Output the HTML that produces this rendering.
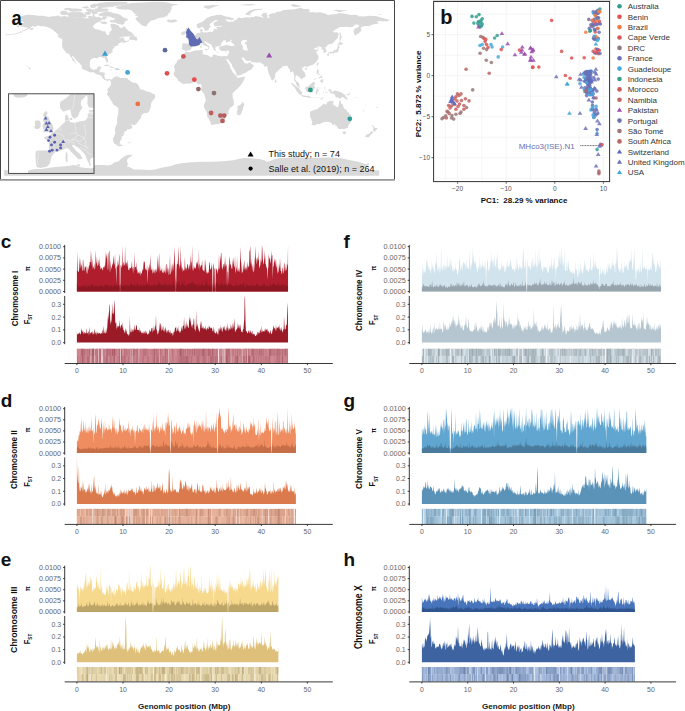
<!DOCTYPE html><html><head><meta charset="utf-8"><style>html,body{margin:0;padding:0;background:#fff;width:685px;height:711px;overflow:hidden}svg{display:block;font-family:"Liberation Sans",sans-serif}</style></head><body>
<svg width="685" height="711" viewBox="0 0 685 711">
<rect width="685" height="711" fill="#fff"/>
<clipPath id="mapclip"><rect x="1" y="1" width="393" height="178.5"/></clipPath>
<g clip-path="url(#mapclip)">
<path d="M16.4 20.4L18.1 19.8L20.2 19.4L21.2 19.9L23.1 19.5L21.0 18.9L19.1 17.9L18.0 17.6L20.2 17.0L21.8 16.2L22.9 15.5L25.9 15.0L28.2 14.5L30.6 14.9L32.9 14.9L35.0 15.3L37.9 15.7L40.5 15.8L42.6 15.8L44.7 16.3L46.8 16.4L48.8 17.0L50.9 16.5L52.5 16.3L54.1 16.2L56.7 15.9L58.2 15.3L59.8 16.4L61.9 16.5L64.0 16.1L66.6 16.5L69.2 16.9L71.8 17.1L73.9 17.6L77.0 17.9L79.1 17.3L81.1 17.0L83.2 17.9L85.8 18.2L89.0 18.2L91.0 17.8L92.1 16.9L93.1 13.9L94.7 14.5L94.2 16.4L95.7 16.4L97.3 17.4L98.9 16.6L100.1 17.6L102.0 18.2L103.0 16.2L105.6 16.3L106.9 17.1L106.2 18.5L104.6 19.7L102.0 19.5L100.4 21.6L97.8 22.2L95.2 23.7L93.7 25.2L92.8 26.8L93.4 27.6L95.2 29.2L97.3 29.4L99.9 30.1L102.5 31.2L105.8 31.4L105.9 33.6L106.7 34.4L107.7 35.2L109.0 35.0L109.5 34.1L109.3 32.3L110.8 31.0L111.7 29.9L111.8 28.6L110.8 27.3L110.8 25.8L110.3 24.2L112.4 23.7L115.0 24.0L117.1 25.0L118.7 25.2L119.2 26.8L119.7 27.5L121.3 28.1L122.8 27.5L124.2 26.0L124.9 26.8L126.0 28.4L127.2 29.6L128.0 30.4L129.1 31.3L131.2 32.0L132.2 32.9L133.6 34.5L132.2 35.1L130.1 36.4L126.0 36.5L122.3 36.7L120.7 37.4L119.2 38.8L117.6 39.9L118.7 39.3L120.7 38.2L122.8 37.6L124.4 37.7L124.6 38.4L123.6 38.9L124.1 39.8L124.9 40.7L127.0 41.1L128.6 40.0L129.1 40.9L128.0 41.6L125.4 42.3L123.1 43.4L122.6 42.4L124.4 41.6L122.0 42.1L120.7 42.5L119.2 43.2L118.5 43.4L117.9 44.3L118.7 45.3L117.6 45.6L116.1 45.9L114.5 46.5L114.5 47.5L113.6 48.3L112.9 48.8L112.5 49.8L112.1 50.2L112.8 51.5L112.9 52.1L111.9 52.6L110.5 53.4L109.3 54.1L107.7 55.1L106.9 56.3L106.8 57.5L107.6 59.1L108.2 60.9L107.8 62.5L107.1 62.6L106.5 61.7L105.4 60.1L105.3 58.8L104.4 57.6L103.0 57.9L101.5 57.1L99.9 57.0L98.3 57.3L98.4 58.6L97.3 58.5L95.7 58.0L93.9 57.9L92.6 58.4L91.0 59.3L90.2 60.7L90.1 62.2L89.8 63.8L89.7 65.4L90.2 66.9L91.0 68.5L92.1 69.3L93.1 69.8L94.7 69.5L96.3 69.4L97.1 68.5L97.4 67.1L98.3 66.6L100.8 66.4L101.2 67.4L100.4 69.0L99.7 70.0L99.6 71.8L100.4 72.3L102.0 72.2L104.1 72.6L104.9 73.2L104.6 74.7L104.4 76.8L104.6 77.5L105.6 78.9L106.7 79.6L108.2 79.1L109.8 79.0L110.9 79.7L110.4 81.3L109.9 80.4L108.8 79.5L108.3 81.0L107.7 81.2L106.7 80.5L105.2 80.3L104.4 79.8L103.0 78.6L102.2 78.2L102.3 77.2L100.9 75.8L100.3 75.3L98.9 74.8L96.4 74.3L94.7 73.0L93.1 71.9L91.0 72.4L89.0 71.8L86.9 70.9L85.3 70.1L83.8 69.7L82.4 68.7L81.6 67.5L81.9 66.4L81.4 65.3L80.2 64.0L79.1 62.8L77.6 61.4L76.5 59.9L75.4 59.1L74.6 58.1L73.6 56.5L72.0 55.7L72.2 57.0L73.2 58.6L74.1 59.6L74.7 61.2L76.1 63.3L77.1 64.8L76.7 64.2L75.4 63.3L74.8 62.2L73.6 61.0L72.5 60.4L71.9 59.6L72.6 58.9L71.2 57.5L70.4 56.5L69.6 54.9L69.2 54.0L68.1 53.4L65.9 52.9L65.7 51.8L64.6 50.7L64.0 49.7L63.4 49.2L62.6 47.6L62.0 46.7L62.3 45.0L61.9 43.5L62.4 40.9L62.2 39.3L61.7 38.4L63.4 38.5L62.9 37.2L61.3 36.7L59.3 35.9L58.2 34.6L56.7 33.6L55.6 32.0L54.1 31.0L52.5 29.4L50.4 28.2L48.8 27.8L47.3 27.1L45.2 26.6L43.1 26.3L41.0 26.2L38.9 25.4L37.4 25.7L35.8 26.5L33.5 27.1L33.7 25.8L32.7 26.1L31.1 27.0L30.1 28.2L28.5 29.0L26.4 30.1L24.4 30.9L22.3 31.5L20.2 32.0L21.8 31.3L23.3 30.6L25.9 29.2L27.5 28.2L28.0 27.6L26.4 27.5L24.4 27.6L22.8 26.5L21.2 26.4L19.7 25.8L19.5 24.9L18.6 24.4L19.7 23.4L20.2 22.9L23.8 22.6L24.0 21.9L22.3 21.6L20.2 21.6L18.1 21.5ZM115.5 7.0L118.7 6.0L122.8 4.9L127.0 3.7L132.2 3.1L137.4 2.8L143.7 2.5L149.9 2.0L157.2 1.7L163.5 2.0L168.7 2.8L170.8 3.6L174.9 3.9L178.6 3.9L176.0 4.9L173.4 5.4L171.8 6.5L171.3 8.0L172.3 8.8L170.2 9.6L171.8 10.6L169.7 11.2L170.8 12.2L168.2 13.3L168.7 14.5L166.6 15.3L168.2 15.9L165.5 16.6L162.9 17.4L160.3 17.8L157.7 18.2L155.7 19.5L153.6 20.1L151.5 20.5L149.9 21.5L149.2 22.6L147.8 23.7L147.0 25.2L145.9 26.5L144.2 26.1L142.6 25.4L141.1 24.7L140.0 23.7L139.0 22.6L137.8 21.9L136.9 20.5L135.9 19.5L135.5 18.5L136.4 17.6L138.5 17.1L138.2 16.4L135.9 15.9L134.8 15.1L137.4 14.6L134.3 13.8L133.8 12.7L132.7 11.7L131.2 10.3L128.6 9.6L125.4 9.4L121.8 9.6L119.7 9.2L117.1 8.4L115.5 7.5ZM110.9 79.7L112.4 79.0L112.9 77.9L114.0 77.3L115.5 76.8L116.6 76.0L117.3 76.3L117.5 77.3L118.7 76.7L120.2 77.9L122.8 77.8L124.4 78.2L126.5 77.8L127.5 78.5L128.6 79.9L130.1 80.5L131.2 81.7L133.2 82.7L135.3 82.8L136.9 83.6L137.9 84.4L138.5 85.7L139.5 87.0L139.5 88.3L140.0 88.8L141.1 89.8L142.6 89.5L145.2 90.7L147.8 91.7L150.4 91.9L152.5 93.7L154.6 94.2L155.3 96.6L154.9 98.2L153.0 100.3L151.5 102.3L151.0 104.4L150.8 107.0L150.1 109.1L149.1 111.2L147.8 112.7L145.2 113.1L143.1 113.8L141.1 115.9L141.0 118.0L139.7 119.5L138.5 121.1L136.9 123.2L135.9 124.2L134.4 125.2L132.7 125.1L130.7 124.3L131.7 125.8L132.5 126.7L131.6 128.6L129.6 129.2L127.0 129.4L126.7 131.0L124.4 131.5L123.9 132.6L125.1 133.1L123.9 133.6L123.3 135.7L121.3 136.7L121.8 138.8L120.2 140.9L119.7 142.5L120.3 143.3L118.7 143.7L117.1 144.9L115.0 144.0L113.8 143.0L112.9 139.9L112.9 137.8L114.0 137.3L114.5 135.2L115.5 132.6L114.8 130.5L115.0 127.9L116.1 125.8L117.1 123.2L117.1 120.1L117.3 116.9L118.1 114.8L118.3 111.7L118.3 108.1L117.1 107.0L115.5 105.9L112.9 103.9L111.9 101.8L110.3 99.2L108.8 96.6L107.2 95.1L106.9 93.5L107.9 92.3L108.2 91.4L107.2 89.8L108.2 88.3L109.3 87.2L109.8 86.2L110.8 85.2L111.1 83.1L110.8 81.5L110.4 81.3ZM185.5 51.5L189.5 52.2L191.6 51.5L194.7 50.5L199.4 50.2L202.0 49.9L203.1 50.4L202.5 51.3L203.1 52.1L202.1 53.1L203.3 54.2L204.6 54.6L207.4 55.1L209.8 56.5L211.4 57.2L212.4 56.5L212.5 55.2L214.0 54.5L216.1 54.9L217.7 55.7L219.7 56.1L221.8 56.6L223.9 56.0L225.3 56.2L227.2 56.2L228.0 58.1L227.3 59.8L226.0 59.1L225.5 57.6L225.7 59.1L227.0 61.0L228.6 63.8L230.0 65.9L230.5 68.5L231.7 70.0L232.8 72.6L234.3 73.7L235.9 75.5L236.7 76.0L236.4 76.8L238.0 78.0L240.1 77.5L242.7 77.0L245.0 76.4L244.7 78.0L244.2 79.4L243.2 81.5L241.6 84.1L239.5 86.7L236.9 89.3L234.8 90.9L233.3 92.4L232.4 94.0L232.6 96.1L232.8 98.2L233.6 99.7L233.8 101.8L233.9 104.4L232.8 106.0L230.7 107.3L228.6 110.2L228.4 112.2L228.6 113.8L226.0 115.4L225.8 116.9L225.3 118.8L223.9 120.1L222.9 121.4L220.8 123.2L218.7 124.0L217.1 124.3L215.0 124.2L212.4 125.1L210.9 124.5L210.7 123.2L210.1 121.6L208.8 118.6L207.4 116.9L206.7 112.8L206.5 111.7L205.1 109.6L203.9 107.0L203.9 105.0L204.6 102.9L205.9 100.8L205.4 98.2L204.4 95.1L204.1 94.0L203.1 92.4L201.5 90.9L201.0 89.3L201.5 87.8L201.8 85.7L200.8 84.1L198.9 84.2L197.9 84.3L196.8 83.1L196.3 82.2L194.2 82.2L192.6 82.7L190.6 83.6L189.0 83.8L187.4 83.4L185.9 83.6L183.8 84.2L182.2 83.6L180.1 82.0L178.6 81.0L177.8 79.9L177.5 78.9L176.3 77.7L175.4 76.8L174.2 75.8L174.1 74.7L173.4 73.5L174.4 72.1L174.7 70.0L174.6 68.5L173.9 66.9L174.4 65.4L175.1 64.0L176.5 62.8L177.0 61.2L178.1 59.8L180.1 59.1L181.4 58.1L181.5 56.5L182.7 54.4L184.5 53.4ZM185.8 51.3L185.0 50.5L183.8 50.0L182.3 50.2L182.4 48.7L181.7 48.4L182.3 46.6L182.4 45.0L181.9 44.0L183.3 43.3L185.9 43.5L188.5 43.6L190.0 43.6L190.3 42.4L190.3 40.9L189.3 39.7L186.9 38.9L186.7 38.3L188.5 38.0L190.0 38.1L190.1 37.0L191.8 37.2L193.2 36.5L194.2 35.6L195.6 35.0L196.3 34.1L196.8 33.3L198.9 32.9L200.5 32.7L200.7 31.5L200.0 29.9L200.6 29.3L202.5 28.8L202.3 29.9L202.9 30.4L202.0 31.5L203.1 32.5L205.1 32.2L206.7 32.6L208.8 32.0L210.9 31.7L211.9 32.1L213.5 31.0L213.7 29.9L214.0 28.9L215.0 28.7L216.1 29.4L216.9 29.1L216.9 28.1L216.1 27.6L216.1 27.0L218.2 26.7L220.8 26.8L222.3 26.3L221.3 25.8L219.2 25.9L215.6 26.3L214.0 25.6L213.9 24.2L213.5 23.2L215.0 22.1L217.1 21.2L218.2 20.8L216.8 20.2L215.0 20.2L214.0 20.8L213.5 21.6L211.9 22.6L210.4 23.4L209.6 24.7L209.5 25.8L211.2 26.3L210.9 27.0L209.1 27.8L208.8 29.1L208.3 30.2L206.7 30.4L205.1 31.1L204.6 29.9L203.9 28.7L203.3 27.4L202.5 26.8L201.5 27.3L199.9 28.3L198.4 28.3L197.4 27.5L196.8 26.3L196.8 25.2L196.8 24.2L198.4 23.5L200.5 22.6L202.0 22.1L203.6 21.1L204.6 20.0L206.2 18.5L207.8 17.4L209.3 16.9L211.4 16.0L214.0 15.7L216.1 15.1L218.5 14.7L220.8 14.8L222.9 15.5L223.9 16.1L226.0 16.5L229.1 16.9L232.2 17.9L234.3 18.7L233.3 19.8L231.2 20.0L227.9 19.5L226.0 19.2L225.5 19.8L227.5 21.6L229.6 22.1L230.7 21.6L232.8 21.6L233.8 21.4L234.8 20.0L237.4 19.5L237.4 17.9L239.5 17.6L241.6 18.3L244.7 17.6L247.3 17.2L249.4 17.5L252.0 17.1L254.1 16.9L255.2 16.1L258.3 16.6L260.9 17.1L263.0 17.7L263.5 16.9L261.4 15.9L261.4 14.8L263.5 12.9L265.1 12.7L267.1 13.3L266.6 14.8L267.5 15.3L267.1 16.9L268.7 18.2L269.8 17.4L269.0 16.4L268.2 15.3L269.2 14.8L270.3 13.8L272.4 13.3L275.5 13.3L275.5 12.2L278.1 11.7L281.7 11.2L282.3 10.3L285.4 10.0L288.5 9.6L292.7 9.6L295.8 9.1L297.9 8.4L300.5 7.8L302.1 8.3L303.6 9.1L307.3 8.9L309.9 9.8L309.3 11.7L308.3 12.0L309.9 12.3L312.5 12.1L315.6 12.6L320.3 12.2L323.4 13.3L325.5 13.5L326.5 14.6L328.6 15.0L330.7 14.4L333.3 14.2L336.4 14.3L337.5 13.3L341.1 13.2L343.7 13.5L347.9 14.3L350.5 14.9L354.2 14.8L357.3 15.0L358.8 16.4L361.4 16.2L364.6 16.4L367.2 15.9L369.3 15.8L371.9 16.1L375.0 16.1L377.6 16.6L379.7 17.0L382.3 17.9L385.4 18.7L387.5 19.2L389.9 20.0L388.5 20.8L386.5 21.6L384.9 21.2L382.8 21.6L381.2 20.8L379.7 21.1L378.1 21.6L376.6 21.4L377.6 22.6L378.4 23.9L376.0 23.7L372.9 24.4L370.8 25.2L369.1 26.3L365.1 26.0L362.5 26.5L361.4 27.3L360.4 28.4L361.4 28.9L361.4 30.2L360.4 31.7L358.3 33.6L356.8 34.6L354.9 35.7L354.2 34.1L353.6 31.5L353.9 29.4L355.2 28.6L357.3 27.8L359.4 26.3L358.3 24.7L355.2 24.5L352.6 26.8L350.0 27.3L346.9 26.7L343.7 26.9L340.6 27.0L338.5 27.8L336.4 28.9L334.9 29.9L332.8 31.5L334.4 32.5L337.0 32.3L338.8 33.4L338.5 34.6L338.0 36.7L337.8 38.3L335.9 39.8L334.4 41.4L332.3 43.5L330.2 44.3L328.1 44.4L326.7 46.1L326.5 47.1L324.5 47.6L325.5 48.7L326.4 50.2L326.4 51.8L325.5 52.3L323.4 53.0L323.2 51.8L323.7 50.4L323.1 49.5L321.9 49.4L321.5 48.7L322.1 47.6L321.1 47.2L319.2 46.6L318.2 46.1L317.7 46.8L319.0 48.2L317.9 48.4L316.8 47.1L315.6 48.0L314.6 48.0L314.2 48.7L315.1 49.7L316.1 50.0L317.5 49.4L319.2 49.9L317.7 50.8L316.6 51.6L315.9 52.3L317.0 53.2L317.6 54.9L318.6 56.0L318.2 56.7L318.7 57.5L318.2 59.1L317.2 60.4L316.3 61.7L315.6 62.8L314.0 64.1L312.5 65.0L310.6 65.6L309.3 65.9L307.8 66.4L306.7 67.6L306.0 66.4L304.7 66.3L303.6 66.9L302.8 67.4L301.8 69.0L302.6 70.0L303.6 71.6L305.0 73.0L305.5 75.3L305.4 76.8L304.1 77.5L302.6 78.2L301.0 79.8L300.8 78.6L300.5 77.9L298.9 77.3L298.4 76.1L296.8 75.6L295.8 74.8L295.8 76.3L295.3 77.9L295.0 79.2L296.1 80.3L296.3 81.5L297.4 81.7L298.4 82.5L299.3 84.1L299.4 86.2L300.3 87.3L299.4 87.4L298.4 86.7L297.2 85.9L296.3 84.6L296.1 83.1L295.5 82.0L294.2 80.5L294.0 78.9L294.3 77.3L294.2 75.8L293.7 73.7L293.2 71.6L292.2 71.4L291.1 72.3L289.9 72.1L290.1 70.6L289.5 69.0L288.5 68.0L287.8 67.2L287.5 65.9L286.9 65.4L285.9 65.9L284.3 66.1L282.3 66.4L282.0 67.4L280.2 68.7L279.1 69.8L277.4 71.5L276.0 72.6L275.2 74.4L275.3 76.3L274.8 78.1L273.9 79.2L272.9 79.9L272.4 80.4L271.3 79.4L270.8 77.9L270.3 76.5L269.5 75.3L268.7 73.2L268.1 71.6L267.5 69.0L267.5 66.9L267.1 65.7L265.1 67.1L263.5 65.4L264.5 65.0L263.0 64.3L261.9 63.8L260.9 62.4L258.8 62.5L255.7 62.6L253.6 62.2L251.3 61.9L250.8 60.6L250.0 60.7L248.4 61.1L246.8 60.7L245.3 59.7L244.2 58.4L243.2 57.5L242.1 57.5L241.6 58.1L242.1 59.1L243.2 60.7L243.9 61.5L244.2 62.8L245.1 63.5L245.4 62.1L245.7 63.8L246.3 63.6L247.9 63.6L249.4 62.2L250.3 61.5L250.4 62.9L251.2 63.9L252.6 64.2L253.9 65.4L253.5 66.5L252.6 67.4L251.8 69.0L250.5 70.0L249.1 70.6L247.3 71.5L246.0 72.5L244.2 73.2L242.3 74.2L240.6 74.9L238.5 75.5L236.9 75.6L236.2 73.7L236.1 72.4L235.2 71.1L234.1 69.0L232.8 67.4L232.2 65.9L231.7 64.3L230.7 63.0L229.6 61.7L228.6 60.1L227.9 59.1L228.0 58.1L227.2 56.2L228.1 54.6L228.6 53.4L229.1 51.8L228.9 50.6L227.5 50.5L225.5 51.2L223.4 51.0L220.8 50.7L220.0 49.7L219.2 48.7L219.2 47.6L218.9 46.9L220.3 46.6L221.8 45.9L220.8 45.6L218.7 46.3L217.7 46.2L216.3 46.8L215.4 46.6L215.6 47.8L215.0 48.9L216.1 49.2L215.7 49.9L215.0 50.9L214.2 50.5L213.6 49.2L213.2 48.2L212.3 47.1L211.8 46.1L211.9 45.0L210.9 44.5L209.3 43.8L208.1 43.0L206.2 41.9L205.8 41.4L204.4 41.5L204.4 42.3L205.7 43.4L206.7 44.7L208.3 45.6L209.8 46.4L210.9 47.0L210.7 47.3L209.3 46.6L208.8 47.6L209.4 48.3L208.9 49.2L208.0 49.2L208.4 48.2L207.9 47.1L207.0 46.5L206.2 46.3L204.6 45.6L203.1 44.5L202.5 43.5L201.0 42.6L199.4 43.2L197.9 43.9L196.3 43.5L194.9 43.8L194.8 45.0L193.7 45.8L192.3 46.4L191.6 47.6L191.3 48.7L190.8 49.6L189.5 50.6L186.9 50.6ZM4.0 170.1L14.5 170.4L24.9 170.6L27.0 169.6L35.3 168.5L40.5 167.5L45.7 166.9L50.9 166.4L56.1 166.2L61.3 165.9L66.6 165.9L71.8 166.4L77.0 166.4L82.2 166.7L87.4 165.7L92.6 165.4L97.8 164.9L103.0 165.1L108.2 165.4L112.4 164.3L113.4 162.8L118.7 161.2L120.7 159.1L122.8 157.6L124.9 156.0L127.0 155.0L132.2 154.8L131.7 156.0L129.1 157.6L127.0 159.7L127.0 161.7L128.0 163.8L127.0 166.4L129.1 166.9L134.3 169.6L139.5 169.6L149.9 170.1L155.1 169.6L160.3 168.0L165.5 166.9L170.8 165.9L176.0 164.3L181.2 163.3L186.4 162.8L191.6 162.3L202.0 161.7L212.4 161.7L222.9 161.2L228.1 160.7L233.3 160.2L238.5 159.1L243.7 158.1L248.9 158.1L254.1 158.6L259.3 159.1L264.5 160.2L266.6 161.7L269.8 161.2L275.0 159.1L280.2 158.1L285.4 158.1L290.6 157.6L295.8 157.1L301.0 157.6L306.2 157.6L311.4 158.1L316.6 158.1L321.9 157.6L327.1 157.6L332.3 157.6L337.5 158.1L342.7 158.6L347.9 159.7L353.1 160.7L358.3 161.7L361.4 162.8L365.6 164.3L368.7 163.3L369.8 164.3L366.7 165.9L363.5 168.0L363.5 170.1L368.7 170.3L379.2 170.6L379.2 175.8L4.0 175.8ZM103.1 66.0L105.1 64.9L107.2 64.6L108.8 65.3L110.8 66.2L112.7 66.9L114.3 67.6L112.9 68.1L110.8 68.1L110.8 67.2L109.3 66.3L106.7 65.9L105.1 65.9L103.6 66.1ZM114.0 69.6L115.7 68.1L117.6 68.1L119.2 68.7L120.4 69.4L119.2 69.7L117.1 70.4L116.1 69.8L114.2 69.8ZM110.0 69.6L112.2 70.0L111.6 70.4L110.1 69.9ZM121.6 69.5L123.2 69.6L123.2 70.0L121.6 70.0ZM110.1 62.5L110.7 63.2L110.5 63.8L109.9 63.3ZM110.5 60.8L111.4 61.1L110.9 61.5L110.3 61.2ZM120.1 143.6L118.7 144.2L116.6 145.1L117.6 145.9L120.2 146.3L122.3 146.1L123.7 145.8L121.3 145.1ZM127.7 142.4L130.1 142.4L131.5 142.6L130.4 143.3L128.6 143.2ZM243.0 101.3L243.9 103.9L244.2 105.0L243.5 106.5L242.7 109.6L241.6 112.2L240.8 114.6L239.0 115.4L237.4 114.8L236.7 111.7L237.8 109.6L237.4 107.0L238.0 105.7L240.1 105.0L241.1 103.9L242.1 102.9ZM185.7 36.6L188.0 36.4L190.6 36.0L193.1 35.4L193.4 33.9L191.9 33.2L191.4 32.3L190.0 31.3L189.5 30.6L188.5 30.4L189.0 29.9L189.7 28.8L188.0 28.7L187.4 27.7L186.4 27.7L185.8 28.9L185.3 29.9L185.9 31.0L186.6 31.7L188.2 31.6L188.1 32.3L188.5 33.2L186.9 33.2L187.2 33.8L186.6 34.6L186.1 34.9L187.2 35.2L188.5 35.1L187.2 35.4ZM185.3 34.4L185.1 33.3L185.3 32.5L185.9 32.0L185.0 31.3L184.0 31.2L182.7 31.7L182.6 32.3L181.2 32.3L181.3 33.1L182.0 34.0L180.9 34.7L181.7 35.1L183.3 34.8L185.0 34.4ZM168.7 22.2L166.6 21.3L168.7 20.9L166.3 20.4L168.2 19.6L170.8 19.9L172.8 19.8L174.9 19.5L176.5 20.0L177.4 21.0L176.1 21.8L173.9 22.3L171.8 22.7L169.7 22.3ZM203.1 7.0L205.7 5.6L209.3 5.4L212.4 4.9L215.6 5.2L219.7 5.3L216.6 6.2L213.5 7.0L211.4 8.0L208.8 9.0L206.7 8.4L204.6 7.5ZM245.3 14.3L246.8 12.7L248.9 11.2L251.0 10.1L254.1 9.3L257.8 9.0L263.0 8.6L260.9 9.8L255.2 10.6L251.5 12.2L251.0 13.3L249.4 14.8L252.0 15.2L250.0 15.2L246.8 14.9ZM290.6 4.9L292.7 4.2L295.8 4.4L300.5 5.9L300.8 6.7L296.8 6.7L294.8 7.0L292.7 6.5ZM239.5 4.9L243.7 4.5L252.0 3.9L256.2 4.7L248.9 5.4L241.6 5.3ZM333.3 10.6L336.4 9.5L338.5 10.0L343.7 10.2L347.9 10.6L344.8 10.9L339.6 11.9L336.4 11.2ZM377.6 14.8L379.2 14.3L381.8 14.5L380.2 14.9ZM339.6 40.9L341.1 40.3L340.6 37.7L342.2 37.7L341.1 35.7L340.6 33.1L340.1 32.2L339.4 33.1L339.8 35.1L339.6 37.7L339.5 39.3ZM337.5 45.6L338.7 45.2L339.3 44.4L340.9 45.0L343.2 43.8L342.9 43.0L341.6 42.7L339.6 41.4L339.0 42.4L338.8 43.8L338.0 44.0L337.3 44.5ZM339.0 45.7L339.6 47.6L338.5 49.0L338.5 50.8L338.3 51.6L337.5 52.3L336.2 52.6L334.4 52.7L333.3 53.9L332.3 52.7L330.2 53.1L328.1 53.4L328.1 52.6L329.7 51.9L331.7 51.7L333.3 51.3L334.4 50.2L335.9 49.7L337.3 48.7L337.5 47.1L337.8 45.9ZM327.1 53.9L328.1 53.5L329.1 54.4L328.6 56.0L327.6 56.5L327.3 54.9ZM329.7 54.4L330.7 53.2L331.7 53.2L332.0 53.6L330.7 54.1L330.2 54.7ZM316.7 64.8L317.5 65.9L318.2 64.8L318.7 62.8L317.7 62.6L316.8 63.8ZM304.9 68.8L305.7 67.9L306.7 67.9L307.3 68.5L306.2 69.7L305.2 69.5ZM274.9 82.0L275.0 80.5L275.0 78.9L276.0 79.9L276.8 81.5L276.0 82.5L275.3 82.7ZM204.5 49.1L205.7 49.0L207.9 48.9L207.3 50.2L206.5 50.5L204.6 49.6ZM200.1 46.2L201.2 45.9L201.7 46.9L201.5 48.0L200.6 48.3L200.4 47.3ZM200.6 44.4L201.4 44.0L201.5 45.1L201.2 45.7L200.7 45.2ZM216.1 52.0L217.1 51.8L219.0 52.1L218.2 52.4L216.6 52.3ZM225.3 52.3L226.5 51.9L227.7 51.6L227.0 52.3L226.0 52.7ZM316.6 72.1L317.2 69.5L318.2 69.5L319.0 71.1L318.7 72.1L318.3 73.7L319.2 74.0L320.8 75.3L320.3 75.6L318.7 74.7L317.7 74.4L317.2 73.7L316.6 73.2ZM318.7 81.5L320.3 80.7L320.8 79.9L322.4 78.9L323.4 80.5L323.1 82.0L322.4 82.8L321.1 82.3L319.8 81.0ZM318.7 76.5L319.8 77.3L320.8 78.1L322.4 77.3L321.9 75.8L320.8 76.0L319.8 78.4L319.2 78.9ZM313.7 79.9L316.1 77.5L316.4 78.1L314.3 80.2ZM305.2 87.2L305.8 86.7L307.3 87.0L307.8 86.1L309.3 85.5L310.4 84.1L312.0 83.3L313.3 81.6L314.2 82.5L315.6 83.6L315.1 84.1L314.2 84.6L314.5 86.7L315.6 87.8L314.6 88.3L314.0 89.3L313.1 90.4L313.0 92.1L312.0 92.8L310.9 92.4L309.3 92.1L307.8 91.9L306.4 91.8L306.2 90.4L305.2 88.8L305.2 87.8ZM290.9 83.0L293.2 83.4L294.2 84.6L295.8 86.2L297.4 87.0L298.9 88.3L299.8 89.8L300.5 90.9L302.1 91.9L302.1 93.5L301.8 94.8L300.5 94.9L298.9 93.8L297.4 91.9L296.3 90.4L295.3 88.8L294.4 87.0L293.2 86.2L292.2 84.8L290.8 83.6ZM301.2 95.9L302.1 94.9L304.1 95.4L306.2 96.0L307.8 95.7L309.3 96.0L310.9 96.9L310.8 97.9L308.3 97.4L306.2 97.2L304.1 96.9L302.6 96.5L301.5 96.0ZM310.9 97.2L312.2 97.6L311.6 98.0ZM312.5 97.6L315.6 97.4L315.6 98.0L312.5 98.1ZM316.4 97.7L319.8 97.4L319.8 98.0L316.6 98.0ZM320.8 98.5L322.4 97.7L324.2 97.6L322.9 98.4L321.3 99.4L320.3 99.5ZM316.1 94.5L317.2 94.6L317.1 92.4L317.7 91.6L318.7 91.9L319.8 93.2L319.0 94.4L320.0 94.3L319.6 93.5L318.7 92.4L318.2 90.9L319.8 89.8L318.7 89.6L317.7 90.2L317.2 88.3L318.2 88.3L320.8 88.3L322.1 87.2L321.3 87.8L318.7 87.8L317.2 87.5L316.4 88.8L316.1 90.4L315.6 92.4ZM324.5 87.2L325.5 86.7L325.0 88.3L325.7 89.3L324.7 89.5ZM322.9 92.1L324.1 92.0L324.1 92.8L323.0 92.7ZM325.0 91.8L327.9 91.9L327.6 92.6L325.2 92.4ZM328.1 89.8L329.7 89.2L331.2 89.7L332.3 92.2L334.4 90.4L336.4 90.9L338.5 91.5L340.6 92.2L342.2 92.9L343.5 94.0L345.3 95.1L345.6 96.6L346.9 97.7L348.4 99.7L347.4 99.6L345.8 99.2L344.3 98.0L342.2 96.7L341.1 98.2L340.1 98.5L338.5 98.3L337.5 97.3L335.9 97.4L335.4 96.6L334.9 94.5L332.3 93.4L330.7 93.0L329.7 91.9L329.1 91.7L330.2 91.2L329.1 90.7L328.1 90.4ZM346.3 94.5L347.9 94.0L349.5 93.2L350.4 93.5L348.9 95.3L346.9 95.3ZM348.7 91.5L350.5 92.6L351.0 93.6L350.0 92.6ZM353.6 95.3L354.2 95.7L353.9 96.1ZM355.2 97.1L357.3 97.3L356.2 97.8ZM357.8 98.5L359.2 98.7L358.3 99.1ZM309.9 111.7L310.5 111.5L313.2 110.3L315.6 109.6L317.7 109.1L318.9 107.6L320.3 106.7L321.9 105.5L323.4 103.4L325.0 104.4L326.5 104.3L327.1 102.3L328.1 101.5L329.7 101.3L330.2 100.8L332.8 101.3L334.0 101.5L333.3 102.9L332.8 104.2L334.4 105.3L336.6 107.0L338.0 107.0L339.0 104.4L339.1 101.8L340.1 99.9L340.9 101.8L341.1 103.4L343.0 104.4L343.2 106.0L344.0 108.4L346.5 109.8L347.4 112.0L348.7 112.6L349.2 113.8L351.2 115.4L351.7 118.6L351.0 121.1L350.5 122.7L349.3 124.0L348.1 126.1L347.9 127.9L345.8 128.2L343.7 129.5L342.2 128.6L340.6 129.2L338.5 128.8L337.3 127.7L337.0 126.1L335.5 125.9L335.9 125.0L335.4 124.4L335.0 125.4L334.1 125.5L334.9 124.2L335.2 123.2L333.3 125.1L332.5 125.0L331.4 123.0L329.1 122.1L327.1 121.7L325.0 122.1L322.9 122.5L320.8 123.2L320.3 124.2L317.7 124.1L315.6 124.7L314.3 125.4L312.5 125.1L311.4 124.5L312.2 123.5L312.2 121.6L311.4 120.1L311.0 118.5L309.9 116.4L310.2 114.8L309.9 113.3ZM342.3 131.2L344.3 131.6L346.1 131.4L346.0 133.1L345.1 133.9L343.7 134.2L342.9 132.9ZM371.6 124.7L373.2 125.6L374.5 127.4L375.0 128.0L377.6 128.1L377.0 129.5L376.0 129.8L375.0 131.8L373.9 132.0L373.5 130.8L372.7 129.6L373.5 128.4L373.2 127.1L371.9 125.6ZM371.6 131.0L373.2 132.0L372.7 133.1L371.7 134.1L370.1 135.2L369.6 136.5L368.2 137.4L367.0 137.3L365.1 136.7L365.4 135.7L367.0 134.6L369.3 133.6L370.3 132.4L370.9 131.4ZM362.5 109.8L365.6 111.9L365.4 112.2L362.3 110.3ZM376.3 107.0L377.7 106.8L377.6 107.8L376.5 107.7ZM365.1 104.4L365.8 104.7L365.6 105.5ZM220.8 45.6L221.3 43.5L222.3 41.9L223.4 40.6L224.9 40.3L226.5 40.9L225.5 41.6L226.5 42.4L228.1 42.1L229.6 41.6L231.2 39.8L232.6 39.6L231.2 40.9L230.7 41.9L231.7 42.6L233.3 43.6L234.8 45.5L233.3 46.1L231.2 46.1L229.1 45.5L227.0 45.0L224.9 45.2L222.9 45.9L221.8 45.9ZM241.1 41.4L242.7 40.3L244.7 39.8L246.8 40.1L247.0 41.6L245.1 42.3L244.7 43.5L246.3 44.5L246.8 45.6L246.8 47.1L247.3 48.2L247.9 49.7L247.3 50.4L245.3 50.5L243.7 49.8L242.7 49.2L242.7 47.6L243.2 46.8L242.1 45.3L241.1 44.0L241.1 42.4Z" fill="#d9d9d9" fill-rule="evenodd"/>
<path d="M107.7 12.0L111.4 12.9L114.0 13.8L117.1 14.3L119.7 15.3L121.3 16.4L121.8 17.2L124.4 18.2L126.5 19.2L127.5 19.6L126.0 20.5L124.4 21.1L123.9 22.1L124.1 22.9L123.3 23.7L122.3 24.2L120.2 23.6L118.1 23.4L116.6 22.6L114.0 21.7L111.9 21.9L110.3 21.6L110.8 20.7L114.5 20.5L115.0 19.5L116.1 18.5L114.5 17.6L111.9 17.1L110.3 16.1L108.2 15.9L106.2 15.9L104.1 15.5L100.9 15.7L98.9 14.8L99.9 14.1L102.5 13.3L104.1 12.5L106.7 12.0ZM67.6 14.3L69.2 13.0L72.8 12.5L75.9 12.9L80.1 12.2L82.2 13.3L85.3 15.0L86.4 16.3L83.8 17.1L80.6 16.9L77.5 17.1L73.9 17.3L70.2 16.7L68.6 16.0L69.2 15.2ZM61.3 13.9L64.5 14.6L66.6 14.2L67.1 12.9L66.8 11.7L65.0 11.2L61.9 11.4L60.5 12.5ZM69.7 10.1L72.8 9.1L77.0 9.0L81.7 9.7L80.6 10.6L77.0 10.9L73.9 11.2L69.7 10.6ZM64.5 9.1L68.6 8.3L71.2 8.7L68.6 9.6ZM85.3 12.9L88.4 11.9L90.5 12.2L90.0 13.8L88.4 14.5L85.8 13.8ZM92.1 11.7L96.8 11.7L97.3 12.9L94.2 13.8L92.1 12.9ZM86.4 10.1L89.5 9.1L91.0 9.8L94.2 10.1L92.6 11.1L89.0 10.9ZM95.2 9.1L98.9 9.0L104.1 9.1L108.2 9.4L106.7 10.6L103.0 11.1L99.4 11.2L96.3 11.0L95.2 10.1ZM97.8 8.6L100.9 8.0L103.0 7.1L108.2 6.8L112.4 6.5L114.5 5.5L117.6 5.2L121.3 4.6L124.9 3.8L127.0 3.1L126.0 2.6L120.7 2.2L115.5 2.3L108.2 2.5L103.0 3.0L97.8 3.9L95.2 4.9L98.9 5.6L99.9 6.5L97.8 7.2L98.3 8.0ZM91.6 7.5L94.7 7.2L96.3 6.0L96.8 5.0L94.7 4.1L92.1 4.7L90.5 5.8L91.0 6.9ZM82.7 7.5L86.4 6.7L88.4 7.2L86.4 7.9ZM101.5 22.1L104.6 22.1L106.7 22.8L105.1 23.7L102.5 23.2L100.9 22.6ZM89.0 16.4L91.0 16.4L91.6 17.4L89.5 17.7L88.4 17.1ZM129.7 39.2L133.2 39.2L136.4 40.1L136.8 39.3L135.9 38.8L136.4 37.4L133.8 36.9L133.2 35.1L133.8 35.0L132.2 35.7L130.6 37.2L129.8 38.3ZM57.9 35.9L61.3 36.4L63.1 38.4L61.7 38.2L59.3 36.9ZM30.4 29.5L32.9 29.0L32.7 28.3L31.1 28.5ZM12.6 22.3L15.8 22.8L15.0 23.2L12.9 22.8ZM17.8 25.8L19.1 26.1L18.6 26.5L17.3 26.2Z" fill="#d9d9d9" stroke="#d9d9d9" stroke-width="1.1" stroke-linejoin="round"/>
<circle cx="29.6" cy="68.4" r="0.90" fill="#d9d9d9"/>
<circle cx="28.6" cy="67.1" r="0.50" fill="#d9d9d9"/>
<circle cx="27.1" cy="66.5" r="0.45" fill="#d9d9d9"/>
<circle cx="25.4" cy="65.8" r="0.40" fill="#d9d9d9"/>
<ellipse cx="6.1" cy="34.8" rx="1" ry="0.5" fill="#d9d9d9"/>
<ellipse cx="8.2" cy="34.8" rx="1" ry="0.5" fill="#d9d9d9"/>
<ellipse cx="10.3" cy="34.5" rx="1" ry="0.5" fill="#d9d9d9"/>
<ellipse cx="12.4" cy="34.3" rx="1" ry="0.5" fill="#d9d9d9"/>
<ellipse cx="14.5" cy="33.9" rx="1" ry="0.5" fill="#d9d9d9"/>
<ellipse cx="16.5" cy="33.4" rx="1" ry="0.5" fill="#d9d9d9"/>
<ellipse cx="18.1" cy="32.9" rx="1" ry="0.5" fill="#d9d9d9"/>
<ellipse cx="19.7" cy="32.4" rx="1" ry="0.5" fill="#d9d9d9"/>
<ellipse cx="20.7" cy="32.0" rx="1" ry="0.5" fill="#d9d9d9"/>
</g>
<path d="M0.5 179.8V0.5H394.5V179.8" fill="none" stroke="#444" stroke-width="1"/>
<path d="M0 179.8H395" fill="none" stroke="#999" stroke-width="1.8"/>
<path d="M188.4 27.6L190.8 31.1L193.7 34.0L194.9 36.4L196.6 39.3L198.1 39.3L199.5 36.9L202.4 42.5L200.1 43.4L199.5 45.1L195.4 46.3L190.8 46.6L189.0 44.5L188.7 40.4L188.1 38.1L186.1 37.5L186.4 34.6L185.8 32.3L187.0 29.9Z" fill="#5f6bb5"/>
<path d="M105.0 50.6L108.0 55.7L102.0 55.7Z" fill="#3d9bd3"/>
<circle cx="127.6" cy="72.4" r="2.4" fill="#3fa6dc"/>
<circle cx="165.0" cy="50.2" r="2.4" fill="#5f6a9e"/>
<circle cx="183.4" cy="56.4" r="2.4" fill="#cc5454"/>
<circle cx="167.0" cy="73.3" r="2.4" fill="#de5050"/>
<circle cx="194.3" cy="79.6" r="2.4" fill="#e84b4b"/>
<circle cx="198.4" cy="89.1" r="2.4" fill="#8f6b6b"/>
<circle cx="214.0" cy="93.1" r="2.4" fill="#8c7474"/>
<circle cx="137.8" cy="103.9" r="2.4" fill="#ee7042"/>
<path d="M269.2 52.4L272.2 57.5L266.2 57.5Z" fill="#9a4cad"/>
<circle cx="310.4" cy="89.9" r="2.4" fill="#2e9a8a"/>
<circle cx="349.8" cy="118.8" r="2.4" fill="#2aa198"/>
<circle cx="211.1" cy="113.0" r="2.4" fill="#c25f5f"/>
<circle cx="220.4" cy="115.6" r="2.4" fill="#b85d5d"/>
<circle cx="224.2" cy="115.6" r="2.4" fill="#b85d5d"/>
<circle cx="222.5" cy="120.9" r="2.4" fill="#b85d5d"/>
<text transform="translate(11.6 25.2) scale(0.9 1.02)" font-family="Liberation Sans, sans-serif" font-weight="bold" font-size="20.5px" fill="#111">a</text>
<rect x="8.6" y="93.8" width="85.4" height="79.6" fill="#fff"/>
<clipPath id="insclip"><rect x="8.6" y="93.8" width="85.4" height="79.6"/></clipPath>
<g clip-path="url(#insclip)">
<path d="M13.5 93.0L28.0 93.0L27.0 96.0L23.0 97.5L17.0 97.8L14.0 96.5ZM35.0 121.0L37.5 120.3L40.0 121.0L40.8 123.5L40.5 127.0L38.5 129.0L35.5 129.0L34.3 127.5L35.0 125.0ZM43.5 113.5L45.5 111.3L47.2 111.5L47.5 113.5L46.5 116.0L48.5 117.0L49.5 120.0L51.5 123.0L53.0 126.0L53.5 128.5L53.0 131.4L49.0 132.0L45.5 132.3L42.5 132.3L44.0 130.5L43.0 128.5L42.5 125.0L44.0 123.0L43.0 120.0L44.2 117.0L43.0 115.5ZM71.4 93.0L66.7 97.7L60.3 101.8L60.0 105.0L60.3 108.2L63.2 111.7L66.0 110.8L68.4 110.0L70.2 109.4L71.0 113.0L71.9 116.4L74.3 118.7L77.8 116.4L79.5 112.3L82.4 107.6L80.7 104.7L81.3 100.6L84.2 97.7L86.2 95.5L87.2 95.3L87.7 98.8L87.3 103.0L88.3 106.0L88.9 107.6L92.0 107.8L95.0 108.2L95.0 93.0ZM69.5 118.3L72.0 117.8L72.6 119.8L70.0 120.5ZM88.8 110.3L92.0 109.8L95.0 110.0L95.0 112.5L89.0 112.5ZM43.8 137.7L45.5 136.5L48.4 136.0L50.5 134.5L52.5 133.0L54.3 131.4L56.5 129.8L58.9 127.5L60.8 125.7L62.8 124.0L64.9 122.2L65.0 118.0L65.5 115.0L67.0 114.6L68.0 116.0L68.8 119.5L70.0 122.0L72.0 122.6L74.3 122.8L77.0 122.2L79.5 121.6L82.5 121.0L85.4 120.4L87.7 117.5L87.7 113.5L89.0 113.3L92.0 113.2L95.0 113.2L95.0 157.2L92.5 157.5L90.5 159.0L90.0 162.0L91.2 165.4L89.5 165.5L88.9 163.0L87.7 161.3L86.5 158.4L85.4 154.9L82.4 151.4L78.4 147.8L74.3 145.2L72.5 144.9L71.9 145.5L74.3 148.4L77.2 151.9L80.1 154.3L82.4 158.4L80.7 159.5L79.5 158.5L79.0 160.0L78.4 162.4L77.8 162.6L78.9 160.1L77.2 157.8L74.3 154.9L71.4 151.9L69.0 149.0L66.7 148.1L63.4 149.5L59.6 150.9L57.5 151.5L55.2 152.2L54.0 153.5L52.5 155.0L51.4 157.2L50.5 160.0L50.2 162.9L48.5 165.0L47.0 166.7L44.0 167.3L40.7 168.0L38.0 167.5L36.5 166.5L36.0 164.0L35.7 160.0L35.5 155.0L35.9 151.0L38.0 150.5L42.0 150.4L45.0 150.4L48.9 150.3L48.9 145.0L48.9 140.8L46.0 139.5ZM65.8 152.5L67.0 152.3L67.6 155.0L67.5 158.0L67.6 161.9L66.0 161.8L65.5 158.0L65.8 155.0ZM76.6 164.4L80.1 164.2L79.8 166.5L77.0 166.0ZM28.0 175.0L28.0 170.5L32.0 169.5L35.6 168.9L40.7 168.9L45.0 168.4L50.0 167.7L55.0 167.1L62.0 166.4L68.0 165.9L72.5 165.3L74.5 165.1L76.6 165.7L78.4 166.7L82.0 167.5L86.0 168.0L90.0 168.2L95.0 168.0L95.0 175.0Z" fill="#d9d9d9"/>
<path d="M54.5 131.4L58.0 133.5L62.0 134.5L64.0 137.0L63.5 140.0L62.5 142.0M62.5 142.0L64.5 143.5L65.0 146.0L66.3 148.5M48.9 150.8L52.0 151.5L55.2 152.0M38.0 150.5L38.5 155.0L37.5 160.0L38.0 165.0M74.5 122.5L75.5 127.0L76.0 133.5M70.5 134.0L73.0 133.0L76.0 133.5L78.0 135.0L75.0 138.0L72.0 139.5M63.5 140.5L67.0 140.0L70.0 140.5L72.0 139.5L74.0 140.0L77.0 140.0M67.0 142.5L71.0 142.0L74.0 142.5L74.3 145.0M84.0 124.0L85.0 130.0L86.0 135.0L84.0 138.0M78.0 135.0L81.0 136.0L84.0 138.0M77.0 140.0L78.0 142.0L81.0 141.0L84.0 138.0M84.0 138.0L86.0 142.0L85.0 146.0L88.0 149.0M78.0 143.0L82.0 145.0L86.0 147.0L89.0 147.0M80.0 147.0L84.0 150.0L86.0 150.0L88.0 153.0L92.0 155.0M55.5 129.5L58.5 129.5M60.5 124.5L60.0 128.0L61.0 131.0M65.5 120.5L68.5 120.5M75.0 93.5L74.0 100.0L73.5 106.0L71.5 110.0M83.0 94.0L84.0 96.0M88.5 114.0L94.0 115.0M87.5 117.0L94.0 118.0M90.0 108.0L90.5 112.0L94.0 112.0" stroke="#fff" stroke-width="0.45" stroke-opacity="0.85" fill="none"/>
</g>
<rect x="8.6" y="93.8" width="85.4" height="79.6" fill="none" stroke="#3a3a3a" stroke-width="0.9"/>
<path d="M45.6 116.2L47.5 119.5L43.7 119.5Z" fill="#5763b0"/>
<path d="M46.4 121.2L48.3 124.5L44.5 124.5Z" fill="#5763b0"/>
<path d="M49.1 120.9L51.0 124.2L47.2 124.2Z" fill="#5763b0"/>
<path d="M47.8 124.7L49.7 128.0L45.9 128.0Z" fill="#5763b0"/>
<path d="M46.4 127.6L48.3 130.9L44.5 130.9Z" fill="#5763b0"/>
<path d="M51.0 128.9L52.9 132.2L49.1 132.2Z" fill="#5763b0"/>
<path d="M63.2 139.6L65.1 142.9L61.3 142.9Z" fill="#5763b0"/>
<circle cx="54.6" cy="135.2" r="1.45" fill="#5763b0"/>
<circle cx="50.0" cy="137.2" r="1.45" fill="#5763b0"/>
<circle cx="48.5" cy="140.6" r="1.45" fill="#5763b0"/>
<circle cx="54.6" cy="142.2" r="1.45" fill="#5763b0"/>
<circle cx="51.5" cy="144.9" r="1.45" fill="#5763b0"/>
<circle cx="60.6" cy="144.9" r="1.45" fill="#5763b0"/>
<circle cx="60.6" cy="147.9" r="1.45" fill="#5763b0"/>
<circle cx="57.0" cy="150.1" r="1.45" fill="#5763b0"/>
<circle cx="52.2" cy="150.3" r="1.45" fill="#5763b0"/>
<circle cx="49.6" cy="151.2" r="1.45" fill="#5763b0"/>
<path d="M250.6 151.4L253.6 156.5L247.6 156.5Z" fill="#000"/>
<circle cx="250.6" cy="168.6" r="2.1" fill="#000"/>
<text x="268.6" y="157.3" font-family="Liberation Sans, sans-serif" font-size="9px" fill="#111">This study; n = 74</text>
<text x="268.6" y="171.8" font-family="Liberation Sans, sans-serif" font-size="9px" fill="#111">Salle et al. (2019); n = 264</text>
<path d="M445.4 1.5V181.6M457.6 1.5V181.6M481.9 1.5V181.6M506.2 1.5V181.6M530.5 1.5V181.6M554.8 1.5V181.6M579.1 1.5V181.6M603.4 1.5V181.6M433.6 178.2H609.6M433.6 157.7H609.6M433.6 137.2H609.6M433.6 116.7H609.6M433.6 96.2H609.6M433.6 75.7H609.6M433.6 55.2H609.6M433.6 34.7H609.6M433.6 14.2H609.6" stroke="#efefef" stroke-width="0.6" fill="none"/>
<circle cx="472.0" cy="16.4" r="1.8" fill="#2e9e8e" fill-opacity="0.85"/><circle cx="476.3" cy="16.8" r="1.8" fill="#35a08f" fill-opacity="0.85"/><circle cx="479.0" cy="14.6" r="1.8" fill="#2e9e8e" fill-opacity="0.85"/><circle cx="482.2" cy="18.7" r="1.8" fill="#35a08f" fill-opacity="0.85"/><circle cx="473.9" cy="23.1" r="1.8" fill="#35a08f" fill-opacity="0.85"/><circle cx="477.8" cy="23.4" r="1.8" fill="#35a08f" fill-opacity="0.85"/><circle cx="480.7" cy="22.6" r="1.8" fill="#2e9e8e" fill-opacity="0.85"/><circle cx="482.2" cy="24.1" r="1.8" fill="#35a08f" fill-opacity="0.85"/><circle cx="480.0" cy="27.0" r="1.8" fill="#35a08f" fill-opacity="0.85"/><circle cx="479.0" cy="25.5" r="1.8" fill="#35a08f" fill-opacity="0.85"/><circle cx="481.0" cy="20.5" r="1.8" fill="#35a08f" fill-opacity="0.85"/><circle cx="478.5" cy="21.5" r="1.8" fill="#2e9e8e" fill-opacity="0.85"/><circle cx="481.5" cy="26.0" r="1.8" fill="#2e9e8e" fill-opacity="0.85"/><path d="M478.5 24.7l2.4 3.8h-4.8z" fill="#9b4caf" fill-opacity="0.85"/><circle cx="494.6" cy="38.0" r="1.8" fill="#35a08f" fill-opacity="0.85"/><circle cx="497.2" cy="35.5" r="1.8" fill="#35a08f" fill-opacity="0.85"/><path d="M501.9 31.3l2.4 3.8h-4.8z" fill="#9b4caf" fill-opacity="0.85"/><path d="M507.7 41.5l2.4 3.8h-4.8z" fill="#9b4caf" fill-opacity="0.85"/><circle cx="480.7" cy="36.5" r="1.8" fill="#9e7777" fill-opacity="0.85"/><circle cx="482.9" cy="37.2" r="1.8" fill="#8e7a7a" fill-opacity="0.85"/><circle cx="485.8" cy="39.4" r="1.8" fill="#e05252" fill-opacity="0.85"/><circle cx="485.1" cy="41.6" r="1.8" fill="#cf5a5a" fill-opacity="0.85"/><circle cx="488.0" cy="47.4" r="1.8" fill="#e05252" fill-opacity="0.85"/><circle cx="480.0" cy="45.5" r="1.8" fill="#45a9df" fill-opacity="0.85"/><circle cx="482.2" cy="44.5" r="1.8" fill="#45a9df" fill-opacity="0.85"/><circle cx="491.0" cy="44.5" r="1.8" fill="#45a9df" fill-opacity="0.85"/><circle cx="492.1" cy="47.0" r="1.8" fill="#45a9df" fill-opacity="0.85"/><circle cx="502.6" cy="47.0" r="1.8" fill="#45a9df" fill-opacity="0.85"/><circle cx="498.2" cy="56.9" r="1.8" fill="#45a9df" fill-opacity="0.85"/><circle cx="483.6" cy="48.2" r="1.8" fill="#9e7777" fill-opacity="0.85"/><circle cx="486.6" cy="49.6" r="1.8" fill="#9e7777" fill-opacity="0.85"/><circle cx="480.1" cy="53.3" r="1.8" fill="#9e7777" fill-opacity="0.85"/><circle cx="486.3" cy="60.3" r="1.8" fill="#9e7777" fill-opacity="0.85"/><circle cx="491.4" cy="62.5" r="1.8" fill="#9e7777" fill-opacity="0.85"/><circle cx="466.1" cy="69.3" r="1.8" fill="#bb6565" fill-opacity="0.85"/><circle cx="489.2" cy="73.3" r="1.8" fill="#bb6565" fill-opacity="0.85"/><circle cx="472.7" cy="89.9" r="1.8" fill="#9e7777" fill-opacity="0.85"/><circle cx="501.2" cy="49.6" r="1.8" fill="#e05252" fill-opacity="0.85"/><circle cx="519.4" cy="50.1" r="1.8" fill="#e05252" fill-opacity="0.85"/><circle cx="532.7" cy="67.4" r="1.8" fill="#e05252" fill-opacity="0.85"/><circle cx="532.8" cy="67.1" r="1.8" fill="#e05252" fill-opacity="0.85"/><circle cx="538.8" cy="67.1" r="1.8" fill="#e05252" fill-opacity="0.85"/><circle cx="551.6" cy="20.4" r="1.8" fill="#e05252" fill-opacity="0.85"/><circle cx="561.6" cy="51.4" r="1.8" fill="#d65858" fill-opacity="0.85"/><circle cx="571.7" cy="58.0" r="1.8" fill="#e05252" fill-opacity="0.85"/><circle cx="584.2" cy="57.7" r="1.8" fill="#e05252" fill-opacity="0.85"/><circle cx="565.4" cy="75.5" r="1.8" fill="#e05252" fill-opacity="0.85"/><circle cx="570.1" cy="78.3" r="1.8" fill="#e05252" fill-opacity="0.85"/><circle cx="484.0" cy="38.5" r="1.8" fill="#e05252" fill-opacity="0.85"/><circle cx="486.5" cy="44.5" r="1.8" fill="#d65858" fill-opacity="0.85"/><path d="M515.0 52.4l2.4 3.8h-4.8z" fill="#9b4caf" fill-opacity="0.85"/><path d="M522.3 44.7l2.4 3.8h-4.8z" fill="#9b4caf" fill-opacity="0.85"/><path d="M521.3 50.0l2.4 3.8h-4.8z" fill="#9b4caf" fill-opacity="0.85"/><path d="M524.5 52.0l2.4 3.8h-4.8z" fill="#9b4caf" fill-opacity="0.85"/><path d="M530.4 45.9l2.4 3.8h-4.8z" fill="#9b4caf" fill-opacity="0.85"/><path d="M531.8 49.5l2.4 3.8h-4.8z" fill="#9b4caf" fill-opacity="0.85"/><path d="M530.4 57.6l2.4 3.8h-4.8z" fill="#9b4caf" fill-opacity="0.85"/><path d="M533.4 57.9l2.4 3.8h-4.8z" fill="#9b4caf" fill-opacity="0.85"/><path d="M522.0 47.7l2.4 3.8h-4.8z" fill="#9b4caf" fill-opacity="0.85"/><path d="M524.7 51.4l2.4 3.8h-4.8z" fill="#9b4caf" fill-opacity="0.85"/><path d="M530.7 45.4l2.4 3.8h-4.8z" fill="#9b4caf" fill-opacity="0.85"/><path d="M532.8 48.1l2.4 3.8h-4.8z" fill="#9b4caf" fill-opacity="0.85"/><path d="M530.7 57.9l2.4 3.8h-4.8z" fill="#9b4caf" fill-opacity="0.85"/><path d="M533.0 47.2l2.4 3.8h-4.8z" fill="#9b4caf" fill-opacity="0.85"/><path d="M531.0 54.7l2.4 3.8h-4.8z" fill="#9b4caf" fill-opacity="0.85"/><circle cx="457.4" cy="93.9" r="1.8" fill="#bb6565" fill-opacity="0.85"/><circle cx="461.0" cy="93.9" r="1.8" fill="#c46464" fill-opacity="0.85"/><circle cx="459.0" cy="95.5" r="1.8" fill="#bb6565" fill-opacity="0.85"/><circle cx="455.9" cy="96.8" r="1.8" fill="#cf5a5a" fill-opacity="0.85"/><circle cx="465.4" cy="98.7" r="1.8" fill="#bb6565" fill-opacity="0.85"/><circle cx="469.0" cy="100.9" r="1.8" fill="#bb6565" fill-opacity="0.85"/><circle cx="448.6" cy="105.5" r="1.8" fill="#cf5a5a" fill-opacity="0.85"/><circle cx="451.5" cy="106.0" r="1.8" fill="#bb6565" fill-opacity="0.85"/><circle cx="454.5" cy="104.5" r="1.8" fill="#c46464" fill-opacity="0.85"/><circle cx="459.5" cy="104.1" r="1.8" fill="#cf5a5a" fill-opacity="0.85"/><circle cx="463.9" cy="105.5" r="1.8" fill="#bb6565" fill-opacity="0.85"/><circle cx="463.9" cy="109.2" r="1.8" fill="#cf5a5a" fill-opacity="0.85"/><circle cx="455.9" cy="109.2" r="1.8" fill="#cf5a5a" fill-opacity="0.85"/><circle cx="447.1" cy="111.4" r="1.8" fill="#bb6565" fill-opacity="0.85"/><circle cx="449.3" cy="113.6" r="1.8" fill="#bb6565" fill-opacity="0.85"/><circle cx="446.4" cy="118.0" r="1.8" fill="#c46464" fill-opacity="0.85"/><circle cx="452.0" cy="102.0" r="1.8" fill="#bb6565" fill-opacity="0.85"/><circle cx="457.0" cy="101.0" r="1.8" fill="#cf5a5a" fill-opacity="0.85"/><circle cx="450.0" cy="108.0" r="1.8" fill="#c46464" fill-opacity="0.85"/><circle cx="458.0" cy="106.5" r="1.8" fill="#c46464" fill-opacity="0.85"/><circle cx="461.5" cy="100.5" r="1.8" fill="#bb6565" fill-opacity="0.85"/><circle cx="455.0" cy="99.0" r="1.8" fill="#c46464" fill-opacity="0.85"/><circle cx="442.0" cy="118.7" r="1.8" fill="#9e7777" fill-opacity="0.85"/><circle cx="443.5" cy="117.5" r="1.8" fill="#9e7777" fill-opacity="0.85"/><circle cx="451.5" cy="118.0" r="1.8" fill="#9e7777" fill-opacity="0.85"/><circle cx="453.7" cy="119.1" r="1.8" fill="#9e7777" fill-opacity="0.85"/><circle cx="455.9" cy="114.3" r="1.8" fill="#9e7777" fill-opacity="0.85"/><circle cx="461.0" cy="112.1" r="1.8" fill="#9e7777" fill-opacity="0.85"/><circle cx="445.7" cy="115.8" r="1.8" fill="#9e7777" fill-opacity="0.85"/><circle cx="448.0" cy="112.0" r="1.8" fill="#9e7777" fill-opacity="0.85"/><circle cx="452.0" cy="115.5" r="1.8" fill="#9e7777" fill-opacity="0.85"/><circle cx="460.0" cy="113.5" r="1.8" fill="#9e7777" fill-opacity="0.85"/><circle cx="466.5" cy="107.5" r="1.8" fill="#9e7777" fill-opacity="0.85"/><path d="M452.2 94.5l2.4 3.8h-4.8z" fill="#5b68c2" fill-opacity="0.85"/><path d="M451.5 97.4l2.4 3.8h-4.8z" fill="#5b68c2" fill-opacity="0.85"/><path d="M453.0 99.6l2.4 3.8h-4.8z" fill="#5b68c2" fill-opacity="0.85"/><path d="M450.5 99.2l2.4 3.8h-4.8z" fill="#5b68c2" fill-opacity="0.85"/><path d="M454.4 101.1l2.4 3.8h-4.8z" fill="#5b68c2" fill-opacity="0.85"/><path d="M452.0 96.2l2.4 3.8h-4.8z" fill="#5b68c2" fill-opacity="0.85"/><circle cx="592.2" cy="26.8" r="1.8" fill="#6c74ad" fill-opacity="0.85"/><circle cx="594.6" cy="13.1" r="1.8" fill="#d65858" fill-opacity="0.85"/><circle cx="593.2" cy="11.9" r="1.8" fill="#6670bb" fill-opacity="0.85"/><circle cx="597.9" cy="28.6" r="1.8" fill="#6670bb" fill-opacity="0.85"/><circle cx="594.3" cy="19.4" r="1.8" fill="#6670bb" fill-opacity="0.85"/><circle cx="593.0" cy="20.8" r="1.8" fill="#d65858" fill-opacity="0.85"/><circle cx="596.6" cy="17.3" r="1.8" fill="#e05252" fill-opacity="0.85"/><circle cx="591.6" cy="25.8" r="1.8" fill="#f07a40" fill-opacity="0.85"/><circle cx="595.2" cy="39.4" r="1.8" fill="#6670bb" fill-opacity="0.85"/><circle cx="593.4" cy="25.4" r="1.8" fill="#6c74ad" fill-opacity="0.85"/><circle cx="595.6" cy="24.7" r="1.8" fill="#6670bb" fill-opacity="0.85"/><circle cx="594.0" cy="38.9" r="1.8" fill="#6670bb" fill-opacity="0.85"/><circle cx="595.8" cy="36.3" r="1.8" fill="#f07a40" fill-opacity="0.85"/><circle cx="592.1" cy="20.2" r="1.8" fill="#f07a40" fill-opacity="0.85"/><circle cx="592.7" cy="23.7" r="1.8" fill="#6670bb" fill-opacity="0.85"/><circle cx="593.6" cy="38.3" r="1.8" fill="#6670bb" fill-opacity="0.85"/><circle cx="595.2" cy="31.9" r="1.8" fill="#e05252" fill-opacity="0.85"/><circle cx="594.6" cy="29.4" r="1.8" fill="#6670bb" fill-opacity="0.85"/><circle cx="594.9" cy="30.1" r="1.8" fill="#6670bb" fill-opacity="0.85"/><circle cx="598.0" cy="38.2" r="1.8" fill="#f07a40" fill-opacity="0.85"/><circle cx="596.1" cy="11.8" r="1.8" fill="#e05252" fill-opacity="0.85"/><circle cx="596.6" cy="13.9" r="1.8" fill="#d65858" fill-opacity="0.85"/><circle cx="590.9" cy="24.9" r="1.8" fill="#6c74ad" fill-opacity="0.85"/><circle cx="599.0" cy="23.5" r="1.8" fill="#d65858" fill-opacity="0.85"/><circle cx="595.3" cy="22.9" r="1.8" fill="#d65858" fill-opacity="0.85"/><circle cx="596.9" cy="18.4" r="1.8" fill="#45a9df" fill-opacity="0.85"/><circle cx="599.4" cy="21.4" r="1.8" fill="#d65858" fill-opacity="0.85"/><circle cx="595.2" cy="14.5" r="1.8" fill="#6c74ad" fill-opacity="0.85"/><circle cx="597.7" cy="10.4" r="1.8" fill="#6c74ad" fill-opacity="0.85"/><circle cx="598.6" cy="17.9" r="1.8" fill="#6670bb" fill-opacity="0.85"/><circle cx="597.5" cy="28.3" r="1.8" fill="#f07a40" fill-opacity="0.85"/><circle cx="598.0" cy="38.6" r="1.8" fill="#d65858" fill-opacity="0.85"/><circle cx="599.1" cy="32.2" r="1.8" fill="#6670bb" fill-opacity="0.85"/><circle cx="594.3" cy="37.0" r="1.8" fill="#d65858" fill-opacity="0.85"/><circle cx="593.5" cy="13.1" r="1.8" fill="#45a9df" fill-opacity="0.85"/><circle cx="597.1" cy="11.9" r="1.8" fill="#6670bb" fill-opacity="0.85"/><circle cx="598.3" cy="13.3" r="1.8" fill="#6670bb" fill-opacity="0.85"/><circle cx="595.2" cy="13.1" r="1.8" fill="#6c74ad" fill-opacity="0.85"/><circle cx="589.3" cy="28.4" r="1.8" fill="#6670bb" fill-opacity="0.85"/><circle cx="594.1" cy="36.2" r="1.8" fill="#45a9df" fill-opacity="0.85"/><circle cx="596.7" cy="20.4" r="1.8" fill="#f07a40" fill-opacity="0.85"/><circle cx="597.1" cy="24.2" r="1.8" fill="#6670bb" fill-opacity="0.85"/><circle cx="600.3" cy="24.0" r="1.8" fill="#6670bb" fill-opacity="0.85"/><circle cx="588.8" cy="19.4" r="1.8" fill="#6c74ad" fill-opacity="0.85"/><circle cx="597.4" cy="17.9" r="1.8" fill="#6c74ad" fill-opacity="0.85"/><circle cx="599.9" cy="9.1" r="1.8" fill="#2e9e8e" fill-opacity="0.85"/><circle cx="598.6" cy="11.4" r="1.8" fill="#f07a40" fill-opacity="0.85"/><circle cx="600.0" cy="11.8" r="1.8" fill="#f07a40" fill-opacity="0.85"/><circle cx="595.2" cy="15.4" r="1.8" fill="#f07a40" fill-opacity="0.85"/><circle cx="585.8" cy="32.2" r="1.8" fill="#f07a40" fill-opacity="0.85"/><circle cx="589.8" cy="31.2" r="1.8" fill="#35a08f" fill-opacity="0.85"/><circle cx="590.5" cy="30.5" r="1.8" fill="#2e9e8e" fill-opacity="0.85"/><circle cx="597.5" cy="40.5" r="1.8" fill="#45a9df" fill-opacity="0.85"/><circle cx="598.0" cy="39.0" r="1.8" fill="#45a9df" fill-opacity="0.85"/><path d="M595.9 41.7l2.4 3.8h-4.8z" fill="#3ea6dc" fill-opacity="0.85"/><circle cx="595.9" cy="49.0" r="1.8" fill="#d65858" fill-opacity="0.85"/><circle cx="594.6" cy="52.7" r="1.8" fill="#d65858" fill-opacity="0.85"/><circle cx="597.9" cy="49.7" r="1.8" fill="#d65858" fill-opacity="0.85"/><circle cx="597.4" cy="49.5" r="1.8" fill="#6670bb" fill-opacity="0.85"/><circle cx="599.2" cy="50.2" r="1.8" fill="#e05252" fill-opacity="0.85"/><circle cx="596.0" cy="53.3" r="1.8" fill="#6670bb" fill-opacity="0.85"/><circle cx="596.9" cy="52.1" r="1.8" fill="#e05252" fill-opacity="0.85"/><circle cx="598.4" cy="53.6" r="1.8" fill="#e05252" fill-opacity="0.85"/><circle cx="593.2" cy="51.2" r="1.8" fill="#d65858" fill-opacity="0.85"/><circle cx="599.9" cy="53.4" r="1.8" fill="#6c74ad" fill-opacity="0.85"/><circle cx="593.2" cy="58.0" r="1.8" fill="#f07a40" fill-opacity="0.85"/><circle cx="589.8" cy="85.5" r="1.8" fill="#6670bb" fill-opacity="0.85"/><circle cx="596.8" cy="91.1" r="1.8" fill="#6670bb" fill-opacity="0.85"/><circle cx="584.3" cy="73.1" r="1.8" fill="#6c74ad" fill-opacity="0.85"/><path d="M589.3 87.6l2.4 3.8h-4.8z" fill="#5b68c2" fill-opacity="0.85"/><circle cx="592.3" cy="90.1" r="1.8" fill="#6670bb" fill-opacity="0.85"/><circle cx="587.3" cy="92.4" r="1.8" fill="#45a9df" fill-opacity="0.85"/><circle cx="586.7" cy="95.6" r="1.8" fill="#6670bb" fill-opacity="0.85"/><circle cx="587.1" cy="90.9" r="1.8" fill="#45a9df" fill-opacity="0.85"/><circle cx="587.0" cy="79.4" r="1.8" fill="#6670bb" fill-opacity="0.85"/><circle cx="591.0" cy="94.8" r="1.8" fill="#6c74ad" fill-opacity="0.85"/><path d="M590.8 91.8l2.4 3.8h-4.8z" fill="#5b68c2" fill-opacity="0.85"/><path d="M580.6 72.0l2.4 3.8h-4.8z" fill="#6e72b8" fill-opacity="0.85"/><circle cx="589.2" cy="71.3" r="1.8" fill="#45a9df" fill-opacity="0.85"/><path d="M580.7 77.8l2.4 3.8h-4.8z" fill="#5b68c2" fill-opacity="0.85"/><circle cx="586.8" cy="89.4" r="1.8" fill="#6670bb" fill-opacity="0.85"/><circle cx="587.4" cy="83.3" r="1.8" fill="#6670bb" fill-opacity="0.85"/><circle cx="590.3" cy="88.5" r="1.8" fill="#6670bb" fill-opacity="0.85"/><path d="M588.9 97.6l2.4 3.8h-4.8z" fill="#6e72b8" fill-opacity="0.85"/><path d="M589.1 88.0l2.4 3.8h-4.8z" fill="#6e72b8" fill-opacity="0.85"/><circle cx="590.2" cy="89.3" r="1.8" fill="#45a9df" fill-opacity="0.85"/><circle cx="591.1" cy="71.1" r="1.8" fill="#45a9df" fill-opacity="0.85"/><circle cx="590.8" cy="73.5" r="1.8" fill="#6670bb" fill-opacity="0.85"/><path d="M591.5 79.6l2.4 3.8h-4.8z" fill="#6e72b8" fill-opacity="0.85"/><circle cx="589.1" cy="72.2" r="1.8" fill="#6670bb" fill-opacity="0.85"/><path d="M581.5 84.9l2.4 3.8h-4.8z" fill="#6e72b8" fill-opacity="0.85"/><circle cx="594.7" cy="72.3" r="1.8" fill="#6670bb" fill-opacity="0.85"/><path d="M589.2 79.3l2.4 3.8h-4.8z" fill="#6e72b8" fill-opacity="0.85"/><path d="M587.4 85.7l2.4 3.8h-4.8z" fill="#6e72b8" fill-opacity="0.85"/><circle cx="596.2" cy="109.6" r="1.8" fill="#6670bb" fill-opacity="0.85"/><circle cx="595.9" cy="115.0" r="1.8" fill="#6c74ad" fill-opacity="0.85"/><circle cx="591.3" cy="80.3" r="1.8" fill="#6670bb" fill-opacity="0.85"/><circle cx="592.4" cy="102.0" r="1.8" fill="#6670bb" fill-opacity="0.85"/><circle cx="591.7" cy="94.3" r="1.8" fill="#45a9df" fill-opacity="0.85"/><circle cx="586.4" cy="73.9" r="1.8" fill="#6c74ad" fill-opacity="0.85"/><circle cx="589.8" cy="91.0" r="1.8" fill="#6c74ad" fill-opacity="0.85"/><circle cx="589.4" cy="94.6" r="1.8" fill="#45a9df" fill-opacity="0.85"/><circle cx="586.0" cy="81.8" r="1.8" fill="#6670bb" fill-opacity="0.85"/><circle cx="587.1" cy="78.7" r="1.8" fill="#6670bb" fill-opacity="0.85"/><circle cx="589.1" cy="80.2" r="1.8" fill="#6670bb" fill-opacity="0.85"/><circle cx="585.3" cy="91.2" r="1.8" fill="#6670bb" fill-opacity="0.85"/><circle cx="594.3" cy="112.1" r="1.8" fill="#6670bb" fill-opacity="0.85"/><circle cx="587.0" cy="74.8" r="1.8" fill="#45a9df" fill-opacity="0.85"/><path d="M594.9 77.6l2.4 3.8h-4.8z" fill="#6e72b8" fill-opacity="0.85"/><path d="M593.5 94.9l2.4 3.8h-4.8z" fill="#6e72b8" fill-opacity="0.85"/><circle cx="593.8" cy="77.9" r="1.8" fill="#6670bb" fill-opacity="0.85"/><circle cx="586.7" cy="72.5" r="1.8" fill="#6670bb" fill-opacity="0.85"/><circle cx="584.9" cy="87.8" r="1.8" fill="#6670bb" fill-opacity="0.85"/><circle cx="588.4" cy="73.6" r="1.8" fill="#6670bb" fill-opacity="0.85"/><circle cx="590.5" cy="82.6" r="1.8" fill="#6670bb" fill-opacity="0.85"/><circle cx="592.8" cy="90.7" r="1.8" fill="#6670bb" fill-opacity="0.85"/><circle cx="589.3" cy="74.8" r="1.8" fill="#6670bb" fill-opacity="0.85"/><path d="M585.9 78.1l2.4 3.8h-4.8z" fill="#6e72b8" fill-opacity="0.85"/><circle cx="587.6" cy="78.3" r="1.8" fill="#6670bb" fill-opacity="0.85"/><circle cx="591.6" cy="91.0" r="1.8" fill="#6670bb" fill-opacity="0.85"/><circle cx="588.4" cy="76.2" r="1.8" fill="#6c74ad" fill-opacity="0.85"/><path d="M589.4 79.1l2.4 3.8h-4.8z" fill="#5b68c2" fill-opacity="0.85"/><circle cx="593.9" cy="117.2" r="1.8" fill="#6670bb" fill-opacity="0.85"/><circle cx="593.8" cy="117.5" r="1.8" fill="#45a9df" fill-opacity="0.85"/><circle cx="593.1" cy="93.9" r="1.8" fill="#6670bb" fill-opacity="0.85"/><circle cx="597.7" cy="113.4" r="1.8" fill="#6670bb" fill-opacity="0.85"/><path d="M588.4 69.9l2.4 3.8h-4.8z" fill="#6e72b8" fill-opacity="0.85"/><circle cx="594.3" cy="114.4" r="1.8" fill="#6670bb" fill-opacity="0.85"/><circle cx="587.9" cy="91.3" r="1.8" fill="#6670bb" fill-opacity="0.85"/><path d="M585.6 88.9l2.4 3.8h-4.8z" fill="#6e72b8" fill-opacity="0.85"/><circle cx="588.8" cy="71.7" r="1.8" fill="#6670bb" fill-opacity="0.85"/><circle cx="589.2" cy="72.8" r="1.8" fill="#6670bb" fill-opacity="0.85"/><path d="M590.6 72.9l2.4 3.8h-4.8z" fill="#6e72b8" fill-opacity="0.85"/><path d="M590.1 90.2l2.4 3.8h-4.8z" fill="#6e72b8" fill-opacity="0.85"/><circle cx="586.4" cy="71.5" r="1.8" fill="#6670bb" fill-opacity="0.85"/><circle cx="594.9" cy="88.9" r="1.8" fill="#6670bb" fill-opacity="0.85"/><path d="M596.6 107.7l2.4 3.8h-4.8z" fill="#6e72b8" fill-opacity="0.85"/><circle cx="583.7" cy="74.1" r="1.8" fill="#45a9df" fill-opacity="0.85"/><path d="M596.2 71.7l2.4 3.8h-4.8z" fill="#5b68c2" fill-opacity="0.85"/><circle cx="593.0" cy="115.0" r="1.8" fill="#45a9df" fill-opacity="0.85"/><circle cx="584.3" cy="90.1" r="1.8" fill="#45a9df" fill-opacity="0.85"/><path d="M590.9 86.1l2.4 3.8h-4.8z" fill="#6e72b8" fill-opacity="0.85"/><circle cx="590.9" cy="109.9" r="1.8" fill="#45a9df" fill-opacity="0.85"/><circle cx="588.8" cy="84.4" r="1.8" fill="#6670bb" fill-opacity="0.85"/><circle cx="588.5" cy="80.5" r="1.8" fill="#6670bb" fill-opacity="0.85"/><circle cx="584.6" cy="81.3" r="1.8" fill="#6670bb" fill-opacity="0.85"/><path d="M584.6 70.2l2.4 3.8h-4.8z" fill="#6e72b8" fill-opacity="0.85"/><circle cx="586.4" cy="92.6" r="1.8" fill="#6c74ad" fill-opacity="0.85"/><circle cx="587.1" cy="72.6" r="1.8" fill="#6670bb" fill-opacity="0.85"/><circle cx="588.1" cy="84.6" r="1.8" fill="#6c74ad" fill-opacity="0.85"/><circle cx="585.7" cy="79.0" r="1.8" fill="#6c74ad" fill-opacity="0.85"/><circle cx="593.7" cy="98.0" r="1.8" fill="#6670bb" fill-opacity="0.85"/><circle cx="589.3" cy="74.1" r="1.8" fill="#6670bb" fill-opacity="0.85"/><circle cx="593.1" cy="109.4" r="1.8" fill="#6c74ad" fill-opacity="0.85"/><path d="M586.8 74.3l2.4 3.8h-4.8z" fill="#6e72b8" fill-opacity="0.85"/><circle cx="588.7" cy="85.9" r="1.8" fill="#6670bb" fill-opacity="0.85"/><circle cx="591.6" cy="80.8" r="1.8" fill="#6670bb" fill-opacity="0.85"/><circle cx="592.5" cy="105.4" r="1.8" fill="#6c74ad" fill-opacity="0.85"/><path d="M589.3 78.3l2.4 3.8h-4.8z" fill="#5b68c2" fill-opacity="0.85"/><circle cx="598.2" cy="79.1" r="1.8" fill="#6670bb" fill-opacity="0.85"/><circle cx="587.7" cy="72.9" r="1.8" fill="#45a9df" fill-opacity="0.85"/><path d="M589.6 85.9l2.4 3.8h-4.8z" fill="#6e72b8" fill-opacity="0.85"/><circle cx="587.5" cy="73.4" r="1.8" fill="#6670bb" fill-opacity="0.85"/><circle cx="591.0" cy="71.5" r="1.8" fill="#6670bb" fill-opacity="0.85"/><circle cx="592.4" cy="109.1" r="1.8" fill="#6c74ad" fill-opacity="0.85"/><path d="M589.9 75.3l2.4 3.8h-4.8z" fill="#5b68c2" fill-opacity="0.85"/><circle cx="590.3" cy="77.8" r="1.8" fill="#6670bb" fill-opacity="0.85"/><circle cx="592.7" cy="93.4" r="1.8" fill="#45a9df" fill-opacity="0.85"/><circle cx="585.7" cy="78.8" r="1.8" fill="#6c74ad" fill-opacity="0.85"/><circle cx="588.9" cy="90.4" r="1.8" fill="#45a9df" fill-opacity="0.85"/><circle cx="587.1" cy="72.0" r="1.8" fill="#6670bb" fill-opacity="0.85"/><circle cx="585.6" cy="74.1" r="1.8" fill="#6670bb" fill-opacity="0.85"/><circle cx="584.1" cy="77.6" r="1.8" fill="#45a9df" fill-opacity="0.85"/><path d="M594.4 85.8l2.4 3.8h-4.8z" fill="#6e72b8" fill-opacity="0.85"/><path d="M586.2 87.1l2.4 3.8h-4.8z" fill="#6e72b8" fill-opacity="0.85"/><circle cx="587.8" cy="86.4" r="1.8" fill="#6c74ad" fill-opacity="0.85"/><circle cx="580.0" cy="83.7" r="1.8" fill="#45a9df" fill-opacity="0.85"/><circle cx="586.5" cy="82.5" r="1.8" fill="#45a9df" fill-opacity="0.85"/><circle cx="590.7" cy="89.6" r="1.8" fill="#45a9df" fill-opacity="0.85"/><circle cx="592.5" cy="107.6" r="1.8" fill="#45a9df" fill-opacity="0.85"/><circle cx="596.1" cy="106.4" r="1.8" fill="#45a9df" fill-opacity="0.85"/><circle cx="586.0" cy="90.8" r="1.8" fill="#bb6565" fill-opacity="0.85"/><circle cx="596.1" cy="98.0" r="1.8" fill="#bb6565" fill-opacity="0.85"/><path d="M567.0 81.6l2.4 3.8h-4.8z" fill="#3ea6dc" fill-opacity="0.85"/><path d="M556.3 74.5l2.4 3.8h-4.8z" fill="#6e72b8" fill-opacity="0.85"/><path d="M595.9 66.9l2.4 3.8h-4.8z" fill="#6e72b8" fill-opacity="0.85"/><path d="M579.1 76.9l2.4 3.8h-4.8z" fill="#6e72b8" fill-opacity="0.85"/><path d="M567.4 81.7l2.4 3.8h-4.8z" fill="#3ea6dc" fill-opacity="0.85"/><path d="M569.5 111.0l2.4 3.8h-4.8z" fill="#3ea6dc" fill-opacity="0.85"/><path d="M580.0 111.0l2.4 3.8h-4.8z" fill="#6e72b8" fill-opacity="0.85"/><path d="M597.5 118.6l2.4 3.8h-4.8z" fill="#6e72b8" fill-opacity="0.85"/><path d="M599.4 121.5l2.4 3.8h-4.8z" fill="#6e72b8" fill-opacity="0.85"/><path d="M585.6 126.1l2.4 3.8h-4.8z" fill="#6e72b8" fill-opacity="0.85"/><circle cx="597.1" cy="129.5" r="1.8" fill="#6670bb" fill-opacity="0.85"/><path d="M597.1 130.5l2.4 3.8h-4.8z" fill="#3ea6dc" fill-opacity="0.85"/><path d="M596.8 132.2l2.4 3.8h-4.8z" fill="#6e72b8" fill-opacity="0.85"/><path d="M601.1 143.0l2.4 3.8h-4.8z" fill="#6e72b8" fill-opacity="0.85"/><path d="M600.2 141.9l2.4 3.8h-4.8z" fill="#5b68c2" fill-opacity="0.85"/><path d="M599.5 144.0l2.4 3.8h-4.8z" fill="#6e72b8" fill-opacity="0.85"/><circle cx="602.0" cy="144.5" r="1.8" fill="#e05252" fill-opacity="0.85"/><circle cx="597.1" cy="149.6" r="1.8" fill="#35a08f" fill-opacity="0.85"/><path d="M598.2 152.1l2.4 3.8h-4.8z" fill="#6e72b8" fill-opacity="0.85"/><path d="M596.1 163.8l2.4 3.8h-4.8z" fill="#6e72b8" fill-opacity="0.85"/><circle cx="598.9" cy="171.1" r="1.8" fill="#bb6565" fill-opacity="0.85"/><circle cx="598.9" cy="172.6" r="1.8" fill="#9e7777" fill-opacity="0.85"/><circle cx="598.9" cy="173.8" r="1.8" fill="#bb6565" fill-opacity="0.85"/>
<text x="518.7" y="149.4" font-family="Liberation Sans, sans-serif" font-size="8.0px" fill="#6a72b2">MHco3(ISE).N1</text>
<path d="M580.3 145.6H598.2" stroke="#222" stroke-width="0.7" stroke-dasharray="1 0.6" fill="none"/>
<rect x="433.6" y="1.5" width="176.0" height="180.1" fill="none" stroke="#333" stroke-width="1"/>
<text x="457.6" y="190.6" text-anchor="middle" font-family="Liberation Sans, sans-serif" font-size="6.6px" fill="#555">−20</text>
<text x="506.2" y="190.6" text-anchor="middle" font-family="Liberation Sans, sans-serif" font-size="6.6px" fill="#555">−10</text>
<text x="554.8" y="190.6" text-anchor="middle" font-family="Liberation Sans, sans-serif" font-size="6.6px" fill="#555">0</text>
<text x="603.4" y="190.6" text-anchor="middle" font-family="Liberation Sans, sans-serif" font-size="6.6px" fill="#555">10</text>
<text x="430.2" y="37.0" text-anchor="end" font-family="Liberation Sans, sans-serif" font-size="6.6px" fill="#555">5</text>
<text x="430.2" y="78.0" text-anchor="end" font-family="Liberation Sans, sans-serif" font-size="6.6px" fill="#555">0</text>
<text x="430.2" y="119.0" text-anchor="end" font-family="Liberation Sans, sans-serif" font-size="6.6px" fill="#555">−5</text>
<text x="430.2" y="160.0" text-anchor="end" font-family="Liberation Sans, sans-serif" font-size="6.6px" fill="#555">−10</text>
<path d="M457.6 182.1v1.6M506.2 182.1v1.6M554.8 182.1v1.6M603.4 182.1v1.6M433.1 34.7h-1.6M433.1 75.7h-1.6M433.1 116.7h-1.6M433.1 157.7h-1.6" stroke="#333" stroke-width="0.8" fill="none"/>
<text x="524" y="203" text-anchor="middle" font-family="Liberation Sans, sans-serif" font-weight="bold" font-size="8px" fill="#111" xml:space="preserve">PC1:  28.29 % variance</text>
<text transform="translate(421.2 94) rotate(-90)" text-anchor="middle" font-family="Liberation Sans, sans-serif" font-weight="bold" font-size="8px" fill="#111" xml:space="preserve">PC2:  5.872 % variance</text>
<text x="440.2" y="24.2" font-family="Liberation Sans, sans-serif" font-weight="bold" font-size="20px" fill="#111">b</text>
<path d="M433 0.5H611" stroke="#d9d9d9" stroke-width="1" fill="none"/>
<circle cx="619.5" cy="6.3" r="2.3" fill="#2e9e8e"/>
<text x="627.7" y="9.2" font-family="Liberation Sans, sans-serif" font-size="8px" fill="#333">Australia</text>
<circle cx="619.5" cy="16.7" r="2.3" fill="#e05252"/>
<text x="627.7" y="19.6" font-family="Liberation Sans, sans-serif" font-size="8px" fill="#333">Benin</text>
<circle cx="619.5" cy="27.1" r="2.3" fill="#f07a40"/>
<text x="627.7" y="30.0" font-family="Liberation Sans, sans-serif" font-size="8px" fill="#333">Brazil</text>
<circle cx="619.5" cy="37.5" r="2.3" fill="#d65858"/>
<text x="627.7" y="40.4" font-family="Liberation Sans, sans-serif" font-size="8px" fill="#333">Cape Verde</text>
<circle cx="619.5" cy="47.9" r="2.3" fill="#8e7a7a"/>
<text x="627.7" y="50.8" font-family="Liberation Sans, sans-serif" font-size="8px" fill="#333">DRC</text>
<circle cx="619.5" cy="58.2" r="2.3" fill="#6670bb"/>
<text x="627.7" y="61.1" font-family="Liberation Sans, sans-serif" font-size="8px" fill="#333">France</text>
<circle cx="619.5" cy="68.6" r="2.3" fill="#45a9df"/>
<text x="627.7" y="71.5" font-family="Liberation Sans, sans-serif" font-size="8px" fill="#333">Guadeloupe</text>
<circle cx="619.5" cy="79.0" r="2.3" fill="#35a08f"/>
<text x="627.7" y="81.9" font-family="Liberation Sans, sans-serif" font-size="8px" fill="#333">Indonesia</text>
<circle cx="619.5" cy="89.4" r="2.3" fill="#cf5a5a"/>
<text x="627.7" y="92.3" font-family="Liberation Sans, sans-serif" font-size="8px" fill="#333">Morocco</text>
<circle cx="619.5" cy="99.8" r="2.3" fill="#c46464"/>
<text x="627.7" y="102.7" font-family="Liberation Sans, sans-serif" font-size="8px" fill="#333">Namibia</text>
<path d="M619.5 107.6l2.6 4.2h-5.2z" fill="#9b4caf"/>
<text x="627.7" y="113.1" font-family="Liberation Sans, sans-serif" font-size="8px" fill="#333">Pakistan</text>
<circle cx="619.5" cy="120.6" r="2.3" fill="#6c74ad"/>
<text x="627.7" y="123.5" font-family="Liberation Sans, sans-serif" font-size="8px" fill="#333">Portugal</text>
<circle cx="619.5" cy="131.0" r="2.3" fill="#9e7777"/>
<text x="627.7" y="133.9" font-family="Liberation Sans, sans-serif" font-size="8px" fill="#333">São Tomé</text>
<circle cx="619.5" cy="141.4" r="2.3" fill="#bb6565"/>
<text x="627.7" y="144.3" font-family="Liberation Sans, sans-serif" font-size="8px" fill="#333">South Africa</text>
<path d="M619.5 149.2l2.6 4.2h-5.2z" fill="#5b68c2"/>
<text x="627.7" y="154.7" font-family="Liberation Sans, sans-serif" font-size="8px" fill="#333">Switzerland</text>
<path d="M619.5 159.6l2.6 4.2h-5.2z" fill="#6e72b8"/>
<text x="627.7" y="165.1" font-family="Liberation Sans, sans-serif" font-size="8px" fill="#333">United Kingdom</text>
<path d="M619.5 169.9l2.6 4.2h-5.2z" fill="#3ea6dc"/>
<text x="627.7" y="175.4" font-family="Liberation Sans, sans-serif" font-size="8px" fill="#333">USA</text>
<path d="M76.90 291.50L76.90 272.96L77.30 251.46L77.70 270.80L78.10 270.88L78.51 271.91L78.91 271.84L79.31 266.74L79.71 256.57L80.11 267.65L80.51 257.91L80.91 268.76L81.32 263.37L81.72 265.85L82.12 270.37L82.52 271.14L82.92 260.37L83.32 259.96L83.72 269.93L84.13 271.17L84.53 268.40L84.93 266.04L85.33 266.73L85.73 267.63L86.13 265.28L86.53 271.24L86.94 273.72L87.34 273.35L87.74 267.12L88.14 267.60L88.54 270.51L88.94 265.14L89.34 266.19L89.74 261.94L90.15 261.88L90.55 262.03L90.95 249.90L91.35 256.67L91.75 265.85L92.15 257.88L92.55 264.78L92.96 269.51L93.36 266.77L93.76 267.16L94.16 262.90L94.56 268.77L94.96 269.76L95.36 264.60L95.77 249.76L96.17 262.58L96.57 263.80L96.97 256.32L97.37 264.98L97.77 266.22L98.17 264.46L98.58 259.25L98.98 265.63L99.38 256.83L99.78 265.91L100.18 265.73L100.58 269.55L100.98 268.50L101.39 268.38L101.79 267.30L102.19 268.24L102.59 270.15L102.99 270.23L103.39 266.58L103.79 266.92L104.20 267.89L104.60 265.99L105.00 264.92L105.40 250.59L105.80 267.66L106.20 253.39L106.60 258.51L107.01 253.04L107.41 260.36L107.81 270.18L108.21 268.87L108.61 253.74L109.01 252.36L109.41 249.67L109.82 271.38L110.22 271.47L110.62 258.66L111.02 266.93L111.42 269.34L111.82 266.57L112.22 265.18L112.62 262.84L113.03 265.01L113.43 255.29L113.83 259.26L114.23 265.65L114.63 262.68L115.03 253.42L115.43 268.19L115.84 268.59L116.24 284.55L116.64 267.11L117.04 266.68L117.44 265.97L117.84 260.32L118.24 265.18L118.65 264.45L119.05 257.11L119.45 253.69L119.85 291.50L120.25 291.50L120.65 265.49L121.05 264.64L121.46 267.70L121.86 267.36L122.26 245.36L122.66 266.31L123.06 263.53L123.46 261.37L123.86 266.34L124.27 264.06L124.67 266.13L125.07 245.36L125.47 265.80L125.87 261.55L126.27 262.88L126.67 263.36L127.08 267.28L127.48 263.53L127.88 259.35L128.28 270.18L128.68 269.51L129.08 270.62L129.48 268.23L129.89 267.56L130.29 268.67L130.69 267.85L131.09 267.82L131.49 266.28L131.89 260.42L132.29 267.63L132.70 268.37L133.10 273.63L133.50 267.78L133.90 266.37L134.30 271.14L134.70 252.21L135.10 267.39L135.50 266.87L135.91 267.07L136.31 270.48L136.71 261.52L137.11 269.01L137.51 271.22L137.91 274.10L138.31 271.47L138.72 273.85L139.12 270.81L139.52 273.59L139.92 273.20L140.32 276.13L140.72 270.61L141.12 273.33L141.53 273.48L141.93 273.40L142.33 268.21L142.73 270.75L143.13 269.96L143.53 263.79L143.93 260.90L144.34 262.16L144.74 261.13L145.14 267.96L145.54 268.96L145.94 269.70L146.34 270.65L146.74 268.77L147.15 264.95L147.55 283.52L147.95 273.71L148.35 266.77L148.75 270.34L149.15 262.99L149.55 266.02L149.96 271.12L150.36 266.32L150.76 253.84L151.16 269.71L151.56 270.55L151.96 267.36L152.36 270.55L152.77 273.69L153.17 272.79L153.57 271.23L153.97 267.70L154.37 273.97L154.77 270.64L155.17 268.68L155.57 270.37L155.98 273.67L156.38 267.85L156.78 272.24L157.18 269.70L157.58 254.61L157.98 264.23L158.38 270.21L158.79 260.22L159.19 252.70L159.59 273.81L159.99 264.13L160.39 271.12L160.79 270.71L161.19 269.08L161.60 271.79L162.00 266.74L162.40 273.18L162.80 272.06L163.20 272.94L163.60 272.56L164.00 267.40L164.41 272.30L164.81 270.50L165.21 274.25L165.61 270.64L166.01 263.87L166.41 263.96L166.81 272.84L167.22 264.53L167.62 272.93L168.02 267.54L168.42 269.94L168.82 275.36L169.22 274.53L169.62 267.26L170.03 253.67L170.43 274.48L170.83 273.65L171.23 271.55L171.63 268.12L172.03 263.81L172.43 271.96L172.84 263.10L173.24 265.24L173.64 271.43L174.04 257.56L174.44 246.25L174.84 261.96L175.24 266.70L175.65 291.50L176.05 291.50L176.45 270.62L176.85 264.22L177.25 264.16L177.65 263.75L178.05 258.08L178.45 245.64L178.86 264.01L179.26 269.79L179.66 263.80L180.06 266.25L180.46 245.36L180.86 264.85L181.26 269.97L181.67 259.30L182.07 268.91L182.47 266.94L182.87 272.22L183.27 269.16L183.67 270.61L184.07 270.81L184.48 268.65L184.88 256.67L185.28 266.98L185.68 268.10L186.08 270.91L186.48 267.55L186.88 268.51L187.29 264.73L187.69 263.51L188.09 265.17L188.49 269.66L188.89 268.28L189.29 263.57L189.69 266.14L190.10 270.12L190.50 254.09L190.90 262.85L191.30 261.08L191.70 266.77L192.10 245.36L192.50 267.48L192.91 270.97L193.31 264.29L193.71 270.89L194.11 268.61L194.51 266.61L194.91 268.31L195.31 267.24L195.72 269.17L196.12 266.00L196.52 261.89L196.92 263.39L197.32 260.68L197.72 264.10L198.12 265.07L198.53 269.26L198.93 249.06L199.33 270.98L199.73 263.03L200.13 265.69L200.53 267.89L200.93 265.32L201.33 265.49L201.74 264.87L202.14 259.85L202.54 268.93L202.94 270.07L203.34 270.20L203.74 270.67L204.14 271.90L204.55 269.83L204.95 259.17L205.35 269.90L205.75 258.28L206.15 269.51L206.55 272.74L206.95 273.20L207.36 271.54L207.76 274.17L208.16 271.90L208.56 273.28L208.96 268.63L209.36 261.99L209.76 262.47L210.17 269.12L210.57 269.28L210.97 269.68L211.37 262.16L211.77 268.71L212.17 266.31L212.57 291.50L212.98 291.50L213.38 262.81L213.78 265.12L214.18 268.72L214.58 268.64L214.98 291.50L215.38 291.50L215.79 268.26L216.19 267.92L216.59 270.61L216.99 268.91L217.39 271.28L217.79 274.21L218.19 269.87L218.60 267.73L219.00 253.50L219.40 269.70L219.80 268.07L220.20 255.60L220.60 262.05L221.00 252.34L221.41 253.83L221.81 266.45L222.21 268.62L222.61 270.21L223.01 263.67L223.41 264.26L223.81 267.64L224.21 261.74L224.62 269.22L225.02 255.60L225.42 263.53L225.82 266.96L226.22 263.82L226.62 266.19L227.02 287.65L227.43 271.66L227.83 271.77L228.23 263.82L228.63 283.34L229.03 267.28L229.43 259.72L229.83 256.04L230.24 264.27L230.64 264.35L231.04 265.80L231.44 268.03L231.84 268.84L232.24 268.65L232.64 258.78L233.05 265.80L233.45 256.47L233.85 263.80L234.25 267.28L234.65 266.96L235.05 254.81L235.45 273.46L235.86 271.04L236.26 266.32L236.66 270.98L237.06 255.50L237.46 272.05L237.86 269.86L238.26 271.97L238.67 267.43L239.07 272.60L239.47 270.42L239.87 267.14L240.27 246.54L240.67 258.01L241.07 263.36L241.48 274.28L241.88 260.54L242.28 273.32L242.68 272.09L243.08 270.98L243.48 266.93L243.88 263.83L244.29 260.00L244.69 270.32L245.09 267.25L245.49 270.08L245.89 266.95L246.29 267.14L246.69 270.93L247.09 260.72L247.50 270.24L247.90 263.08L248.30 266.15L248.70 267.54L249.10 266.02L249.50 250.90L249.90 250.87L250.31 245.36L250.71 262.12L251.11 265.03L251.51 258.70L251.91 267.80L252.31 264.33L252.71 269.82L253.12 271.77L253.52 272.50L253.92 262.67L254.32 271.50L254.72 259.11L255.12 257.23L255.52 245.80L255.93 261.28L256.33 257.69L256.73 264.41L257.13 261.94L257.53 256.64L257.93 259.31L258.33 260.60L258.74 250.90L259.14 266.94L259.54 268.60L259.94 265.06L260.34 265.40L260.74 257.96L261.14 263.12L261.55 259.96L261.95 245.36L262.35 248.30L262.75 258.27L263.15 262.23L263.55 264.71L263.95 262.19L264.36 249.57L264.76 261.02L265.16 254.46L265.56 264.18L265.96 264.01L266.36 268.24L266.76 266.33L267.17 270.70L267.57 279.71L267.97 269.31L268.37 266.47L268.77 253.30L269.17 258.66L269.57 257.68L269.97 259.60L270.38 263.72L270.78 261.38L271.18 249.94L271.58 260.00L271.98 254.70L272.38 255.67L272.78 278.93L273.19 265.79L273.59 266.71L273.99 260.88L274.39 262.83L274.79 258.59L275.19 259.66L275.59 266.41L276.00 258.57L276.40 266.66L276.80 266.69L277.20 271.96L277.60 274.12L278.00 262.54L278.40 271.28L278.81 272.72L279.21 263.75L279.61 269.03L280.01 256.94L280.41 267.29L280.81 271.03L281.21 270.90L281.62 273.40L282.02 274.21L282.42 268.56L282.82 267.25L283.22 273.43L283.62 272.43L284.02 263.84L284.43 262.93L284.83 270.73L285.23 271.35L285.63 268.02L286.03 263.35L286.43 269.31L286.83 270.45L287.24 263.53L287.64 265.72L288.04 245.36L288.04 291.50Z" fill="#b01e2e"/>
<path d="M76.90 291.50L76.90 282.83L77.30 285.32L77.70 286.01L78.10 286.25L78.51 286.79L78.91 287.36L79.31 286.69L79.71 285.18L80.11 284.45L80.51 287.29L80.91 287.09L81.32 286.18L81.72 285.55L82.12 287.00L82.52 286.22L82.92 286.40L83.32 287.02L83.72 284.77L84.13 285.02L84.53 284.44L84.93 286.58L85.33 286.92L85.73 287.50L86.13 282.85L86.53 285.39L86.94 287.75L87.34 285.90L87.74 286.51L88.14 285.93L88.54 284.46L88.94 286.44L89.34 286.75L89.74 286.76L90.15 284.88L90.55 284.64L90.95 286.59L91.35 283.55L91.75 285.33L92.15 284.21L92.55 285.24L92.96 283.73L93.36 286.28L93.76 286.49L94.16 285.96L94.56 286.25L94.96 286.83L95.36 286.83L95.77 284.11L96.17 285.66L96.57 286.66L96.97 285.61L97.37 286.87L97.77 284.52L98.17 285.44L98.58 286.88L98.98 286.22L99.38 286.15L99.78 285.97L100.18 285.90L100.58 282.86L100.98 285.63L101.39 284.96L101.79 285.98L102.19 285.44L102.59 286.45L102.99 286.70L103.39 286.31L103.79 286.67L104.20 283.87L104.60 286.36L105.00 284.30L105.40 285.64L105.80 284.82L106.20 284.26L106.60 285.55L107.01 285.14L107.41 283.79L107.81 285.65L108.21 285.05L108.61 286.61L109.01 286.39L109.41 286.03L109.82 286.63L110.22 285.32L110.62 285.95L111.02 286.00L111.42 284.88L111.82 285.81L112.22 286.78L112.62 287.06L113.03 284.61L113.43 286.74L113.83 286.72L114.23 282.79L114.63 285.00L115.03 285.81L115.43 285.67L115.84 286.29L116.24 286.02L116.64 284.89L117.04 284.67L117.44 285.35L117.84 285.81L118.24 285.85L118.65 285.91L119.05 285.58L119.45 284.66L119.85 291.50L120.25 291.50L120.65 284.24L121.05 284.42L121.46 285.13L121.86 286.29L122.26 286.34L122.66 282.63L123.06 285.81L123.46 286.04L123.86 285.39L124.27 286.60L124.67 284.81L125.07 285.95L125.47 284.54L125.87 284.31L126.27 285.63L126.67 284.63L127.08 285.61L127.48 286.58L127.88 284.51L128.28 285.92L128.68 284.96L129.08 284.93L129.48 286.58L129.89 285.01L130.29 281.82L130.69 285.69L131.09 284.64L131.49 282.02L131.89 285.81L132.29 284.16L132.70 285.50L133.10 284.92L133.50 284.85L133.90 286.41L134.30 285.66L134.70 281.75L135.10 285.74L135.50 285.33L135.91 286.88L136.31 286.30L136.71 283.80L137.11 282.35L137.51 284.03L137.91 286.32L138.31 284.53L138.72 286.47L139.12 284.83L139.52 285.71L139.92 286.03L140.32 285.64L140.72 282.55L141.12 285.98L141.53 285.18L141.93 285.31L142.33 286.61L142.73 286.66L143.13 285.35L143.53 283.01L143.93 286.47L144.34 283.74L144.74 285.93L145.14 285.41L145.54 285.83L145.94 284.04L146.34 282.88L146.74 285.73L147.15 284.88L147.55 284.55L147.95 283.36L148.35 285.27L148.75 285.45L149.15 285.48L149.55 283.89L149.96 285.44L150.36 285.79L150.76 286.14L151.16 285.75L151.56 285.05L151.96 285.13L152.36 285.52L152.77 285.05L153.17 286.63L153.57 284.25L153.97 284.38L154.37 285.38L154.77 283.26L155.17 285.31L155.57 285.63L155.98 285.46L156.38 285.48L156.78 285.50L157.18 283.58L157.58 285.29L157.98 284.74L158.38 279.27L158.79 285.68L159.19 284.58L159.59 281.59L159.99 285.21L160.39 282.78L160.79 284.71L161.19 285.40L161.60 285.84L162.00 284.49L162.40 284.59L162.80 284.47L163.20 285.74L163.60 285.50L164.00 284.49L164.41 285.28L164.81 282.44L165.21 284.98L165.61 284.03L166.01 284.98L166.41 281.55L166.81 285.38L167.22 286.70L167.62 285.27L168.02 284.89L168.42 284.15L168.82 285.64L169.22 284.58L169.62 284.09L170.03 284.72L170.43 286.11L170.83 284.11L171.23 284.96L171.63 284.64L172.03 286.45L172.43 286.02L172.84 281.14L173.24 286.01L173.64 279.18L174.04 284.69L174.44 285.85L174.84 285.05L175.24 275.81L175.65 291.50L176.05 291.50L176.45 284.62L176.85 281.62L177.25 281.59L177.65 285.46L178.05 284.65L178.45 283.67L178.86 280.63L179.26 280.82L179.66 285.08L180.06 285.47L180.46 286.75L180.86 285.98L181.26 284.53L181.67 283.63L182.07 279.40L182.47 284.85L182.87 283.02L183.27 285.68L183.67 284.65L184.07 277.65L184.48 285.57L184.88 284.96L185.28 284.97L185.68 285.91L186.08 285.48L186.48 286.08L186.88 285.20L187.29 285.24L187.69 283.09L188.09 283.69L188.49 284.34L188.89 284.00L189.29 285.04L189.69 283.35L190.10 284.59L190.50 283.19L190.90 281.01L191.30 283.45L191.70 283.81L192.10 282.69L192.50 279.43L192.91 285.02L193.31 281.23L193.71 284.88L194.11 283.92L194.51 283.91L194.91 283.29L195.31 283.80L195.72 284.79L196.12 285.04L196.52 284.42L196.92 286.28L197.32 283.25L197.72 286.19L198.12 282.19L198.53 285.08L198.93 286.65L199.33 286.08L199.73 283.55L200.13 285.89L200.53 284.58L200.93 285.47L201.33 283.33L201.74 285.20L202.14 280.08L202.54 284.79L202.94 286.02L203.34 285.97L203.74 284.10L204.14 284.89L204.55 285.40L204.95 285.83L205.35 285.81L205.75 280.35L206.15 281.97L206.55 283.44L206.95 277.49L207.36 285.87L207.76 284.75L208.16 284.91L208.56 285.88L208.96 286.35L209.36 284.25L209.76 283.50L210.17 285.47L210.57 286.31L210.97 286.73L211.37 286.41L211.77 284.90L212.17 283.86L212.57 291.50L212.98 291.50L213.38 285.58L213.78 285.00L214.18 285.72L214.58 286.04L214.98 291.50L215.38 291.50L215.79 283.61L216.19 284.93L216.59 282.58L216.99 283.70L217.39 282.77L217.79 281.68L218.19 284.69L218.60 286.20L219.00 285.74L219.40 284.38L219.80 283.91L220.20 284.94L220.60 284.00L221.00 285.06L221.41 284.10L221.81 281.85L222.21 286.03L222.61 282.79L223.01 284.42L223.41 286.15L223.81 284.98L224.21 285.62L224.62 283.85L225.02 282.82L225.42 285.09L225.82 285.50L226.22 284.32L226.62 283.00L227.02 287.65L227.43 284.58L227.83 286.09L228.23 284.68L228.63 284.06L229.03 283.92L229.43 283.66L229.83 284.35L230.24 285.05L230.64 285.18L231.04 285.12L231.44 283.78L231.84 285.09L232.24 286.09L232.64 285.61L233.05 286.90L233.45 286.91L233.85 285.06L234.25 286.22L234.65 285.26L235.05 285.21L235.45 285.54L235.86 286.27L236.26 286.86L236.66 280.75L237.06 285.97L237.46 285.16L237.86 285.69L238.26 286.06L238.67 285.52L239.07 284.30L239.47 285.68L239.87 284.55L240.27 283.88L240.67 284.77L241.07 285.95L241.48 284.60L241.88 284.23L242.28 283.54L242.68 286.17L243.08 285.61L243.48 281.36L243.88 283.75L244.29 284.86L244.69 285.38L245.09 286.40L245.49 286.75L245.89 286.89L246.29 285.81L246.69 283.03L247.09 284.76L247.50 286.54L247.90 284.03L248.30 286.37L248.70 285.41L249.10 285.73L249.50 286.54L249.90 285.18L250.31 285.75L250.71 285.34L251.11 285.45L251.51 285.83L251.91 282.83L252.31 287.11L252.71 285.63L253.12 286.33L253.52 286.12L253.92 285.14L254.32 285.85L254.72 284.19L255.12 286.21L255.52 286.12L255.93 285.45L256.33 282.46L256.73 285.21L257.13 282.84L257.53 284.51L257.93 285.37L258.33 286.08L258.74 285.08L259.14 285.44L259.54 286.15L259.94 286.41L260.34 286.24L260.74 285.49L261.14 285.24L261.55 285.94L261.95 285.88L262.35 285.92L262.75 286.29L263.15 283.76L263.55 285.02L263.95 283.28L264.36 283.57L264.76 283.20L265.16 286.84L265.56 286.44L265.96 285.22L266.36 286.22L266.76 286.45L267.17 286.00L267.57 283.41L267.97 285.98L268.37 286.91L268.77 286.53L269.17 286.31L269.57 285.96L269.97 282.78L270.38 283.31L270.78 284.96L271.18 286.00L271.58 285.79L271.98 285.55L272.38 284.80L272.78 284.57L273.19 283.72L273.59 284.17L273.99 282.11L274.39 285.09L274.79 284.88L275.19 285.06L275.59 285.21L276.00 285.63L276.40 286.22L276.80 284.84L277.20 284.84L277.60 283.36L278.00 285.53L278.40 285.04L278.81 281.61L279.21 285.69L279.61 285.40L280.01 285.91L280.41 286.16L280.81 284.54L281.21 282.63L281.62 285.43L282.02 284.98L282.42 284.28L282.82 285.60L283.22 285.26L283.62 285.31L284.02 282.88L284.43 285.06L284.83 286.70L285.23 285.35L285.63 282.72L286.03 284.97L286.43 286.15L286.83 285.79L287.24 285.20L287.64 286.21L288.04 285.93L288.04 291.50Z" fill="#8c1722"/>
<path d="M76.90 342.60L76.90 331.90L77.30 334.46L77.70 334.56L78.10 333.73L78.51 334.01L78.91 332.98L79.31 332.14L79.71 333.36L80.11 334.54L80.51 334.10L80.91 333.57L81.32 328.03L81.72 330.28L82.12 332.43L82.52 331.72L82.92 330.12L83.32 331.93L83.72 334.01L84.13 334.08L84.53 331.73L84.93 332.58L85.33 333.87L85.73 332.37L86.13 333.83L86.53 327.43L86.94 333.27L87.34 333.56L87.74 332.64L88.14 332.09L88.54 331.09L88.94 335.41L89.34 333.18L89.74 326.51L90.15 333.78L90.55 332.97L90.95 333.26L91.35 332.21L91.75 332.15L92.15 331.50L92.55 335.10L92.96 330.82L93.36 334.45L93.76 333.47L94.16 333.82L94.56 328.49L94.96 330.79L95.36 334.40L95.77 332.17L96.17 331.61L96.57 335.46L96.97 332.39L97.37 334.09L97.77 331.44L98.17 334.12L98.58 333.24L98.98 332.41L99.38 333.07L99.78 333.12L100.18 333.95L100.58 333.52L100.98 333.63L101.39 333.54L101.79 332.30L102.19 333.99L102.59 329.36L102.99 331.39L103.39 325.34L103.79 333.45L104.20 333.05L104.60 332.86L105.00 328.95L105.40 333.38L105.80 333.93L106.20 327.53L106.60 333.57L107.01 330.87L107.41 324.54L107.81 318.38L108.21 311.19L108.61 320.38L109.01 315.07L109.41 305.37L109.82 304.30L110.22 321.03L110.62 324.98L111.02 319.41L111.42 323.01L111.82 313.84L112.22 303.02L112.62 314.12L113.03 313.09L113.43 314.69L113.83 310.52L114.23 299.19L114.63 304.95L115.03 314.08L115.43 323.98L115.84 322.61L116.24 322.54L116.64 329.85L117.04 326.43L117.44 325.18L117.84 328.28L118.24 326.50L118.65 325.86L119.05 327.12L119.45 319.53L119.85 326.11L120.25 325.85L120.65 328.95L121.05 326.00L121.46 324.40L121.86 325.14L122.26 322.36L122.66 328.79L123.06 326.11L123.46 330.77L123.86 329.66L124.27 331.56L124.67 333.86L125.07 330.17L125.47 327.81L125.87 333.27L126.27 329.15L126.67 331.86L127.08 333.90L127.48 333.96L127.88 334.62L128.28 336.30L128.68 333.94L129.08 334.69L129.48 334.43L129.89 316.61L130.29 332.16L130.69 332.16L131.09 327.92L131.49 331.22L131.89 332.74L132.29 331.14L132.70 329.71L133.10 328.77L133.50 331.98L133.90 329.51L134.30 324.11L134.70 329.79L135.10 329.86L135.50 329.92L135.91 327.18L136.31 324.89L136.71 325.31L137.11 329.37L137.51 330.03L137.91 329.92L138.31 330.23L138.72 329.50L139.12 331.67L139.52 326.94L139.92 332.39L140.32 330.19L140.72 330.46L141.12 333.25L141.53 333.03L141.93 331.40L142.33 334.04L142.73 331.86L143.13 333.65L143.53 332.90L143.93 331.04L144.34 334.16L144.74 330.32L145.14 334.59L145.54 329.82L145.94 332.96L146.34 333.19L146.74 330.81L147.15 334.44L147.55 333.98L147.95 335.19L148.35 332.46L148.75 333.98L149.15 333.70L149.55 328.78L149.96 330.77L150.36 331.08L150.76 332.37L151.16 330.11L151.56 327.99L151.96 327.86L152.36 327.76L152.77 332.66L153.17 331.07L153.57 329.97L153.97 325.15L154.37 331.07L154.77 329.55L155.17 324.72L155.57 328.19L155.98 314.52L156.38 329.09L156.78 330.34L157.18 330.89L157.58 334.38L157.98 334.12L158.38 332.87L158.79 330.44L159.19 330.81L159.59 321.79L159.99 329.53L160.39 324.42L160.79 322.97L161.19 325.54L161.60 331.04L162.00 329.90L162.40 329.82L162.80 327.32L163.20 325.48L163.60 331.21L164.00 331.07L164.41 328.26L164.81 332.52L165.21 328.63L165.61 326.15L166.01 331.96L166.41 329.45L166.81 333.13L167.22 332.51L167.62 330.47L168.02 330.30L168.42 329.33L168.82 332.35L169.22 332.47L169.62 332.85L170.03 329.60L170.43 331.94L170.83 334.41L171.23 333.17L171.63 332.50L172.03 333.41L172.43 332.95L172.84 336.20L173.24 334.77L173.64 331.89L174.04 331.53L174.44 332.22L174.84 328.65L175.24 328.12L175.65 327.67L176.05 325.89L176.45 331.45L176.85 331.33L177.25 327.19L177.65 331.15L178.05 325.17L178.45 330.83L178.86 331.23L179.26 330.59L179.66 332.84L180.06 332.82L180.46 331.48L180.86 331.18L181.26 328.82L181.67 326.05L182.07 331.36L182.47 328.92L182.87 325.42L183.27 325.71L183.67 325.91L184.07 316.87L184.48 327.62L184.88 329.00L185.28 328.71L185.68 323.58L186.08 327.59L186.48 319.55L186.88 328.30L187.29 323.61L187.69 326.62L188.09 327.78L188.49 328.17L188.89 325.34L189.29 315.13L189.69 320.90L190.10 317.45L190.50 320.47L190.90 322.61L191.30 325.07L191.70 325.88L192.10 328.46L192.50 324.75L192.91 324.62L193.31 324.64L193.71 318.34L194.11 319.24L194.51 329.05L194.91 329.21L195.31 331.61L195.72 328.41L196.12 309.65L196.52 326.71L196.92 325.87L197.32 322.98L197.72 326.70L198.12 327.35L198.53 329.48L198.93 330.05L199.33 331.41L199.73 332.19L200.13 327.86L200.53 320.98L200.93 325.61L201.33 320.24L201.74 328.08L202.14 328.58L202.54 327.82L202.94 325.66L203.34 326.98L203.74 329.60L204.14 327.65L204.55 328.18L204.95 329.17L205.35 329.42L205.75 325.34L206.15 328.98L206.55 330.85L206.95 328.47L207.36 328.76L207.76 327.08L208.16 329.18L208.56 329.23L208.96 324.86L209.36 326.67L209.76 326.92L210.17 328.80L210.57 327.73L210.97 327.46L211.37 327.50L211.77 328.38L212.17 328.38L212.57 331.08L212.98 331.47L213.38 331.14L213.78 326.56L214.18 329.15L214.58 332.77L214.98 332.39L215.38 333.66L215.79 333.09L216.19 333.33L216.59 330.68L216.99 332.32L217.39 335.10L217.79 332.23L218.19 335.22L218.60 329.76L219.00 327.50L219.40 328.96L219.80 331.57L220.20 324.84L220.60 330.19L221.00 328.60L221.41 326.88L221.81 330.67L222.21 332.37L222.61 330.27L223.01 326.80L223.41 326.99L223.81 329.26L224.21 325.12L224.62 329.08L225.02 330.12L225.42 329.06L225.82 331.16L226.22 330.41L226.62 325.56L227.02 331.01L227.43 322.50L227.83 328.55L228.23 327.31L228.63 331.18L229.03 329.62L229.43 327.89L229.83 330.05L230.24 323.62L230.64 329.91L231.04 328.57L231.44 328.45L231.84 325.11L232.24 330.05L232.64 325.14L233.05 321.78L233.45 328.44L233.85 326.23L234.25 317.82L234.65 325.88L235.05 332.27L235.45 331.40L235.86 330.21L236.26 328.65L236.66 330.37L237.06 328.51L237.46 327.90L237.86 323.09L238.26 325.20L238.67 327.18L239.07 328.33L239.47 323.97L239.87 329.27L240.27 323.65L240.67 328.27L241.07 330.70L241.48 332.37L241.88 331.60L242.28 332.85L242.68 331.06L243.08 329.16L243.48 329.12L243.88 323.34L244.29 319.25L244.69 295.36L245.09 299.49L245.49 321.22L245.89 331.02L246.29 331.41L246.69 330.64L247.09 333.14L247.50 333.24L247.90 332.76L248.30 331.47L248.70 330.65L249.10 329.75L249.50 333.40L249.90 332.46L250.31 332.27L250.71 329.76L251.11 332.23L251.51 333.99L251.91 331.38L252.31 330.68L252.71 334.74L253.12 333.86L253.52 334.51L253.92 333.29L254.32 334.17L254.72 334.69L255.12 336.09L255.52 335.90L255.93 336.23L256.33 333.62L256.73 335.50L257.13 335.32L257.53 331.70L257.93 332.51L258.33 331.97L258.74 333.93L259.14 332.60L259.54 333.82L259.94 330.30L260.34 329.58L260.74 332.44L261.14 325.32L261.55 333.07L261.95 331.44L262.35 332.05L262.75 329.32L263.15 331.50L263.55 331.19L263.95 331.33L264.36 331.65L264.76 329.70L265.16 327.68L265.56 331.60L265.96 329.55L266.36 329.58L266.76 329.92L267.17 328.56L267.57 330.59L267.97 332.33L268.37 330.52L268.77 331.85L269.17 333.38L269.57 333.50L269.97 331.33L270.38 330.08L270.78 332.43L271.18 333.01L271.58 334.29L271.98 333.43L272.38 331.02L272.78 329.60L273.19 328.60L273.59 325.22L273.99 326.82L274.39 328.64L274.79 328.00L275.19 329.11L275.59 331.25L276.00 323.97L276.40 331.16L276.80 327.16L277.20 327.53L277.60 328.43L278.00 327.10L278.40 326.20L278.81 327.84L279.21 329.49L279.61 324.13L280.01 330.49L280.41 330.82L280.81 327.60L281.21 330.41L281.62 326.54L282.02 331.10L282.42 332.75L282.82 331.09L283.22 328.13L283.62 330.89L284.02 316.21L284.43 324.02L284.83 329.78L285.23 328.55L285.63 329.70L286.03 324.68L286.43 325.62L286.83 324.01L287.24 308.97L287.64 302.47L288.04 324.50L288.04 342.60Z" fill="#9b1a28"/>
<rect x="76.90" y="348.80" width="211.14" height="7.10" fill="#c67f89"/>
<rect x="76.90" y="355.90" width="211.14" height="7.10" fill="#cb848e"/>
<rect x="76.90" y="348.80" width="1.00" height="7.10" fill="#d08d96"/><rect x="78.83" y="348.80" width="1.94" height="7.10" fill="#d08d96"/><rect x="80.76" y="348.80" width="1.22" height="7.10" fill="#b86f7a"/><rect x="81.99" y="348.80" width="1.42" height="7.10" fill="#bf7680"/><rect x="84.25" y="348.80" width="0.51" height="7.10" fill="#b86f7a"/><rect x="89.38" y="348.80" width="0.75" height="7.10" fill="#bf7680"/><rect x="90.13" y="348.80" width="2.04" height="7.10" fill="#bf7680"/><rect x="92.17" y="348.80" width="2.19" height="7.10" fill="#b86f7a"/><rect x="96.07" y="348.80" width="0.84" height="7.10" fill="#bf7680"/><rect x="96.91" y="348.80" width="0.83" height="7.10" fill="#bf7680"/><rect x="97.74" y="348.80" width="0.79" height="7.10" fill="#b86f7a"/><rect x="98.53" y="348.80" width="1.53" height="7.10" fill="#b86f7a"/><rect x="100.06" y="348.80" width="2.24" height="7.10" fill="#b86f7a"/><rect x="102.30" y="348.80" width="0.81" height="7.10" fill="#c27a84"/><rect x="103.57" y="348.80" width="0.48" height="7.10" fill="#bf7680"/><rect x="105.30" y="348.80" width="1.27" height="7.10" fill="#d08d96"/><rect x="106.56" y="348.80" width="2.38" height="7.10" fill="#bf7680"/><rect x="108.94" y="348.80" width="1.89" height="7.10" fill="#b86f7a"/><rect x="110.83" y="348.80" width="1.11" height="7.10" fill="#c27a84"/><rect x="114.53" y="348.80" width="1.12" height="7.10" fill="#bf7680"/><rect x="117.35" y="348.80" width="1.33" height="7.10" fill="#d08d96"/><rect x="118.68" y="348.80" width="0.41" height="7.10" fill="#bf7680"/><rect x="121.83" y="348.80" width="2.54" height="7.10" fill="#d08d96"/><rect x="124.37" y="348.80" width="1.51" height="7.10" fill="#c27a84"/><rect x="125.89" y="348.80" width="1.28" height="7.10" fill="#bf7680"/><rect x="129.55" y="348.80" width="0.92" height="7.10" fill="#bf7680"/><rect x="130.46" y="348.80" width="0.83" height="7.10" fill="#c27a84"/><rect x="131.30" y="348.80" width="1.81" height="7.10" fill="#bf7680"/><rect x="133.10" y="348.80" width="1.31" height="7.10" fill="#b86f7a"/><rect x="136.43" y="348.80" width="2.07" height="7.10" fill="#b86f7a"/><rect x="138.50" y="348.80" width="1.07" height="7.10" fill="#d08d96"/><rect x="140.50" y="348.80" width="1.11" height="7.10" fill="#c27a84"/><rect x="141.61" y="348.80" width="1.76" height="7.10" fill="#d08d96"/><rect x="143.36" y="348.80" width="1.54" height="7.10" fill="#b86f7a"/><rect x="144.90" y="348.80" width="1.86" height="7.10" fill="#bf7680"/><rect x="146.77" y="348.80" width="0.50" height="7.10" fill="#bf7680"/><rect x="148.94" y="348.80" width="0.84" height="7.10" fill="#d08d96"/><rect x="153.78" y="348.80" width="1.75" height="7.10" fill="#c27a84"/><rect x="156.41" y="348.80" width="1.88" height="7.10" fill="#c27a84"/><rect x="159.23" y="348.80" width="1.08" height="7.10" fill="#bf7680"/><rect x="162.90" y="348.80" width="2.56" height="7.10" fill="#d08d96"/><rect x="165.46" y="348.80" width="1.06" height="7.10" fill="#bf7680"/><rect x="167.86" y="348.80" width="1.74" height="7.10" fill="#d08d96"/><rect x="169.59" y="348.80" width="2.36" height="7.10" fill="#d08d96"/><rect x="171.95" y="348.80" width="0.86" height="7.10" fill="#bf7680"/><rect x="174.57" y="348.80" width="2.35" height="7.10" fill="#d08d96"/><rect x="176.92" y="348.80" width="0.90" height="7.10" fill="#c27a84"/><rect x="179.44" y="348.80" width="1.62" height="7.10" fill="#bf7680"/><rect x="181.06" y="348.80" width="0.45" height="7.10" fill="#c27a84"/><rect x="181.50" y="348.80" width="1.70" height="7.10" fill="#c27a84"/><rect x="186.45" y="348.80" width="1.20" height="7.10" fill="#d08d96"/><rect x="187.65" y="348.80" width="0.49" height="7.10" fill="#b86f7a"/><rect x="193.88" y="348.80" width="1.45" height="7.10" fill="#d08d96"/><rect x="195.33" y="348.80" width="1.21" height="7.10" fill="#bf7680"/><rect x="196.54" y="348.80" width="2.36" height="7.10" fill="#bf7680"/><rect x="198.90" y="348.80" width="0.87" height="7.10" fill="#b86f7a"/><rect x="199.76" y="348.80" width="2.24" height="7.10" fill="#c27a84"/><rect x="202.81" y="348.80" width="2.56" height="7.10" fill="#b86f7a"/><rect x="205.36" y="348.80" width="1.72" height="7.10" fill="#c27a84"/><rect x="207.09" y="348.80" width="0.44" height="7.10" fill="#b86f7a"/><rect x="207.53" y="348.80" width="1.70" height="7.10" fill="#d08d96"/><rect x="211.69" y="348.80" width="1.07" height="7.10" fill="#c27a84"/><rect x="212.76" y="348.80" width="1.21" height="7.10" fill="#bf7680"/><rect x="216.42" y="348.80" width="1.01" height="7.10" fill="#b86f7a"/><rect x="217.43" y="348.80" width="1.77" height="7.10" fill="#d08d96"/><rect x="220.49" y="348.80" width="1.43" height="7.10" fill="#d08d96"/><rect x="224.49" y="348.80" width="0.56" height="7.10" fill="#d08d96"/><rect x="225.05" y="348.80" width="1.63" height="7.10" fill="#d08d96"/><rect x="226.68" y="348.80" width="1.14" height="7.10" fill="#bf7680"/><rect x="227.82" y="348.80" width="2.41" height="7.10" fill="#bf7680"/><rect x="230.23" y="348.80" width="0.54" height="7.10" fill="#d08d96"/><rect x="230.77" y="348.80" width="2.07" height="7.10" fill="#c27a84"/><rect x="232.85" y="348.80" width="1.88" height="7.10" fill="#d08d96"/><rect x="236.16" y="348.80" width="2.54" height="7.10" fill="#d08d96"/><rect x="238.70" y="348.80" width="1.18" height="7.10" fill="#c27a84"/><rect x="239.89" y="348.80" width="0.54" height="7.10" fill="#bf7680"/><rect x="242.31" y="348.80" width="0.76" height="7.10" fill="#bf7680"/><rect x="243.59" y="348.80" width="1.75" height="7.10" fill="#d08d96"/><rect x="245.34" y="348.80" width="2.02" height="7.10" fill="#c27a84"/><rect x="247.36" y="348.80" width="2.52" height="7.10" fill="#d08d96"/><rect x="249.88" y="348.80" width="1.39" height="7.10" fill="#d08d96"/><rect x="251.28" y="348.80" width="2.58" height="7.10" fill="#b86f7a"/><rect x="254.81" y="348.80" width="0.57" height="7.10" fill="#c27a84"/><rect x="255.38" y="348.80" width="2.40" height="7.10" fill="#c27a84"/><rect x="259.76" y="348.80" width="1.18" height="7.10" fill="#c27a84"/><rect x="261.81" y="348.80" width="2.46" height="7.10" fill="#bf7680"/><rect x="264.27" y="348.80" width="0.55" height="7.10" fill="#d08d96"/><rect x="267.30" y="348.80" width="1.25" height="7.10" fill="#d08d96"/><rect x="271.06" y="348.80" width="0.57" height="7.10" fill="#bf7680"/><rect x="271.62" y="348.80" width="1.36" height="7.10" fill="#c27a84"/><rect x="272.98" y="348.80" width="0.81" height="7.10" fill="#c27a84"/><rect x="273.79" y="348.80" width="1.38" height="7.10" fill="#bf7680"/><rect x="276.60" y="348.80" width="0.70" height="7.10" fill="#d08d96"/><rect x="277.30" y="348.80" width="1.03" height="7.10" fill="#b86f7a"/><rect x="278.33" y="348.80" width="1.23" height="7.10" fill="#b86f7a"/><rect x="284.19" y="348.80" width="1.03" height="7.10" fill="#bf7680"/><rect x="285.22" y="348.80" width="1.24" height="7.10" fill="#b86f7a"/><rect x="286.45" y="348.80" width="1.59" height="7.10" fill="#c27a84"/><rect x="80.21" y="355.90" width="0.45" height="7.10" fill="#b86f7a"/><rect x="81.88" y="355.90" width="1.81" height="7.10" fill="#c27a84"/><rect x="83.69" y="355.90" width="0.80" height="7.10" fill="#bf7680"/><rect x="85.24" y="355.90" width="1.35" height="7.10" fill="#d08d96"/><rect x="86.59" y="355.90" width="2.42" height="7.10" fill="#bf7680"/><rect x="91.38" y="355.90" width="2.19" height="7.10" fill="#bf7680"/><rect x="93.56" y="355.90" width="0.74" height="7.10" fill="#bf7680"/><rect x="94.30" y="355.90" width="1.64" height="7.10" fill="#d08d96"/><rect x="95.94" y="355.90" width="1.01" height="7.10" fill="#c27a84"/><rect x="96.95" y="355.90" width="2.50" height="7.10" fill="#bf7680"/><rect x="99.45" y="355.90" width="1.40" height="7.10" fill="#b86f7a"/><rect x="101.36" y="355.90" width="1.58" height="7.10" fill="#d08d96"/><rect x="103.52" y="355.90" width="1.79" height="7.10" fill="#c27a84"/><rect x="105.32" y="355.90" width="1.28" height="7.10" fill="#c27a84"/><rect x="106.59" y="355.90" width="1.11" height="7.10" fill="#bf7680"/><rect x="107.70" y="355.90" width="2.22" height="7.10" fill="#d08d96"/><rect x="109.93" y="355.90" width="1.99" height="7.10" fill="#c27a84"/><rect x="114.29" y="355.90" width="2.05" height="7.10" fill="#d08d96"/><rect x="117.55" y="355.90" width="2.06" height="7.10" fill="#c27a84"/><rect x="119.61" y="355.90" width="2.04" height="7.10" fill="#c27a84"/><rect x="121.66" y="355.90" width="1.90" height="7.10" fill="#bf7680"/><rect x="123.56" y="355.90" width="2.35" height="7.10" fill="#bf7680"/><rect x="125.90" y="355.90" width="0.56" height="7.10" fill="#bf7680"/><rect x="126.47" y="355.90" width="0.76" height="7.10" fill="#d08d96"/><rect x="127.23" y="355.90" width="1.58" height="7.10" fill="#d08d96"/><rect x="128.80" y="355.90" width="1.93" height="7.10" fill="#bf7680"/><rect x="132.44" y="355.90" width="0.44" height="7.10" fill="#b86f7a"/><rect x="132.88" y="355.90" width="1.28" height="7.10" fill="#bf7680"/><rect x="135.82" y="355.90" width="2.07" height="7.10" fill="#bf7680"/><rect x="137.89" y="355.90" width="2.18" height="7.10" fill="#c27a84"/><rect x="147.14" y="355.90" width="1.84" height="7.10" fill="#bf7680"/><rect x="152.43" y="355.90" width="2.20" height="7.10" fill="#bf7680"/><rect x="162.03" y="355.90" width="2.37" height="7.10" fill="#bf7680"/><rect x="164.40" y="355.90" width="1.61" height="7.10" fill="#c27a84"/><rect x="166.01" y="355.90" width="1.65" height="7.10" fill="#bf7680"/><rect x="167.66" y="355.90" width="0.51" height="7.10" fill="#c27a84"/><rect x="168.16" y="355.90" width="0.43" height="7.10" fill="#b86f7a"/><rect x="168.59" y="355.90" width="1.34" height="7.10" fill="#d08d96"/><rect x="172.78" y="355.90" width="0.73" height="7.10" fill="#b86f7a"/><rect x="174.06" y="355.90" width="0.89" height="7.10" fill="#d08d96"/><rect x="177.58" y="355.90" width="1.74" height="7.10" fill="#bf7680"/><rect x="179.33" y="355.90" width="2.49" height="7.10" fill="#bf7680"/><rect x="182.43" y="355.90" width="2.31" height="7.10" fill="#b86f7a"/><rect x="185.49" y="355.90" width="0.68" height="7.10" fill="#bf7680"/><rect x="186.17" y="355.90" width="1.43" height="7.10" fill="#b86f7a"/><rect x="187.61" y="355.90" width="1.55" height="7.10" fill="#bf7680"/><rect x="189.16" y="355.90" width="1.06" height="7.10" fill="#c27a84"/><rect x="191.09" y="355.90" width="1.07" height="7.10" fill="#b86f7a"/><rect x="196.15" y="355.90" width="1.55" height="7.10" fill="#c27a84"/><rect x="197.70" y="355.90" width="0.51" height="7.10" fill="#b86f7a"/><rect x="198.21" y="355.90" width="0.96" height="7.10" fill="#b86f7a"/><rect x="199.17" y="355.90" width="0.91" height="7.10" fill="#c27a84"/><rect x="204.39" y="355.90" width="2.09" height="7.10" fill="#c27a84"/><rect x="207.42" y="355.90" width="2.02" height="7.10" fill="#d08d96"/><rect x="209.44" y="355.90" width="0.49" height="7.10" fill="#d08d96"/><rect x="209.93" y="355.90" width="2.36" height="7.10" fill="#b86f7a"/><rect x="212.29" y="355.90" width="0.97" height="7.10" fill="#b86f7a"/><rect x="214.67" y="355.90" width="2.04" height="7.10" fill="#b86f7a"/><rect x="216.71" y="355.90" width="1.68" height="7.10" fill="#bf7680"/><rect x="220.82" y="355.90" width="2.52" height="7.10" fill="#b86f7a"/><rect x="223.34" y="355.90" width="1.55" height="7.10" fill="#bf7680"/><rect x="224.89" y="355.90" width="1.51" height="7.10" fill="#d08d96"/><rect x="229.27" y="355.90" width="1.74" height="7.10" fill="#b86f7a"/><rect x="231.00" y="355.90" width="1.76" height="7.10" fill="#d08d96"/><rect x="232.76" y="355.90" width="1.86" height="7.10" fill="#d08d96"/><rect x="234.63" y="355.90" width="1.93" height="7.10" fill="#bf7680"/><rect x="236.56" y="355.90" width="2.21" height="7.10" fill="#c27a84"/><rect x="238.77" y="355.90" width="2.02" height="7.10" fill="#d08d96"/><rect x="240.79" y="355.90" width="2.43" height="7.10" fill="#bf7680"/><rect x="243.22" y="355.90" width="2.56" height="7.10" fill="#b86f7a"/><rect x="245.78" y="355.90" width="1.40" height="7.10" fill="#b86f7a"/><rect x="247.19" y="355.90" width="1.59" height="7.10" fill="#c27a84"/><rect x="248.77" y="355.90" width="2.50" height="7.10" fill="#bf7680"/><rect x="251.28" y="355.90" width="1.31" height="7.10" fill="#d08d96"/><rect x="252.59" y="355.90" width="2.06" height="7.10" fill="#b86f7a"/><rect x="257.96" y="355.90" width="1.36" height="7.10" fill="#bf7680"/><rect x="259.32" y="355.90" width="0.51" height="7.10" fill="#d08d96"/><rect x="259.84" y="355.90" width="1.62" height="7.10" fill="#c27a84"/><rect x="261.46" y="355.90" width="0.65" height="7.10" fill="#bf7680"/><rect x="263.11" y="355.90" width="1.17" height="7.10" fill="#c27a84"/><rect x="265.37" y="355.90" width="0.66" height="7.10" fill="#b86f7a"/><rect x="266.03" y="355.90" width="0.45" height="7.10" fill="#b86f7a"/><rect x="266.48" y="355.90" width="2.36" height="7.10" fill="#c27a84"/><rect x="271.26" y="355.90" width="2.08" height="7.10" fill="#d08d96"/><rect x="276.62" y="355.90" width="1.28" height="7.10" fill="#b86f7a"/><rect x="277.90" y="355.90" width="1.66" height="7.10" fill="#c27a84"/><rect x="281.87" y="355.90" width="0.76" height="7.10" fill="#b86f7a"/><rect x="287.15" y="355.90" width="0.89" height="7.10" fill="#d08d96"/><rect x="77.01" y="355.90" width="0.44" height="7.10" fill="#8e3a48" fill-opacity="0.49"/><rect x="81.98" y="348.80" width="0.75" height="14.20" fill="#8e3a48" fill-opacity="0.52"/><rect x="83.46" y="348.80" width="0.38" height="14.20" fill="#8e3a48" fill-opacity="0.32"/><rect x="84.84" y="348.80" width="0.30" height="14.20" fill="#8e3a48" fill-opacity="0.28"/><rect x="87.20" y="348.80" width="0.38" height="14.20" fill="#8e3a48" fill-opacity="0.29"/><rect x="88.68" y="355.90" width="0.61" height="7.10" fill="#8e3a48" fill-opacity="0.37"/><rect x="89.05" y="348.80" width="0.66" height="7.10" fill="#8e3a48" fill-opacity="0.50"/><rect x="92.58" y="348.80" width="0.61" height="7.10" fill="#8e3a48" fill-opacity="0.31"/><rect x="92.59" y="348.80" width="0.77" height="14.20" fill="#8e3a48" fill-opacity="0.39"/><rect x="93.20" y="348.80" width="0.43" height="14.20" fill="#8e3a48" fill-opacity="0.39"/><rect x="95.08" y="348.80" width="0.34" height="7.10" fill="#8e3a48" fill-opacity="0.28"/><rect x="97.72" y="355.90" width="0.69" height="7.10" fill="#8e3a48" fill-opacity="0.25"/><rect x="98.17" y="355.90" width="0.49" height="7.10" fill="#8e3a48" fill-opacity="0.46"/><rect x="100.82" y="355.90" width="0.68" height="7.10" fill="#8e3a48" fill-opacity="0.35"/><rect x="102.52" y="348.80" width="0.39" height="7.10" fill="#8e3a48" fill-opacity="0.41"/><rect x="106.58" y="348.80" width="0.79" height="14.20" fill="#8e3a48" fill-opacity="0.50"/><rect x="109.59" y="355.90" width="0.46" height="7.10" fill="#8e3a48" fill-opacity="0.43"/><rect x="112.26" y="348.80" width="0.80" height="7.10" fill="#8e3a48" fill-opacity="0.54"/><rect x="112.45" y="348.80" width="0.41" height="7.10" fill="#8e3a48" fill-opacity="0.31"/><rect x="113.71" y="348.80" width="0.80" height="14.20" fill="#8e3a48" fill-opacity="0.44"/><rect x="113.84" y="348.80" width="0.78" height="14.20" fill="#8e3a48" fill-opacity="0.51"/><rect x="119.09" y="348.80" width="0.71" height="14.20" fill="#8e3a48" fill-opacity="0.34"/><rect x="120.94" y="348.80" width="0.75" height="14.20" fill="#8e3a48" fill-opacity="0.53"/><rect x="124.29" y="355.90" width="0.42" height="7.10" fill="#8e3a48" fill-opacity="0.27"/><rect x="124.57" y="348.80" width="0.32" height="7.10" fill="#8e3a48" fill-opacity="0.46"/><rect x="127.86" y="355.90" width="0.55" height="7.10" fill="#8e3a48" fill-opacity="0.52"/><rect x="129.13" y="348.80" width="0.46" height="7.10" fill="#8e3a48" fill-opacity="0.33"/><rect x="133.64" y="348.80" width="0.76" height="7.10" fill="#8e3a48" fill-opacity="0.30"/><rect x="142.70" y="355.90" width="0.67" height="7.10" fill="#8e3a48" fill-opacity="0.45"/><rect x="142.72" y="348.80" width="0.52" height="7.10" fill="#8e3a48" fill-opacity="0.35"/><rect x="152.82" y="348.80" width="0.43" height="7.10" fill="#8e3a48" fill-opacity="0.34"/><rect x="154.08" y="348.80" width="0.68" height="14.20" fill="#8e3a48" fill-opacity="0.46"/><rect x="156.26" y="348.80" width="0.62" height="14.20" fill="#8e3a48" fill-opacity="0.26"/><rect x="156.98" y="355.90" width="0.62" height="7.10" fill="#8e3a48" fill-opacity="0.50"/><rect x="158.07" y="355.90" width="0.65" height="7.10" fill="#8e3a48" fill-opacity="0.29"/><rect x="160.64" y="348.80" width="0.40" height="14.20" fill="#8e3a48" fill-opacity="0.45"/><rect x="164.80" y="348.80" width="0.59" height="7.10" fill="#8e3a48" fill-opacity="0.39"/><rect x="165.32" y="348.80" width="0.40" height="14.20" fill="#8e3a48" fill-opacity="0.46"/><rect x="167.30" y="348.80" width="0.65" height="7.10" fill="#8e3a48" fill-opacity="0.33"/><rect x="168.56" y="348.80" width="0.37" height="14.20" fill="#8e3a48" fill-opacity="0.40"/><rect x="171.90" y="348.80" width="0.33" height="7.10" fill="#8e3a48" fill-opacity="0.40"/><rect x="179.62" y="348.80" width="0.77" height="7.10" fill="#8e3a48" fill-opacity="0.28"/><rect x="179.79" y="348.80" width="0.36" height="7.10" fill="#8e3a48" fill-opacity="0.31"/><rect x="180.29" y="355.90" width="0.43" height="7.10" fill="#8e3a48" fill-opacity="0.28"/><rect x="180.41" y="348.80" width="0.70" height="7.10" fill="#8e3a48" fill-opacity="0.48"/><rect x="181.46" y="348.80" width="0.62" height="14.20" fill="#8e3a48" fill-opacity="0.42"/><rect x="183.54" y="348.80" width="0.41" height="7.10" fill="#8e3a48" fill-opacity="0.43"/><rect x="184.98" y="348.80" width="0.38" height="14.20" fill="#8e3a48" fill-opacity="0.34"/><rect x="185.86" y="355.90" width="0.63" height="7.10" fill="#8e3a48" fill-opacity="0.46"/><rect x="187.46" y="348.80" width="0.54" height="14.20" fill="#8e3a48" fill-opacity="0.28"/><rect x="189.63" y="348.80" width="0.79" height="7.10" fill="#8e3a48" fill-opacity="0.30"/><rect x="192.33" y="348.80" width="0.59" height="7.10" fill="#8e3a48" fill-opacity="0.44"/><rect x="194.07" y="348.80" width="0.80" height="7.10" fill="#8e3a48" fill-opacity="0.55"/><rect x="197.69" y="355.90" width="0.60" height="7.10" fill="#8e3a48" fill-opacity="0.39"/><rect x="201.91" y="355.90" width="0.57" height="7.10" fill="#8e3a48" fill-opacity="0.25"/><rect x="202.09" y="348.80" width="0.59" height="7.10" fill="#8e3a48" fill-opacity="0.53"/><rect x="203.60" y="348.80" width="0.40" height="14.20" fill="#8e3a48" fill-opacity="0.51"/><rect x="204.24" y="355.90" width="0.79" height="7.10" fill="#8e3a48" fill-opacity="0.29"/><rect x="207.92" y="348.80" width="0.38" height="7.10" fill="#8e3a48" fill-opacity="0.47"/><rect x="208.08" y="348.80" width="0.56" height="14.20" fill="#8e3a48" fill-opacity="0.40"/><rect x="208.75" y="348.80" width="0.73" height="7.10" fill="#8e3a48" fill-opacity="0.50"/><rect x="209.85" y="348.80" width="0.51" height="7.10" fill="#8e3a48" fill-opacity="0.52"/><rect x="210.74" y="355.90" width="0.57" height="7.10" fill="#8e3a48" fill-opacity="0.34"/><rect x="211.98" y="348.80" width="0.78" height="7.10" fill="#8e3a48" fill-opacity="0.43"/><rect x="213.21" y="355.90" width="0.40" height="7.10" fill="#8e3a48" fill-opacity="0.43"/><rect x="221.91" y="348.80" width="0.68" height="7.10" fill="#8e3a48" fill-opacity="0.38"/><rect x="223.70" y="348.80" width="0.38" height="7.10" fill="#8e3a48" fill-opacity="0.30"/><rect x="226.14" y="348.80" width="0.71" height="14.20" fill="#8e3a48" fill-opacity="0.42"/><rect x="226.34" y="355.90" width="0.52" height="7.10" fill="#8e3a48" fill-opacity="0.53"/><rect x="226.95" y="355.90" width="0.73" height="7.10" fill="#8e3a48" fill-opacity="0.32"/><rect x="226.98" y="348.80" width="0.43" height="14.20" fill="#8e3a48" fill-opacity="0.47"/><rect x="228.34" y="348.80" width="0.44" height="14.20" fill="#8e3a48" fill-opacity="0.41"/><rect x="229.44" y="348.80" width="0.80" height="7.10" fill="#8e3a48" fill-opacity="0.33"/><rect x="231.94" y="355.90" width="0.41" height="7.10" fill="#8e3a48" fill-opacity="0.26"/><rect x="233.32" y="348.80" width="0.46" height="7.10" fill="#8e3a48" fill-opacity="0.55"/><rect x="235.04" y="348.80" width="0.40" height="14.20" fill="#8e3a48" fill-opacity="0.32"/><rect x="236.70" y="355.90" width="0.48" height="7.10" fill="#8e3a48" fill-opacity="0.45"/><rect x="237.03" y="348.80" width="0.78" height="14.20" fill="#8e3a48" fill-opacity="0.41"/><rect x="244.19" y="348.80" width="0.73" height="7.10" fill="#8e3a48" fill-opacity="0.25"/><rect x="245.86" y="348.80" width="0.34" height="14.20" fill="#8e3a48" fill-opacity="0.53"/><rect x="247.56" y="348.80" width="0.75" height="14.20" fill="#8e3a48" fill-opacity="0.32"/><rect x="247.89" y="348.80" width="0.38" height="14.20" fill="#8e3a48" fill-opacity="0.37"/><rect x="248.74" y="348.80" width="0.49" height="14.20" fill="#8e3a48" fill-opacity="0.33"/><rect x="248.95" y="355.90" width="0.64" height="7.10" fill="#8e3a48" fill-opacity="0.50"/><rect x="252.87" y="348.80" width="0.38" height="14.20" fill="#8e3a48" fill-opacity="0.32"/><rect x="255.99" y="355.90" width="0.57" height="7.10" fill="#8e3a48" fill-opacity="0.25"/><rect x="259.40" y="348.80" width="0.56" height="7.10" fill="#8e3a48" fill-opacity="0.47"/><rect x="260.92" y="348.80" width="0.55" height="7.10" fill="#8e3a48" fill-opacity="0.43"/><rect x="269.30" y="348.80" width="0.67" height="14.20" fill="#8e3a48" fill-opacity="0.45"/><rect x="269.86" y="348.80" width="0.58" height="7.10" fill="#8e3a48" fill-opacity="0.49"/><rect x="270.56" y="348.80" width="0.56" height="7.10" fill="#8e3a48" fill-opacity="0.34"/><rect x="276.41" y="348.80" width="0.32" height="7.10" fill="#8e3a48" fill-opacity="0.52"/><rect x="277.26" y="348.80" width="0.44" height="7.10" fill="#8e3a48" fill-opacity="0.37"/><rect x="279.38" y="355.90" width="0.64" height="7.10" fill="#8e3a48" fill-opacity="0.27"/><rect x="279.76" y="348.80" width="0.45" height="7.10" fill="#8e3a48" fill-opacity="0.38"/><rect x="282.08" y="348.80" width="0.71" height="14.20" fill="#8e3a48" fill-opacity="0.37"/><rect x="285.32" y="348.80" width="0.56" height="7.10" fill="#8e3a48" fill-opacity="0.33"/><rect x="287.10" y="355.90" width="0.43" height="7.10" fill="#8e3a48" fill-opacity="0.48"/><rect x="90.67" y="348.80" width="0.58" height="14.20" fill="#fff" fill-opacity="0.77"/><rect x="94.38" y="348.80" width="0.49" height="14.20" fill="#fff" fill-opacity="0.74"/><rect x="98.21" y="348.80" width="0.71" height="14.20" fill="#fff" fill-opacity="0.73"/><rect x="101.18" y="348.80" width="0.71" height="14.20" fill="#fff" fill-opacity="0.76"/><rect x="102.14" y="348.80" width="0.64" height="14.20" fill="#fff" fill-opacity="0.87"/><rect x="120.21" y="348.80" width="0.59" height="14.20" fill="#fff" fill-opacity="0.85"/><rect x="129.84" y="348.80" width="0.50" height="14.20" fill="#fff" fill-opacity="0.62"/><rect x="131.92" y="348.80" width="0.46" height="14.20" fill="#fff" fill-opacity="0.88"/><rect x="138.59" y="348.80" width="0.61" height="14.20" fill="#fff" fill-opacity="0.58"/><rect x="159.40" y="348.80" width="0.43" height="14.20" fill="#fff" fill-opacity="0.62"/><rect x="168.14" y="348.80" width="0.52" height="14.20" fill="#fff" fill-opacity="0.77"/><rect x="218.30" y="348.80" width="0.77" height="14.20" fill="#fff" fill-opacity="0.82"/><rect x="218.39" y="348.80" width="0.62" height="14.20" fill="#fff" fill-opacity="0.60"/><rect x="222.56" y="348.80" width="0.77" height="14.20" fill="#fff" fill-opacity="0.83"/><rect x="224.35" y="348.80" width="0.71" height="14.20" fill="#fff" fill-opacity="0.62"/><rect x="230.62" y="348.80" width="0.66" height="14.20" fill="#fff" fill-opacity="0.56"/><rect x="241.83" y="348.80" width="0.59" height="14.20" fill="#fff" fill-opacity="0.79"/><rect x="244.92" y="348.80" width="0.43" height="14.20" fill="#fff" fill-opacity="0.52"/><rect x="247.30" y="348.80" width="0.50" height="14.20" fill="#fff" fill-opacity="0.86"/>
<text transform="translate(61.1 293.9) scale(1.05 1)" text-anchor="end" font-family="Liberation Sans, sans-serif" font-size="6.9px" fill="#666">0.0000</text>
<text transform="translate(61.1 282.7) scale(1.05 1)" text-anchor="end" font-family="Liberation Sans, sans-serif" font-size="6.9px" fill="#666">0.0025</text>
<text transform="translate(61.1 271.5) scale(1.05 1)" text-anchor="end" font-family="Liberation Sans, sans-serif" font-size="6.9px" fill="#666">0.0050</text>
<text transform="translate(61.1 260.3) scale(1.05 1)" text-anchor="end" font-family="Liberation Sans, sans-serif" font-size="6.9px" fill="#666">0.0075</text>
<text transform="translate(61.1 249.1) scale(1.05 1)" text-anchor="end" font-family="Liberation Sans, sans-serif" font-size="6.9px" fill="#666">0.0100</text>
<text x="61.1" y="345.0" text-anchor="end" font-family="Liberation Sans, sans-serif" font-size="6.9px" fill="#666">0.0</text>
<text x="61.1" y="332.2" text-anchor="end" font-family="Liberation Sans, sans-serif" font-size="6.9px" fill="#666">0.1</text>
<text x="61.1" y="319.5" text-anchor="end" font-family="Liberation Sans, sans-serif" font-size="6.9px" fill="#666">0.2</text>
<text x="61.1" y="306.7" text-anchor="end" font-family="Liberation Sans, sans-serif" font-size="6.9px" fill="#666">0.3</text>
<text x="76.9" y="372.8" text-anchor="middle" font-family="Liberation Sans, sans-serif" font-size="6.9px" fill="#666">0</text>
<text x="123.0" y="372.8" text-anchor="middle" font-family="Liberation Sans, sans-serif" font-size="6.9px" fill="#666">10</text>
<text x="169.1" y="372.8" text-anchor="middle" font-family="Liberation Sans, sans-serif" font-size="6.9px" fill="#666">20</text>
<text x="215.2" y="372.8" text-anchor="middle" font-family="Liberation Sans, sans-serif" font-size="6.9px" fill="#666">30</text>
<text x="261.3" y="372.8" text-anchor="middle" font-family="Liberation Sans, sans-serif" font-size="6.9px" fill="#666">40</text>
<text x="307.4" y="372.8" text-anchor="middle" font-family="Liberation Sans, sans-serif" font-size="6.9px" fill="#666">50</text>
<path d="M64.7 244.9V293.1M64.7 295.9V344.2M64.7 291.5h-1.6M64.7 280.3h-1.6M64.7 269.1h-1.6M64.7 257.9h-1.6M64.7 246.7h-1.6M64.7 342.6h-1.6M64.7 329.8h-1.6M64.7 317.1h-1.6M64.7 304.3h-1.6M64.7 363.5H332.8M76.9 363.5v1.6M123.0 363.5v1.6M169.1 363.5v1.6M215.2 363.5v1.6M261.3 363.5v1.6M307.4 363.5v1.6" stroke="#222" stroke-width="0.9" fill="none"/>
<text transform="translate(29.8 268.8) scale(1.12 1) rotate(-90)" text-anchor="middle" font-family="Liberation Sans, sans-serif" font-weight="bold" font-size="6.6px" fill="#111">π</text>
<text transform="translate(29.8 319.1) scale(1.12 1) rotate(-90)" text-anchor="middle" font-family="Liberation Sans, sans-serif" font-weight="bold" font-size="7.4px" fill="#111">F<tspan font-size="4.6px" dy="2.2">ST</tspan></text>
<text transform="translate(17.5 298.5) scale(1.12 1) rotate(-90)" text-anchor="middle" font-family="Liberation Sans, sans-serif" font-weight="bold" font-size="7.96px" fill="#111">Chromosome I</text>
<text x="0.8" y="247.7" font-family="Liberation Sans, sans-serif" font-weight="bold" font-size="19px" fill="#111">c</text>
<path d="M76.90 453.10L76.90 441.58L77.30 441.30L77.70 440.09L78.10 441.46L78.50 437.90L78.91 434.54L79.31 436.02L79.71 431.16L80.11 431.25L80.51 432.78L80.91 424.08L81.31 417.39L81.71 428.55L82.11 432.46L82.51 429.12L82.92 432.52L83.32 426.67L83.72 419.84L84.12 427.21L84.52 431.69L84.92 428.15L85.32 432.90L85.72 421.65L86.12 431.91L86.53 433.14L86.93 427.15L87.33 429.24L87.73 432.46L88.13 431.99L88.53 425.65L88.93 434.02L89.33 424.75L89.73 430.84L90.13 431.67L90.54 429.07L90.94 427.82L91.34 416.23L91.74 431.06L92.14 429.54L92.54 431.38L92.94 430.99L93.34 426.68L93.74 443.47L94.15 432.29L94.55 434.18L94.95 431.18L95.35 413.58L95.75 419.00L96.15 433.02L96.55 432.43L96.95 425.61L97.35 424.57L97.75 425.96L98.16 423.30L98.56 418.83L98.96 420.72L99.36 423.87L99.76 427.16L100.16 428.56L100.56 429.23L100.96 426.86L101.36 417.48L101.77 423.59L102.17 425.15L102.57 440.64L102.97 431.02L103.37 421.11L103.77 433.79L104.17 426.88L104.57 434.03L104.97 419.33L105.37 430.21L105.78 429.19L106.18 427.24L106.58 427.50L106.98 429.02L107.38 429.51L107.78 430.91L108.18 428.98L108.58 430.39L108.98 422.30L109.39 427.78L109.79 429.98L110.19 428.80L110.59 429.55L110.99 428.71L111.39 432.88L111.79 429.76L112.19 426.39L112.59 414.76L112.99 427.74L113.40 428.33L113.80 418.61L114.20 421.27L114.60 430.00L115.00 427.49L115.40 429.67L115.80 433.76L116.20 427.45L116.60 434.73L117.01 427.08L117.41 432.94L117.81 434.89L118.21 431.30L118.61 432.08L119.01 426.11L119.41 416.38L119.81 425.39L120.21 425.78L120.61 424.22L121.02 427.83L121.42 431.80L121.82 429.08L122.22 433.16L122.62 431.26L123.02 425.27L123.42 425.02L123.82 431.21L124.22 430.03L124.63 430.19L125.03 427.42L125.43 428.88L125.83 431.75L126.23 430.86L126.63 429.99L127.03 428.26L127.43 428.48L127.83 428.40L128.23 433.14L128.64 419.94L129.04 426.25L129.44 433.37L129.84 427.60L130.24 430.26L130.64 436.93L131.04 429.92L131.44 428.36L131.84 430.83L132.25 429.74L132.65 424.84L133.05 432.72L133.45 430.31L133.85 430.57L134.25 430.08L134.65 433.28L135.05 444.57L135.45 432.21L135.85 431.35L136.26 431.28L136.66 430.64L137.06 426.04L137.46 424.53L137.86 430.50L138.26 433.32L138.66 432.17L139.06 430.32L139.46 427.66L139.87 428.91L140.27 431.24L140.67 428.78L141.07 432.47L141.47 431.76L141.87 430.47L142.27 428.61L142.67 429.89L143.07 433.82L143.47 424.80L143.88 429.56L144.28 430.19L144.68 423.95L145.08 425.57L145.48 430.82L145.88 427.80L146.28 428.44L146.68 429.88L147.08 429.69L147.49 430.93L147.89 428.49L148.29 429.37L148.69 430.97L149.09 423.53L149.49 430.48L149.89 433.80L150.29 453.10L150.69 453.10L151.09 430.03L151.50 429.75L151.90 429.48L152.30 420.77L152.70 432.60L153.10 430.11L153.50 413.45L153.90 427.53L154.30 432.48L154.70 428.36L155.11 428.01L155.51 426.74L155.91 430.72L156.31 411.69L156.71 424.80L157.11 429.74L157.51 429.61L157.91 425.17L158.31 430.36L158.71 425.92L159.12 430.44L159.52 432.36L159.92 432.70L160.32 428.16L160.72 425.97L161.12 431.04L161.52 426.54L161.92 430.38L162.32 428.38L162.73 422.53L163.13 427.20L163.53 431.40L163.93 430.48L164.33 430.66L164.73 429.80L165.13 436.79L165.53 424.88L165.93 422.27L166.33 421.89L166.74 428.79L167.14 422.89L167.54 423.80L167.94 414.03L168.34 427.72L168.74 410.95L169.14 425.20L169.54 426.03L169.94 420.71L170.35 453.10L170.75 453.10L171.15 419.72L171.55 421.28L171.95 429.38L172.35 427.75L172.75 433.18L173.15 433.94L173.55 430.86L173.95 432.24L174.36 424.74L174.76 426.80L175.16 426.87L175.56 433.29L175.96 434.45L176.36 421.47L176.76 424.73L177.16 432.35L177.56 430.76L177.97 427.25L178.37 431.98L178.77 428.21L179.17 427.45L179.57 428.25L179.97 424.10L180.37 430.95L180.77 429.93L181.17 433.01L181.57 434.39L181.98 432.42L182.38 430.29L182.78 429.94L183.18 433.87L183.58 424.16L183.98 434.06L184.38 433.69L184.78 432.57L185.18 433.11L185.59 435.37L185.99 428.44L186.39 429.44L186.79 428.37L187.19 428.28L187.59 422.23L187.99 428.59L188.39 427.42L188.79 421.73L189.19 426.11L189.60 428.65L190.00 422.57L190.40 433.48L190.80 432.68L191.20 432.90L191.60 435.56L192.00 434.00L192.40 433.86L192.80 429.44L193.21 444.84L193.61 424.10L194.01 426.77L194.41 422.52L194.81 419.48L195.21 427.96L195.61 424.50L196.01 432.81L196.41 431.93L196.81 420.32L197.22 428.02L197.62 429.90L198.02 421.14L198.42 427.76L198.82 426.18L199.22 425.42L199.62 423.32L200.02 427.60L200.42 424.78L200.83 427.63L201.23 421.53L201.63 429.97L202.03 429.86L202.43 425.05L202.83 419.33L203.23 432.46L203.63 420.69L204.03 430.85L204.43 431.97L204.84 425.34L205.24 429.79L205.64 428.16L206.04 409.88L206.44 430.44L206.84 427.17L207.24 426.53L207.64 428.53L208.04 432.58L208.45 425.87L208.85 429.18L209.25 428.60L209.65 427.35L210.05 427.52L210.45 431.96L210.85 430.96L211.25 424.36L211.65 425.77L212.05 430.55L212.46 427.18L212.86 429.89L213.26 422.17L213.66 425.54L214.06 431.97L214.46 431.44L214.86 428.54L215.26 421.21L215.66 428.36L216.07 427.53L216.47 411.53L216.87 427.27L217.27 453.10L217.67 453.10L218.07 418.11L218.47 412.51L218.87 419.95L219.27 407.37L219.67 411.85L220.08 414.26L220.48 415.66L220.88 417.62L221.28 428.82L221.68 428.90L222.08 427.02L222.48 428.99L222.88 429.57L223.28 430.74L223.69 432.02L224.09 430.82L224.49 433.37L224.89 433.35L225.29 430.96L225.69 428.68L226.09 432.16L226.49 431.90L226.89 427.79L227.29 429.29L227.70 429.54L228.10 429.76L228.50 407.37L228.90 414.03L229.30 427.35L229.70 425.29L230.10 428.55L230.50 423.62L230.90 433.17L231.31 430.59L231.71 429.05L232.11 430.85L232.51 425.24L232.91 420.71L233.31 412.75L233.71 428.74L234.11 424.38L234.51 425.84L234.91 424.43L235.32 431.43L235.72 422.96L236.12 429.78L236.52 423.30L236.92 429.65L237.32 432.79L237.72 429.58L238.12 430.39L238.52 431.98L238.93 426.71L239.33 426.54L239.73 432.70L240.13 419.56L240.53 430.30L240.93 428.42L241.33 431.86L241.73 435.02L242.13 433.83L242.53 430.09L242.94 433.68L243.34 425.55L243.74 422.53L244.14 426.88L244.54 432.26L244.94 427.48L245.34 433.17L245.74 433.01L246.14 426.16L246.55 428.65L246.95 430.98L247.35 432.52L247.75 431.48L248.15 428.09L248.55 434.06L248.95 430.92L249.35 429.12L249.75 430.58L250.15 420.87L250.56 428.50L250.96 420.97L251.36 424.42L251.76 423.74L252.16 425.61L252.56 426.13L252.96 430.54L253.36 416.95L253.76 427.24L254.17 423.39L254.57 427.64L254.97 422.47L255.37 434.06L255.77 434.69L256.17 434.66L256.57 434.90L256.97 435.01L257.37 429.32L257.77 433.48L258.18 418.34L258.58 431.94L258.98 440.72L259.38 428.18L259.78 433.88L260.18 436.49L260.58 422.40L260.98 432.85L261.38 434.05L261.79 432.10L262.19 431.28L262.59 432.97L262.99 432.74L263.39 433.58L263.79 432.38L264.19 427.46L264.59 431.96L264.99 430.95L265.39 430.82L265.80 426.54L266.20 416.48L266.60 422.05L267.00 424.06L267.40 421.50L267.80 425.98L268.20 417.76L268.60 425.92L269.00 429.79L269.41 430.75L269.81 432.08L270.21 427.12L270.61 430.51L271.01 430.06L271.41 453.10L271.81 453.10L272.21 432.84L272.61 417.33L273.01 429.55L273.42 427.70L273.82 433.56L274.22 428.15L274.62 431.85L275.02 421.55L275.42 421.29L275.82 435.07L276.22 430.77L276.62 435.50L277.03 421.46L277.43 410.92L277.83 433.99L278.23 435.35L278.63 433.61L279.03 417.42L279.43 434.47L279.83 422.41L280.23 432.74L280.63 431.60L281.04 428.28L281.44 430.68L281.84 430.80L282.24 428.45L282.64 431.65L283.04 421.25L283.44 421.22L283.84 433.72L284.24 426.47L284.65 429.07L285.05 429.58L285.45 432.47L285.85 432.05L286.25 429.26L286.65 433.59L287.05 433.49L287.45 407.37L287.85 428.27L288.25 430.95L288.66 432.90L289.06 433.44L289.46 419.78L289.86 430.21L290.26 435.16L290.66 423.92L291.06 428.17L291.46 430.14L291.86 412.14L292.27 430.63L292.67 421.58L293.07 429.77L293.47 428.23L293.87 429.02L294.27 421.94L294.67 428.72L295.07 426.16L295.47 431.25L295.88 434.70L295.88 453.10Z" fill="#f08d60"/>
<path d="M76.90 453.10L76.90 449.28L77.30 444.98L77.70 448.62L78.10 447.80L78.50 445.10L78.91 448.75L79.31 449.11L79.71 447.75L80.11 448.81L80.51 449.52L80.91 449.59L81.31 448.03L81.71 449.73L82.11 449.84L82.51 448.39L82.92 449.31L83.32 448.42L83.72 448.64L84.12 448.48L84.52 447.94L84.92 449.08L85.32 448.44L85.72 449.17L86.12 446.74L86.53 448.80L86.93 449.35L87.33 448.09L87.73 449.25L88.13 448.53L88.53 446.49L88.93 448.03L89.33 448.89L89.73 447.95L90.13 448.44L90.54 448.35L90.94 446.45L91.34 448.51L91.74 449.45L92.14 448.17L92.54 447.72L92.94 448.53L93.34 448.87L93.74 448.00L94.15 448.61L94.55 448.99L94.95 449.37L95.35 449.60L95.75 447.74L96.15 448.93L96.55 446.46L96.95 447.52L97.35 447.72L97.75 448.21L98.16 449.03L98.56 449.25L98.96 449.33L99.36 449.33L99.76 446.79L100.16 448.85L100.56 447.64L100.96 448.44L101.36 448.01L101.77 449.26L102.17 448.01L102.57 448.66L102.97 448.15L103.37 447.97L103.77 448.59L104.17 447.92L104.57 447.84L104.97 448.05L105.37 448.32L105.78 448.00L106.18 447.47L106.58 447.49L106.98 447.57L107.38 448.64L107.78 447.86L108.18 448.24L108.58 448.25L108.98 447.45L109.39 447.78L109.79 446.80L110.19 448.10L110.59 443.36L110.99 447.71L111.39 447.51L111.79 447.65L112.19 446.31L112.59 447.83L112.99 448.89L113.40 447.58L113.80 448.04L114.20 448.15L114.60 448.18L115.00 445.02L115.40 447.00L115.80 447.81L116.20 447.21L116.60 447.27L117.01 448.13L117.41 448.18L117.81 446.15L118.21 445.35L118.61 448.34L119.01 447.89L119.41 446.49L119.81 448.69L120.21 448.89L120.61 448.53L121.02 448.56L121.42 448.56L121.82 447.87L122.22 447.06L122.62 447.11L123.02 448.37L123.42 447.97L123.82 447.50L124.22 447.59L124.63 443.66L125.03 448.46L125.43 445.74L125.83 447.96L126.23 446.84L126.63 448.58L127.03 448.63L127.43 448.51L127.83 447.49L128.23 446.22L128.64 448.42L129.04 448.51L129.44 447.86L129.84 448.84L130.24 448.58L130.64 447.92L131.04 447.87L131.44 448.44L131.84 448.33L132.25 448.02L132.65 447.96L133.05 447.64L133.45 445.52L133.85 448.53L134.25 446.30L134.65 447.01L135.05 447.80L135.45 445.32L135.85 447.59L136.26 447.74L136.66 448.08L137.06 448.84L137.46 447.91L137.86 448.18L138.26 447.96L138.66 445.47L139.06 446.31L139.46 447.52L139.87 446.86L140.27 447.19L140.67 445.69L141.07 444.89L141.47 447.98L141.87 447.56L142.27 448.10L142.67 447.08L143.07 447.69L143.47 446.70L143.88 445.33L144.28 446.75L144.68 444.07L145.08 446.81L145.48 446.06L145.88 445.52L146.28 446.04L146.68 446.09L147.08 444.89L147.49 446.06L147.89 446.08L148.29 445.30L148.69 445.48L149.09 447.24L149.49 448.03L149.89 447.65L150.29 453.10L150.69 453.10L151.09 446.87L151.50 447.11L151.90 446.80L152.30 443.28L152.70 446.54L153.10 444.96L153.50 445.81L153.90 444.88L154.30 446.44L154.70 445.51L155.11 446.81L155.51 447.11L155.91 446.89L156.31 446.86L156.71 444.05L157.11 446.65L157.51 446.25L157.91 446.60L158.31 447.08L158.71 447.06L159.12 447.04L159.52 445.62L159.92 447.03L160.32 445.31L160.72 447.27L161.12 443.72L161.52 446.87L161.92 447.28L162.32 446.62L162.73 446.79L163.13 443.77L163.53 440.11L163.93 442.01L164.33 446.56L164.73 446.67L165.13 446.55L165.53 443.69L165.93 443.84L166.33 444.33L166.74 445.73L167.14 445.76L167.54 445.33L167.94 446.40L168.34 444.98L168.74 445.68L169.14 447.51L169.54 446.12L169.94 445.21L170.35 453.10L170.75 453.10L171.15 443.58L171.55 442.42L171.95 441.35L172.35 443.04L172.75 446.06L173.15 445.59L173.55 446.30L173.95 447.71L174.36 446.73L174.76 445.51L175.16 444.74L175.56 441.00L175.96 441.32L176.36 445.50L176.76 445.36L177.16 441.85L177.56 444.39L177.97 446.70L178.37 447.53L178.77 448.51L179.17 448.08L179.57 447.04L179.97 446.35L180.37 446.83L180.77 445.80L181.17 446.61L181.57 446.92L181.98 441.52L182.38 446.49L182.78 443.46L183.18 445.47L183.58 447.49L183.98 447.39L184.38 446.65L184.78 447.79L185.18 447.84L185.59 446.76L185.99 447.54L186.39 444.95L186.79 445.92L187.19 444.86L187.59 447.35L187.99 447.05L188.39 447.02L188.79 448.31L189.19 446.09L189.60 448.06L190.00 448.45L190.40 447.11L190.80 446.89L191.20 447.46L191.60 447.47L192.00 448.18L192.40 447.76L192.80 446.80L193.21 447.78L193.61 444.61L194.01 445.87L194.41 447.03L194.81 444.68L195.21 447.12L195.61 446.73L196.01 446.07L196.41 447.00L196.81 446.62L197.22 444.63L197.62 444.17L198.02 446.76L198.42 444.86L198.82 447.38L199.22 447.54L199.62 447.60L200.02 446.77L200.42 447.04L200.83 445.81L201.23 448.74L201.63 447.49L202.03 448.16L202.43 446.60L202.83 447.06L203.23 447.40L203.63 446.60L204.03 446.60L204.43 447.52L204.84 447.76L205.24 447.14L205.64 447.26L206.04 446.80L206.44 445.95L206.84 445.94L207.24 444.44L207.64 440.12L208.04 445.95L208.45 442.92L208.85 441.55L209.25 447.34L209.65 446.17L210.05 442.52L210.45 445.63L210.85 447.79L211.25 447.31L211.65 446.87L212.05 447.98L212.46 446.71L212.86 448.28L213.26 448.41L213.66 444.97L214.06 446.75L214.46 447.89L214.86 448.07L215.26 448.59L215.66 447.99L216.07 447.70L216.47 446.85L216.87 448.30L217.27 453.10L217.67 453.10L218.07 447.93L218.47 448.20L218.87 442.20L219.27 446.02L219.67 445.15L220.08 447.21L220.48 442.62L220.88 446.22L221.28 448.50L221.68 445.87L222.08 448.67L222.48 444.95L222.88 447.60L223.28 445.79L223.69 448.66L224.09 448.44L224.49 448.76L224.89 447.25L225.29 448.00L225.69 448.67L226.09 443.95L226.49 447.92L226.89 447.81L227.29 444.26L227.70 448.26L228.10 447.99L228.50 444.12L228.90 448.07L229.30 447.74L229.70 445.66L230.10 448.06L230.50 447.28L230.90 448.57L231.31 447.04L231.71 447.83L232.11 447.71L232.51 448.23L232.91 448.57L233.31 448.57L233.71 446.45L234.11 447.97L234.51 444.26L234.91 447.34L235.32 449.03L235.72 448.31L236.12 449.10L236.52 449.45L236.92 448.78L237.32 447.12L237.72 448.97L238.12 445.11L238.52 447.28L238.93 446.78L239.33 447.07L239.73 447.77L240.13 446.92L240.53 447.09L240.93 447.87L241.33 448.05L241.73 446.87L242.13 446.20L242.53 446.39L242.94 445.12L243.34 446.81L243.74 446.97L244.14 446.86L244.54 446.92L244.94 447.28L245.34 446.87L245.74 447.24L246.14 442.43L246.55 447.56L246.95 447.18L247.35 446.96L247.75 445.33L248.15 445.02L248.55 446.56L248.95 446.74L249.35 446.84L249.75 447.14L250.15 446.82L250.56 447.47L250.96 447.74L251.36 446.36L251.76 447.86L252.16 447.44L252.56 446.85L252.96 448.34L253.36 447.65L253.76 447.57L254.17 447.29L254.57 445.95L254.97 446.46L255.37 445.74L255.77 446.70L256.17 446.46L256.57 445.28L256.97 446.03L257.37 447.02L257.77 443.71L258.18 442.68L258.58 448.06L258.98 447.38L259.38 446.34L259.78 445.54L260.18 446.86L260.58 443.77L260.98 445.31L261.38 445.12L261.79 444.08L262.19 443.86L262.59 446.18L262.99 446.86L263.39 446.48L263.79 447.41L264.19 445.23L264.59 438.36L264.99 446.79L265.39 446.00L265.80 445.88L266.20 447.15L266.60 447.42L267.00 447.79L267.40 447.77L267.80 447.68L268.20 447.94L268.60 447.62L269.00 447.28L269.41 447.69L269.81 447.38L270.21 445.71L270.61 446.99L271.01 445.89L271.41 453.10L271.81 453.10L272.21 446.34L272.61 445.10L273.01 443.37L273.42 446.24L273.82 447.29L274.22 447.33L274.62 445.47L275.02 448.02L275.42 447.70L275.82 446.60L276.22 447.10L276.62 445.26L277.03 446.27L277.43 447.12L277.83 444.99L278.23 445.31L278.63 446.19L279.03 446.70L279.43 446.07L279.83 446.70L280.23 446.89L280.63 447.27L281.04 446.47L281.44 445.29L281.84 444.93L282.24 446.32L282.64 443.98L283.04 445.23L283.44 446.58L283.84 444.76L284.24 445.98L284.65 444.58L285.05 446.25L285.45 445.97L285.85 444.43L286.25 446.86L286.65 441.05L287.05 443.96L287.45 446.55L287.85 444.65L288.25 447.09L288.66 444.17L289.06 447.89L289.46 445.14L289.86 447.02L290.26 447.64L290.66 447.27L291.06 444.52L291.46 446.46L291.86 442.42L292.27 443.03L292.67 445.50L293.07 447.77L293.47 446.76L293.87 447.17L294.27 447.53L294.67 447.27L295.07 445.19L295.47 444.87L295.88 444.54L295.88 453.10Z" fill="#c56e48"/>
<path d="M76.90 504.00L76.90 456.89L77.30 471.79L77.70 479.01L78.10 482.42L78.50 483.46L78.91 465.34L79.31 486.62L79.71 490.52L80.11 491.46L80.51 490.35L80.91 485.80L81.31 488.41L81.71 486.44L82.11 491.83L82.51 488.24L82.92 481.03L83.32 484.82L83.72 490.75L84.12 489.43L84.52 488.76L84.92 491.10L85.32 489.55L85.72 493.13L86.12 491.87L86.53 491.88L86.93 491.42L87.33 487.37L87.73 490.55L88.13 488.67L88.53 483.24L88.93 492.45L89.33 489.16L89.73 482.47L90.13 491.82L90.54 491.12L90.94 494.03L91.34 492.85L91.74 483.58L92.14 492.45L92.54 491.29L92.94 491.09L93.34 485.80L93.74 480.29L94.15 474.74L94.55 490.33L94.95 485.21L95.35 492.46L95.75 484.79L96.15 491.30L96.55 493.17L96.95 493.47L97.35 493.19L97.75 494.56L98.16 483.94L98.56 494.41L98.96 494.98L99.36 492.67L99.76 494.26L100.16 494.67L100.56 494.13L100.96 490.03L101.36 492.43L101.77 495.94L102.17 497.38L102.57 496.79L102.97 497.53L103.37 493.98L103.77 495.35L104.17 488.85L104.57 492.49L104.97 493.61L105.37 495.30L105.78 483.10L106.18 493.73L106.58 491.97L106.98 490.36L107.38 493.55L107.78 490.52L108.18 493.58L108.58 489.31L108.98 490.66L109.39 489.84L109.79 491.75L110.19 485.41L110.59 489.94L110.99 487.84L111.39 483.78L111.79 488.00L112.19 486.78L112.59 491.83L112.99 491.82L113.40 493.14L113.80 495.00L114.20 492.55L114.60 493.89L115.00 495.65L115.40 495.39L115.80 496.30L116.20 497.34L116.60 495.10L117.01 496.45L117.41 493.83L117.81 496.29L118.21 496.47L118.61 493.44L119.01 497.12L119.41 494.29L119.81 492.49L120.21 494.81L120.61 488.17L121.02 494.38L121.42 491.36L121.82 491.36L122.22 492.60L122.62 493.98L123.02 492.30L123.42 492.94L123.82 491.50L124.22 489.13L124.63 494.67L125.03 491.14L125.43 494.36L125.83 493.03L126.23 489.36L126.63 493.20L127.03 493.74L127.43 495.48L127.83 490.76L128.23 492.65L128.64 489.10L129.04 490.55L129.44 490.69L129.84 491.22L130.24 490.60L130.64 489.93L131.04 491.76L131.44 487.14L131.84 490.36L132.25 488.13L132.65 490.36L133.05 491.94L133.45 492.99L133.85 490.67L134.25 491.94L134.65 492.01L135.05 493.73L135.45 495.58L135.85 492.67L136.26 485.63L136.66 493.00L137.06 492.21L137.46 492.38L137.86 493.18L138.26 490.56L138.66 489.59L139.06 491.72L139.46 486.42L139.87 485.51L140.27 490.49L140.67 490.76L141.07 487.56L141.47 490.86L141.87 491.98L142.27 491.26L142.67 491.55L143.07 494.69L143.47 493.22L143.88 491.31L144.28 488.07L144.68 488.41L145.08 489.77L145.48 490.61L145.88 487.56L146.28 486.18L146.68 490.38L147.08 488.95L147.49 489.17L147.89 489.53L148.29 486.87L148.69 491.52L149.09 491.60L149.49 492.03L149.89 488.03L150.29 492.60L150.69 491.79L151.09 488.96L151.50 488.60L151.90 479.70L152.30 491.98L152.70 491.80L153.10 492.30L153.50 488.81L153.90 483.83L154.30 486.16L154.70 490.17L155.11 492.24L155.51 486.67L155.91 490.40L156.31 487.59L156.71 488.35L157.11 482.95L157.51 483.46L157.91 489.14L158.31 486.49L158.71 488.80L159.12 486.82L159.52 489.15L159.92 484.16L160.32 486.57L160.72 490.87L161.12 491.22L161.52 489.92L161.92 489.26L162.32 482.06L162.73 486.18L163.13 490.47L163.53 492.55L163.93 494.21L164.33 488.82L164.73 491.99L165.13 492.91L165.53 493.13L165.93 491.57L166.33 491.31L166.74 488.07L167.14 491.44L167.54 492.62L167.94 493.47L168.34 489.23L168.74 473.99L169.14 468.35L169.54 473.10L169.94 486.14L170.35 492.35L170.75 489.05L171.15 491.69L171.55 491.37L171.95 491.86L172.35 475.17L172.75 491.64L173.15 490.48L173.55 488.28L173.95 492.24L174.36 488.70L174.76 490.36L175.16 489.31L175.56 489.52L175.96 490.18L176.36 492.01L176.76 492.74L177.16 490.72L177.56 492.49L177.97 492.24L178.37 492.65L178.77 491.97L179.17 489.44L179.57 488.15L179.97 480.02L180.37 483.07L180.77 479.05L181.17 481.05L181.57 483.42L181.98 489.07L182.38 489.56L182.78 488.00L183.18 486.81L183.58 483.30L183.98 489.73L184.38 485.68L184.78 486.48L185.18 483.40L185.59 480.49L185.99 482.41L186.39 489.92L186.79 484.15L187.19 485.23L187.59 489.86L187.99 490.13L188.39 484.49L188.79 491.53L189.19 489.97L189.60 485.45L190.00 489.45L190.40 487.38L190.80 489.25L191.20 484.18L191.60 488.21L192.00 482.15L192.40 492.88L192.80 489.63L193.21 493.00L193.61 491.25L194.01 492.15L194.41 488.76L194.81 489.23L195.21 488.45L195.61 492.05L196.01 493.95L196.41 492.12L196.81 489.74L197.22 482.95L197.62 483.75L198.02 488.21L198.42 490.87L198.82 490.56L199.22 484.72L199.62 491.49L200.02 490.08L200.42 492.68L200.83 490.90L201.23 491.33L201.63 491.80L202.03 492.55L202.43 484.70L202.83 485.61L203.23 485.37L203.63 489.42L204.03 490.97L204.43 490.80L204.84 492.80L205.24 489.31L205.64 493.90L206.04 493.71L206.44 490.93L206.84 493.24L207.24 489.58L207.64 492.86L208.04 489.29L208.45 493.47L208.85 492.85L209.25 491.72L209.65 491.79L210.05 488.59L210.45 486.41L210.85 489.21L211.25 490.17L211.65 486.90L212.05 491.08L212.46 491.19L212.86 490.14L213.26 488.12L213.66 490.83L214.06 491.16L214.46 493.36L214.86 486.49L215.26 491.61L215.66 493.47L216.07 488.10L216.47 487.77L216.87 479.76L217.27 487.52L217.67 488.76L218.07 491.22L218.47 492.02L218.87 491.59L219.27 488.09L219.67 488.83L220.08 491.22L220.48 490.25L220.88 486.09L221.28 489.15L221.68 490.94L222.08 484.00L222.48 489.85L222.88 492.34L223.28 487.86L223.69 488.96L224.09 489.80L224.49 490.46L224.89 489.47L225.29 490.09L225.69 490.58L226.09 489.60L226.49 488.86L226.89 481.39L227.29 488.84L227.70 487.97L228.10 479.14L228.50 486.68L228.90 487.68L229.30 486.42L229.70 490.87L230.10 489.99L230.50 489.38L230.90 477.12L231.31 488.06L231.71 489.66L232.11 489.29L232.51 491.66L232.91 491.33L233.31 492.94L233.71 491.05L234.11 489.12L234.51 487.31L234.91 491.82L235.32 491.33L235.72 491.96L236.12 493.37L236.52 484.34L236.92 490.90L237.32 491.30L237.72 486.29L238.12 484.18L238.52 487.49L238.93 488.53L239.33 489.82L239.73 490.08L240.13 485.35L240.53 482.57L240.93 490.31L241.33 489.24L241.73 487.97L242.13 490.41L242.53 490.31L242.94 491.49L243.34 492.10L243.74 490.74L244.14 489.01L244.54 487.06L244.94 491.37L245.34 487.38L245.74 490.52L246.14 479.97L246.55 490.26L246.95 492.08L247.35 489.50L247.75 487.17L248.15 487.63L248.55 489.67L248.95 486.03L249.35 487.62L249.75 487.05L250.15 493.90L250.56 494.32L250.96 493.80L251.36 494.12L251.76 494.44L252.16 495.99L252.56 494.17L252.96 494.85L253.36 492.20L253.76 488.37L254.17 494.49L254.57 491.56L254.97 492.88L255.37 491.97L255.77 493.99L256.17 492.12L256.57 486.99L256.97 492.31L257.37 494.08L257.77 491.14L258.18 491.71L258.58 491.65L258.98 490.79L259.38 487.45L259.78 490.96L260.18 490.07L260.58 493.11L260.98 486.60L261.38 491.51L261.79 493.72L262.19 491.84L262.59 489.56L262.99 491.49L263.39 495.26L263.79 492.79L264.19 492.88L264.59 490.96L264.99 482.36L265.39 488.59L265.80 488.19L266.20 491.13L266.60 490.47L267.00 494.97L267.40 493.25L267.80 494.52L268.20 492.67L268.60 491.04L269.00 491.38L269.41 490.92L269.81 491.76L270.21 489.39L270.61 492.96L271.01 494.31L271.41 493.08L271.81 491.05L272.21 492.12L272.61 490.36L273.01 493.18L273.42 493.66L273.82 480.49L274.22 491.99L274.62 489.43L275.02 490.38L275.42 493.06L275.82 491.47L276.22 491.57L276.62 490.69L277.03 492.42L277.43 489.74L277.83 489.33L278.23 487.50L278.63 492.22L279.03 489.55L279.43 487.50L279.83 491.63L280.23 488.82L280.63 487.06L281.04 492.50L281.44 492.21L281.84 489.38L282.24 491.83L282.64 490.83L283.04 485.82L283.44 488.51L283.84 487.97L284.24 484.97L284.65 488.88L285.05 488.16L285.45 489.93L285.85 480.51L286.25 487.27L286.65 479.86L287.05 488.09L287.45 482.98L287.85 489.26L288.25 491.88L288.66 490.40L289.06 490.53L289.46 492.18L289.86 490.23L290.26 484.14L290.66 489.36L291.06 492.73L291.46 484.86L291.86 490.92L292.27 491.13L292.67 491.36L293.07 492.11L293.47 490.48L293.87 492.76L294.27 487.24L294.67 494.16L295.07 494.75L295.47 492.91L295.88 492.40L295.88 504.00Z" fill="#db7a4c"/>
<rect x="76.90" y="508.90" width="218.97" height="7.55" fill="#dea790"/>
<rect x="76.90" y="516.45" width="218.97" height="7.55" fill="#e6b39c"/>
<rect x="76.90" y="508.90" width="0.47" height="7.55" fill="#d39c84"/><rect x="79.91" y="508.90" width="1.15" height="7.55" fill="#eebda6"/><rect x="83.34" y="508.90" width="1.64" height="7.55" fill="#e6b29b"/><rect x="84.97" y="508.90" width="1.16" height="7.55" fill="#eebda6"/><rect x="86.13" y="508.90" width="0.61" height="7.55" fill="#e6b29b"/><rect x="86.74" y="508.90" width="0.67" height="7.55" fill="#d9a48c"/><rect x="88.28" y="508.90" width="0.97" height="7.55" fill="#e6b29b"/><rect x="89.26" y="508.90" width="2.19" height="7.55" fill="#d9a48c"/><rect x="93.06" y="508.90" width="2.25" height="7.55" fill="#d9a48c"/><rect x="95.30" y="508.90" width="1.85" height="7.55" fill="#d9a48c"/><rect x="98.78" y="508.90" width="0.67" height="7.55" fill="#d9a48c"/><rect x="102.35" y="508.90" width="0.83" height="7.55" fill="#d39c84"/><rect x="103.18" y="508.90" width="0.99" height="7.55" fill="#d9a48c"/><rect x="104.17" y="508.90" width="0.89" height="7.55" fill="#d9a48c"/><rect x="105.49" y="508.90" width="1.63" height="7.55" fill="#e6b29b"/><rect x="107.12" y="508.90" width="2.50" height="7.55" fill="#d39c84"/><rect x="110.32" y="508.90" width="0.47" height="7.55" fill="#d9a48c"/><rect x="110.79" y="508.90" width="1.18" height="7.55" fill="#eebda6"/><rect x="114.97" y="508.90" width="2.10" height="7.55" fill="#eebda6"/><rect x="121.38" y="508.90" width="1.49" height="7.55" fill="#e6b29b"/><rect x="124.59" y="508.90" width="0.69" height="7.55" fill="#e6b29b"/><rect x="125.28" y="508.90" width="2.40" height="7.55" fill="#eebda6"/><rect x="129.32" y="508.90" width="2.53" height="7.55" fill="#eebda6"/><rect x="133.50" y="508.90" width="1.94" height="7.55" fill="#d39c84"/><rect x="136.48" y="508.90" width="1.58" height="7.55" fill="#d9a48c"/><rect x="138.06" y="508.90" width="0.57" height="7.55" fill="#d39c84"/><rect x="138.63" y="508.90" width="0.50" height="7.55" fill="#d39c84"/><rect x="139.13" y="508.90" width="2.28" height="7.55" fill="#eebda6"/><rect x="141.41" y="508.90" width="1.09" height="7.55" fill="#d39c84"/><rect x="142.50" y="508.90" width="2.54" height="7.55" fill="#d9a48c"/><rect x="145.04" y="508.90" width="2.49" height="7.55" fill="#d9a48c"/><rect x="147.53" y="508.90" width="1.79" height="7.55" fill="#d9a48c"/><rect x="149.32" y="508.90" width="2.17" height="7.55" fill="#e6b29b"/><rect x="151.49" y="508.90" width="0.85" height="7.55" fill="#eebda6"/><rect x="152.34" y="508.90" width="1.79" height="7.55" fill="#eebda6"/><rect x="155.44" y="508.90" width="0.66" height="7.55" fill="#d9a48c"/><rect x="156.10" y="508.90" width="1.64" height="7.55" fill="#e6b29b"/><rect x="159.09" y="508.90" width="1.88" height="7.55" fill="#e6b29b"/><rect x="166.66" y="508.90" width="2.00" height="7.55" fill="#e6b29b"/><rect x="170.75" y="508.90" width="0.89" height="7.55" fill="#d39c84"/><rect x="175.35" y="508.90" width="0.67" height="7.55" fill="#d39c84"/><rect x="177.52" y="508.90" width="1.39" height="7.55" fill="#eebda6"/><rect x="180.18" y="508.90" width="0.84" height="7.55" fill="#d9a48c"/><rect x="183.91" y="508.90" width="2.43" height="7.55" fill="#d9a48c"/><rect x="186.34" y="508.90" width="1.95" height="7.55" fill="#d39c84"/><rect x="189.32" y="508.90" width="0.84" height="7.55" fill="#d9a48c"/><rect x="190.78" y="508.90" width="0.79" height="7.55" fill="#d9a48c"/><rect x="191.57" y="508.90" width="1.20" height="7.55" fill="#e6b29b"/><rect x="194.44" y="508.90" width="1.14" height="7.55" fill="#eebda6"/><rect x="195.58" y="508.90" width="1.47" height="7.55" fill="#d39c84"/><rect x="197.78" y="508.90" width="1.35" height="7.55" fill="#eebda6"/><rect x="199.13" y="508.90" width="0.92" height="7.55" fill="#eebda6"/><rect x="200.59" y="508.90" width="2.13" height="7.55" fill="#d39c84"/><rect x="204.20" y="508.90" width="2.02" height="7.55" fill="#e6b29b"/><rect x="206.23" y="508.90" width="1.10" height="7.55" fill="#eebda6"/><rect x="210.77" y="508.90" width="1.23" height="7.55" fill="#d9a48c"/><rect x="212.00" y="508.90" width="2.20" height="7.55" fill="#e6b29b"/><rect x="214.20" y="508.90" width="2.35" height="7.55" fill="#e6b29b"/><rect x="217.47" y="508.90" width="0.81" height="7.55" fill="#eebda6"/><rect x="218.28" y="508.90" width="2.29" height="7.55" fill="#d9a48c"/><rect x="220.57" y="508.90" width="0.85" height="7.55" fill="#eebda6"/><rect x="221.42" y="508.90" width="1.96" height="7.55" fill="#eebda6"/><rect x="223.38" y="508.90" width="2.46" height="7.55" fill="#e6b29b"/><rect x="225.84" y="508.90" width="1.82" height="7.55" fill="#d39c84"/><rect x="227.66" y="508.90" width="2.16" height="7.55" fill="#d9a48c"/><rect x="231.10" y="508.90" width="1.82" height="7.55" fill="#eebda6"/><rect x="232.92" y="508.90" width="0.78" height="7.55" fill="#d9a48c"/><rect x="233.70" y="508.90" width="1.93" height="7.55" fill="#e6b29b"/><rect x="235.63" y="508.90" width="1.63" height="7.55" fill="#d9a48c"/><rect x="237.25" y="508.90" width="2.25" height="7.55" fill="#d9a48c"/><rect x="239.51" y="508.90" width="2.00" height="7.55" fill="#d9a48c"/><rect x="241.51" y="508.90" width="1.64" height="7.55" fill="#e6b29b"/><rect x="245.86" y="508.90" width="2.57" height="7.55" fill="#d39c84"/><rect x="248.43" y="508.90" width="2.44" height="7.55" fill="#e6b29b"/><rect x="251.65" y="508.90" width="0.71" height="7.55" fill="#d39c84"/><rect x="256.35" y="508.90" width="2.14" height="7.55" fill="#e6b29b"/><rect x="259.60" y="508.90" width="2.10" height="7.55" fill="#e6b29b"/><rect x="266.24" y="508.90" width="1.61" height="7.55" fill="#d39c84"/><rect x="272.83" y="508.90" width="2.29" height="7.55" fill="#d9a48c"/><rect x="277.45" y="508.90" width="1.04" height="7.55" fill="#d39c84"/><rect x="278.49" y="508.90" width="2.57" height="7.55" fill="#d9a48c"/><rect x="281.06" y="508.90" width="2.38" height="7.55" fill="#d9a48c"/><rect x="285.22" y="508.90" width="1.74" height="7.55" fill="#e6b29b"/><rect x="286.96" y="508.90" width="0.75" height="7.55" fill="#eebda6"/><rect x="287.71" y="508.90" width="0.49" height="7.55" fill="#d9a48c"/><rect x="292.75" y="508.90" width="2.41" height="7.55" fill="#eebda6"/><rect x="295.16" y="508.90" width="0.72" height="7.55" fill="#d39c84"/><rect x="76.90" y="516.45" width="2.08" height="7.55" fill="#e6b29b"/><rect x="78.98" y="516.45" width="1.12" height="7.55" fill="#e6b29b"/><rect x="80.09" y="516.45" width="2.15" height="7.55" fill="#d39c84"/><rect x="82.24" y="516.45" width="0.93" height="7.55" fill="#e6b29b"/><rect x="84.34" y="516.45" width="0.58" height="7.55" fill="#d9a48c"/><rect x="88.35" y="516.45" width="0.82" height="7.55" fill="#e6b29b"/><rect x="91.65" y="516.45" width="1.57" height="7.55" fill="#d9a48c"/><rect x="93.21" y="516.45" width="0.61" height="7.55" fill="#d39c84"/><rect x="96.21" y="516.45" width="2.51" height="7.55" fill="#d9a48c"/><rect x="100.57" y="516.45" width="2.22" height="7.55" fill="#d39c84"/><rect x="105.72" y="516.45" width="2.52" height="7.55" fill="#d9a48c"/><rect x="108.25" y="516.45" width="1.10" height="7.55" fill="#eebda6"/><rect x="111.65" y="516.45" width="2.36" height="7.55" fill="#eebda6"/><rect x="114.01" y="516.45" width="2.55" height="7.55" fill="#d9a48c"/><rect x="116.56" y="516.45" width="0.67" height="7.55" fill="#d39c84"/><rect x="117.23" y="516.45" width="0.96" height="7.55" fill="#eebda6"/><rect x="118.19" y="516.45" width="2.55" height="7.55" fill="#d9a48c"/><rect x="120.74" y="516.45" width="0.49" height="7.55" fill="#eebda6"/><rect x="121.24" y="516.45" width="2.18" height="7.55" fill="#d39c84"/><rect x="123.41" y="516.45" width="1.03" height="7.55" fill="#eebda6"/><rect x="125.51" y="516.45" width="0.44" height="7.55" fill="#d9a48c"/><rect x="125.95" y="516.45" width="0.94" height="7.55" fill="#d39c84"/><rect x="126.90" y="516.45" width="2.13" height="7.55" fill="#d9a48c"/><rect x="129.03" y="516.45" width="1.43" height="7.55" fill="#d39c84"/><rect x="130.46" y="516.45" width="0.73" height="7.55" fill="#e6b29b"/><rect x="132.48" y="516.45" width="2.06" height="7.55" fill="#d9a48c"/><rect x="137.00" y="516.45" width="0.75" height="7.55" fill="#d9a48c"/><rect x="138.20" y="516.45" width="2.08" height="7.55" fill="#d9a48c"/><rect x="142.02" y="516.45" width="0.98" height="7.55" fill="#d39c84"/><rect x="143.00" y="516.45" width="2.27" height="7.55" fill="#d39c84"/><rect x="147.05" y="516.45" width="0.42" height="7.55" fill="#d39c84"/><rect x="147.47" y="516.45" width="1.66" height="7.55" fill="#e6b29b"/><rect x="149.13" y="516.45" width="1.45" height="7.55" fill="#d9a48c"/><rect x="150.58" y="516.45" width="1.22" height="7.55" fill="#eebda6"/><rect x="151.80" y="516.45" width="1.42" height="7.55" fill="#d39c84"/><rect x="153.22" y="516.45" width="2.10" height="7.55" fill="#eebda6"/><rect x="158.27" y="516.45" width="1.57" height="7.55" fill="#e6b29b"/><rect x="159.84" y="516.45" width="2.31" height="7.55" fill="#e6b29b"/><rect x="162.16" y="516.45" width="0.54" height="7.55" fill="#eebda6"/><rect x="162.69" y="516.45" width="1.39" height="7.55" fill="#eebda6"/><rect x="164.08" y="516.45" width="1.52" height="7.55" fill="#d9a48c"/><rect x="165.60" y="516.45" width="1.92" height="7.55" fill="#e6b29b"/><rect x="167.52" y="516.45" width="2.47" height="7.55" fill="#d39c84"/><rect x="172.33" y="516.45" width="1.03" height="7.55" fill="#d9a48c"/><rect x="175.04" y="516.45" width="0.49" height="7.55" fill="#e6b29b"/><rect x="178.49" y="516.45" width="2.42" height="7.55" fill="#d9a48c"/><rect x="183.50" y="516.45" width="1.82" height="7.55" fill="#e6b29b"/><rect x="185.33" y="516.45" width="2.23" height="7.55" fill="#e6b29b"/><rect x="187.56" y="516.45" width="1.20" height="7.55" fill="#d9a48c"/><rect x="191.32" y="516.45" width="0.62" height="7.55" fill="#d9a48c"/><rect x="191.94" y="516.45" width="2.46" height="7.55" fill="#eebda6"/><rect x="195.15" y="516.45" width="2.26" height="7.55" fill="#d9a48c"/><rect x="197.41" y="516.45" width="1.37" height="7.55" fill="#eebda6"/><rect x="205.36" y="516.45" width="0.77" height="7.55" fill="#e6b29b"/><rect x="207.64" y="516.45" width="1.88" height="7.55" fill="#d39c84"/><rect x="211.48" y="516.45" width="1.55" height="7.55" fill="#eebda6"/><rect x="215.23" y="516.45" width="1.30" height="7.55" fill="#d39c84"/><rect x="217.88" y="516.45" width="0.71" height="7.55" fill="#d9a48c"/><rect x="218.59" y="516.45" width="2.24" height="7.55" fill="#eebda6"/><rect x="220.83" y="516.45" width="0.47" height="7.55" fill="#e6b29b"/><rect x="225.87" y="516.45" width="0.61" height="7.55" fill="#e6b29b"/><rect x="226.48" y="516.45" width="2.42" height="7.55" fill="#d9a48c"/><rect x="228.90" y="516.45" width="0.55" height="7.55" fill="#e6b29b"/><rect x="229.46" y="516.45" width="0.94" height="7.55" fill="#eebda6"/><rect x="230.40" y="516.45" width="2.25" height="7.55" fill="#e6b29b"/><rect x="232.65" y="516.45" width="1.97" height="7.55" fill="#d39c84"/><rect x="242.13" y="516.45" width="1.57" height="7.55" fill="#eebda6"/><rect x="245.87" y="516.45" width="0.58" height="7.55" fill="#d39c84"/><rect x="248.50" y="516.45" width="0.44" height="7.55" fill="#d9a48c"/><rect x="249.48" y="516.45" width="0.47" height="7.55" fill="#eebda6"/><rect x="249.95" y="516.45" width="0.87" height="7.55" fill="#d9a48c"/><rect x="251.50" y="516.45" width="0.96" height="7.55" fill="#e6b29b"/><rect x="252.46" y="516.45" width="2.29" height="7.55" fill="#eebda6"/><rect x="254.75" y="516.45" width="1.57" height="7.55" fill="#e6b29b"/><rect x="256.96" y="516.45" width="1.85" height="7.55" fill="#d39c84"/><rect x="263.39" y="516.45" width="1.56" height="7.55" fill="#e6b29b"/><rect x="264.95" y="516.45" width="2.58" height="7.55" fill="#d9a48c"/><rect x="270.08" y="516.45" width="1.68" height="7.55" fill="#d39c84"/><rect x="271.76" y="516.45" width="0.52" height="7.55" fill="#e6b29b"/><rect x="276.69" y="516.45" width="2.19" height="7.55" fill="#d39c84"/><rect x="278.87" y="516.45" width="2.24" height="7.55" fill="#d9a48c"/><rect x="281.11" y="516.45" width="1.29" height="7.55" fill="#d9a48c"/><rect x="282.40" y="516.45" width="2.12" height="7.55" fill="#eebda6"/><rect x="284.53" y="516.45" width="1.41" height="7.55" fill="#e6b29b"/><rect x="285.93" y="516.45" width="1.41" height="7.55" fill="#d9a48c"/><rect x="289.33" y="516.45" width="2.40" height="7.55" fill="#d9a48c"/><rect x="291.73" y="516.45" width="0.70" height="7.55" fill="#d9a48c"/><rect x="292.42" y="516.45" width="0.48" height="7.55" fill="#d39c84"/><rect x="292.91" y="516.45" width="2.47" height="7.55" fill="#e6b29b"/><rect x="295.38" y="516.45" width="0.50" height="7.55" fill="#d9a48c"/><rect x="83.62" y="516.45" width="0.48" height="7.55" fill="#b0735a" fill-opacity="0.36"/><rect x="86.48" y="508.90" width="0.34" height="7.55" fill="#b0735a" fill-opacity="0.36"/><rect x="86.69" y="508.90" width="0.61" height="15.10" fill="#b0735a" fill-opacity="0.30"/><rect x="92.29" y="516.45" width="0.49" height="7.55" fill="#b0735a" fill-opacity="0.37"/><rect x="97.21" y="508.90" width="0.34" height="15.10" fill="#b0735a" fill-opacity="0.39"/><rect x="97.46" y="508.90" width="0.77" height="7.55" fill="#b0735a" fill-opacity="0.49"/><rect x="99.45" y="508.90" width="0.38" height="7.55" fill="#b0735a" fill-opacity="0.42"/><rect x="100.21" y="508.90" width="0.65" height="7.55" fill="#b0735a" fill-opacity="0.39"/><rect x="102.85" y="508.90" width="0.33" height="7.55" fill="#b0735a" fill-opacity="0.46"/><rect x="103.18" y="508.90" width="0.37" height="7.55" fill="#b0735a" fill-opacity="0.33"/><rect x="105.23" y="508.90" width="0.78" height="7.55" fill="#b0735a" fill-opacity="0.36"/><rect x="105.85" y="508.90" width="0.77" height="15.10" fill="#b0735a" fill-opacity="0.46"/><rect x="108.36" y="516.45" width="0.49" height="7.55" fill="#b0735a" fill-opacity="0.37"/><rect x="111.79" y="508.90" width="0.70" height="15.10" fill="#b0735a" fill-opacity="0.32"/><rect x="113.27" y="508.90" width="0.33" height="7.55" fill="#b0735a" fill-opacity="0.43"/><rect x="114.62" y="508.90" width="0.67" height="15.10" fill="#b0735a" fill-opacity="0.38"/><rect x="115.44" y="508.90" width="0.73" height="15.10" fill="#b0735a" fill-opacity="0.48"/><rect x="115.56" y="516.45" width="0.46" height="7.55" fill="#b0735a" fill-opacity="0.54"/><rect x="117.18" y="508.90" width="0.46" height="7.55" fill="#b0735a" fill-opacity="0.55"/><rect x="120.51" y="508.90" width="0.72" height="7.55" fill="#b0735a" fill-opacity="0.34"/><rect x="121.30" y="508.90" width="0.69" height="15.10" fill="#b0735a" fill-opacity="0.37"/><rect x="122.17" y="508.90" width="0.55" height="15.10" fill="#b0735a" fill-opacity="0.35"/><rect x="122.74" y="516.45" width="0.71" height="7.55" fill="#b0735a" fill-opacity="0.50"/><rect x="123.41" y="508.90" width="0.74" height="15.10" fill="#b0735a" fill-opacity="0.36"/><rect x="126.63" y="516.45" width="0.60" height="7.55" fill="#b0735a" fill-opacity="0.43"/><rect x="128.35" y="508.90" width="0.41" height="7.55" fill="#b0735a" fill-opacity="0.26"/><rect x="130.89" y="508.90" width="0.36" height="7.55" fill="#b0735a" fill-opacity="0.51"/><rect x="134.35" y="516.45" width="0.45" height="7.55" fill="#b0735a" fill-opacity="0.31"/><rect x="134.99" y="508.90" width="0.57" height="7.55" fill="#b0735a" fill-opacity="0.35"/><rect x="136.35" y="508.90" width="0.62" height="15.10" fill="#b0735a" fill-opacity="0.42"/><rect x="143.14" y="508.90" width="0.48" height="7.55" fill="#b0735a" fill-opacity="0.43"/><rect x="144.74" y="508.90" width="0.57" height="7.55" fill="#b0735a" fill-opacity="0.52"/><rect x="146.35" y="516.45" width="0.51" height="7.55" fill="#b0735a" fill-opacity="0.54"/><rect x="146.69" y="508.90" width="0.66" height="7.55" fill="#b0735a" fill-opacity="0.43"/><rect x="150.01" y="516.45" width="0.80" height="7.55" fill="#b0735a" fill-opacity="0.52"/><rect x="153.18" y="508.90" width="0.52" height="7.55" fill="#b0735a" fill-opacity="0.48"/><rect x="156.76" y="508.90" width="0.79" height="15.10" fill="#b0735a" fill-opacity="0.30"/><rect x="159.32" y="508.90" width="0.44" height="15.10" fill="#b0735a" fill-opacity="0.28"/><rect x="160.44" y="516.45" width="0.57" height="7.55" fill="#b0735a" fill-opacity="0.37"/><rect x="161.60" y="508.90" width="0.52" height="7.55" fill="#b0735a" fill-opacity="0.27"/><rect x="165.24" y="516.45" width="0.70" height="7.55" fill="#b0735a" fill-opacity="0.42"/><rect x="165.56" y="516.45" width="0.64" height="7.55" fill="#b0735a" fill-opacity="0.46"/><rect x="167.63" y="508.90" width="0.65" height="7.55" fill="#b0735a" fill-opacity="0.33"/><rect x="169.85" y="508.90" width="0.80" height="15.10" fill="#b0735a" fill-opacity="0.31"/><rect x="170.31" y="508.90" width="0.42" height="15.10" fill="#b0735a" fill-opacity="0.44"/><rect x="171.49" y="516.45" width="0.60" height="7.55" fill="#b0735a" fill-opacity="0.28"/><rect x="175.49" y="516.45" width="0.42" height="7.55" fill="#b0735a" fill-opacity="0.52"/><rect x="178.79" y="516.45" width="0.70" height="7.55" fill="#b0735a" fill-opacity="0.30"/><rect x="179.00" y="508.90" width="0.39" height="7.55" fill="#b0735a" fill-opacity="0.52"/><rect x="179.32" y="508.90" width="0.71" height="7.55" fill="#b0735a" fill-opacity="0.29"/><rect x="181.93" y="508.90" width="0.32" height="7.55" fill="#b0735a" fill-opacity="0.40"/><rect x="186.38" y="508.90" width="0.71" height="7.55" fill="#b0735a" fill-opacity="0.54"/><rect x="191.89" y="516.45" width="0.56" height="7.55" fill="#b0735a" fill-opacity="0.29"/><rect x="196.23" y="508.90" width="0.74" height="15.10" fill="#b0735a" fill-opacity="0.34"/><rect x="199.62" y="508.90" width="0.51" height="7.55" fill="#b0735a" fill-opacity="0.34"/><rect x="199.81" y="508.90" width="0.56" height="15.10" fill="#b0735a" fill-opacity="0.39"/><rect x="208.13" y="508.90" width="0.59" height="15.10" fill="#b0735a" fill-opacity="0.48"/><rect x="208.22" y="508.90" width="0.59" height="7.55" fill="#b0735a" fill-opacity="0.40"/><rect x="208.71" y="508.90" width="0.33" height="7.55" fill="#b0735a" fill-opacity="0.32"/><rect x="209.22" y="516.45" width="0.36" height="7.55" fill="#b0735a" fill-opacity="0.45"/><rect x="209.97" y="516.45" width="0.55" height="7.55" fill="#b0735a" fill-opacity="0.27"/><rect x="210.24" y="508.90" width="0.47" height="7.55" fill="#b0735a" fill-opacity="0.40"/><rect x="210.46" y="516.45" width="0.78" height="7.55" fill="#b0735a" fill-opacity="0.33"/><rect x="211.20" y="516.45" width="0.38" height="7.55" fill="#b0735a" fill-opacity="0.39"/><rect x="216.47" y="516.45" width="0.80" height="7.55" fill="#b0735a" fill-opacity="0.34"/><rect x="216.84" y="516.45" width="0.42" height="7.55" fill="#b0735a" fill-opacity="0.52"/><rect x="219.59" y="508.90" width="0.71" height="7.55" fill="#b0735a" fill-opacity="0.46"/><rect x="224.45" y="508.90" width="0.51" height="7.55" fill="#b0735a" fill-opacity="0.39"/><rect x="226.46" y="508.90" width="0.30" height="7.55" fill="#b0735a" fill-opacity="0.27"/><rect x="228.99" y="516.45" width="0.75" height="7.55" fill="#b0735a" fill-opacity="0.54"/><rect x="232.87" y="508.90" width="0.51" height="15.10" fill="#b0735a" fill-opacity="0.35"/><rect x="234.74" y="508.90" width="0.58" height="7.55" fill="#b0735a" fill-opacity="0.44"/><rect x="237.72" y="508.90" width="0.50" height="15.10" fill="#b0735a" fill-opacity="0.55"/><rect x="239.01" y="508.90" width="0.37" height="7.55" fill="#b0735a" fill-opacity="0.54"/><rect x="246.81" y="508.90" width="0.46" height="7.55" fill="#b0735a" fill-opacity="0.34"/><rect x="250.18" y="516.45" width="0.59" height="7.55" fill="#b0735a" fill-opacity="0.31"/><rect x="250.36" y="508.90" width="0.45" height="7.55" fill="#b0735a" fill-opacity="0.52"/><rect x="253.42" y="508.90" width="0.53" height="15.10" fill="#b0735a" fill-opacity="0.54"/><rect x="254.40" y="508.90" width="0.69" height="7.55" fill="#b0735a" fill-opacity="0.53"/><rect x="255.17" y="516.45" width="0.78" height="7.55" fill="#b0735a" fill-opacity="0.42"/><rect x="255.86" y="508.90" width="0.72" height="7.55" fill="#b0735a" fill-opacity="0.48"/><rect x="258.25" y="508.90" width="0.47" height="15.10" fill="#b0735a" fill-opacity="0.31"/><rect x="258.77" y="508.90" width="0.56" height="15.10" fill="#b0735a" fill-opacity="0.45"/><rect x="260.86" y="508.90" width="0.57" height="15.10" fill="#b0735a" fill-opacity="0.31"/><rect x="261.28" y="508.90" width="0.38" height="7.55" fill="#b0735a" fill-opacity="0.37"/><rect x="261.70" y="516.45" width="0.55" height="7.55" fill="#b0735a" fill-opacity="0.37"/><rect x="264.69" y="508.90" width="0.54" height="7.55" fill="#b0735a" fill-opacity="0.51"/><rect x="265.12" y="516.45" width="0.51" height="7.55" fill="#b0735a" fill-opacity="0.28"/><rect x="265.23" y="508.90" width="0.56" height="15.10" fill="#b0735a" fill-opacity="0.39"/><rect x="267.22" y="508.90" width="0.49" height="15.10" fill="#b0735a" fill-opacity="0.28"/><rect x="270.85" y="508.90" width="0.68" height="7.55" fill="#b0735a" fill-opacity="0.43"/><rect x="274.75" y="516.45" width="0.59" height="7.55" fill="#b0735a" fill-opacity="0.36"/><rect x="275.27" y="508.90" width="0.77" height="7.55" fill="#b0735a" fill-opacity="0.42"/><rect x="276.63" y="508.90" width="0.72" height="7.55" fill="#b0735a" fill-opacity="0.41"/><rect x="278.29" y="508.90" width="0.78" height="7.55" fill="#b0735a" fill-opacity="0.54"/><rect x="278.51" y="516.45" width="0.49" height="7.55" fill="#b0735a" fill-opacity="0.39"/><rect x="278.73" y="508.90" width="0.59" height="15.10" fill="#b0735a" fill-opacity="0.52"/><rect x="278.89" y="508.90" width="0.68" height="15.10" fill="#b0735a" fill-opacity="0.30"/><rect x="283.42" y="516.45" width="0.53" height="7.55" fill="#b0735a" fill-opacity="0.44"/><rect x="283.87" y="508.90" width="0.39" height="7.55" fill="#b0735a" fill-opacity="0.31"/><rect x="285.42" y="508.90" width="0.33" height="15.10" fill="#b0735a" fill-opacity="0.33"/><rect x="287.96" y="508.90" width="0.33" height="7.55" fill="#b0735a" fill-opacity="0.45"/><rect x="289.85" y="508.90" width="0.51" height="15.10" fill="#b0735a" fill-opacity="0.29"/><rect x="289.98" y="508.90" width="0.54" height="15.10" fill="#b0735a" fill-opacity="0.34"/><rect x="292.74" y="508.90" width="0.34" height="7.55" fill="#b0735a" fill-opacity="0.54"/><rect x="295.02" y="508.90" width="0.40" height="15.10" fill="#b0735a" fill-opacity="0.39"/><rect x="92.19" y="508.90" width="0.59" height="15.10" fill="#fff" fill-opacity="0.62"/><rect x="92.56" y="508.90" width="0.56" height="15.10" fill="#fff" fill-opacity="0.65"/><rect x="93.72" y="508.90" width="0.50" height="15.10" fill="#fff" fill-opacity="0.55"/><rect x="99.83" y="508.90" width="0.43" height="15.10" fill="#fff" fill-opacity="0.55"/><rect x="105.77" y="508.90" width="0.59" height="15.10" fill="#fff" fill-opacity="0.81"/><rect x="118.77" y="508.90" width="0.54" height="15.10" fill="#fff" fill-opacity="0.51"/><rect x="125.10" y="508.90" width="0.48" height="15.10" fill="#fff" fill-opacity="0.82"/><rect x="127.64" y="508.90" width="0.63" height="15.10" fill="#fff" fill-opacity="0.57"/><rect x="128.45" y="508.90" width="0.55" height="15.10" fill="#fff" fill-opacity="0.73"/><rect x="130.42" y="508.90" width="0.50" height="15.10" fill="#fff" fill-opacity="0.69"/><rect x="131.70" y="508.90" width="0.72" height="15.10" fill="#fff" fill-opacity="0.85"/><rect x="144.96" y="508.90" width="0.68" height="15.10" fill="#fff" fill-opacity="0.60"/><rect x="148.89" y="508.90" width="0.67" height="15.10" fill="#fff" fill-opacity="0.85"/><rect x="150.95" y="508.90" width="0.54" height="15.10" fill="#fff" fill-opacity="0.78"/><rect x="168.39" y="508.90" width="0.52" height="15.10" fill="#fff" fill-opacity="0.68"/><rect x="170.53" y="508.90" width="0.71" height="15.10" fill="#fff" fill-opacity="0.81"/><rect x="211.35" y="508.90" width="0.53" height="15.10" fill="#fff" fill-opacity="0.83"/><rect x="236.34" y="508.90" width="0.67" height="15.10" fill="#fff" fill-opacity="0.64"/><rect x="238.92" y="508.90" width="0.56" height="15.10" fill="#fff" fill-opacity="0.82"/><rect x="261.28" y="508.90" width="0.43" height="15.10" fill="#fff" fill-opacity="0.50"/><rect x="262.39" y="508.90" width="0.41" height="15.10" fill="#fff" fill-opacity="0.75"/><rect x="267.97" y="508.90" width="0.65" height="15.10" fill="#fff" fill-opacity="0.83"/><rect x="285.10" y="508.90" width="0.66" height="15.10" fill="#fff" fill-opacity="0.65"/><rect x="290.15" y="508.90" width="0.46" height="15.10" fill="#fff" fill-opacity="0.60"/><rect x="294.22" y="508.90" width="0.78" height="15.10" fill="#fff" fill-opacity="0.86"/>
<text transform="translate(61.1 455.5) scale(1.05 1)" text-anchor="end" font-family="Liberation Sans, sans-serif" font-size="6.9px" fill="#666">0.0000</text>
<text transform="translate(61.1 444.4) scale(1.05 1)" text-anchor="end" font-family="Liberation Sans, sans-serif" font-size="6.9px" fill="#666">0.0025</text>
<text transform="translate(61.1 433.3) scale(1.05 1)" text-anchor="end" font-family="Liberation Sans, sans-serif" font-size="6.9px" fill="#666">0.0050</text>
<text transform="translate(61.1 422.2) scale(1.05 1)" text-anchor="end" font-family="Liberation Sans, sans-serif" font-size="6.9px" fill="#666">0.0075</text>
<text transform="translate(61.1 411.1) scale(1.05 1)" text-anchor="end" font-family="Liberation Sans, sans-serif" font-size="6.9px" fill="#666">0.0100</text>
<text x="61.1" y="506.4" text-anchor="end" font-family="Liberation Sans, sans-serif" font-size="6.9px" fill="#666">0.0</text>
<text x="61.1" y="493.7" text-anchor="end" font-family="Liberation Sans, sans-serif" font-size="6.9px" fill="#666">0.1</text>
<text x="61.1" y="480.9" text-anchor="end" font-family="Liberation Sans, sans-serif" font-size="6.9px" fill="#666">0.2</text>
<text x="61.1" y="468.2" text-anchor="end" font-family="Liberation Sans, sans-serif" font-size="6.9px" fill="#666">0.3</text>
<text x="76.9" y="534.2" text-anchor="middle" font-family="Liberation Sans, sans-serif" font-size="6.9px" fill="#666">0</text>
<text x="123.0" y="534.2" text-anchor="middle" font-family="Liberation Sans, sans-serif" font-size="6.9px" fill="#666">10</text>
<text x="169.1" y="534.2" text-anchor="middle" font-family="Liberation Sans, sans-serif" font-size="6.9px" fill="#666">20</text>
<text x="215.2" y="534.2" text-anchor="middle" font-family="Liberation Sans, sans-serif" font-size="6.9px" fill="#666">30</text>
<text x="261.3" y="534.2" text-anchor="middle" font-family="Liberation Sans, sans-serif" font-size="6.9px" fill="#666">40</text>
<text x="307.4" y="534.2" text-anchor="middle" font-family="Liberation Sans, sans-serif" font-size="6.9px" fill="#666">50</text>
<path d="M64.7 406.9V454.7M64.7 457.4V505.6M64.7 453.1h-1.6M64.7 442.0h-1.6M64.7 430.9h-1.6M64.7 419.8h-1.6M64.7 408.7h-1.6M64.7 504.0h-1.6M64.7 491.3h-1.6M64.7 478.5h-1.6M64.7 465.8h-1.6M64.7 524.4H332.8M76.9 524.4v1.6M123.0 524.4v1.6M169.1 524.4v1.6M215.2 524.4v1.6M261.3 524.4v1.6M307.4 524.4v1.6" stroke="#222" stroke-width="0.9" fill="none"/>
<text transform="translate(29.8 430.0) scale(1.12 1) rotate(-90)" text-anchor="middle" font-family="Liberation Sans, sans-serif" font-weight="bold" font-size="6.6px" fill="#111">π</text>
<text transform="translate(29.8 481.5) scale(1.12 1) rotate(-90)" text-anchor="middle" font-family="Liberation Sans, sans-serif" font-weight="bold" font-size="7.4px" fill="#111">F<tspan font-size="4.6px" dy="2.2">ST</tspan></text>
<text transform="translate(17.2 459.7) scale(1.12 1) rotate(-90)" text-anchor="middle" font-family="Liberation Sans, sans-serif" font-weight="bold" font-size="8.08px" fill="#111">Chromosome II</text>
<text x="0.8" y="406.7" font-family="Liberation Sans, sans-serif" font-weight="bold" font-size="19px" fill="#111">d</text>
<path d="M76.90 611.90L76.90 586.95L77.30 587.07L77.70 581.81L78.10 590.33L78.51 587.49L78.91 589.15L79.31 592.44L79.71 601.42L80.11 591.18L80.51 586.47L80.91 587.82L81.31 587.19L81.72 589.79L82.12 588.32L82.52 589.72L82.92 592.00L83.32 585.21L83.72 589.54L84.12 589.61L84.52 580.05L84.93 584.45L85.33 573.54L85.73 576.83L86.13 586.02L86.53 589.15L86.93 571.44L87.33 585.04L87.74 587.28L88.14 581.17L88.54 586.19L88.94 581.19L89.34 585.72L89.74 583.68L90.14 575.63L90.54 578.71L90.95 583.47L91.35 578.47L91.75 581.05L92.15 590.09L92.55 592.20L92.95 589.50L93.35 586.59L93.75 590.93L94.16 589.28L94.56 589.17L94.96 588.27L95.36 587.60L95.76 587.90L96.16 575.29L96.56 578.77L96.97 582.71L97.37 581.94L97.77 586.46L98.17 588.17L98.57 581.93L98.97 589.03L99.37 588.21L99.77 589.80L100.18 566.17L100.58 589.69L100.98 590.03L101.38 583.30L101.78 588.52L102.18 591.19L102.58 594.47L102.99 591.84L103.39 594.57L103.79 591.52L104.19 595.47L104.59 594.52L104.99 593.89L105.39 594.88L105.79 593.61L106.20 590.16L106.60 586.91L107.00 585.24L107.40 592.15L107.80 587.06L108.20 593.06L108.60 595.17L109.00 584.81L109.41 585.69L109.81 585.53L110.21 588.43L110.61 585.37L111.01 602.97L111.41 587.05L111.81 592.46L112.22 591.98L112.62 590.44L113.02 594.56L113.42 593.29L113.82 593.30L114.22 585.63L114.62 595.09L115.02 596.56L115.43 593.31L115.83 592.10L116.23 590.24L116.63 589.41L117.03 588.56L117.43 590.14L117.83 593.47L118.23 585.37L118.64 584.15L119.04 587.04L119.44 584.24L119.84 589.65L120.24 592.98L120.64 587.29L121.04 587.29L121.45 598.57L121.85 589.77L122.25 587.25L122.65 593.28L123.05 589.17L123.45 593.46L123.85 589.87L124.25 590.88L124.66 592.26L125.06 589.82L125.46 594.36L125.86 595.17L126.26 590.14L126.66 585.35L127.06 582.53L127.46 583.36L127.87 591.43L128.27 589.29L128.67 589.73L129.07 569.33L129.47 589.66L129.87 590.43L130.27 590.13L130.68 583.44L131.08 586.54L131.48 590.05L131.88 591.15L132.28 591.40L132.68 591.73L133.08 590.79L133.48 592.14L133.89 587.37L134.29 588.50L134.69 585.61L135.09 591.82L135.49 588.88L135.89 588.43L136.29 581.64L136.70 583.54L137.10 577.54L137.50 587.12L137.90 587.30L138.30 585.15L138.70 589.44L139.10 589.21L139.50 591.21L139.91 591.69L140.31 587.23L140.71 587.52L141.11 571.77L141.51 588.56L141.91 578.76L142.31 583.29L142.71 585.96L143.12 586.61L143.52 588.97L143.92 581.63L144.32 588.12L144.72 586.35L145.12 586.07L145.52 585.61L145.93 585.10L146.33 585.76L146.73 573.15L147.13 584.45L147.53 586.64L147.93 586.77L148.33 585.32L148.73 577.91L149.14 579.41L149.54 578.98L149.94 566.17L150.34 566.17L150.74 585.78L151.14 583.69L151.54 587.33L151.94 586.43L152.35 575.74L152.75 611.90L153.15 611.90L153.55 582.69L153.95 585.86L154.35 587.63L154.75 605.28L155.16 591.34L155.56 587.65L155.96 586.54L156.36 588.24L156.76 587.03L157.16 586.45L157.56 585.80L157.96 586.93L158.37 576.25L158.77 588.67L159.17 579.56L159.57 590.72L159.97 583.10L160.37 584.85L160.77 566.17L161.17 580.80L161.58 579.01L161.98 588.16L162.38 588.47L162.78 588.34L163.18 589.86L163.58 586.22L163.98 582.60L164.39 572.83L164.79 591.14L165.19 591.49L165.59 591.68L165.99 593.62L166.39 588.72L166.79 588.10L167.19 592.03L167.60 585.49L168.00 584.85L168.40 583.08L168.80 589.88L169.20 589.91L169.60 588.76L170.00 587.92L170.40 592.35L170.81 590.98L171.21 591.87L171.61 587.46L172.01 587.72L172.41 589.18L172.81 591.62L173.21 580.56L173.62 588.23L174.02 585.68L174.42 583.74L174.82 590.84L175.22 585.35L175.62 582.19L176.02 568.90L176.42 579.04L176.83 588.58L177.23 582.20L177.63 586.86L178.03 582.84L178.43 579.85L178.83 584.51L179.23 581.83L179.64 585.25L180.04 572.61L180.44 574.36L180.84 580.83L181.24 580.33L181.64 588.56L182.04 587.13L182.44 581.28L182.85 584.55L183.25 582.69L183.65 566.17L184.05 583.76L184.45 584.59L184.85 566.17L185.25 584.10L185.65 579.28L186.06 586.08L186.46 580.67L186.86 584.75L187.26 586.92L187.66 577.54L188.06 575.97L188.46 576.00L188.87 566.17L189.27 586.13L189.67 586.13L190.07 567.98L190.47 566.17L190.87 579.53L191.27 588.17L191.67 581.03L192.08 576.36L192.48 585.57L192.88 584.53L193.28 583.54L193.68 590.82L194.08 587.33L194.48 578.09L194.88 576.38L195.29 588.99L195.69 584.30L196.09 588.34L196.49 588.70L196.89 586.00L197.29 581.08L197.69 590.73L198.10 587.81L198.50 593.68L198.90 589.43L199.30 584.81L199.70 593.58L200.10 585.90L200.50 590.72L200.90 590.83L201.31 590.34L201.71 572.46L202.11 592.89L202.51 593.12L202.91 592.76L203.31 590.67L203.71 592.11L204.11 586.07L204.52 590.90L204.92 590.74L205.32 587.96L205.72 587.65L206.12 593.17L206.52 593.19L206.92 591.13L207.33 593.31L207.73 593.54L208.13 591.40L208.53 593.05L208.93 582.64L209.33 575.95L209.73 588.75L210.13 589.88L210.54 583.32L210.94 587.43L211.34 580.34L211.74 590.35L212.14 592.45L212.54 582.69L212.94 590.81L213.34 587.23L213.75 606.22L214.15 592.85L214.55 588.48L214.95 590.69L215.35 592.88L215.75 581.99L216.15 587.40L216.56 587.02L216.96 573.15L217.36 585.18L217.76 583.19L218.16 590.96L218.56 582.80L218.96 574.03L219.36 584.97L219.77 590.26L220.17 580.37L220.57 589.18L220.97 590.44L221.37 588.93L221.77 589.74L222.17 590.25L222.58 591.94L222.98 590.88L223.38 591.68L223.78 588.07L224.18 589.15L224.58 593.14L224.98 591.97L225.38 594.14L225.79 588.37L226.19 593.57L226.59 593.12L226.99 591.01L227.39 590.57L227.79 611.90L228.19 611.90L228.59 586.85L229.00 587.76L229.40 578.58L229.80 591.35L230.20 581.51L230.60 589.39L231.00 583.19L231.40 585.79L231.81 588.55L232.21 587.12L232.61 585.73L233.01 591.21L233.41 587.41L233.81 590.23L234.21 588.71L234.61 591.06L235.02 586.92L235.42 588.75L235.82 593.71L236.22 586.87L236.62 590.32L237.02 589.99L237.42 587.94L237.82 593.76L238.23 581.88L238.63 583.39L239.03 585.10L239.43 584.33L239.83 588.72L240.23 584.50L240.63 583.52L241.04 574.77L241.44 587.37L241.84 582.52L242.24 581.35L242.64 581.87L243.04 587.26L243.44 582.68L243.84 589.53L244.25 582.61L244.65 587.77L245.05 584.83L245.45 586.83L245.85 584.19L246.25 576.23L246.65 586.24L247.05 585.98L247.46 582.32L247.86 580.02L248.26 576.35L248.66 586.54L249.06 574.09L249.46 567.50L249.86 588.31L250.27 588.64L250.67 568.29L251.07 589.72L251.47 585.36L251.87 589.90L252.27 584.32L252.67 587.61L253.07 578.60L253.48 587.20L253.88 584.20L254.28 589.13L254.68 587.28L255.08 586.85L255.48 583.58L255.88 591.94L256.29 592.50L256.69 588.69L257.09 590.51L257.49 582.60L257.89 584.07L258.29 589.04L258.69 585.42L259.09 590.21L259.50 588.43L259.90 583.47L260.30 578.41L260.70 583.93L261.10 588.12L261.50 580.98L261.90 587.89L262.30 578.11L262.71 586.73L263.11 579.27L263.51 568.39L263.91 587.44L264.31 583.57L264.71 579.91L265.11 575.13L265.52 567.47L265.92 578.55L266.32 586.46L266.72 587.47L267.12 589.24L267.52 590.64L267.92 592.09L268.32 590.55L268.73 578.48L269.13 582.98L269.53 566.17L269.93 590.26L270.33 591.64L270.73 580.72L271.13 566.17L271.53 587.51L271.94 590.42L272.34 592.69L272.74 581.90L273.14 591.74L273.54 584.77L273.94 585.99L274.34 569.18L274.75 585.41L275.15 584.88L275.55 583.42L275.95 581.39L276.35 580.98L276.75 588.51L277.15 574.90L277.55 580.86L277.96 578.18L278.36 574.20L278.36 611.90Z" fill="#f7d98e"/>
<path d="M76.90 611.90L76.90 606.90L77.30 607.55L77.70 606.86L78.10 606.60L78.51 605.25L78.91 603.01L79.31 606.58L79.71 607.02L80.11 606.50L80.51 605.82L80.91 606.08L81.31 604.96L81.72 602.56L82.12 606.85L82.52 607.32L82.92 607.03L83.32 606.29L83.72 606.41L84.12 606.41L84.52 605.50L84.93 606.44L85.33 605.91L85.73 605.83L86.13 604.99L86.53 603.96L86.93 601.66L87.33 605.68L87.74 606.07L88.14 604.82L88.54 606.39L88.94 605.84L89.34 603.31L89.74 600.86L90.14 603.24L90.54 604.40L90.95 605.08L91.35 605.36L91.75 605.90L92.15 605.48L92.55 604.18L92.95 604.86L93.35 604.79L93.75 605.13L94.16 600.49L94.56 604.03L94.96 602.46L95.36 605.85L95.76 606.08L96.16 605.93L96.56 604.57L96.97 604.43L97.37 601.28L97.77 606.01L98.17 605.67L98.57 605.47L98.97 604.20L99.37 604.86L99.77 605.90L100.18 605.41L100.58 606.50L100.98 606.48L101.38 605.21L101.78 604.31L102.18 606.88L102.58 602.92L102.99 604.80L103.39 606.25L103.79 605.69L104.19 605.17L104.59 603.85L104.99 606.75L105.39 605.16L105.79 606.51L106.20 605.49L106.60 606.26L107.00 605.38L107.40 600.62L107.80 604.52L108.20 606.40L108.60 605.80L109.00 604.33L109.41 603.87L109.81 604.97L110.21 606.75L110.61 607.03L111.01 605.98L111.41 605.90L111.81 606.49L112.22 604.66L112.62 605.28L113.02 605.54L113.42 606.64L113.82 606.05L114.22 606.21L114.62 605.66L115.02 606.21L115.43 604.03L115.83 606.09L116.23 604.59L116.63 603.58L117.03 604.12L117.43 602.78L117.83 605.67L118.23 605.57L118.64 605.94L119.04 604.83L119.44 605.48L119.84 604.82L120.24 602.04L120.64 605.91L121.04 606.37L121.45 605.50L121.85 604.41L122.25 605.02L122.65 605.72L123.05 605.39L123.45 605.12L123.85 606.33L124.25 602.55L124.66 605.25L125.06 604.96L125.46 601.37L125.86 605.42L126.26 605.36L126.66 603.60L127.06 603.93L127.46 606.18L127.87 604.87L128.27 604.36L128.67 601.54L129.07 605.72L129.47 606.52L129.87 606.85L130.27 605.78L130.68 605.42L131.08 597.68L131.48 605.75L131.88 602.17L132.28 605.78L132.68 605.03L133.08 601.62L133.48 605.59L133.89 605.24L134.29 605.65L134.69 605.59L135.09 604.35L135.49 604.46L135.89 604.61L136.29 602.86L136.70 604.34L137.10 599.49L137.50 605.12L137.90 602.45L138.30 605.42L138.70 605.51L139.10 605.24L139.50 606.05L139.91 603.24L140.31 605.43L140.71 605.16L141.11 604.26L141.51 603.44L141.91 605.13L142.31 605.06L142.71 603.19L143.12 601.46L143.52 605.30L143.92 606.19L144.32 605.57L144.72 603.47L145.12 605.42L145.52 605.43L145.93 605.06L146.33 606.46L146.73 605.17L147.13 602.16L147.53 604.74L147.93 598.31L148.33 603.36L148.73 601.88L149.14 604.18L149.54 604.37L149.94 603.90L150.34 601.59L150.74 602.92L151.14 603.90L151.54 603.67L151.94 602.94L152.35 603.10L152.75 611.90L153.15 611.90L153.55 606.18L153.95 604.45L154.35 605.80L154.75 605.28L155.16 604.04L155.56 606.06L155.96 604.87L156.36 597.31L156.76 601.75L157.16 604.16L157.56 602.04L157.96 605.85L158.37 604.80L158.77 604.53L159.17 605.24L159.57 605.59L159.97 603.14L160.37 602.32L160.77 605.45L161.17 605.23L161.58 596.83L161.98 604.16L162.38 603.40L162.78 601.09L163.18 603.75L163.58 596.72L163.98 603.18L164.39 604.17L164.79 601.64L165.19 604.06L165.59 601.43L165.99 603.99L166.39 602.28L166.79 601.36L167.19 604.01L167.60 604.27L168.00 603.78L168.40 601.68L168.80 604.58L169.20 604.81L169.60 604.78L170.00 602.81L170.40 604.68L170.81 605.68L171.21 601.45L171.61 599.38L172.01 601.29L172.41 604.11L172.81 601.40L173.21 602.75L173.62 601.55L174.02 600.59L174.42 603.43L174.82 605.31L175.22 604.69L175.62 605.42L176.02 604.15L176.42 603.88L176.83 601.87L177.23 602.81L177.63 602.60L178.03 599.00L178.43 603.65L178.83 601.62L179.23 600.93L179.64 603.10L180.04 604.88L180.44 605.16L180.84 603.95L181.24 603.81L181.64 605.48L182.04 604.92L182.44 596.49L182.85 605.26L183.25 601.47L183.65 602.29L184.05 604.19L184.45 604.29L184.85 604.94L185.25 605.04L185.65 604.63L186.06 603.61L186.46 603.03L186.86 601.37L187.26 602.97L187.66 603.99L188.06 603.19L188.46 604.45L188.87 604.51L189.27 603.43L189.67 601.72L190.07 603.53L190.47 605.67L190.87 605.30L191.27 605.97L191.67 604.54L192.08 606.11L192.48 603.29L192.88 598.85L193.28 603.40L193.68 605.38L194.08 604.69L194.48 603.89L194.88 603.38L195.29 603.06L195.69 602.95L196.09 604.92L196.49 604.41L196.89 605.66L197.29 604.69L197.69 602.49L198.10 605.37L198.50 605.53L198.90 599.61L199.30 605.38L199.70 603.91L200.10 604.47L200.50 605.90L200.90 605.65L201.31 605.53L201.71 606.33L202.11 605.11L202.51 603.61L202.91 602.98L203.31 605.21L203.71 604.30L204.11 600.90L204.52 605.93L204.92 604.96L205.32 605.40L205.72 605.61L206.12 604.33L206.52 602.68L206.92 604.10L207.33 604.89L207.73 604.89L208.13 602.97L208.53 605.83L208.93 604.88L209.33 604.84L209.73 606.49L210.13 605.37L210.54 604.14L210.94 603.07L211.34 605.39L211.74 603.01L212.14 604.42L212.54 605.99L212.94 606.74L213.34 605.37L213.75 606.22L214.15 602.30L214.55 604.36L214.95 607.06L215.35 605.98L215.75 603.05L216.15 605.10L216.56 604.42L216.96 603.73L217.36 599.91L217.76 599.54L218.16 602.56L218.56 602.73L218.96 603.80L219.36 604.09L219.77 605.17L220.17 605.61L220.57 604.79L220.97 603.22L221.37 603.87L221.77 604.78L222.17 600.65L222.58 605.18L222.98 605.76L223.38 605.17L223.78 605.48L224.18 606.14L224.58 601.49L224.98 605.44L225.38 604.22L225.79 604.30L226.19 599.89L226.59 603.56L226.99 603.40L227.39 604.26L227.79 611.90L228.19 611.90L228.59 601.84L229.00 603.54L229.40 606.33L229.80 606.72L230.20 604.48L230.60 605.27L231.00 604.05L231.40 605.65L231.81 599.64L232.21 602.98L232.61 604.23L233.01 605.59L233.41 604.90L233.81 603.23L234.21 604.99L234.61 603.96L235.02 602.34L235.42 604.75L235.82 604.81L236.22 604.34L236.62 603.13L237.02 605.62L237.42 605.04L237.82 602.97L238.23 605.49L238.63 605.84L239.03 603.50L239.43 605.06L239.83 600.75L240.23 598.43L240.63 603.75L241.04 604.73L241.44 603.08L241.84 603.56L242.24 605.39L242.64 603.28L243.04 602.31L243.44 605.36L243.84 605.82L244.25 603.25L244.65 602.77L245.05 602.76L245.45 605.08L245.85 602.78L246.25 602.72L246.65 603.44L247.05 604.93L247.46 604.07L247.86 604.25L248.26 604.46L248.66 605.05L249.06 603.73L249.46 603.44L249.86 602.89L250.27 605.31L250.67 603.69L251.07 601.02L251.47 603.56L251.87 606.07L252.27 607.00L252.67 605.33L253.07 604.83L253.48 603.16L253.88 605.28L254.28 601.40L254.68 604.78L255.08 604.10L255.48 605.70L255.88 605.56L256.29 602.91L256.69 603.88L257.09 603.23L257.49 602.45L257.89 604.60L258.29 605.17L258.69 603.56L259.09 605.87L259.50 605.10L259.90 605.62L260.30 605.82L260.70 604.40L261.10 605.12L261.50 602.93L261.90 603.33L262.30 605.25L262.71 605.00L263.11 602.50L263.51 602.65L263.91 605.17L264.31 606.26L264.71 602.61L265.11 605.37L265.52 605.13L265.92 604.16L266.32 603.27L266.72 603.88L267.12 600.63L267.52 602.60L267.92 603.62L268.32 603.15L268.73 599.34L269.13 602.83L269.53 604.79L269.93 605.31L270.33 605.38L270.73 605.71L271.13 603.66L271.53 605.87L271.94 605.15L272.34 603.18L272.74 600.32L273.14 602.81L273.54 605.73L273.94 604.72L274.34 605.42L274.75 605.44L275.15 605.49L275.55 604.26L275.95 605.36L276.35 601.86L276.75 605.28L277.15 605.20L277.55 606.70L277.96 605.71L278.36 604.15L278.36 611.90Z" fill="#bda467"/>
<path d="M76.90 662.30L76.90 654.20L77.30 653.30L77.70 653.76L78.10 653.07L78.51 653.82L78.91 652.32L79.31 652.77L79.71 652.68L80.11 649.18L80.51 652.65L80.91 653.13L81.31 652.93L81.72 653.67L82.12 654.37L82.52 655.13L82.92 652.99L83.32 653.38L83.72 652.46L84.12 652.92L84.52 651.11L84.93 651.59L85.33 649.04L85.73 649.61L86.13 652.70L86.53 649.68L86.93 642.47L87.33 646.31L87.74 647.89L88.14 646.67L88.54 649.72L88.94 644.83L89.34 652.09L89.74 651.38L90.14 651.99L90.54 647.99L90.95 650.06L91.35 649.77L91.75 650.77L92.15 646.78L92.55 652.55L92.95 651.21L93.35 649.75L93.75 649.06L94.16 650.09L94.56 648.10L94.96 648.55L95.36 636.82L95.76 642.08L96.16 648.45L96.56 645.69L96.97 646.87L97.37 647.67L97.77 645.42L98.17 647.61L98.57 649.56L98.97 651.25L99.37 653.29L99.77 637.89L100.18 650.62L100.58 646.23L100.98 647.80L101.38 650.86L101.78 650.89L102.18 646.26L102.58 651.52L102.99 645.66L103.39 650.01L103.79 647.12L104.19 649.02L104.59 649.46L104.99 644.41L105.39 647.73L105.79 647.73L106.20 644.70L106.60 644.97L107.00 648.56L107.40 643.57L107.80 648.10L108.20 650.41L108.60 649.65L109.00 648.16L109.41 648.35L109.81 648.61L110.21 648.68L110.61 649.14L111.01 637.91L111.41 648.00L111.81 649.44L112.22 646.79L112.62 641.64L113.02 642.31L113.42 645.99L113.82 644.81L114.22 647.98L114.62 649.64L115.02 646.19L115.43 647.30L115.83 648.74L116.23 648.60L116.63 648.30L117.03 644.66L117.43 644.38L117.83 644.66L118.23 644.40L118.64 642.54L119.04 641.30L119.44 647.27L119.84 635.02L120.24 643.15L120.64 647.06L121.04 649.32L121.45 644.71L121.85 646.48L122.25 650.22L122.65 645.79L123.05 642.25L123.45 649.63L123.85 648.52L124.25 648.58L124.66 649.81L125.06 643.62L125.46 623.57L125.86 615.43L126.26 629.14L126.66 650.03L127.06 648.32L127.46 651.08L127.87 652.63L128.27 648.05L128.67 649.77L129.07 650.92L129.47 647.17L129.87 647.71L130.27 647.34L130.68 640.26L131.08 649.33L131.48 644.23L131.88 646.19L132.28 647.73L132.68 646.47L133.08 648.14L133.48 648.63L133.89 651.80L134.29 644.14L134.69 648.19L135.09 647.10L135.49 653.72L135.89 651.37L136.29 649.14L136.70 648.41L137.10 645.98L137.50 652.41L137.90 651.99L138.30 653.00L138.70 648.09L139.10 651.92L139.50 653.40L139.91 652.68L140.31 646.41L140.71 650.72L141.11 647.78L141.51 647.60L141.91 646.39L142.31 647.99L142.71 644.99L143.12 646.32L143.52 645.78L143.92 642.60L144.32 648.93L144.72 646.87L145.12 650.30L145.52 650.38L145.93 640.98L146.33 647.17L146.73 643.92L147.13 645.95L147.53 647.60L147.93 647.65L148.33 645.88L148.73 646.20L149.14 647.31L149.54 644.79L149.94 648.50L150.34 646.97L150.74 644.27L151.14 649.29L151.54 648.65L151.94 650.08L152.35 651.32L152.75 652.05L153.15 651.10L153.55 653.10L153.95 650.22L154.35 649.62L154.75 652.68L155.16 651.36L155.56 650.64L155.96 650.69L156.36 649.85L156.76 634.94L157.16 652.25L157.56 651.09L157.96 650.51L158.37 649.93L158.77 650.61L159.17 650.77L159.57 652.50L159.97 654.07L160.37 652.88L160.77 652.92L161.17 651.78L161.58 652.11L161.98 651.21L162.38 650.91L162.78 650.12L163.18 651.05L163.58 651.13L163.98 650.07L164.39 644.14L164.79 647.83L165.19 640.53L165.59 636.31L165.99 651.38L166.39 649.63L166.79 646.56L167.19 648.51L167.60 649.00L168.00 649.41L168.40 650.02L168.80 646.22L169.20 651.21L169.60 652.67L170.00 652.74L170.40 650.94L170.81 650.92L171.21 653.71L171.61 654.95L172.01 655.42L172.41 652.09L172.81 652.62L173.21 654.36L173.62 655.79L174.02 655.94L174.42 650.99L174.82 649.23L175.22 653.29L175.62 651.30L176.02 652.05L176.42 648.50L176.83 647.92L177.23 644.53L177.63 647.81L178.03 649.53L178.43 650.32L178.83 649.35L179.23 650.58L179.64 649.25L180.04 652.04L180.44 652.57L180.84 651.47L181.24 650.52L181.64 643.68L182.04 648.44L182.44 650.22L182.85 651.88L183.25 653.41L183.65 652.27L184.05 648.69L184.45 648.61L184.85 643.30L185.25 639.97L185.65 647.80L186.06 650.28L186.46 646.98L186.86 645.43L187.26 648.21L187.66 642.92L188.06 649.55L188.46 649.93L188.87 649.21L189.27 652.57L189.67 651.65L190.07 651.40L190.47 653.77L190.87 652.02L191.27 651.54L191.67 651.82L192.08 651.47L192.48 651.94L192.88 642.41L193.28 649.61L193.68 646.14L194.08 648.54L194.48 645.90L194.88 643.03L195.29 646.84L195.69 645.95L196.09 649.71L196.49 647.94L196.89 636.16L197.29 648.77L197.69 647.65L198.10 650.76L198.50 652.05L198.90 646.52L199.30 651.77L199.70 650.58L200.10 648.66L200.50 649.07L200.90 649.24L201.31 646.47L201.71 650.16L202.11 651.87L202.51 651.60L202.91 648.83L203.31 647.92L203.71 642.03L204.11 641.93L204.52 647.33L204.92 648.50L205.32 649.35L205.72 652.01L206.12 646.30L206.52 650.53L206.92 643.00L207.33 649.51L207.73 637.36L208.13 650.78L208.53 648.17L208.93 645.61L209.33 647.17L209.73 648.60L210.13 644.58L210.54 644.05L210.94 647.85L211.34 648.10L211.74 647.34L212.14 642.63L212.54 639.67L212.94 648.97L213.34 650.84L213.75 644.62L214.15 645.93L214.55 646.64L214.95 649.94L215.35 647.87L215.75 650.81L216.15 650.72L216.56 638.03L216.96 647.19L217.36 640.78L217.76 647.65L218.16 644.36L218.56 645.28L218.96 644.09L219.36 645.70L219.77 645.26L220.17 645.36L220.57 637.32L220.97 642.31L221.37 639.10L221.77 628.26L222.17 615.43L222.58 631.28L222.98 648.39L223.38 644.60L223.78 643.09L224.18 641.78L224.58 644.41L224.98 633.23L225.38 628.30L225.79 643.31L226.19 640.92L226.59 646.77L226.99 643.90L227.39 644.16L227.79 649.63L228.19 648.16L228.59 648.96L229.00 640.77L229.40 639.20L229.80 649.68L230.20 648.06L230.60 637.59L231.00 650.57L231.40 649.99L231.81 648.21L232.21 644.65L232.61 646.06L233.01 648.98L233.41 638.78L233.81 644.39L234.21 646.73L234.61 645.39L235.02 646.91L235.42 644.26L235.82 638.71L236.22 648.05L236.62 642.26L237.02 646.34L237.42 644.94L237.82 643.10L238.23 641.10L238.63 647.65L239.03 646.84L239.43 649.31L239.83 647.82L240.23 647.33L240.63 647.49L241.04 644.49L241.44 641.91L241.84 645.74L242.24 638.96L242.64 646.38L243.04 646.40L243.44 649.56L243.84 649.41L244.25 643.91L244.65 648.49L245.05 648.02L245.45 649.58L245.85 646.14L246.25 644.34L246.65 646.01L247.05 644.83L247.46 642.18L247.86 645.89L248.26 648.23L248.66 648.92L249.06 648.97L249.46 647.93L249.86 641.94L250.27 646.50L250.67 641.95L251.07 648.87L251.47 646.80L251.87 644.78L252.27 647.45L252.67 647.86L253.07 645.95L253.48 639.03L253.88 635.65L254.28 649.02L254.68 645.42L255.08 649.57L255.48 648.10L255.88 642.21L256.29 643.70L256.69 638.02L257.09 640.74L257.49 643.92L257.89 645.84L258.29 644.33L258.69 642.90L259.09 642.59L259.50 643.46L259.90 641.96L260.30 644.78L260.70 642.81L261.10 642.39L261.50 630.68L261.90 644.56L262.30 644.36L262.71 646.32L263.11 645.67L263.51 644.51L263.91 645.17L264.31 635.57L264.71 644.85L265.11 642.00L265.52 642.21L265.92 646.52L266.32 646.82L266.72 643.34L267.12 647.02L267.52 650.71L267.92 649.12L268.32 646.35L268.73 648.17L269.13 649.30L269.53 646.68L269.93 640.55L270.33 631.00L270.73 643.41L271.13 647.50L271.53 645.58L271.94 647.34L272.34 649.58L272.74 649.44L273.14 649.83L273.54 648.18L273.94 649.56L274.34 648.55L274.75 649.21L275.15 650.72L275.55 650.15L275.95 652.63L276.35 650.59L276.75 651.06L277.15 651.62L277.55 651.39L277.96 651.76L278.36 647.49L278.36 662.30Z" fill="#dec07a"/>
<rect x="76.90" y="667.00" width="201.46" height="7.15" fill="#e0d0a5"/>
<rect x="76.90" y="674.15" width="201.46" height="7.15" fill="#e6d8b0"/>
<rect x="79.37" y="667.00" width="0.96" height="7.15" fill="#eee1bc"/><rect x="80.32" y="667.00" width="2.41" height="7.15" fill="#eee1bc"/><rect x="85.75" y="667.00" width="0.59" height="7.15" fill="#cdb98b"/><rect x="87.07" y="667.00" width="0.52" height="7.15" fill="#eee1bc"/><rect x="87.60" y="667.00" width="2.18" height="7.15" fill="#e9dcb5"/><rect x="89.77" y="667.00" width="0.52" height="7.15" fill="#d6c59a"/><rect x="90.29" y="667.00" width="0.74" height="7.15" fill="#cdb98b"/><rect x="91.03" y="667.00" width="0.44" height="7.15" fill="#eee1bc"/><rect x="91.47" y="667.00" width="1.81" height="7.15" fill="#d6c59a"/><rect x="97.17" y="667.00" width="1.19" height="7.15" fill="#e9dcb5"/><rect x="100.59" y="667.00" width="1.86" height="7.15" fill="#d6c59a"/><rect x="102.45" y="667.00" width="1.28" height="7.15" fill="#e9dcb5"/><rect x="103.73" y="667.00" width="2.28" height="7.15" fill="#d6c59a"/><rect x="108.35" y="667.00" width="0.84" height="7.15" fill="#eee1bc"/><rect x="111.45" y="667.00" width="2.50" height="7.15" fill="#e9dcb5"/><rect x="113.95" y="667.00" width="1.76" height="7.15" fill="#d6c59a"/><rect x="115.72" y="667.00" width="0.41" height="7.15" fill="#d6c59a"/><rect x="117.42" y="667.00" width="1.37" height="7.15" fill="#eee1bc"/><rect x="118.79" y="667.00" width="1.92" height="7.15" fill="#cdb98b"/><rect x="120.71" y="667.00" width="1.11" height="7.15" fill="#cdb98b"/><rect x="124.17" y="667.00" width="1.92" height="7.15" fill="#eee1bc"/><rect x="126.93" y="667.00" width="0.62" height="7.15" fill="#eee1bc"/><rect x="127.55" y="667.00" width="0.60" height="7.15" fill="#eee1bc"/><rect x="128.15" y="667.00" width="1.70" height="7.15" fill="#d6c59a"/><rect x="129.85" y="667.00" width="1.02" height="7.15" fill="#d6c59a"/><rect x="133.05" y="667.00" width="1.07" height="7.15" fill="#eee1bc"/><rect x="134.12" y="667.00" width="1.07" height="7.15" fill="#e9dcb5"/><rect x="135.19" y="667.00" width="0.41" height="7.15" fill="#d6c59a"/><rect x="135.60" y="667.00" width="1.87" height="7.15" fill="#cdb98b"/><rect x="138.23" y="667.00" width="1.78" height="7.15" fill="#cdb98b"/><rect x="140.01" y="667.00" width="0.95" height="7.15" fill="#d6c59a"/><rect x="140.96" y="667.00" width="1.92" height="7.15" fill="#cdb98b"/><rect x="142.89" y="667.00" width="2.04" height="7.15" fill="#eee1bc"/><rect x="144.93" y="667.00" width="2.11" height="7.15" fill="#d6c59a"/><rect x="147.05" y="667.00" width="0.89" height="7.15" fill="#d6c59a"/><rect x="147.93" y="667.00" width="2.37" height="7.15" fill="#e9dcb5"/><rect x="153.07" y="667.00" width="1.21" height="7.15" fill="#eee1bc"/><rect x="154.28" y="667.00" width="0.91" height="7.15" fill="#cdb98b"/><rect x="155.19" y="667.00" width="1.42" height="7.15" fill="#d6c59a"/><rect x="159.18" y="667.00" width="0.87" height="7.15" fill="#cdb98b"/><rect x="163.78" y="667.00" width="2.43" height="7.15" fill="#cdb98b"/><rect x="166.21" y="667.00" width="1.72" height="7.15" fill="#e9dcb5"/><rect x="167.93" y="667.00" width="1.81" height="7.15" fill="#e9dcb5"/><rect x="169.74" y="667.00" width="0.85" height="7.15" fill="#cdb98b"/><rect x="171.29" y="667.00" width="2.28" height="7.15" fill="#d6c59a"/><rect x="173.58" y="667.00" width="2.21" height="7.15" fill="#e9dcb5"/><rect x="175.78" y="667.00" width="1.99" height="7.15" fill="#eee1bc"/><rect x="177.77" y="667.00" width="0.63" height="7.15" fill="#cdb98b"/><rect x="178.41" y="667.00" width="1.04" height="7.15" fill="#d6c59a"/><rect x="181.17" y="667.00" width="2.35" height="7.15" fill="#cdb98b"/><rect x="185.56" y="667.00" width="2.45" height="7.15" fill="#d6c59a"/><rect x="189.99" y="667.00" width="2.58" height="7.15" fill="#d6c59a"/><rect x="192.57" y="667.00" width="1.13" height="7.15" fill="#d6c59a"/><rect x="193.70" y="667.00" width="1.50" height="7.15" fill="#d6c59a"/><rect x="195.20" y="667.00" width="2.42" height="7.15" fill="#cdb98b"/><rect x="197.62" y="667.00" width="2.27" height="7.15" fill="#cdb98b"/><rect x="199.90" y="667.00" width="1.21" height="7.15" fill="#e9dcb5"/><rect x="201.11" y="667.00" width="0.78" height="7.15" fill="#e9dcb5"/><rect x="201.89" y="667.00" width="0.70" height="7.15" fill="#e9dcb5"/><rect x="207.47" y="667.00" width="0.85" height="7.15" fill="#d6c59a"/><rect x="208.32" y="667.00" width="1.37" height="7.15" fill="#e9dcb5"/><rect x="209.68" y="667.00" width="1.94" height="7.15" fill="#cdb98b"/><rect x="214.16" y="667.00" width="2.36" height="7.15" fill="#e9dcb5"/><rect x="216.51" y="667.00" width="1.44" height="7.15" fill="#cdb98b"/><rect x="221.09" y="667.00" width="0.53" height="7.15" fill="#eee1bc"/><rect x="221.63" y="667.00" width="2.13" height="7.15" fill="#cdb98b"/><rect x="227.81" y="667.00" width="0.97" height="7.15" fill="#e9dcb5"/><rect x="228.78" y="667.00" width="1.14" height="7.15" fill="#eee1bc"/><rect x="229.92" y="667.00" width="0.74" height="7.15" fill="#e9dcb5"/><rect x="230.66" y="667.00" width="0.61" height="7.15" fill="#e9dcb5"/><rect x="231.27" y="667.00" width="0.45" height="7.15" fill="#cdb98b"/><rect x="239.88" y="667.00" width="2.14" height="7.15" fill="#e9dcb5"/><rect x="242.02" y="667.00" width="1.93" height="7.15" fill="#cdb98b"/><rect x="245.86" y="667.00" width="0.80" height="7.15" fill="#eee1bc"/><rect x="246.66" y="667.00" width="1.41" height="7.15" fill="#e9dcb5"/><rect x="248.08" y="667.00" width="2.18" height="7.15" fill="#d6c59a"/><rect x="252.59" y="667.00" width="0.78" height="7.15" fill="#eee1bc"/><rect x="259.33" y="667.00" width="1.21" height="7.15" fill="#cdb98b"/><rect x="271.26" y="667.00" width="1.32" height="7.15" fill="#eee1bc"/><rect x="273.78" y="667.00" width="1.18" height="7.15" fill="#eee1bc"/><rect x="274.96" y="667.00" width="1.87" height="7.15" fill="#eee1bc"/><rect x="276.83" y="667.00" width="0.89" height="7.15" fill="#cdb98b"/><rect x="277.72" y="667.00" width="0.64" height="7.15" fill="#d6c59a"/><rect x="82.17" y="674.15" width="1.29" height="7.15" fill="#cdb98b"/><rect x="85.45" y="674.15" width="2.39" height="7.15" fill="#cdb98b"/><rect x="91.42" y="674.15" width="0.69" height="7.15" fill="#cdb98b"/><rect x="92.12" y="674.15" width="1.37" height="7.15" fill="#e9dcb5"/><rect x="93.49" y="674.15" width="0.59" height="7.15" fill="#e9dcb5"/><rect x="94.07" y="674.15" width="1.62" height="7.15" fill="#e9dcb5"/><rect x="95.69" y="674.15" width="0.85" height="7.15" fill="#e9dcb5"/><rect x="96.54" y="674.15" width="2.33" height="7.15" fill="#e9dcb5"/><rect x="104.16" y="674.15" width="1.46" height="7.15" fill="#eee1bc"/><rect x="105.62" y="674.15" width="1.07" height="7.15" fill="#eee1bc"/><rect x="108.04" y="674.15" width="0.50" height="7.15" fill="#eee1bc"/><rect x="108.53" y="674.15" width="0.42" height="7.15" fill="#eee1bc"/><rect x="108.96" y="674.15" width="1.34" height="7.15" fill="#d6c59a"/><rect x="111.61" y="674.15" width="0.56" height="7.15" fill="#cdb98b"/><rect x="115.03" y="674.15" width="1.55" height="7.15" fill="#d6c59a"/><rect x="116.58" y="674.15" width="1.99" height="7.15" fill="#e9dcb5"/><rect x="118.57" y="674.15" width="1.97" height="7.15" fill="#eee1bc"/><rect x="123.00" y="674.15" width="2.45" height="7.15" fill="#cdb98b"/><rect x="125.46" y="674.15" width="0.52" height="7.15" fill="#cdb98b"/><rect x="130.83" y="674.15" width="1.29" height="7.15" fill="#d6c59a"/><rect x="132.12" y="674.15" width="1.85" height="7.15" fill="#eee1bc"/><rect x="136.09" y="674.15" width="1.81" height="7.15" fill="#cdb98b"/><rect x="137.89" y="674.15" width="1.18" height="7.15" fill="#cdb98b"/><rect x="141.50" y="674.15" width="2.28" height="7.15" fill="#d6c59a"/><rect x="143.78" y="674.15" width="2.39" height="7.15" fill="#eee1bc"/><rect x="146.17" y="674.15" width="1.46" height="7.15" fill="#e9dcb5"/><rect x="148.94" y="674.15" width="0.48" height="7.15" fill="#eee1bc"/><rect x="151.50" y="674.15" width="1.45" height="7.15" fill="#d6c59a"/><rect x="152.95" y="674.15" width="0.71" height="7.15" fill="#eee1bc"/><rect x="153.66" y="674.15" width="1.78" height="7.15" fill="#cdb98b"/><rect x="156.51" y="674.15" width="0.48" height="7.15" fill="#eee1bc"/><rect x="156.99" y="674.15" width="1.04" height="7.15" fill="#eee1bc"/><rect x="158.03" y="674.15" width="0.63" height="7.15" fill="#e9dcb5"/><rect x="158.66" y="674.15" width="2.35" height="7.15" fill="#cdb98b"/><rect x="161.01" y="674.15" width="2.41" height="7.15" fill="#e9dcb5"/><rect x="165.02" y="674.15" width="2.47" height="7.15" fill="#eee1bc"/><rect x="167.49" y="674.15" width="2.40" height="7.15" fill="#d6c59a"/><rect x="170.87" y="674.15" width="0.70" height="7.15" fill="#d6c59a"/><rect x="171.57" y="674.15" width="1.81" height="7.15" fill="#d6c59a"/><rect x="173.38" y="674.15" width="1.81" height="7.15" fill="#d6c59a"/><rect x="176.30" y="674.15" width="2.26" height="7.15" fill="#d6c59a"/><rect x="178.56" y="674.15" width="2.56" height="7.15" fill="#d6c59a"/><rect x="183.59" y="674.15" width="1.68" height="7.15" fill="#eee1bc"/><rect x="185.27" y="674.15" width="0.88" height="7.15" fill="#eee1bc"/><rect x="189.11" y="674.15" width="2.28" height="7.15" fill="#d6c59a"/><rect x="191.39" y="674.15" width="0.45" height="7.15" fill="#e9dcb5"/><rect x="191.84" y="674.15" width="2.55" height="7.15" fill="#cdb98b"/><rect x="194.80" y="674.15" width="1.95" height="7.15" fill="#cdb98b"/><rect x="197.85" y="674.15" width="1.56" height="7.15" fill="#e9dcb5"/><rect x="199.40" y="674.15" width="0.90" height="7.15" fill="#cdb98b"/><rect x="200.31" y="674.15" width="1.61" height="7.15" fill="#eee1bc"/><rect x="201.92" y="674.15" width="0.51" height="7.15" fill="#d6c59a"/><rect x="202.42" y="674.15" width="2.39" height="7.15" fill="#d6c59a"/><rect x="204.82" y="674.15" width="2.21" height="7.15" fill="#cdb98b"/><rect x="207.03" y="674.15" width="2.36" height="7.15" fill="#cdb98b"/><rect x="210.63" y="674.15" width="1.59" height="7.15" fill="#cdb98b"/><rect x="212.22" y="674.15" width="2.44" height="7.15" fill="#e9dcb5"/><rect x="214.66" y="674.15" width="1.98" height="7.15" fill="#e9dcb5"/><rect x="216.63" y="674.15" width="0.58" height="7.15" fill="#cdb98b"/><rect x="217.21" y="674.15" width="0.96" height="7.15" fill="#eee1bc"/><rect x="218.17" y="674.15" width="2.03" height="7.15" fill="#e9dcb5"/><rect x="221.81" y="674.15" width="0.48" height="7.15" fill="#d6c59a"/><rect x="222.29" y="674.15" width="1.46" height="7.15" fill="#e9dcb5"/><rect x="227.09" y="674.15" width="2.45" height="7.15" fill="#d6c59a"/><rect x="231.53" y="674.15" width="1.86" height="7.15" fill="#cdb98b"/><rect x="235.69" y="674.15" width="2.27" height="7.15" fill="#cdb98b"/><rect x="237.96" y="674.15" width="1.14" height="7.15" fill="#eee1bc"/><rect x="240.98" y="674.15" width="0.54" height="7.15" fill="#cdb98b"/><rect x="241.52" y="674.15" width="2.36" height="7.15" fill="#e9dcb5"/><rect x="243.88" y="674.15" width="1.23" height="7.15" fill="#d6c59a"/><rect x="245.11" y="674.15" width="0.86" height="7.15" fill="#e9dcb5"/><rect x="250.19" y="674.15" width="2.56" height="7.15" fill="#d6c59a"/><rect x="252.75" y="674.15" width="0.78" height="7.15" fill="#cdb98b"/><rect x="254.21" y="674.15" width="1.17" height="7.15" fill="#eee1bc"/><rect x="258.20" y="674.15" width="1.99" height="7.15" fill="#e9dcb5"/><rect x="260.19" y="674.15" width="0.93" height="7.15" fill="#eee1bc"/><rect x="261.11" y="674.15" width="2.32" height="7.15" fill="#cdb98b"/><rect x="263.43" y="674.15" width="0.87" height="7.15" fill="#d6c59a"/><rect x="264.30" y="674.15" width="1.81" height="7.15" fill="#d6c59a"/><rect x="266.11" y="674.15" width="1.77" height="7.15" fill="#eee1bc"/><rect x="267.88" y="674.15" width="0.54" height="7.15" fill="#e9dcb5"/><rect x="268.42" y="674.15" width="2.36" height="7.15" fill="#cdb98b"/><rect x="270.78" y="674.15" width="0.86" height="7.15" fill="#e9dcb5"/><rect x="275.43" y="674.15" width="1.95" height="7.15" fill="#e9dcb5"/><rect x="277.39" y="674.15" width="0.64" height="7.15" fill="#cdb98b"/><rect x="78.71" y="674.15" width="0.31" height="7.15" fill="#a89464" fill-opacity="0.44"/><rect x="86.99" y="667.00" width="0.68" height="14.30" fill="#a89464" fill-opacity="0.54"/><rect x="87.45" y="667.00" width="0.77" height="7.15" fill="#a89464" fill-opacity="0.28"/><rect x="88.82" y="667.00" width="0.36" height="7.15" fill="#a89464" fill-opacity="0.49"/><rect x="89.13" y="667.00" width="0.76" height="7.15" fill="#a89464" fill-opacity="0.26"/><rect x="95.85" y="674.15" width="0.56" height="7.15" fill="#a89464" fill-opacity="0.43"/><rect x="96.06" y="674.15" width="0.35" height="7.15" fill="#a89464" fill-opacity="0.47"/><rect x="101.27" y="667.00" width="0.51" height="7.15" fill="#a89464" fill-opacity="0.47"/><rect x="103.91" y="674.15" width="0.50" height="7.15" fill="#a89464" fill-opacity="0.43"/><rect x="116.21" y="674.15" width="0.65" height="7.15" fill="#a89464" fill-opacity="0.48"/><rect x="116.49" y="667.00" width="0.79" height="7.15" fill="#a89464" fill-opacity="0.36"/><rect x="119.30" y="667.00" width="0.58" height="7.15" fill="#a89464" fill-opacity="0.35"/><rect x="119.37" y="667.00" width="0.70" height="7.15" fill="#a89464" fill-opacity="0.47"/><rect x="121.71" y="667.00" width="0.31" height="7.15" fill="#a89464" fill-opacity="0.45"/><rect x="125.05" y="674.15" width="0.48" height="7.15" fill="#a89464" fill-opacity="0.32"/><rect x="125.31" y="667.00" width="0.62" height="7.15" fill="#a89464" fill-opacity="0.32"/><rect x="125.86" y="667.00" width="0.54" height="7.15" fill="#a89464" fill-opacity="0.36"/><rect x="127.34" y="667.00" width="0.71" height="14.30" fill="#a89464" fill-opacity="0.44"/><rect x="129.44" y="674.15" width="0.39" height="7.15" fill="#a89464" fill-opacity="0.48"/><rect x="132.51" y="667.00" width="0.39" height="7.15" fill="#a89464" fill-opacity="0.39"/><rect x="136.62" y="667.00" width="0.74" height="14.30" fill="#a89464" fill-opacity="0.27"/><rect x="137.36" y="667.00" width="0.47" height="7.15" fill="#a89464" fill-opacity="0.37"/><rect x="137.83" y="667.00" width="0.46" height="7.15" fill="#a89464" fill-opacity="0.39"/><rect x="140.07" y="667.00" width="0.73" height="7.15" fill="#a89464" fill-opacity="0.49"/><rect x="142.44" y="674.15" width="0.53" height="7.15" fill="#a89464" fill-opacity="0.43"/><rect x="145.56" y="667.00" width="0.52" height="14.30" fill="#a89464" fill-opacity="0.26"/><rect x="147.15" y="667.00" width="0.40" height="14.30" fill="#a89464" fill-opacity="0.29"/><rect x="150.90" y="674.15" width="0.55" height="7.15" fill="#a89464" fill-opacity="0.45"/><rect x="155.52" y="667.00" width="0.54" height="14.30" fill="#a89464" fill-opacity="0.28"/><rect x="155.70" y="667.00" width="0.31" height="7.15" fill="#a89464" fill-opacity="0.53"/><rect x="161.37" y="667.00" width="0.36" height="7.15" fill="#a89464" fill-opacity="0.48"/><rect x="162.52" y="667.00" width="0.75" height="14.30" fill="#a89464" fill-opacity="0.49"/><rect x="162.67" y="667.00" width="0.66" height="7.15" fill="#a89464" fill-opacity="0.54"/><rect x="162.77" y="667.00" width="0.38" height="7.15" fill="#a89464" fill-opacity="0.44"/><rect x="163.48" y="674.15" width="0.35" height="7.15" fill="#a89464" fill-opacity="0.29"/><rect x="163.71" y="667.00" width="0.43" height="7.15" fill="#a89464" fill-opacity="0.46"/><rect x="163.97" y="667.00" width="0.52" height="7.15" fill="#a89464" fill-opacity="0.36"/><rect x="167.58" y="667.00" width="0.75" height="7.15" fill="#a89464" fill-opacity="0.26"/><rect x="168.91" y="667.00" width="0.67" height="7.15" fill="#a89464" fill-opacity="0.46"/><rect x="171.28" y="667.00" width="0.51" height="14.30" fill="#a89464" fill-opacity="0.52"/><rect x="171.73" y="667.00" width="0.60" height="7.15" fill="#a89464" fill-opacity="0.52"/><rect x="171.97" y="667.00" width="0.71" height="7.15" fill="#a89464" fill-opacity="0.35"/><rect x="172.40" y="667.00" width="0.31" height="7.15" fill="#a89464" fill-opacity="0.51"/><rect x="172.78" y="667.00" width="0.30" height="14.30" fill="#a89464" fill-opacity="0.50"/><rect x="174.28" y="667.00" width="0.69" height="14.30" fill="#a89464" fill-opacity="0.31"/><rect x="176.16" y="667.00" width="0.64" height="7.15" fill="#a89464" fill-opacity="0.48"/><rect x="180.60" y="667.00" width="0.64" height="7.15" fill="#a89464" fill-opacity="0.36"/><rect x="189.16" y="674.15" width="0.52" height="7.15" fill="#a89464" fill-opacity="0.39"/><rect x="192.42" y="667.00" width="0.34" height="14.30" fill="#a89464" fill-opacity="0.43"/><rect x="198.20" y="667.00" width="0.34" height="14.30" fill="#a89464" fill-opacity="0.44"/><rect x="201.10" y="667.00" width="0.38" height="7.15" fill="#a89464" fill-opacity="0.43"/><rect x="201.28" y="674.15" width="0.36" height="7.15" fill="#a89464" fill-opacity="0.52"/><rect x="215.03" y="667.00" width="0.70" height="7.15" fill="#a89464" fill-opacity="0.50"/><rect x="215.70" y="667.00" width="0.35" height="14.30" fill="#a89464" fill-opacity="0.50"/><rect x="216.05" y="674.15" width="0.62" height="7.15" fill="#a89464" fill-opacity="0.38"/><rect x="217.70" y="667.00" width="0.78" height="7.15" fill="#a89464" fill-opacity="0.29"/><rect x="221.15" y="667.00" width="0.78" height="14.30" fill="#a89464" fill-opacity="0.31"/><rect x="225.95" y="667.00" width="0.34" height="7.15" fill="#a89464" fill-opacity="0.43"/><rect x="227.69" y="667.00" width="0.61" height="14.30" fill="#a89464" fill-opacity="0.35"/><rect x="229.23" y="674.15" width="0.56" height="7.15" fill="#a89464" fill-opacity="0.54"/><rect x="233.23" y="674.15" width="0.33" height="7.15" fill="#a89464" fill-opacity="0.33"/><rect x="235.10" y="674.15" width="0.72" height="7.15" fill="#a89464" fill-opacity="0.54"/><rect x="235.18" y="667.00" width="0.78" height="14.30" fill="#a89464" fill-opacity="0.26"/><rect x="237.72" y="667.00" width="0.50" height="7.15" fill="#a89464" fill-opacity="0.43"/><rect x="238.11" y="667.00" width="0.47" height="7.15" fill="#a89464" fill-opacity="0.50"/><rect x="239.03" y="667.00" width="0.46" height="7.15" fill="#a89464" fill-opacity="0.30"/><rect x="242.37" y="674.15" width="0.42" height="7.15" fill="#a89464" fill-opacity="0.51"/><rect x="242.41" y="667.00" width="0.53" height="7.15" fill="#a89464" fill-opacity="0.53"/><rect x="242.43" y="674.15" width="0.41" height="7.15" fill="#a89464" fill-opacity="0.51"/><rect x="242.84" y="667.00" width="0.39" height="7.15" fill="#a89464" fill-opacity="0.35"/><rect x="246.10" y="674.15" width="0.32" height="7.15" fill="#a89464" fill-opacity="0.29"/><rect x="250.88" y="667.00" width="0.39" height="7.15" fill="#a89464" fill-opacity="0.27"/><rect x="250.92" y="667.00" width="0.49" height="7.15" fill="#a89464" fill-opacity="0.26"/><rect x="252.66" y="667.00" width="0.67" height="7.15" fill="#a89464" fill-opacity="0.54"/><rect x="256.83" y="674.15" width="0.40" height="7.15" fill="#a89464" fill-opacity="0.41"/><rect x="258.73" y="667.00" width="0.67" height="7.15" fill="#a89464" fill-opacity="0.27"/><rect x="259.37" y="667.00" width="0.47" height="14.30" fill="#a89464" fill-opacity="0.42"/><rect x="260.32" y="667.00" width="0.72" height="7.15" fill="#a89464" fill-opacity="0.36"/><rect x="260.45" y="667.00" width="0.60" height="14.30" fill="#a89464" fill-opacity="0.26"/><rect x="264.67" y="667.00" width="0.51" height="7.15" fill="#a89464" fill-opacity="0.51"/><rect x="272.07" y="674.15" width="0.45" height="7.15" fill="#a89464" fill-opacity="0.41"/><rect x="275.22" y="667.00" width="0.41" height="7.15" fill="#a89464" fill-opacity="0.42"/><rect x="275.82" y="667.00" width="0.72" height="7.15" fill="#a89464" fill-opacity="0.51"/><rect x="277.49" y="667.00" width="0.42" height="14.30" fill="#a89464" fill-opacity="0.47"/><rect x="277.49" y="667.00" width="0.50" height="7.15" fill="#a89464" fill-opacity="0.53"/><rect x="84.75" y="667.00" width="0.51" height="14.30" fill="#fff" fill-opacity="0.62"/><rect x="89.77" y="667.00" width="0.69" height="14.30" fill="#fff" fill-opacity="0.78"/><rect x="106.18" y="667.00" width="0.77" height="14.30" fill="#fff" fill-opacity="0.53"/><rect x="117.59" y="667.00" width="0.49" height="14.30" fill="#fff" fill-opacity="0.56"/><rect x="153.29" y="667.00" width="0.49" height="14.30" fill="#fff" fill-opacity="0.90"/><rect x="164.93" y="667.00" width="0.58" height="14.30" fill="#fff" fill-opacity="0.83"/><rect x="195.07" y="667.00" width="0.78" height="14.30" fill="#fff" fill-opacity="0.65"/><rect x="200.01" y="667.00" width="0.46" height="14.30" fill="#fff" fill-opacity="0.74"/><rect x="201.06" y="667.00" width="0.45" height="14.30" fill="#fff" fill-opacity="0.57"/><rect x="212.55" y="667.00" width="0.78" height="14.30" fill="#fff" fill-opacity="0.65"/><rect x="230.88" y="667.00" width="0.56" height="14.30" fill="#fff" fill-opacity="0.56"/><rect x="244.40" y="667.00" width="0.79" height="14.30" fill="#fff" fill-opacity="0.65"/><rect x="254.48" y="667.00" width="0.79" height="14.30" fill="#fff" fill-opacity="0.78"/>
<text transform="translate(61.1 614.3) scale(1.05 1)" text-anchor="end" font-family="Liberation Sans, sans-serif" font-size="6.9px" fill="#666">0.0000</text>
<text transform="translate(61.1 603.2) scale(1.05 1)" text-anchor="end" font-family="Liberation Sans, sans-serif" font-size="6.9px" fill="#666">0.0025</text>
<text transform="translate(61.1 592.1) scale(1.05 1)" text-anchor="end" font-family="Liberation Sans, sans-serif" font-size="6.9px" fill="#666">0.0050</text>
<text transform="translate(61.1 581.0) scale(1.05 1)" text-anchor="end" font-family="Liberation Sans, sans-serif" font-size="6.9px" fill="#666">0.0075</text>
<text transform="translate(61.1 569.9) scale(1.05 1)" text-anchor="end" font-family="Liberation Sans, sans-serif" font-size="6.9px" fill="#666">0.0100</text>
<text x="61.1" y="664.7" text-anchor="end" font-family="Liberation Sans, sans-serif" font-size="6.9px" fill="#666">0.0</text>
<text x="61.1" y="652.0" text-anchor="end" font-family="Liberation Sans, sans-serif" font-size="6.9px" fill="#666">0.1</text>
<text x="61.1" y="639.4" text-anchor="end" font-family="Liberation Sans, sans-serif" font-size="6.9px" fill="#666">0.2</text>
<text x="61.1" y="626.7" text-anchor="end" font-family="Liberation Sans, sans-serif" font-size="6.9px" fill="#666">0.3</text>
<text x="76.9" y="691.8" text-anchor="middle" font-family="Liberation Sans, sans-serif" font-size="6.9px" fill="#666">0</text>
<text x="123.0" y="691.8" text-anchor="middle" font-family="Liberation Sans, sans-serif" font-size="6.9px" fill="#666">10</text>
<text x="169.1" y="691.8" text-anchor="middle" font-family="Liberation Sans, sans-serif" font-size="6.9px" fill="#666">20</text>
<text x="215.2" y="691.8" text-anchor="middle" font-family="Liberation Sans, sans-serif" font-size="6.9px" fill="#666">30</text>
<text x="261.3" y="691.8" text-anchor="middle" font-family="Liberation Sans, sans-serif" font-size="6.9px" fill="#666">40</text>
<text x="307.4" y="691.8" text-anchor="middle" font-family="Liberation Sans, sans-serif" font-size="6.9px" fill="#666">50</text>
<path d="M64.7 565.7V613.5M64.7 615.9V663.9M64.7 611.9h-1.6M64.7 600.8h-1.6M64.7 589.7h-1.6M64.7 578.6h-1.6M64.7 567.5h-1.6M64.7 662.3h-1.6M64.7 649.6h-1.6M64.7 637.0h-1.6M64.7 624.3h-1.6M64.7 681.9H332.8M76.9 681.9v1.6M123.0 681.9v1.6M169.1 681.9v1.6M215.2 681.9v1.6M261.3 681.9v1.6M307.4 681.9v1.6" stroke="#222" stroke-width="0.9" fill="none"/>
<text transform="translate(29.8 588.7) scale(1.12 1) rotate(-90)" text-anchor="middle" font-family="Liberation Sans, sans-serif" font-weight="bold" font-size="6.6px" fill="#111">π</text>
<text transform="translate(29.8 639.0) scale(1.12 1) rotate(-90)" text-anchor="middle" font-family="Liberation Sans, sans-serif" font-weight="bold" font-size="7.4px" fill="#111">F<tspan font-size="4.6px" dy="2.2">ST</tspan></text>
<text transform="translate(17.2 619.7) scale(1.12 1) rotate(-90)" text-anchor="middle" font-family="Liberation Sans, sans-serif" font-weight="bold" font-size="8.80px" fill="#111">Chromosome III</text>
<text x="0.8" y="566.0" font-family="Liberation Sans, sans-serif" font-weight="bold" font-size="19px" fill="#111">e</text>
<path d="M421.90 291.50L421.90 274.15L422.30 275.23L422.70 263.71L423.10 267.81L423.50 273.49L423.91 270.24L424.31 273.32L424.71 269.14L425.11 274.74L425.51 266.89L425.91 273.26L426.31 261.50L426.71 260.56L427.11 260.14L427.52 269.72L427.92 260.52L428.32 270.87L428.72 264.27L429.12 269.19L429.52 270.05L429.92 268.20L430.32 273.18L430.72 272.77L431.13 261.04L431.53 270.12L431.93 269.43L432.33 267.60L432.73 263.36L433.13 272.20L433.53 264.94L433.93 268.75L434.34 271.05L434.74 274.22L435.14 265.51L435.54 261.55L435.94 265.90L436.34 262.02L436.74 251.78L437.14 263.20L437.54 270.81L437.95 271.04L438.35 268.38L438.75 267.66L439.15 264.40L439.55 270.68L439.95 273.25L440.35 271.23L440.75 266.08L441.15 245.36L441.56 267.92L441.96 269.98L442.36 270.55L442.76 267.58L443.16 264.74L443.56 265.81L443.96 270.52L444.36 261.79L444.76 271.06L445.17 268.07L445.57 264.25L445.97 270.12L446.37 267.57L446.77 265.85L447.17 253.69L447.57 267.48L447.97 266.14L448.37 268.16L448.78 264.96L449.18 266.38L449.58 259.32L449.98 267.56L450.38 256.08L450.78 271.78L451.18 257.99L451.58 266.31L451.99 265.59L452.39 269.23L452.79 271.19L453.19 272.60L453.59 265.28L453.99 271.49L454.39 269.42L454.79 270.85L455.19 262.27L455.60 269.19L456.00 268.45L456.40 270.24L456.80 270.27L457.20 272.89L457.60 275.02L458.00 273.79L458.40 267.42L458.80 274.06L459.21 253.87L459.61 261.05L460.01 259.70L460.41 271.46L460.81 270.14L461.21 267.27L461.61 263.56L462.01 270.14L462.41 270.18L462.82 262.59L463.22 262.23L463.62 261.65L464.02 266.47L464.42 261.18L464.82 265.42L465.22 262.12L465.62 267.61L466.02 269.67L466.43 256.92L466.83 267.80L467.23 269.26L467.63 265.19L468.03 268.77L468.43 266.79L468.83 270.33L469.23 259.58L469.63 248.94L470.04 268.63L470.44 271.04L470.84 264.04L471.24 267.14L471.64 263.92L472.04 261.63L472.44 245.36L472.84 263.88L473.25 258.19L473.65 253.30L474.05 264.70L474.45 261.97L474.85 261.21L475.25 261.35L475.65 263.11L476.05 266.58L476.45 270.11L476.86 264.59L477.26 273.13L477.66 271.86L478.06 267.84L478.46 266.60L478.86 268.92L479.26 255.14L479.66 270.16L480.06 263.29L480.47 270.83L480.87 264.36L481.27 267.66L481.67 268.15L482.07 257.35L482.47 266.08L482.87 266.08L483.27 266.24L483.67 268.40L484.08 260.79L484.48 267.21L484.88 268.88L485.28 259.38L485.68 271.64L486.08 287.42L486.48 269.68L486.88 269.72L487.28 258.71L487.69 260.03L488.09 266.62L488.49 271.81L488.89 270.25L489.29 270.37L489.69 265.16L490.09 269.25L490.49 261.12L490.90 261.63L491.30 260.61L491.70 250.83L492.10 266.50L492.50 257.93L492.90 263.47L493.30 258.56L493.70 266.22L494.10 269.19L494.51 253.86L494.91 260.57L495.31 266.89L495.71 265.72L496.11 269.17L496.51 257.09L496.91 260.25L497.31 249.84L497.71 265.61L498.12 271.68L498.52 268.27L498.92 266.98L499.32 271.93L499.72 267.01L500.12 270.26L500.52 269.67L500.92 268.64L501.32 260.30L501.73 267.56L502.13 264.92L502.53 269.49L502.93 265.62L503.33 264.89L503.73 266.88L504.13 272.55L504.53 271.93L504.93 264.71L505.34 270.58L505.74 272.56L506.14 266.36L506.54 267.15L506.94 260.89L507.34 262.11L507.74 268.18L508.14 266.94L508.54 267.00L508.95 264.79L509.35 263.51L509.75 267.59L510.15 261.25L510.55 259.75L510.95 261.81L511.35 266.55L511.75 265.91L512.16 270.26L512.56 268.54L512.96 269.94L513.36 267.53L513.76 270.00L514.16 268.90L514.56 271.02L514.96 273.17L515.36 269.34L515.77 266.87L516.17 254.63L516.57 267.77L516.97 270.31L517.37 261.77L517.77 265.56L518.17 268.22L518.57 271.71L518.97 267.29L519.38 264.79L519.78 268.34L520.18 267.84L520.58 267.77L520.98 265.30L521.38 269.53L521.78 268.80L522.18 268.39L522.58 261.70L522.99 252.27L523.39 247.96L523.79 258.06L524.19 267.35L524.59 267.14L524.99 268.39L525.39 265.09L525.79 259.50L526.19 267.76L526.60 291.50L527.00 291.50L527.40 259.37L527.80 261.51L528.20 265.90L528.60 266.16L529.00 267.74L529.40 265.46L529.81 268.42L530.21 268.36L530.61 271.12L531.01 266.80L531.41 263.35L531.81 260.87L532.21 268.86L532.61 258.96L533.01 257.48L533.42 265.67L533.82 268.95L534.22 263.58L534.62 266.18L535.02 261.26L535.42 267.52L535.82 247.88L536.22 266.28L536.62 267.64L537.03 264.89L537.43 269.68L537.83 252.67L538.23 264.92L538.63 264.65L539.03 245.36L539.43 262.32L539.83 263.57L540.23 260.52L540.64 257.66L541.04 267.27L541.44 269.34L541.84 264.56L542.24 269.15L542.64 271.78L543.04 271.62L543.44 268.33L543.84 265.40L544.25 269.70L544.65 266.08L545.05 267.60L545.45 267.02L545.85 266.73L546.25 270.41L546.65 268.00L547.05 266.13L547.46 272.15L547.86 272.01L548.26 272.96L548.66 272.46L549.06 270.27L549.46 264.96L549.86 267.79L550.26 268.26L550.66 263.26L551.07 269.80L551.47 255.04L551.87 267.12L552.27 271.24L552.67 266.73L553.07 263.76L553.47 266.51L553.87 257.80L554.27 258.35L554.68 268.88L555.08 268.79L555.48 267.75L555.88 280.32L556.28 268.55L556.68 269.05L557.08 266.27L557.48 265.43L557.88 268.14L558.29 266.44L558.69 255.71L559.09 257.64L559.49 264.01L559.89 249.93L560.29 256.61L560.69 264.04L561.09 263.13L561.49 255.11L561.90 245.36L562.30 266.90L562.70 256.99L563.10 270.02L563.50 260.76L563.90 265.93L564.30 247.75L564.70 265.54L565.10 271.01L565.51 270.79L565.91 271.26L566.31 269.59L566.71 261.02L567.11 262.78L567.51 268.14L567.91 272.78L568.31 259.13L568.72 264.36L569.12 269.29L569.52 270.04L569.92 268.58L570.32 272.72L570.72 271.39L571.12 270.90L571.52 272.38L571.92 272.55L572.33 274.43L572.73 270.89L573.13 270.15L573.53 273.62L573.93 272.15L574.33 275.07L574.73 274.32L575.13 260.90L575.53 268.49L575.94 270.55L576.34 268.47L576.74 270.29L577.14 273.78L577.54 275.88L577.94 277.19L578.34 275.80L578.74 263.49L579.14 269.80L579.55 273.29L579.95 274.22L580.35 268.59L580.75 260.15L581.15 271.40L581.55 268.57L581.95 273.34L582.35 272.11L582.75 275.47L583.16 266.54L583.56 271.50L583.96 267.59L584.36 259.07L584.76 263.87L585.16 271.21L585.56 265.42L585.96 263.38L586.37 271.89L586.77 268.33L587.17 270.94L587.57 268.65L587.97 271.80L588.37 271.16L588.77 272.00L589.17 269.31L589.57 269.08L589.98 266.39L590.38 252.98L590.78 269.31L591.18 270.55L591.58 270.40L591.98 268.74L592.38 270.26L592.78 266.03L593.18 267.61L593.59 251.53L593.99 267.64L594.39 268.03L594.79 262.72L595.19 260.06L595.59 265.63L595.99 264.36L596.39 267.87L596.79 267.71L597.20 268.91L597.60 269.35L598.00 269.26L598.40 268.97L598.80 266.55L599.20 289.71L599.60 274.44L600.00 275.08L600.40 273.10L600.81 265.99L601.21 274.48L601.61 273.96L602.01 269.52L602.41 273.53L602.81 269.05L603.21 269.63L603.61 275.15L604.01 269.70L604.42 277.23L604.82 267.37L605.22 275.11L605.62 274.49L606.02 272.34L606.42 266.03L606.82 270.91L607.22 272.79L607.63 271.30L608.03 261.35L608.43 266.56L608.83 269.06L609.23 266.41L609.63 261.99L610.03 270.51L610.43 268.79L610.83 268.89L611.24 261.64L611.64 270.06L612.04 266.43L612.44 265.12L612.84 258.69L613.24 266.40L613.64 265.66L614.04 263.87L614.44 266.91L614.85 271.90L615.25 272.26L615.65 262.55L616.05 263.22L616.45 245.36L616.85 269.18L617.25 245.36L617.65 260.52L618.05 267.18L618.46 270.52L618.86 266.81L619.26 270.11L619.66 272.06L620.06 273.26L620.46 266.66L620.86 270.16L621.26 273.04L621.66 259.80L622.07 267.22L622.47 270.23L622.87 273.48L623.27 273.11L623.67 271.73L624.07 259.98L624.47 270.08L624.87 264.97L625.28 267.26L625.68 268.04L626.08 264.34L626.48 267.39L626.88 263.20L627.28 268.96L627.68 270.00L628.08 270.22L628.48 269.21L628.89 260.05L629.29 261.21L629.69 264.07L630.09 260.39L630.49 259.54L630.89 259.18L631.29 263.58L631.69 247.34L632.09 270.14L632.50 269.90L632.90 265.96L633.30 254.70L633.70 271.51L634.10 257.90L634.50 246.70L634.90 271.93L635.30 267.95L635.70 279.29L636.11 280.57L636.51 270.75L636.91 266.76L637.31 272.84L637.71 271.13L638.11 266.09L638.51 272.04L638.91 267.67L639.31 272.95L639.72 272.86L640.12 258.69L640.52 273.98L640.92 265.55L641.32 271.12L641.72 272.92L642.12 268.46L642.52 245.36L642.92 269.67L643.33 268.01L643.73 267.74L644.13 268.99L644.53 265.13L644.93 266.86L645.33 269.30L645.73 269.74L646.13 268.36L646.54 270.62L646.94 264.33L647.34 282.66L647.74 268.64L648.14 269.22L648.54 267.69L648.94 271.19L649.34 269.72L649.74 269.73L650.15 270.07L650.55 266.51L650.95 269.19L651.35 270.26L651.75 267.03L652.15 253.64L652.55 253.47L652.95 264.12L653.35 264.55L653.76 254.47L654.16 266.56L654.56 266.25L654.96 262.58L655.36 272.15L655.76 272.16L656.16 270.76L656.56 268.54L656.96 266.33L657.37 259.24L657.77 264.83L658.17 264.01L658.57 266.49L658.97 265.22L659.37 268.65L659.77 268.64L660.17 258.62L660.57 266.45L660.98 269.44L660.98 291.50Z" fill="#d1e3ec"/>
<path d="M421.90 291.50L421.90 287.38L422.30 287.22L422.70 286.50L423.10 282.91L423.50 286.18L423.91 283.33L424.31 286.76L424.71 285.64L425.11 286.81L425.51 286.16L425.91 285.83L426.31 286.44L426.71 286.07L427.11 286.31L427.52 286.95L427.92 285.71L428.32 286.96L428.72 286.55L429.12 286.65L429.52 286.43L429.92 283.98L430.32 285.33L430.72 285.44L431.13 282.32L431.53 286.53L431.93 287.06L432.33 286.54L432.73 280.11L433.13 287.22L433.53 287.18L433.93 287.21L434.34 285.17L434.74 285.86L435.14 287.33L435.54 286.47L435.94 285.23L436.34 286.39L436.74 285.00L437.14 284.02L437.54 287.45L437.95 286.07L438.35 286.93L438.75 286.67L439.15 285.76L439.55 284.25L439.95 286.72L440.35 285.26L440.75 283.39L441.15 285.78L441.56 285.87L441.96 284.71L442.36 286.69L442.76 287.19L443.16 286.50L443.56 285.99L443.96 285.87L444.36 285.30L444.76 284.75L445.17 286.72L445.57 287.49L445.97 287.72L446.37 286.26L446.77 287.35L447.17 288.06L447.57 287.37L447.97 287.41L448.37 286.31L448.78 286.31L449.18 287.11L449.58 287.03L449.98 286.77L450.38 286.18L450.78 283.38L451.18 284.04L451.58 284.63L451.99 287.05L452.39 285.86L452.79 285.78L453.19 286.17L453.59 283.93L453.99 286.85L454.39 286.26L454.79 285.90L455.19 285.15L455.60 284.87L456.00 286.33L456.40 286.61L456.80 281.70L457.20 285.39L457.60 285.28L458.00 281.55L458.40 284.52L458.80 284.85L459.21 283.05L459.61 286.45L460.01 286.55L460.41 283.89L460.81 286.27L461.21 284.30L461.61 285.91L462.01 285.47L462.41 285.66L462.82 282.05L463.22 285.79L463.62 283.84L464.02 280.07L464.42 286.39L464.82 285.81L465.22 286.45L465.62 285.48L466.02 285.50L466.43 284.83L466.83 285.32L467.23 284.43L467.63 285.50L468.03 286.94L468.43 287.61L468.83 286.43L469.23 284.43L469.63 286.71L470.04 286.22L470.44 286.68L470.84 286.37L471.24 284.69L471.64 283.56L472.04 286.92L472.44 287.02L472.84 286.86L473.25 287.44L473.65 287.29L474.05 287.29L474.45 286.37L474.85 286.32L475.25 286.65L475.65 286.74L476.05 286.48L476.45 287.75L476.86 287.50L477.26 286.54L477.66 285.60L478.06 283.77L478.46 286.22L478.86 283.15L479.26 286.10L479.66 283.11L480.06 285.26L480.47 286.15L480.87 285.99L481.27 286.21L481.67 285.72L482.07 284.37L482.47 283.55L482.87 285.50L483.27 284.87L483.67 280.12L484.08 283.63L484.48 286.19L484.88 285.41L485.28 285.96L485.68 285.69L486.08 287.42L486.48 285.71L486.88 286.07L487.28 285.55L487.69 286.55L488.09 286.56L488.49 284.07L488.89 285.38L489.29 285.25L489.69 284.49L490.09 284.50L490.49 285.98L490.90 285.62L491.30 285.49L491.70 284.92L492.10 286.27L492.50 285.34L492.90 285.70L493.30 284.42L493.70 285.43L494.10 284.39L494.51 284.24L494.91 286.74L495.31 285.39L495.71 284.66L496.11 286.64L496.51 286.39L496.91 285.75L497.31 285.46L497.71 286.10L498.12 286.06L498.52 284.51L498.92 284.88L499.32 287.58L499.72 282.28L500.12 286.19L500.52 282.46L500.92 286.23L501.32 286.32L501.73 286.49L502.13 285.36L502.53 287.02L502.93 287.15L503.33 286.87L503.73 287.05L504.13 288.10L504.53 286.17L504.93 287.26L505.34 284.41L505.74 284.82L506.14 283.44L506.54 284.43L506.94 285.57L507.34 286.36L507.74 284.15L508.14 280.09L508.54 282.99L508.95 284.78L509.35 286.86L509.75 285.62L510.15 284.46L510.55 285.77L510.95 285.84L511.35 283.38L511.75 283.42L512.16 285.43L512.56 285.22L512.96 284.96L513.36 281.80L513.76 283.71L514.16 286.40L514.56 287.16L514.96 286.09L515.36 285.04L515.77 282.23L516.17 284.27L516.57 286.17L516.97 285.49L517.37 286.50L517.77 285.55L518.17 286.58L518.57 285.97L518.97 284.28L519.38 286.35L519.78 285.20L520.18 286.04L520.58 284.35L520.98 283.94L521.38 286.50L521.78 286.03L522.18 279.38L522.58 285.83L522.99 286.02L523.39 285.73L523.79 285.70L524.19 284.92L524.59 285.66L524.99 285.25L525.39 280.60L525.79 285.06L526.19 285.87L526.60 291.50L527.00 291.50L527.40 283.59L527.80 284.91L528.20 284.78L528.60 286.10L529.00 284.47L529.40 285.67L529.81 284.79L530.21 285.10L530.61 285.68L531.01 285.64L531.41 285.87L531.81 285.96L532.21 284.74L532.61 283.90L533.01 284.90L533.42 284.14L533.82 284.89L534.22 281.27L534.62 285.33L535.02 283.51L535.42 283.38L535.82 284.80L536.22 281.83L536.62 283.78L537.03 285.04L537.43 285.27L537.83 284.79L538.23 283.94L538.63 286.26L539.03 281.92L539.43 283.56L539.83 281.53L540.23 278.01L540.64 285.05L541.04 283.36L541.44 285.30L541.84 285.22L542.24 284.91L542.64 283.98L543.04 283.59L543.44 284.85L543.84 284.62L544.25 284.34L544.65 280.44L545.05 283.43L545.45 284.50L545.85 284.29L546.25 282.40L546.65 282.70L547.05 285.72L547.46 284.88L547.86 284.37L548.26 285.29L548.66 285.04L549.06 284.66L549.46 285.57L549.86 281.49L550.26 284.22L550.66 285.13L551.07 285.70L551.47 284.47L551.87 279.91L552.27 280.69L552.67 283.99L553.07 284.94L553.47 281.76L553.87 283.28L554.27 281.41L554.68 285.76L555.08 285.58L555.48 284.39L555.88 285.39L556.28 284.99L556.68 281.28L557.08 284.86L557.48 284.54L557.88 284.29L558.29 283.98L558.69 282.84L559.09 285.18L559.49 284.55L559.89 285.66L560.29 282.43L560.69 284.13L561.09 284.49L561.49 281.84L561.90 284.92L562.30 285.93L562.70 284.96L563.10 284.14L563.50 282.81L563.90 284.24L564.30 279.96L564.70 283.93L565.10 284.93L565.51 284.95L565.91 285.96L566.31 285.08L566.71 283.12L567.11 286.04L567.51 285.34L567.91 285.45L568.31 285.07L568.72 285.91L569.12 286.09L569.52 284.81L569.92 282.89L570.32 285.26L570.72 284.89L571.12 284.24L571.52 284.54L571.92 282.39L572.33 283.36L572.73 284.44L573.13 284.04L573.53 276.65L573.93 282.33L574.33 284.19L574.73 284.50L575.13 283.16L575.53 283.61L575.94 283.67L576.34 282.43L576.74 284.67L577.14 284.55L577.54 285.56L577.94 282.26L578.34 282.52L578.74 281.46L579.14 283.91L579.55 283.70L579.95 281.67L580.35 284.91L580.75 282.34L581.15 283.39L581.55 280.61L581.95 285.57L582.35 285.12L582.75 285.21L583.16 285.38L583.56 285.83L583.96 285.42L584.36 285.81L584.76 281.51L585.16 285.00L585.56 284.40L585.96 285.15L586.37 285.61L586.77 285.17L587.17 285.86L587.57 285.23L587.97 285.30L588.37 283.61L588.77 284.65L589.17 284.56L589.57 286.39L589.98 283.63L590.38 284.98L590.78 282.33L591.18 284.12L591.58 283.48L591.98 285.11L592.38 283.84L592.78 283.76L593.18 279.53L593.59 284.62L593.99 282.68L594.39 284.86L594.79 283.72L595.19 282.11L595.59 284.49L595.99 282.20L596.39 284.12L596.79 284.36L597.20 285.43L597.60 284.08L598.00 285.89L598.40 286.52L598.80 286.54L599.20 289.71L599.60 286.91L600.00 285.95L600.40 286.70L600.81 285.78L601.21 285.67L601.61 284.69L602.01 282.98L602.41 284.28L602.81 284.22L603.21 283.81L603.61 285.56L604.01 285.74L604.42 285.64L604.82 286.13L605.22 285.26L605.62 283.66L606.02 284.25L606.42 283.69L606.82 283.57L607.22 286.47L607.63 286.61L608.03 285.55L608.43 286.31L608.83 285.92L609.23 286.68L609.63 286.04L610.03 286.28L610.43 286.01L610.83 285.02L611.24 284.90L611.64 283.81L612.04 284.59L612.44 283.54L612.84 283.49L613.24 279.95L613.64 285.22L614.04 284.59L614.44 286.09L614.85 285.09L615.25 285.27L615.65 284.11L616.05 286.02L616.45 284.25L616.85 285.97L617.25 284.76L617.65 283.91L618.05 284.89L618.46 284.81L618.86 285.83L619.26 284.72L619.66 284.03L620.06 285.19L620.46 284.29L620.86 282.26L621.26 285.75L621.66 285.70L622.07 283.40L622.47 285.97L622.87 285.62L623.27 284.52L623.67 285.30L624.07 286.29L624.47 287.10L624.87 285.91L625.28 285.20L625.68 285.02L626.08 283.99L626.48 284.67L626.88 286.02L627.28 284.03L627.68 284.26L628.08 284.95L628.48 284.20L628.89 284.15L629.29 285.49L629.69 286.30L630.09 284.38L630.49 284.66L630.89 281.54L631.29 285.53L631.69 285.49L632.09 284.24L632.50 283.30L632.90 285.25L633.30 286.28L633.70 285.83L634.10 285.66L634.50 284.01L634.90 286.36L635.30 284.63L635.70 285.30L636.11 284.35L636.51 283.64L636.91 286.20L637.31 286.22L637.71 286.18L638.11 285.49L638.51 286.42L638.91 285.12L639.31 285.82L639.72 287.31L640.12 287.00L640.52 287.30L640.92 284.36L641.32 285.11L641.72 287.36L642.12 286.01L642.52 286.05L642.92 287.25L643.33 286.58L643.73 286.75L644.13 284.39L644.53 283.29L644.93 285.92L645.33 286.99L645.73 286.66L646.13 286.71L646.54 284.85L646.94 285.58L647.34 286.39L647.74 285.59L648.14 285.84L648.54 284.16L648.94 282.83L649.34 285.88L649.74 285.60L650.15 283.26L650.55 286.16L650.95 285.78L651.35 285.36L651.75 285.91L652.15 285.62L652.55 284.09L652.95 286.04L653.35 286.96L653.76 285.82L654.16 285.51L654.56 286.64L654.96 285.43L655.36 285.67L655.76 285.81L656.16 286.08L656.56 287.23L656.96 282.11L657.37 285.69L657.77 286.42L658.17 287.26L658.57 286.81L658.97 285.46L659.37 286.02L659.77 283.50L660.17 284.64L660.57 287.38L660.98 285.53L660.98 291.50Z" fill="#98a5ae"/>
<path d="M421.90 342.60L421.90 329.89L422.30 324.30L422.70 330.98L423.10 331.68L423.50 332.52L423.91 333.34L424.31 331.97L424.71 331.54L425.11 328.88L425.51 329.75L425.91 331.14L426.31 331.08L426.71 333.21L427.11 332.09L427.52 330.88L427.92 333.65L428.32 332.55L428.72 330.87L429.12 328.87L429.52 332.59L429.92 332.77L430.32 331.20L430.72 323.13L431.13 331.81L431.53 333.01L431.93 334.59L432.33 327.76L432.73 333.96L433.13 328.05L433.53 326.79L433.93 333.74L434.34 332.34L434.74 321.67L435.14 330.88L435.54 328.22L435.94 329.15L436.34 327.51L436.74 328.88L437.14 330.62L437.54 328.98L437.95 329.13L438.35 329.87L438.75 326.38L439.15 329.07L439.55 330.13L439.95 320.30L440.35 329.92L440.75 328.80L441.15 329.22L441.56 328.17L441.96 328.74L442.36 332.33L442.76 332.23L443.16 330.64L443.56 321.85L443.96 322.40L444.36 330.01L444.76 324.14L445.17 326.41L445.57 323.18L445.97 329.85L446.37 329.41L446.77 329.88L447.17 325.86L447.57 329.53L447.97 330.39L448.37 328.92L448.78 328.77L449.18 320.43L449.58 327.60L449.98 326.77L450.38 323.19L450.78 326.99L451.18 324.36L451.58 319.96L451.99 325.16L452.39 316.29L452.79 322.75L453.19 314.85L453.59 322.51L453.99 319.37L454.39 321.09L454.79 324.03L455.19 326.84L455.60 320.32L456.00 327.98L456.40 325.78L456.80 325.05L457.20 323.80L457.60 324.98L458.00 324.81L458.40 313.12L458.80 321.83L459.21 325.02L459.61 317.57L460.01 329.01L460.41 326.18L460.81 324.42L461.21 328.52L461.61 327.60L462.01 323.74L462.41 326.93L462.82 329.82L463.22 330.62L463.62 330.29L464.02 329.32L464.42 324.83L464.82 325.43L465.22 325.10L465.62 321.71L466.02 314.51L466.43 323.77L466.83 326.66L467.23 328.03L467.63 327.38L468.03 326.56L468.43 319.82L468.83 319.08L469.23 327.63L469.63 329.58L470.04 331.80L470.44 330.59L470.84 331.43L471.24 330.22L471.64 331.65L472.04 331.49L472.44 332.12L472.84 331.15L473.25 329.42L473.65 330.46L474.05 329.69L474.45 329.43L474.85 323.29L475.25 330.71L475.65 324.59L476.05 321.23L476.45 327.24L476.86 326.48L477.26 330.41L477.66 332.09L478.06 328.82L478.46 330.76L478.86 332.16L479.26 326.44L479.66 330.34L480.06 326.71L480.47 327.38L480.87 330.03L481.27 329.16L481.67 323.35L482.07 331.06L482.47 330.63L482.87 326.76L483.27 327.18L483.67 332.40L484.08 332.59L484.48 329.13L484.88 332.30L485.28 330.90L485.68 332.62L486.08 331.83L486.48 332.73L486.88 331.98L487.28 329.73L487.69 326.72L488.09 327.96L488.49 331.16L488.89 325.57L489.29 327.83L489.69 320.67L490.09 326.50L490.49 323.48L490.90 323.11L491.30 321.64L491.70 326.40L492.10 327.51L492.50 328.63L492.90 326.34L493.30 321.58L493.70 319.16L494.10 323.68L494.51 318.96L494.91 316.40L495.31 321.06L495.71 323.52L496.11 311.51L496.51 300.47L496.91 310.19L497.31 313.08L497.71 326.18L498.12 324.46L498.52 326.42L498.92 325.89L499.32 325.77L499.72 315.12L500.12 327.00L500.52 328.53L500.92 328.75L501.32 314.43L501.73 325.88L502.13 326.50L502.53 329.36L502.93 326.57L503.33 301.60L503.73 316.77L504.13 320.89L504.53 321.36L504.93 317.02L505.34 327.32L505.74 323.10L506.14 321.49L506.54 321.76L506.94 325.01L507.34 325.73L507.74 328.36L508.14 317.91L508.54 325.96L508.95 323.05L509.35 315.03L509.75 325.01L510.15 323.17L510.55 323.83L510.95 324.81L511.35 323.57L511.75 325.08L512.16 324.32L512.56 328.29L512.96 329.08L513.36 323.50L513.76 330.28L514.16 325.95L514.56 328.63L514.96 322.43L515.36 327.40L515.77 325.10L516.17 325.18L516.57 325.28L516.97 325.88L517.37 311.13L517.77 325.96L518.17 321.30L518.57 317.98L518.97 321.68L519.38 320.92L519.78 327.39L520.18 326.21L520.58 324.09L520.98 328.08L521.38 327.87L521.78 330.78L522.18 329.31L522.58 332.22L522.99 329.12L523.39 332.54L523.79 326.97L524.19 326.16L524.59 329.43L524.99 327.50L525.39 329.56L525.79 326.61L526.19 326.55L526.60 330.41L527.00 329.58L527.40 329.95L527.80 325.35L528.20 327.46L528.60 319.96L529.00 323.67L529.40 327.25L529.81 326.14L530.21 323.96L530.61 330.04L531.01 328.01L531.41 328.35L531.81 329.24L532.21 326.35L532.61 327.66L533.01 323.53L533.42 328.47L533.82 308.17L534.22 322.25L534.62 323.53L535.02 326.96L535.42 323.51L535.82 323.96L536.22 321.06L536.62 327.26L537.03 325.37L537.43 327.62L537.83 331.21L538.23 331.11L538.63 328.11L539.03 332.53L539.43 330.98L539.83 331.69L540.23 330.44L540.64 330.53L541.04 331.35L541.44 328.46L541.84 327.06L542.24 330.11L542.64 324.67L543.04 330.44L543.44 328.82L543.84 328.47L544.25 323.24L544.65 326.14L545.05 328.24L545.45 325.14L545.85 326.81L546.25 329.58L546.65 328.80L547.05 328.27L547.46 321.74L547.86 330.64L548.26 330.92L548.66 329.51L549.06 328.74L549.46 329.31L549.86 327.69L550.26 328.47L550.66 331.99L551.07 333.16L551.47 331.20L551.87 333.04L552.27 332.62L552.67 329.25L553.07 328.33L553.47 303.61L553.87 321.89L554.27 326.69L554.68 327.28L555.08 329.81L555.48 325.30L555.88 323.32L556.28 329.91L556.68 326.72L557.08 326.91L557.48 323.77L557.88 324.77L558.29 329.29L558.69 320.20L559.09 326.31L559.49 328.36L559.89 327.61L560.29 316.69L560.69 312.07L561.09 304.31L561.49 311.58L561.90 323.52L562.30 327.32L562.70 332.85L563.10 332.19L563.50 329.54L563.90 331.75L564.30 328.50L564.70 325.26L565.10 328.07L565.51 332.14L565.91 334.13L566.31 334.15L566.71 332.13L567.11 330.62L567.51 330.77L567.91 330.65L568.31 331.35L568.72 331.77L569.12 331.57L569.52 328.34L569.92 326.91L570.32 326.19L570.72 330.91L571.12 324.03L571.52 328.58L571.92 329.67L572.33 326.81L572.73 329.89L573.13 327.32L573.53 325.91L573.93 329.67L574.33 328.02L574.73 332.57L575.13 331.59L575.53 328.66L575.94 329.86L576.34 330.25L576.74 325.08L577.14 326.58L577.54 329.98L577.94 330.67L578.34 321.02L578.74 330.54L579.14 326.11L579.55 326.86L579.95 313.13L580.35 321.94L580.75 330.25L581.15 326.41L581.55 325.04L581.95 325.51L582.35 323.82L582.75 325.99L583.16 328.29L583.56 328.39L583.96 331.77L584.36 319.31L584.76 327.64L585.16 327.27L585.56 326.79L585.96 331.07L586.37 330.15L586.77 328.53L587.17 329.40L587.57 330.80L587.97 326.37L588.37 326.71L588.77 328.25L589.17 324.80L589.57 322.77L589.98 323.55L590.38 327.06L590.78 329.33L591.18 328.37L591.58 329.15L591.98 329.21L592.38 327.48L592.78 328.99L593.18 330.81L593.59 328.45L593.99 330.78L594.39 332.20L594.79 333.02L595.19 332.72L595.59 334.01L595.99 333.86L596.39 333.54L596.79 331.79L597.20 334.63L597.60 332.43L598.00 333.14L598.40 334.10L598.80 334.30L599.20 333.63L599.60 330.84L600.00 334.16L600.40 334.35L600.81 332.54L601.21 329.74L601.61 328.88L602.01 327.18L602.41 326.88L602.81 322.59L603.21 319.62L603.61 324.46L604.01 328.12L604.42 330.93L604.82 332.49L605.22 332.04L605.62 332.19L606.02 331.14L606.42 330.66L606.82 330.66L607.22 326.94L607.63 327.67L608.03 329.28L608.43 330.44L608.83 329.55L609.23 331.38L609.63 330.00L610.03 321.14L610.43 328.03L610.83 327.33L611.24 320.57L611.64 325.00L612.04 321.21L612.44 327.91L612.84 328.46L613.24 322.03L613.64 326.05L614.04 318.00L614.44 325.18L614.85 321.91L615.25 323.51L615.65 325.69L616.05 321.10L616.45 326.90L616.85 325.87L617.25 327.10L617.65 328.24L618.05 329.04L618.46 326.61L618.86 327.89L619.26 324.71L619.66 327.50L620.06 328.05L620.46 324.76L620.86 328.30L621.26 328.31L621.66 330.00L622.07 315.82L622.47 327.54L622.87 323.42L623.27 327.93L623.67 326.60L624.07 324.84L624.47 321.26L624.87 319.82L625.28 324.36L625.68 327.82L626.08 326.22L626.48 319.53L626.88 317.40L627.28 314.81L627.68 323.40L628.08 323.06L628.48 321.43L628.89 314.80L629.29 314.91L629.69 321.68L630.09 326.16L630.49 327.73L630.89 328.65L631.29 328.37L631.69 328.10L632.09 328.29L632.50 313.34L632.90 321.48L633.30 325.76L633.70 324.82L634.10 325.32L634.50 325.60L634.90 321.00L635.30 325.66L635.70 325.47L636.11 328.76L636.51 327.60L636.91 330.53L637.31 330.07L637.71 323.38L638.11 329.54L638.51 324.80L638.91 323.07L639.31 322.91L639.72 329.52L640.12 329.29L640.52 327.83L640.92 326.84L641.32 316.40L641.72 321.66L642.12 319.14L642.52 320.99L642.92 323.06L643.33 311.81L643.73 327.71L644.13 329.08L644.53 328.36L644.93 329.28L645.33 329.25L645.73 329.94L646.13 324.89L646.54 325.32L646.94 315.39L647.34 320.83L647.74 323.90L648.14 322.11L648.54 324.06L648.94 325.28L649.34 323.83L649.74 328.12L650.15 330.07L650.55 326.41L650.95 324.14L651.35 330.30L651.75 329.82L652.15 326.57L652.55 328.46L652.95 328.88L653.35 329.44L653.76 328.53L654.16 321.98L654.56 329.68L654.96 331.10L655.36 330.86L655.76 328.54L656.16 329.45L656.56 328.60L656.96 325.48L657.37 327.92L657.77 330.63L658.17 325.31L658.57 328.61L658.97 323.66L659.37 324.78L659.77 329.24L660.17 328.04L660.57 325.39L660.98 324.19L660.98 342.60Z" fill="#b6c6d0"/>
<rect x="421.90" y="348.80" width="239.08" height="7.10" fill="#b7c2c9"/>
<rect x="421.90" y="355.90" width="239.08" height="7.10" fill="#cad7df"/>
<rect x="421.90" y="348.80" width="1.41" height="7.10" fill="#d5e1e8"/><rect x="424.37" y="348.80" width="2.15" height="7.10" fill="#d5e1e8"/><rect x="426.52" y="348.80" width="0.61" height="7.10" fill="#b2bec6"/><rect x="428.73" y="348.80" width="0.60" height="7.10" fill="#b2bec6"/><rect x="431.60" y="348.80" width="1.33" height="7.10" fill="#c4d0d7"/><rect x="432.92" y="348.80" width="1.75" height="7.10" fill="#c4d0d7"/><rect x="435.52" y="348.80" width="2.34" height="7.10" fill="#d5e1e8"/><rect x="437.86" y="348.80" width="2.32" height="7.10" fill="#a9b4bb"/><rect x="440.18" y="348.80" width="0.56" height="7.10" fill="#d5e1e8"/><rect x="447.11" y="348.80" width="0.43" height="7.10" fill="#b2bec6"/><rect x="447.54" y="348.80" width="1.78" height="7.10" fill="#a9b4bb"/><rect x="449.32" y="348.80" width="0.73" height="7.10" fill="#c4d0d7"/><rect x="450.05" y="348.80" width="1.13" height="7.10" fill="#d5e1e8"/><rect x="451.17" y="348.80" width="1.12" height="7.10" fill="#c4d0d7"/><rect x="453.28" y="348.80" width="1.65" height="7.10" fill="#d5e1e8"/><rect x="457.35" y="348.80" width="1.01" height="7.10" fill="#a9b4bb"/><rect x="460.34" y="348.80" width="1.72" height="7.10" fill="#b2bec6"/><rect x="463.27" y="348.80" width="2.57" height="7.10" fill="#d5e1e8"/><rect x="465.84" y="348.80" width="2.43" height="7.10" fill="#c4d0d7"/><rect x="470.45" y="348.80" width="1.30" height="7.10" fill="#b2bec6"/><rect x="471.75" y="348.80" width="1.13" height="7.10" fill="#a9b4bb"/><rect x="472.88" y="348.80" width="0.67" height="7.10" fill="#a9b4bb"/><rect x="473.55" y="348.80" width="2.08" height="7.10" fill="#b2bec6"/><rect x="475.63" y="348.80" width="1.20" height="7.10" fill="#b2bec6"/><rect x="476.84" y="348.80" width="1.01" height="7.10" fill="#d5e1e8"/><rect x="477.84" y="348.80" width="1.75" height="7.10" fill="#a9b4bb"/><rect x="484.46" y="348.80" width="2.09" height="7.10" fill="#d5e1e8"/><rect x="488.78" y="348.80" width="1.58" height="7.10" fill="#c4d0d7"/><rect x="490.36" y="348.80" width="1.65" height="7.10" fill="#d5e1e8"/><rect x="492.84" y="348.80" width="1.36" height="7.10" fill="#d5e1e8"/><rect x="494.20" y="348.80" width="0.93" height="7.10" fill="#a9b4bb"/><rect x="495.13" y="348.80" width="0.42" height="7.10" fill="#d5e1e8"/><rect x="495.55" y="348.80" width="0.88" height="7.10" fill="#a9b4bb"/><rect x="496.43" y="348.80" width="1.83" height="7.10" fill="#c4d0d7"/><rect x="498.26" y="348.80" width="1.52" height="7.10" fill="#a9b4bb"/><rect x="501.53" y="348.80" width="0.78" height="7.10" fill="#c4d0d7"/><rect x="502.32" y="348.80" width="2.42" height="7.10" fill="#b2bec6"/><rect x="505.87" y="348.80" width="0.94" height="7.10" fill="#b2bec6"/><rect x="506.81" y="348.80" width="1.60" height="7.10" fill="#a9b4bb"/><rect x="508.41" y="348.80" width="1.34" height="7.10" fill="#a9b4bb"/><rect x="509.75" y="348.80" width="0.52" height="7.10" fill="#a9b4bb"/><rect x="510.27" y="348.80" width="1.36" height="7.10" fill="#b2bec6"/><rect x="512.70" y="348.80" width="1.61" height="7.10" fill="#d5e1e8"/><rect x="514.31" y="348.80" width="1.84" height="7.10" fill="#d5e1e8"/><rect x="516.15" y="348.80" width="0.65" height="7.10" fill="#a9b4bb"/><rect x="516.80" y="348.80" width="1.32" height="7.10" fill="#b2bec6"/><rect x="518.12" y="348.80" width="1.61" height="7.10" fill="#c4d0d7"/><rect x="522.84" y="348.80" width="1.75" height="7.10" fill="#c4d0d7"/><rect x="524.59" y="348.80" width="2.51" height="7.10" fill="#a9b4bb"/><rect x="527.93" y="348.80" width="2.26" height="7.10" fill="#b2bec6"/><rect x="530.19" y="348.80" width="0.77" height="7.10" fill="#b2bec6"/><rect x="530.96" y="348.80" width="0.74" height="7.10" fill="#d5e1e8"/><rect x="533.90" y="348.80" width="2.41" height="7.10" fill="#b2bec6"/><rect x="536.32" y="348.80" width="1.82" height="7.10" fill="#d5e1e8"/><rect x="538.14" y="348.80" width="1.40" height="7.10" fill="#d5e1e8"/><rect x="540.13" y="348.80" width="1.66" height="7.10" fill="#c4d0d7"/><rect x="541.79" y="348.80" width="1.88" height="7.10" fill="#a9b4bb"/><rect x="543.68" y="348.80" width="2.37" height="7.10" fill="#d5e1e8"/><rect x="546.05" y="348.80" width="2.49" height="7.10" fill="#d5e1e8"/><rect x="550.90" y="348.80" width="2.46" height="7.10" fill="#b2bec6"/><rect x="553.36" y="348.80" width="2.01" height="7.10" fill="#c4d0d7"/><rect x="555.37" y="348.80" width="2.49" height="7.10" fill="#d5e1e8"/><rect x="557.86" y="348.80" width="1.16" height="7.10" fill="#b2bec6"/><rect x="559.02" y="348.80" width="1.16" height="7.10" fill="#d5e1e8"/><rect x="561.26" y="348.80" width="0.94" height="7.10" fill="#a9b4bb"/><rect x="562.19" y="348.80" width="1.81" height="7.10" fill="#a9b4bb"/><rect x="564.01" y="348.80" width="1.11" height="7.10" fill="#a9b4bb"/><rect x="567.36" y="348.80" width="2.37" height="7.10" fill="#c4d0d7"/><rect x="569.73" y="348.80" width="1.37" height="7.10" fill="#a9b4bb"/><rect x="574.00" y="348.80" width="2.05" height="7.10" fill="#b2bec6"/><rect x="576.05" y="348.80" width="0.95" height="7.10" fill="#a9b4bb"/><rect x="577.00" y="348.80" width="1.62" height="7.10" fill="#c4d0d7"/><rect x="579.56" y="348.80" width="1.94" height="7.10" fill="#a9b4bb"/><rect x="581.50" y="348.80" width="2.52" height="7.10" fill="#c4d0d7"/><rect x="584.02" y="348.80" width="0.67" height="7.10" fill="#c4d0d7"/><rect x="584.70" y="348.80" width="1.95" height="7.10" fill="#a9b4bb"/><rect x="587.46" y="348.80" width="1.86" height="7.10" fill="#d5e1e8"/><rect x="589.32" y="348.80" width="0.51" height="7.10" fill="#a9b4bb"/><rect x="589.83" y="348.80" width="1.98" height="7.10" fill="#c4d0d7"/><rect x="591.81" y="348.80" width="1.09" height="7.10" fill="#a9b4bb"/><rect x="595.30" y="348.80" width="1.51" height="7.10" fill="#c4d0d7"/><rect x="596.81" y="348.80" width="0.83" height="7.10" fill="#d5e1e8"/><rect x="600.88" y="348.80" width="1.50" height="7.10" fill="#a9b4bb"/><rect x="606.89" y="348.80" width="0.42" height="7.10" fill="#a9b4bb"/><rect x="607.31" y="348.80" width="1.65" height="7.10" fill="#a9b4bb"/><rect x="608.96" y="348.80" width="1.88" height="7.10" fill="#a9b4bb"/><rect x="610.84" y="348.80" width="1.01" height="7.10" fill="#c4d0d7"/><rect x="611.85" y="348.80" width="0.55" height="7.10" fill="#c4d0d7"/><rect x="612.40" y="348.80" width="1.98" height="7.10" fill="#d5e1e8"/><rect x="615.71" y="348.80" width="0.69" height="7.10" fill="#c4d0d7"/><rect x="616.41" y="348.80" width="2.35" height="7.10" fill="#b2bec6"/><rect x="618.75" y="348.80" width="1.80" height="7.10" fill="#b2bec6"/><rect x="621.77" y="348.80" width="1.14" height="7.10" fill="#a9b4bb"/><rect x="623.45" y="348.80" width="0.96" height="7.10" fill="#a9b4bb"/><rect x="624.41" y="348.80" width="1.21" height="7.10" fill="#b2bec6"/><rect x="625.62" y="348.80" width="1.98" height="7.10" fill="#d5e1e8"/><rect x="631.98" y="348.80" width="0.58" height="7.10" fill="#a9b4bb"/><rect x="632.55" y="348.80" width="0.57" height="7.10" fill="#b2bec6"/><rect x="633.12" y="348.80" width="1.88" height="7.10" fill="#d5e1e8"/><rect x="641.08" y="348.80" width="0.56" height="7.10" fill="#d5e1e8"/><rect x="642.48" y="348.80" width="0.60" height="7.10" fill="#c4d0d7"/><rect x="648.58" y="348.80" width="2.11" height="7.10" fill="#d5e1e8"/><rect x="654.04" y="348.80" width="0.42" height="7.10" fill="#d5e1e8"/><rect x="654.46" y="348.80" width="1.60" height="7.10" fill="#a9b4bb"/><rect x="656.06" y="348.80" width="1.09" height="7.10" fill="#b2bec6"/><rect x="657.15" y="348.80" width="1.79" height="7.10" fill="#c4d0d7"/><rect x="658.94" y="348.80" width="1.79" height="7.10" fill="#c4d0d7"/><rect x="421.90" y="355.90" width="1.28" height="7.10" fill="#a9b4bb"/><rect x="428.87" y="355.90" width="0.52" height="7.10" fill="#b2bec6"/><rect x="429.39" y="355.90" width="2.26" height="7.10" fill="#d5e1e8"/><rect x="431.65" y="355.90" width="2.40" height="7.10" fill="#b2bec6"/><rect x="434.04" y="355.90" width="1.87" height="7.10" fill="#d5e1e8"/><rect x="435.91" y="355.90" width="0.93" height="7.10" fill="#a9b4bb"/><rect x="436.84" y="355.90" width="0.69" height="7.10" fill="#d5e1e8"/><rect x="445.07" y="355.90" width="0.57" height="7.10" fill="#d5e1e8"/><rect x="445.64" y="355.90" width="2.26" height="7.10" fill="#b2bec6"/><rect x="449.95" y="355.90" width="1.43" height="7.10" fill="#d5e1e8"/><rect x="452.02" y="355.90" width="1.96" height="7.10" fill="#a9b4bb"/><rect x="453.97" y="355.90" width="1.98" height="7.10" fill="#d5e1e8"/><rect x="457.25" y="355.90" width="2.01" height="7.10" fill="#d5e1e8"/><rect x="460.55" y="355.90" width="0.45" height="7.10" fill="#c4d0d7"/><rect x="461.00" y="355.90" width="1.37" height="7.10" fill="#c4d0d7"/><rect x="462.37" y="355.90" width="2.31" height="7.10" fill="#d5e1e8"/><rect x="464.68" y="355.90" width="1.29" height="7.10" fill="#b2bec6"/><rect x="466.99" y="355.90" width="0.62" height="7.10" fill="#c4d0d7"/><rect x="467.62" y="355.90" width="1.07" height="7.10" fill="#c4d0d7"/><rect x="468.69" y="355.90" width="1.04" height="7.10" fill="#b2bec6"/><rect x="469.73" y="355.90" width="2.40" height="7.10" fill="#b2bec6"/><rect x="475.14" y="355.90" width="0.73" height="7.10" fill="#b2bec6"/><rect x="475.88" y="355.90" width="1.48" height="7.10" fill="#a9b4bb"/><rect x="479.38" y="355.90" width="1.64" height="7.10" fill="#d5e1e8"/><rect x="481.02" y="355.90" width="0.53" height="7.10" fill="#d5e1e8"/><rect x="481.56" y="355.90" width="2.28" height="7.10" fill="#b2bec6"/><rect x="484.76" y="355.90" width="1.81" height="7.10" fill="#b2bec6"/><rect x="488.78" y="355.90" width="1.93" height="7.10" fill="#a9b4bb"/><rect x="494.13" y="355.90" width="1.66" height="7.10" fill="#d5e1e8"/><rect x="495.80" y="355.90" width="1.73" height="7.10" fill="#c4d0d7"/><rect x="497.53" y="355.90" width="0.87" height="7.10" fill="#c4d0d7"/><rect x="498.41" y="355.90" width="1.55" height="7.10" fill="#a9b4bb"/><rect x="499.95" y="355.90" width="2.12" height="7.10" fill="#d5e1e8"/><rect x="502.08" y="355.90" width="2.36" height="7.10" fill="#c4d0d7"/><rect x="507.06" y="355.90" width="1.65" height="7.10" fill="#c4d0d7"/><rect x="508.71" y="355.90" width="1.61" height="7.10" fill="#d5e1e8"/><rect x="510.32" y="355.90" width="1.82" height="7.10" fill="#c4d0d7"/><rect x="512.14" y="355.90" width="1.76" height="7.10" fill="#a9b4bb"/><rect x="513.90" y="355.90" width="1.52" height="7.10" fill="#a9b4bb"/><rect x="515.42" y="355.90" width="2.46" height="7.10" fill="#c4d0d7"/><rect x="518.54" y="355.90" width="0.88" height="7.10" fill="#a9b4bb"/><rect x="519.42" y="355.90" width="2.42" height="7.10" fill="#b2bec6"/><rect x="525.21" y="355.90" width="1.30" height="7.10" fill="#c4d0d7"/><rect x="526.51" y="355.90" width="2.49" height="7.10" fill="#a9b4bb"/><rect x="531.08" y="355.90" width="2.07" height="7.10" fill="#a9b4bb"/><rect x="533.15" y="355.90" width="2.09" height="7.10" fill="#a9b4bb"/><rect x="535.24" y="355.90" width="1.11" height="7.10" fill="#b2bec6"/><rect x="536.35" y="355.90" width="2.15" height="7.10" fill="#c4d0d7"/><rect x="538.51" y="355.90" width="1.88" height="7.10" fill="#c4d0d7"/><rect x="540.38" y="355.90" width="2.00" height="7.10" fill="#a9b4bb"/><rect x="542.38" y="355.90" width="2.48" height="7.10" fill="#a9b4bb"/><rect x="544.86" y="355.90" width="1.49" height="7.10" fill="#c4d0d7"/><rect x="548.76" y="355.90" width="1.50" height="7.10" fill="#d5e1e8"/><rect x="550.26" y="355.90" width="2.53" height="7.10" fill="#b2bec6"/><rect x="554.60" y="355.90" width="0.56" height="7.10" fill="#a9b4bb"/><rect x="557.41" y="355.90" width="1.23" height="7.10" fill="#d5e1e8"/><rect x="562.70" y="355.90" width="0.98" height="7.10" fill="#c4d0d7"/><rect x="563.68" y="355.90" width="1.23" height="7.10" fill="#c4d0d7"/><rect x="564.91" y="355.90" width="0.56" height="7.10" fill="#c4d0d7"/><rect x="569.63" y="355.90" width="1.14" height="7.10" fill="#d5e1e8"/><rect x="578.49" y="355.90" width="0.93" height="7.10" fill="#c4d0d7"/><rect x="583.34" y="355.90" width="1.97" height="7.10" fill="#d5e1e8"/><rect x="595.93" y="355.90" width="2.15" height="7.10" fill="#b2bec6"/><rect x="598.08" y="355.90" width="1.86" height="7.10" fill="#a9b4bb"/><rect x="605.57" y="355.90" width="1.93" height="7.10" fill="#b2bec6"/><rect x="607.51" y="355.90" width="1.83" height="7.10" fill="#b2bec6"/><rect x="609.33" y="355.90" width="2.02" height="7.10" fill="#a9b4bb"/><rect x="613.85" y="355.90" width="1.70" height="7.10" fill="#c4d0d7"/><rect x="615.56" y="355.90" width="2.11" height="7.10" fill="#c4d0d7"/><rect x="617.67" y="355.90" width="1.26" height="7.10" fill="#b2bec6"/><rect x="621.01" y="355.90" width="1.56" height="7.10" fill="#d5e1e8"/><rect x="622.57" y="355.90" width="0.91" height="7.10" fill="#c4d0d7"/><rect x="623.48" y="355.90" width="2.01" height="7.10" fill="#c4d0d7"/><rect x="625.48" y="355.90" width="1.47" height="7.10" fill="#b2bec6"/><rect x="626.95" y="355.90" width="2.53" height="7.10" fill="#a9b4bb"/><rect x="629.48" y="355.90" width="0.43" height="7.10" fill="#d5e1e8"/><rect x="629.91" y="355.90" width="0.91" height="7.10" fill="#c4d0d7"/><rect x="630.82" y="355.90" width="0.71" height="7.10" fill="#c4d0d7"/><rect x="631.53" y="355.90" width="1.21" height="7.10" fill="#c4d0d7"/><rect x="632.73" y="355.90" width="2.03" height="7.10" fill="#d5e1e8"/><rect x="634.77" y="355.90" width="1.81" height="7.10" fill="#b2bec6"/><rect x="636.57" y="355.90" width="1.76" height="7.10" fill="#d5e1e8"/><rect x="638.33" y="355.90" width="1.45" height="7.10" fill="#a9b4bb"/><rect x="639.78" y="355.90" width="1.71" height="7.10" fill="#a9b4bb"/><rect x="641.49" y="355.90" width="2.42" height="7.10" fill="#c4d0d7"/><rect x="643.91" y="355.90" width="1.66" height="7.10" fill="#d5e1e8"/><rect x="645.57" y="355.90" width="0.70" height="7.10" fill="#c4d0d7"/><rect x="646.27" y="355.90" width="2.31" height="7.10" fill="#a9b4bb"/><rect x="653.17" y="355.90" width="1.89" height="7.10" fill="#a9b4bb"/><rect x="655.06" y="355.90" width="0.49" height="7.10" fill="#b2bec6"/><rect x="655.55" y="355.90" width="1.46" height="7.10" fill="#d5e1e8"/><rect x="657.01" y="355.90" width="1.30" height="7.10" fill="#c4d0d7"/><rect x="658.31" y="355.90" width="2.24" height="7.10" fill="#a9b4bb"/><rect x="660.55" y="355.90" width="0.42" height="7.10" fill="#b2bec6"/><rect x="423.17" y="348.80" width="0.54" height="7.10" fill="#7d8a94" fill-opacity="0.45"/><rect x="423.31" y="348.80" width="0.51" height="14.20" fill="#7d8a94" fill-opacity="0.40"/><rect x="423.41" y="355.90" width="0.50" height="7.10" fill="#7d8a94" fill-opacity="0.44"/><rect x="428.37" y="348.80" width="0.60" height="14.20" fill="#7d8a94" fill-opacity="0.28"/><rect x="428.55" y="348.80" width="0.56" height="7.10" fill="#7d8a94" fill-opacity="0.33"/><rect x="429.39" y="348.80" width="0.48" height="14.20" fill="#7d8a94" fill-opacity="0.44"/><rect x="430.33" y="355.90" width="0.72" height="7.10" fill="#7d8a94" fill-opacity="0.35"/><rect x="430.61" y="348.80" width="0.70" height="14.20" fill="#7d8a94" fill-opacity="0.48"/><rect x="434.66" y="348.80" width="0.30" height="14.20" fill="#7d8a94" fill-opacity="0.49"/><rect x="438.07" y="348.80" width="0.75" height="14.20" fill="#7d8a94" fill-opacity="0.53"/><rect x="446.10" y="348.80" width="0.60" height="7.10" fill="#7d8a94" fill-opacity="0.41"/><rect x="446.54" y="348.80" width="0.56" height="7.10" fill="#7d8a94" fill-opacity="0.41"/><rect x="452.76" y="355.90" width="0.77" height="7.10" fill="#7d8a94" fill-opacity="0.28"/><rect x="455.09" y="355.90" width="0.67" height="7.10" fill="#7d8a94" fill-opacity="0.39"/><rect x="459.46" y="348.80" width="0.67" height="7.10" fill="#7d8a94" fill-opacity="0.39"/><rect x="461.19" y="348.80" width="0.62" height="7.10" fill="#7d8a94" fill-opacity="0.33"/><rect x="461.46" y="348.80" width="0.40" height="14.20" fill="#7d8a94" fill-opacity="0.47"/><rect x="464.13" y="355.90" width="0.36" height="7.10" fill="#7d8a94" fill-opacity="0.48"/><rect x="469.43" y="348.80" width="0.73" height="14.20" fill="#7d8a94" fill-opacity="0.53"/><rect x="471.94" y="348.80" width="0.69" height="14.20" fill="#7d8a94" fill-opacity="0.42"/><rect x="476.17" y="348.80" width="0.73" height="7.10" fill="#7d8a94" fill-opacity="0.54"/><rect x="477.26" y="355.90" width="0.56" height="7.10" fill="#7d8a94" fill-opacity="0.27"/><rect x="477.40" y="348.80" width="0.73" height="7.10" fill="#7d8a94" fill-opacity="0.38"/><rect x="480.64" y="348.80" width="0.78" height="14.20" fill="#7d8a94" fill-opacity="0.53"/><rect x="482.32" y="355.90" width="0.57" height="7.10" fill="#7d8a94" fill-opacity="0.27"/><rect x="483.19" y="355.90" width="0.52" height="7.10" fill="#7d8a94" fill-opacity="0.49"/><rect x="485.69" y="348.80" width="0.50" height="7.10" fill="#7d8a94" fill-opacity="0.33"/><rect x="489.22" y="348.80" width="0.41" height="14.20" fill="#7d8a94" fill-opacity="0.50"/><rect x="494.06" y="355.90" width="0.45" height="7.10" fill="#7d8a94" fill-opacity="0.39"/><rect x="494.33" y="348.80" width="0.62" height="7.10" fill="#7d8a94" fill-opacity="0.35"/><rect x="496.33" y="355.90" width="0.39" height="7.10" fill="#7d8a94" fill-opacity="0.38"/><rect x="496.41" y="348.80" width="0.53" height="14.20" fill="#7d8a94" fill-opacity="0.43"/><rect x="497.95" y="348.80" width="0.45" height="7.10" fill="#7d8a94" fill-opacity="0.31"/><rect x="498.42" y="348.80" width="0.51" height="7.10" fill="#7d8a94" fill-opacity="0.42"/><rect x="499.90" y="348.80" width="0.33" height="7.10" fill="#7d8a94" fill-opacity="0.38"/><rect x="500.21" y="348.80" width="0.49" height="7.10" fill="#7d8a94" fill-opacity="0.38"/><rect x="505.06" y="348.80" width="0.73" height="7.10" fill="#7d8a94" fill-opacity="0.39"/><rect x="506.45" y="355.90" width="0.66" height="7.10" fill="#7d8a94" fill-opacity="0.27"/><rect x="508.90" y="348.80" width="0.34" height="7.10" fill="#7d8a94" fill-opacity="0.27"/><rect x="509.09" y="348.80" width="0.43" height="14.20" fill="#7d8a94" fill-opacity="0.27"/><rect x="514.10" y="355.90" width="0.70" height="7.10" fill="#7d8a94" fill-opacity="0.44"/><rect x="521.16" y="355.90" width="0.72" height="7.10" fill="#7d8a94" fill-opacity="0.37"/><rect x="522.28" y="348.80" width="0.70" height="14.20" fill="#7d8a94" fill-opacity="0.41"/><rect x="523.39" y="348.80" width="0.45" height="7.10" fill="#7d8a94" fill-opacity="0.54"/><rect x="525.17" y="348.80" width="0.56" height="7.10" fill="#7d8a94" fill-opacity="0.52"/><rect x="528.50" y="348.80" width="0.40" height="14.20" fill="#7d8a94" fill-opacity="0.39"/><rect x="530.99" y="348.80" width="0.61" height="7.10" fill="#7d8a94" fill-opacity="0.50"/><rect x="531.81" y="348.80" width="0.65" height="7.10" fill="#7d8a94" fill-opacity="0.39"/><rect x="533.03" y="348.80" width="0.43" height="7.10" fill="#7d8a94" fill-opacity="0.49"/><rect x="533.05" y="348.80" width="0.56" height="7.10" fill="#7d8a94" fill-opacity="0.28"/><rect x="534.11" y="355.90" width="0.30" height="7.10" fill="#7d8a94" fill-opacity="0.34"/><rect x="535.66" y="348.80" width="0.47" height="7.10" fill="#7d8a94" fill-opacity="0.47"/><rect x="536.19" y="348.80" width="0.37" height="7.10" fill="#7d8a94" fill-opacity="0.38"/><rect x="542.47" y="348.80" width="0.64" height="7.10" fill="#7d8a94" fill-opacity="0.30"/><rect x="545.65" y="348.80" width="0.51" height="7.10" fill="#7d8a94" fill-opacity="0.40"/><rect x="547.80" y="355.90" width="0.57" height="7.10" fill="#7d8a94" fill-opacity="0.48"/><rect x="553.77" y="355.90" width="0.45" height="7.10" fill="#7d8a94" fill-opacity="0.35"/><rect x="557.94" y="348.80" width="0.31" height="7.10" fill="#7d8a94" fill-opacity="0.34"/><rect x="560.08" y="348.80" width="0.60" height="14.20" fill="#7d8a94" fill-opacity="0.46"/><rect x="564.16" y="348.80" width="0.64" height="7.10" fill="#7d8a94" fill-opacity="0.42"/><rect x="564.86" y="348.80" width="0.45" height="14.20" fill="#7d8a94" fill-opacity="0.28"/><rect x="572.43" y="348.80" width="0.55" height="14.20" fill="#7d8a94" fill-opacity="0.29"/><rect x="578.24" y="348.80" width="0.32" height="14.20" fill="#7d8a94" fill-opacity="0.37"/><rect x="579.32" y="355.90" width="0.40" height="7.10" fill="#7d8a94" fill-opacity="0.29"/><rect x="582.67" y="355.90" width="0.66" height="7.10" fill="#7d8a94" fill-opacity="0.44"/><rect x="589.98" y="355.90" width="0.73" height="7.10" fill="#7d8a94" fill-opacity="0.26"/><rect x="590.33" y="348.80" width="0.75" height="14.20" fill="#7d8a94" fill-opacity="0.28"/><rect x="593.49" y="355.90" width="0.50" height="7.10" fill="#7d8a94" fill-opacity="0.26"/><rect x="595.76" y="348.80" width="0.45" height="14.20" fill="#7d8a94" fill-opacity="0.54"/><rect x="598.74" y="348.80" width="0.65" height="7.10" fill="#7d8a94" fill-opacity="0.27"/><rect x="600.58" y="348.80" width="0.56" height="7.10" fill="#7d8a94" fill-opacity="0.27"/><rect x="601.72" y="355.90" width="0.50" height="7.10" fill="#7d8a94" fill-opacity="0.55"/><rect x="606.13" y="355.90" width="0.67" height="7.10" fill="#7d8a94" fill-opacity="0.38"/><rect x="606.60" y="348.80" width="0.69" height="14.20" fill="#7d8a94" fill-opacity="0.48"/><rect x="607.22" y="348.80" width="0.67" height="14.20" fill="#7d8a94" fill-opacity="0.26"/><rect x="607.37" y="355.90" width="0.76" height="7.10" fill="#7d8a94" fill-opacity="0.25"/><rect x="610.24" y="348.80" width="0.49" height="14.20" fill="#7d8a94" fill-opacity="0.37"/><rect x="610.80" y="355.90" width="0.62" height="7.10" fill="#7d8a94" fill-opacity="0.29"/><rect x="615.97" y="355.90" width="0.64" height="7.10" fill="#7d8a94" fill-opacity="0.41"/><rect x="618.38" y="348.80" width="0.59" height="7.10" fill="#7d8a94" fill-opacity="0.30"/><rect x="622.95" y="348.80" width="0.46" height="14.20" fill="#7d8a94" fill-opacity="0.37"/><rect x="623.63" y="348.80" width="0.55" height="14.20" fill="#7d8a94" fill-opacity="0.26"/><rect x="629.83" y="355.90" width="0.60" height="7.10" fill="#7d8a94" fill-opacity="0.52"/><rect x="630.53" y="355.90" width="0.75" height="7.10" fill="#7d8a94" fill-opacity="0.32"/><rect x="647.14" y="348.80" width="0.75" height="7.10" fill="#7d8a94" fill-opacity="0.51"/><rect x="648.76" y="355.90" width="0.41" height="7.10" fill="#7d8a94" fill-opacity="0.42"/><rect x="649.26" y="355.90" width="0.64" height="7.10" fill="#7d8a94" fill-opacity="0.44"/><rect x="649.42" y="355.90" width="0.38" height="7.10" fill="#7d8a94" fill-opacity="0.32"/><rect x="650.99" y="355.90" width="0.74" height="7.10" fill="#7d8a94" fill-opacity="0.42"/><rect x="651.36" y="348.80" width="0.67" height="7.10" fill="#7d8a94" fill-opacity="0.54"/><rect x="657.29" y="355.90" width="0.38" height="7.10" fill="#7d8a94" fill-opacity="0.36"/><rect x="657.94" y="348.80" width="0.77" height="7.10" fill="#7d8a94" fill-opacity="0.42"/><rect x="424.10" y="348.80" width="0.58" height="14.20" fill="#fff" fill-opacity="0.75"/><rect x="427.38" y="348.80" width="0.60" height="14.20" fill="#fff" fill-opacity="0.64"/><rect x="434.83" y="348.80" width="0.50" height="14.20" fill="#fff" fill-opacity="0.71"/><rect x="440.67" y="348.80" width="0.66" height="14.20" fill="#fff" fill-opacity="0.76"/><rect x="450.49" y="348.80" width="0.48" height="14.20" fill="#fff" fill-opacity="0.51"/><rect x="450.55" y="348.80" width="0.50" height="14.20" fill="#fff" fill-opacity="0.74"/><rect x="459.67" y="348.80" width="0.71" height="14.20" fill="#fff" fill-opacity="0.77"/><rect x="468.00" y="348.80" width="0.58" height="14.20" fill="#fff" fill-opacity="0.69"/><rect x="490.85" y="348.80" width="0.57" height="14.20" fill="#fff" fill-opacity="0.77"/><rect x="518.36" y="348.80" width="0.69" height="14.20" fill="#fff" fill-opacity="0.86"/><rect x="522.11" y="348.80" width="0.78" height="14.20" fill="#fff" fill-opacity="0.81"/><rect x="522.51" y="348.80" width="0.77" height="14.20" fill="#fff" fill-opacity="0.63"/><rect x="538.67" y="348.80" width="0.62" height="14.20" fill="#fff" fill-opacity="0.62"/><rect x="546.39" y="348.80" width="0.55" height="14.20" fill="#fff" fill-opacity="0.77"/><rect x="546.40" y="348.80" width="0.56" height="14.20" fill="#fff" fill-opacity="0.85"/><rect x="547.69" y="348.80" width="0.42" height="14.20" fill="#fff" fill-opacity="0.67"/><rect x="558.66" y="348.80" width="0.48" height="14.20" fill="#fff" fill-opacity="0.68"/><rect x="560.86" y="348.80" width="0.52" height="14.20" fill="#fff" fill-opacity="0.58"/><rect x="563.72" y="348.80" width="0.63" height="14.20" fill="#fff" fill-opacity="0.51"/><rect x="570.53" y="348.80" width="0.52" height="14.20" fill="#fff" fill-opacity="0.82"/><rect x="572.46" y="348.80" width="0.44" height="14.20" fill="#fff" fill-opacity="0.77"/><rect x="586.55" y="348.80" width="0.73" height="14.20" fill="#fff" fill-opacity="0.65"/><rect x="601.80" y="348.80" width="0.68" height="14.20" fill="#fff" fill-opacity="0.81"/><rect x="605.01" y="348.80" width="0.59" height="14.20" fill="#fff" fill-opacity="0.79"/><rect x="605.28" y="348.80" width="0.73" height="14.20" fill="#fff" fill-opacity="0.85"/><rect x="605.73" y="348.80" width="0.60" height="14.20" fill="#fff" fill-opacity="0.78"/><rect x="632.12" y="348.80" width="0.70" height="14.20" fill="#fff" fill-opacity="0.84"/><rect x="637.77" y="348.80" width="0.59" height="14.20" fill="#fff" fill-opacity="0.82"/><rect x="647.80" y="348.80" width="0.70" height="14.20" fill="#fff" fill-opacity="0.79"/><rect x="654.44" y="348.80" width="0.68" height="14.20" fill="#fff" fill-opacity="0.82"/>
<text transform="translate(405.7 293.9) scale(1.05 1)" text-anchor="end" font-family="Liberation Sans, sans-serif" font-size="6.9px" fill="#666">0.0000</text>
<text transform="translate(405.7 282.7) scale(1.05 1)" text-anchor="end" font-family="Liberation Sans, sans-serif" font-size="6.9px" fill="#666">0.0025</text>
<text transform="translate(405.7 271.5) scale(1.05 1)" text-anchor="end" font-family="Liberation Sans, sans-serif" font-size="6.9px" fill="#666">0.0050</text>
<text transform="translate(405.7 260.3) scale(1.05 1)" text-anchor="end" font-family="Liberation Sans, sans-serif" font-size="6.9px" fill="#666">0.0075</text>
<text transform="translate(405.7 249.1) scale(1.05 1)" text-anchor="end" font-family="Liberation Sans, sans-serif" font-size="6.9px" fill="#666">0.0100</text>
<text x="405.7" y="345.0" text-anchor="end" font-family="Liberation Sans, sans-serif" font-size="6.9px" fill="#666">0.0</text>
<text x="405.7" y="332.2" text-anchor="end" font-family="Liberation Sans, sans-serif" font-size="6.9px" fill="#666">0.1</text>
<text x="405.7" y="319.5" text-anchor="end" font-family="Liberation Sans, sans-serif" font-size="6.9px" fill="#666">0.2</text>
<text x="405.7" y="306.7" text-anchor="end" font-family="Liberation Sans, sans-serif" font-size="6.9px" fill="#666">0.3</text>
<text x="421.9" y="372.8" text-anchor="middle" font-family="Liberation Sans, sans-serif" font-size="6.9px" fill="#666">0</text>
<text x="467.7" y="372.8" text-anchor="middle" font-family="Liberation Sans, sans-serif" font-size="6.9px" fill="#666">10</text>
<text x="513.5" y="372.8" text-anchor="middle" font-family="Liberation Sans, sans-serif" font-size="6.9px" fill="#666">20</text>
<text x="559.3" y="372.8" text-anchor="middle" font-family="Liberation Sans, sans-serif" font-size="6.9px" fill="#666">30</text>
<text x="605.1" y="372.8" text-anchor="middle" font-family="Liberation Sans, sans-serif" font-size="6.9px" fill="#666">40</text>
<text x="650.9" y="372.8" text-anchor="middle" font-family="Liberation Sans, sans-serif" font-size="6.9px" fill="#666">50</text>
<path d="M409.3 244.9V293.1M409.3 295.9V344.2M409.3 291.5h-1.6M409.3 280.3h-1.6M409.3 269.1h-1.6M409.3 257.9h-1.6M409.3 246.7h-1.6M409.3 342.6h-1.6M409.3 329.8h-1.6M409.3 317.1h-1.6M409.3 304.3h-1.6M409.3 363.5H676.1M421.9 363.5v1.6M467.7 363.5v1.6M513.5 363.5v1.6M559.3 363.5v1.6M605.1 363.5v1.6M650.9 363.5v1.6" stroke="#222" stroke-width="0.9" fill="none"/>
<text transform="translate(376.0 268.3) scale(1.22 1) rotate(-90)" text-anchor="middle" font-family="Liberation Sans, sans-serif" font-weight="bold" font-size="6.6px" fill="#111">π</text>
<text transform="translate(375.4 319.9) scale(1.22 1) rotate(-90)" text-anchor="middle" font-family="Liberation Sans, sans-serif" font-weight="bold" font-size="7.4px" fill="#111">F<tspan font-size="4.6px" dy="2.2">ST</tspan></text>
<text transform="translate(361.5 300.3) scale(1.22 1) rotate(-90)" text-anchor="middle" font-family="Liberation Sans, sans-serif" font-weight="bold" font-size="8.00px" fill="#111">Chromosome IV</text>
<text x="343.6" y="247.7" font-family="Liberation Sans, sans-serif" font-weight="bold" font-size="19px" fill="#111">f</text>
<path d="M421.90 453.10L421.90 429.26L422.30 429.29L422.70 436.20L423.10 431.87L423.50 427.63L423.90 433.16L424.30 434.47L424.71 423.72L425.11 430.63L425.51 429.22L425.91 427.02L426.31 433.75L426.71 434.81L427.11 433.05L427.51 416.88L427.91 409.68L428.31 434.42L428.71 418.64L429.11 433.04L429.51 411.50L429.91 430.09L430.32 434.25L430.72 431.84L431.12 433.47L431.52 431.09L431.92 431.36L432.32 433.76L432.72 435.27L433.12 425.10L433.52 434.64L433.92 434.06L434.32 433.38L434.72 436.28L435.12 432.76L435.53 423.97L435.93 437.00L436.33 436.70L436.73 425.20L437.13 434.26L437.53 436.90L437.93 430.15L438.33 433.65L438.73 436.75L439.13 434.61L439.53 435.66L439.93 429.43L440.33 423.01L440.74 434.59L441.14 420.85L441.54 427.45L441.94 426.34L442.34 428.20L442.74 430.36L443.14 418.95L443.54 421.22L443.94 435.22L444.34 417.68L444.74 431.59L445.14 424.39L445.54 427.99L445.94 408.37L446.35 419.13L446.75 407.81L447.15 425.64L447.55 421.55L447.95 430.91L448.35 429.75L448.75 424.49L449.15 427.32L449.55 424.62L449.95 453.10L450.35 453.10L450.75 444.90L451.15 419.13L451.56 407.81L451.96 434.06L452.36 434.09L452.76 432.13L453.16 427.58L453.56 442.07L453.96 434.14L454.36 430.70L454.76 431.31L455.16 436.51L455.56 413.34L455.96 433.07L456.36 435.37L456.77 431.87L457.17 433.18L457.57 433.92L457.97 429.44L458.37 432.70L458.77 429.59L459.17 434.58L459.57 436.32L459.97 437.08L460.37 436.35L460.77 434.83L461.17 421.56L461.57 431.27L461.97 430.85L462.38 429.78L462.78 435.16L463.18 422.73L463.58 430.53L463.98 420.81L464.38 429.80L464.78 433.13L465.18 431.72L465.58 431.63L465.98 420.65L466.38 418.73L466.78 430.96L467.18 435.35L467.59 433.98L467.99 432.99L468.39 418.74L468.79 431.49L469.19 432.83L469.59 432.06L469.99 425.37L470.39 430.08L470.79 432.13L471.19 420.97L471.59 429.61L471.99 434.26L472.39 430.07L472.80 430.93L473.20 433.31L473.60 428.53L474.00 425.79L474.40 426.07L474.80 424.53L475.20 428.63L475.60 429.74L476.00 410.80L476.40 428.59L476.80 429.28L477.20 422.45L477.60 433.26L478.00 415.62L478.41 424.19L478.81 423.75L479.21 407.37L479.61 428.67L480.01 428.48L480.41 411.18L480.81 427.42L481.21 428.81L481.61 428.58L482.01 422.71L482.41 428.15L482.81 429.44L483.21 422.17L483.62 426.86L484.02 421.09L484.42 427.62L484.82 431.55L485.22 423.98L485.62 433.49L486.02 421.30L486.42 422.09L486.82 426.01L487.22 424.19L487.62 428.94L488.02 419.11L488.42 432.25L488.83 423.14L489.23 431.75L489.63 423.04L490.03 427.85L490.43 431.33L490.83 427.72L491.23 427.09L491.63 425.23L492.03 421.67L492.43 428.47L492.83 428.41L493.23 420.61L493.63 412.78L494.03 439.43L494.44 407.37L494.84 421.11L495.24 426.43L495.64 423.04L496.04 417.77L496.44 425.43L496.84 418.36L497.24 422.43L497.64 420.66L498.04 416.12L498.44 422.25L498.84 428.80L499.24 413.44L499.65 427.43L500.05 407.37L500.45 426.22L500.85 417.61L501.25 423.45L501.65 416.74L502.05 429.46L502.45 430.65L502.85 432.07L503.25 416.67L503.65 408.00L504.05 431.88L504.45 419.64L504.86 425.85L505.26 426.05L505.66 419.66L506.06 424.45L506.46 422.92L506.86 418.64L507.26 417.46L507.66 407.45L508.06 419.25L508.46 413.38L508.86 427.73L509.26 413.20L509.66 425.39L510.06 407.37L510.47 415.63L510.87 409.59L511.27 419.92L511.67 410.07L512.07 407.62L512.47 420.90L512.87 427.96L513.27 409.69L513.67 431.96L514.07 417.98L514.47 409.96L514.87 423.43L515.27 425.86L515.68 428.44L516.08 428.90L516.48 412.84L516.88 428.28L517.28 425.68L517.68 430.07L518.08 413.66L518.48 426.49L518.88 424.75L519.28 407.37L519.68 427.15L520.08 424.51L520.48 428.80L520.89 429.51L521.29 419.95L521.69 431.16L522.09 432.91L522.49 425.43L522.89 415.04L523.29 431.54L523.69 430.72L524.09 424.18L524.49 424.49L524.89 426.82L525.29 412.63L525.69 434.40L526.10 407.37L526.50 425.94L526.90 425.99L527.30 420.22L527.70 422.17L528.10 427.25L528.50 416.92L528.90 426.29L529.30 428.76L529.70 417.33L530.10 420.08L530.50 426.57L530.90 421.70L531.30 422.94L531.71 408.31L532.11 411.29L532.51 415.14L532.91 428.35L533.31 423.13L533.71 427.27L534.11 414.29L534.51 428.28L534.91 426.20L535.31 425.42L535.71 420.51L536.11 431.32L536.51 409.95L536.92 431.02L537.32 430.80L537.72 427.78L538.12 417.04L538.52 430.37L538.92 427.38L539.32 427.50L539.72 432.97L540.12 415.71L540.52 419.96L540.92 408.96L541.32 409.65L541.72 422.44L542.12 428.36L542.53 419.13L542.93 407.81L543.33 426.54L543.73 431.64L544.13 414.96L544.53 429.43L544.93 429.62L545.33 426.08L545.73 421.64L546.13 410.43L546.53 423.72L546.93 426.89L547.33 430.21L547.74 429.51L548.14 430.61L548.54 423.05L548.94 423.81L549.34 420.75L549.74 430.51L550.14 411.23L550.54 428.13L550.94 410.01L551.34 409.82L551.74 422.43L552.14 425.20L552.54 407.37L552.95 421.86L553.35 427.32L553.75 415.21L554.15 424.75L554.55 427.67L554.95 428.92L555.35 407.37L555.75 414.69L556.15 427.66L556.55 430.37L556.95 443.87L557.35 414.03L557.75 423.65L558.15 420.15L558.56 417.84L558.96 415.12L559.36 407.37L559.76 424.07L560.16 420.53L560.56 431.00L560.96 429.47L561.36 430.22L561.76 432.13L562.16 433.66L562.56 431.25L562.96 419.22L563.36 420.84L563.77 415.70L564.17 433.65L564.57 427.12L564.97 428.22L565.37 432.38L565.77 431.96L566.17 431.79L566.57 421.67L566.97 425.17L567.37 418.78L567.77 429.74L568.17 430.57L568.57 428.11L568.98 433.57L569.38 435.91L569.78 432.48L570.18 434.12L570.58 426.24L570.98 409.83L571.38 418.38L571.78 431.26L572.18 432.51L572.58 424.18L572.98 423.74L573.38 427.32L573.78 431.47L574.18 428.98L574.59 423.20L574.99 430.56L575.39 425.46L575.79 421.01L576.19 421.48L576.59 453.10L576.99 453.10L577.39 426.52L577.79 421.81L578.19 421.29L578.59 420.55L578.99 425.15L579.39 422.07L579.80 425.72L580.20 425.78L580.60 412.78L581.00 428.70L581.40 430.68L581.80 423.04L582.20 426.51L582.60 419.85L583.00 419.80L583.40 428.64L583.80 424.83L584.20 417.49L584.60 423.46L585.01 411.24L585.41 423.38L585.81 408.15L586.21 427.81L586.61 427.38L587.01 418.51L587.41 425.01L587.81 407.37L588.21 427.16L588.61 410.84L589.01 428.40L589.41 426.64L589.81 426.65L590.21 425.96L590.62 424.87L591.02 429.65L591.42 422.86L591.82 429.10L592.22 416.65L592.62 420.30L593.02 431.23L593.42 429.65L593.82 425.53L594.22 415.96L594.62 428.09L595.02 422.94L595.42 428.27L595.83 429.15L596.23 426.40L596.63 407.37L597.03 427.53L597.43 407.46L597.83 419.92L598.23 415.09L598.63 423.26L599.03 414.51L599.43 424.57L599.83 420.95L600.23 425.70L600.63 424.78L601.04 425.05L601.44 415.23L601.84 412.25L602.24 421.39L602.64 421.79L603.04 421.95L603.44 427.52L603.84 414.80L604.24 423.33L604.64 407.49L605.04 429.77L605.44 425.18L605.84 430.49L606.25 441.85L606.65 416.01L607.05 427.75L607.45 418.03L607.85 425.25L608.25 427.58L608.65 427.10L609.05 410.19L609.45 425.60L609.85 410.83L610.25 419.18L610.65 418.58L611.05 424.25L611.45 428.67L611.86 424.81L612.26 426.86L612.66 426.44L613.06 428.55L613.46 429.22L613.86 417.30L614.26 407.37L614.66 429.98L615.06 426.74L615.46 425.24L615.86 431.72L616.26 429.68L616.66 428.74L617.07 429.77L617.47 425.63L617.87 431.16L618.27 432.61L618.67 430.38L619.07 424.47L619.47 407.37L619.87 417.42L620.27 419.26L620.67 427.58L621.07 417.96L621.47 426.93L621.87 430.27L622.27 429.24L622.68 431.40L623.08 416.26L623.48 433.61L623.88 418.31L624.28 426.86L624.68 432.64L625.08 423.89L625.48 420.17L625.88 432.61L626.28 421.35L626.68 410.64L627.08 412.38L627.48 430.76L627.89 427.56L628.29 426.99L628.69 431.25L629.09 427.61L629.49 429.25L629.89 429.22L630.29 425.24L630.69 428.22L631.09 432.05L631.49 436.56L631.89 435.66L632.29 416.24L632.69 431.66L633.10 428.84L633.50 436.60L633.90 434.28L634.30 431.37L634.70 430.47L635.10 431.08L635.50 407.37L635.90 417.03L636.30 422.18L636.70 429.14L637.10 425.56L637.50 424.62L637.90 429.99L638.30 431.09L638.71 434.96L639.11 421.84L639.51 434.28L639.91 429.77L640.31 429.83L640.71 434.28L641.11 424.70L641.51 433.94L641.91 422.76L642.31 431.05L642.71 429.18L643.11 431.12L643.51 423.80L643.92 427.04L644.32 419.48L644.72 429.52L645.12 434.00L645.52 425.25L645.92 436.66L646.32 435.76L646.32 453.10Z" fill="#60a6d0"/>
<path d="M421.90 453.10L421.90 448.75L422.30 448.03L422.70 448.80L423.10 448.29L423.50 448.15L423.90 448.27L424.30 446.16L424.71 447.82L425.11 446.77L425.51 447.81L425.91 447.87L426.31 447.56L426.71 446.05L427.11 446.81L427.51 443.81L427.91 445.32L428.31 447.16L428.71 445.77L429.11 446.23L429.51 444.66L429.91 445.34L430.32 448.43L430.72 444.64L431.12 448.52L431.52 447.21L431.92 446.22L432.32 447.60L432.72 446.27L433.12 448.14L433.52 445.21L433.92 448.34L434.32 447.84L434.72 447.88L435.12 447.77L435.53 447.61L435.93 446.77L436.33 442.94L436.73 447.37L437.13 447.99L437.53 447.49L437.93 446.22L438.33 447.74L438.73 447.76L439.13 445.95L439.53 446.67L439.93 445.26L440.33 447.78L440.74 443.93L441.14 443.40L441.54 442.69L441.94 447.36L442.34 447.25L442.74 446.79L443.14 446.82L443.54 448.55L443.94 448.07L444.34 446.19L444.74 445.01L445.14 447.74L445.54 446.44L445.94 441.43L446.35 447.68L446.75 448.41L447.15 447.89L447.55 447.71L447.95 447.88L448.35 444.18L448.75 446.95L449.15 447.83L449.55 448.03L449.95 453.10L450.35 453.10L450.75 448.42L451.15 448.16L451.56 448.64L451.96 448.39L452.36 448.91L452.76 449.19L453.16 448.24L453.56 447.77L453.96 447.59L454.36 448.50L454.76 446.46L455.16 447.41L455.56 445.43L455.96 446.92L456.36 445.36L456.77 445.04L457.17 447.23L457.57 443.93L457.97 447.37L458.37 447.12L458.77 447.19L459.17 447.54L459.57 446.76L459.97 446.44L460.37 442.40L460.77 448.22L461.17 448.28L461.57 448.03L461.97 447.30L462.38 447.29L462.78 447.63L463.18 447.66L463.58 444.90L463.98 445.46L464.38 446.99L464.78 447.40L465.18 445.37L465.58 447.27L465.98 446.31L466.38 447.23L466.78 447.56L467.18 444.83L467.59 445.47L467.99 447.42L468.39 447.58L468.79 447.87L469.19 447.72L469.59 441.58L469.99 447.42L470.39 447.47L470.79 447.42L471.19 446.02L471.59 446.31L471.99 445.94L472.39 446.90L472.80 444.25L473.20 447.10L473.60 445.79L474.00 448.28L474.40 448.38L474.80 446.46L475.20 445.51L475.60 448.21L476.00 447.16L476.40 447.38L476.80 448.11L477.20 447.12L477.60 448.07L478.00 447.09L478.41 447.31L478.81 444.62L479.21 447.71L479.61 447.13L480.01 446.08L480.41 446.84L480.81 447.44L481.21 445.67L481.61 445.40L482.01 444.56L482.41 446.56L482.81 446.68L483.21 447.05L483.62 448.17L484.02 447.93L484.42 447.21L484.82 443.37L485.22 448.00L485.62 447.83L486.02 447.71L486.42 446.60L486.82 448.09L487.22 447.61L487.62 447.15L488.02 447.39L488.42 448.26L488.83 446.65L489.23 447.83L489.63 445.92L490.03 447.60L490.43 446.01L490.83 448.17L491.23 447.18L491.63 446.51L492.03 445.48L492.43 446.72L492.83 445.72L493.23 446.29L493.63 446.15L494.03 447.07L494.44 447.11L494.84 446.97L495.24 446.48L495.64 446.28L496.04 443.01L496.44 447.35L496.84 445.54L497.24 445.29L497.64 445.51L498.04 439.15L498.44 445.76L498.84 445.24L499.24 445.30L499.65 445.64L500.05 445.42L500.45 446.49L500.85 446.32L501.25 446.13L501.65 446.65L502.05 445.79L502.45 444.96L502.85 446.37L503.25 445.47L503.65 446.54L504.05 445.71L504.45 446.00L504.86 445.56L505.26 442.55L505.66 446.27L506.06 443.38L506.46 448.25L506.86 444.67L507.26 447.79L507.66 447.77L508.06 448.39L508.46 446.68L508.86 448.06L509.26 446.81L509.66 447.36L510.06 447.77L510.47 446.89L510.87 446.21L511.27 447.64L511.67 447.25L512.07 445.31L512.47 444.95L512.87 447.14L513.27 446.22L513.67 444.39L514.07 444.75L514.47 445.62L514.87 446.22L515.27 446.82L515.68 444.22L516.08 445.85L516.48 444.07L516.88 445.72L517.28 445.25L517.68 446.18L518.08 444.76L518.48 445.74L518.88 444.47L519.28 444.34L519.68 446.59L520.08 441.17L520.48 443.38L520.89 446.11L521.29 445.12L521.69 445.31L522.09 446.73L522.49 444.25L522.89 447.31L523.29 446.49L523.69 446.20L524.09 445.64L524.49 447.35L524.89 447.54L525.29 441.21L525.69 445.29L526.10 437.47L526.50 443.39L526.90 446.12L527.30 446.45L527.70 442.92L528.10 446.50L528.50 443.72L528.90 446.60L529.30 444.23L529.70 446.05L530.10 446.28L530.50 445.88L530.90 446.18L531.30 446.54L531.71 445.69L532.11 446.67L532.51 447.18L532.91 444.95L533.31 446.39L533.71 446.87L534.11 445.60L534.51 446.06L534.91 445.29L535.31 445.57L535.71 444.89L536.11 445.79L536.51 445.59L536.92 444.74L537.32 445.02L537.72 446.02L538.12 445.01L538.52 445.29L538.92 444.53L539.32 447.95L539.72 444.55L540.12 447.41L540.52 445.24L540.92 446.19L541.32 445.78L541.72 446.41L542.12 445.43L542.53 445.77L542.93 446.27L543.33 445.70L543.73 445.98L544.13 447.21L544.53 447.53L544.93 447.61L545.33 446.93L545.73 446.81L546.13 445.83L546.53 445.91L546.93 445.52L547.33 444.98L547.74 443.49L548.14 444.70L548.54 446.85L548.94 444.47L549.34 448.40L549.74 442.98L550.14 447.59L550.54 447.83L550.94 446.07L551.34 446.77L551.74 445.42L552.14 446.33L552.54 440.86L552.95 446.36L553.35 444.87L553.75 446.30L554.15 446.70L554.55 445.69L554.95 444.58L555.35 446.82L555.75 444.58L556.15 440.11L556.55 447.28L556.95 447.17L557.35 445.49L557.75 444.04L558.15 447.10L558.56 445.85L558.96 446.04L559.36 446.07L559.76 444.70L560.16 446.42L560.56 446.00L560.96 446.42L561.36 446.35L561.76 446.64L562.16 444.04L562.56 445.33L562.96 446.85L563.36 446.22L563.77 447.42L564.17 444.61L564.57 445.79L564.97 441.57L565.37 447.01L565.77 443.83L566.17 445.79L566.57 445.84L566.97 445.88L567.37 445.52L567.77 446.66L568.17 446.66L568.57 446.89L568.98 447.33L569.38 447.34L569.78 446.83L570.18 444.43L570.58 446.54L570.98 446.26L571.38 447.44L571.78 444.28L572.18 445.43L572.58 446.34L572.98 443.74L573.38 445.65L573.78 446.70L574.18 447.62L574.59 447.35L574.99 446.68L575.39 446.36L575.79 447.31L576.19 447.37L576.59 453.10L576.99 453.10L577.39 447.70L577.79 447.93L578.19 445.86L578.59 447.38L578.99 447.74L579.39 446.66L579.80 446.72L580.20 444.41L580.60 444.22L581.00 446.42L581.40 446.23L581.80 445.43L582.20 440.90L582.60 446.65L583.00 447.54L583.40 447.49L583.80 447.08L584.20 447.29L584.60 445.13L585.01 447.59L585.41 447.33L585.81 447.02L586.21 446.00L586.61 446.55L587.01 448.40L587.41 448.18L587.81 448.16L588.21 447.38L588.61 446.98L589.01 447.05L589.41 443.71L589.81 446.30L590.21 445.58L590.62 444.45L591.02 444.05L591.42 448.06L591.82 446.04L592.22 444.11L592.62 444.92L593.02 445.24L593.42 444.65L593.82 445.83L594.22 446.28L594.62 446.54L595.02 445.11L595.42 443.89L595.83 443.21L596.23 446.50L596.63 442.25L597.03 445.83L597.43 445.43L597.83 446.70L598.23 446.64L598.63 447.24L599.03 447.64L599.43 443.99L599.83 447.10L600.23 445.77L600.63 446.08L601.04 447.51L601.44 445.76L601.84 447.30L602.24 446.04L602.64 448.18L603.04 448.87L603.44 444.86L603.84 448.99L604.24 448.53L604.64 447.57L605.04 447.08L605.44 448.07L605.84 447.09L606.25 444.23L606.65 442.29L607.05 447.50L607.45 447.46L607.85 447.66L608.25 446.51L608.65 446.83L609.05 447.03L609.45 443.79L609.85 442.19L610.25 447.50L610.65 446.75L611.05 447.22L611.45 446.18L611.86 448.49L612.26 448.24L612.66 448.57L613.06 447.97L613.46 447.44L613.86 447.35L614.26 446.71L614.66 447.16L615.06 446.04L615.46 446.67L615.86 445.82L616.26 447.21L616.66 446.26L617.07 442.72L617.47 446.36L617.87 447.67L618.27 445.16L618.67 448.14L619.07 448.45L619.47 448.06L619.87 447.52L620.27 446.79L620.67 447.54L621.07 445.96L621.47 447.38L621.87 447.44L622.27 447.58L622.68 447.69L623.08 444.75L623.48 446.45L623.88 445.16L624.28 447.04L624.68 443.96L625.08 443.29L625.48 447.19L625.88 447.02L626.28 447.51L626.68 447.21L627.08 445.18L627.48 446.46L627.89 445.94L628.29 443.90L628.69 447.26L629.09 446.03L629.49 448.02L629.89 446.24L630.29 445.33L630.69 445.23L631.09 441.41L631.49 446.85L631.89 447.59L632.29 444.07L632.69 447.32L633.10 446.87L633.50 445.58L633.90 444.34L634.30 447.02L634.70 446.46L635.10 446.56L635.50 446.34L635.90 444.25L636.30 447.84L636.70 446.62L637.10 448.13L637.50 446.24L637.90 446.55L638.30 447.04L638.71 445.34L639.11 446.64L639.51 444.95L639.91 443.38L640.31 445.35L640.71 445.64L641.11 447.07L641.51 447.62L641.91 447.64L642.31 445.64L642.71 445.63L643.11 446.01L643.51 444.47L643.92 445.55L644.32 446.18L644.72 447.49L645.12 444.14L645.52 447.11L645.92 444.95L646.32 448.22L646.32 453.10Z" fill="#4a7b9c"/>
<path d="M421.90 504.00L421.90 490.62L422.30 488.99L422.70 491.43L423.10 487.81L423.50 485.70L423.90 489.26L424.30 486.52L424.71 488.01L425.11 487.09L425.51 482.83L425.91 481.50L426.31 489.17L426.71 487.86L427.11 488.60L427.51 480.02L427.91 486.83L428.31 485.08L428.71 488.41L429.11 488.80L429.51 489.60L429.91 487.30L430.32 486.19L430.72 487.05L431.12 487.01L431.52 487.92L431.92 487.89L432.32 491.11L432.72 490.90L433.12 489.25L433.52 485.23L433.92 491.30L434.32 491.08L434.72 492.74L435.12 495.29L435.53 493.18L435.93 493.04L436.33 490.97L436.73 491.69L437.13 489.20L437.53 491.20L437.93 491.83L438.33 487.39L438.73 490.15L439.13 488.68L439.53 487.66L439.93 491.91L440.33 493.07L440.74 491.57L441.14 492.54L441.54 489.32L441.94 491.40L442.34 491.45L442.74 491.56L443.14 491.07L443.54 489.40L443.94 488.48L444.34 490.87L444.74 491.87L445.14 493.42L445.54 491.12L445.94 492.97L446.35 492.87L446.75 489.65L447.15 489.26L447.55 487.99L447.95 490.22L448.35 490.15L448.75 487.26L449.15 490.07L449.55 491.57L449.95 488.84L450.35 493.12L450.75 489.25L451.15 490.63L451.56 492.62L451.96 492.04L452.36 493.12L452.76 490.18L453.16 492.96L453.56 491.30L453.96 490.27L454.36 478.33L454.76 488.26L455.16 487.83L455.56 489.42L455.96 489.98L456.36 491.57L456.77 487.95L457.17 489.55L457.57 489.42L457.97 490.67L458.37 492.74L458.77 490.56L459.17 490.28L459.57 488.98L459.97 488.73L460.37 488.27L460.77 489.24L461.17 485.93L461.57 488.90L461.97 485.01L462.38 485.34L462.78 487.57L463.18 486.10L463.58 487.24L463.98 491.30L464.38 490.10L464.78 491.20L465.18 490.92L465.58 489.35L465.98 492.09L466.38 490.12L466.78 491.66L467.18 492.71L467.59 492.72L467.99 492.47L468.39 490.11L468.79 487.54L469.19 486.67L469.59 491.49L469.99 490.86L470.39 491.61L470.79 492.75L471.19 492.02L471.59 491.24L471.99 491.71L472.39 492.59L472.80 493.93L473.20 495.82L473.60 494.75L474.00 495.40L474.40 497.14L474.80 494.91L475.20 494.89L475.60 495.99L476.00 494.91L476.40 495.08L476.80 493.85L477.20 493.76L477.60 494.87L478.00 490.82L478.41 491.72L478.81 489.88L479.21 487.55L479.61 487.30L480.01 487.72L480.41 489.20L480.81 487.18L481.21 491.92L481.61 493.24L482.01 494.28L482.41 493.35L482.81 490.18L483.21 494.46L483.62 494.81L484.02 494.09L484.42 492.71L484.82 492.51L485.22 490.64L485.62 492.42L486.02 490.46L486.42 490.50L486.82 490.84L487.22 490.58L487.62 489.07L488.02 490.69L488.42 490.77L488.83 492.97L489.23 494.59L489.63 492.23L490.03 488.16L490.43 493.35L490.83 494.22L491.23 488.46L491.63 492.16L492.03 492.11L492.43 491.93L492.83 490.30L493.23 492.26L493.63 491.15L494.03 492.10L494.44 492.52L494.84 492.19L495.24 491.08L495.64 490.74L496.04 492.96L496.44 489.35L496.84 495.17L497.24 493.11L497.64 495.38L498.04 492.79L498.44 494.46L498.84 492.22L499.24 491.08L499.65 485.98L500.05 489.75L500.45 490.73L500.85 492.93L501.25 490.59L501.65 490.76L502.05 486.54L502.45 487.56L502.85 489.60L503.25 488.93L503.65 487.31L504.05 489.54L504.45 490.18L504.86 490.94L505.26 488.92L505.66 488.89L506.06 483.40L506.46 482.33L506.86 486.64L507.26 487.52L507.66 483.79L508.06 483.07L508.46 487.73L508.86 490.14L509.26 489.30L509.66 485.29L510.06 487.72L510.47 490.90L510.87 487.97L511.27 486.85L511.67 491.76L512.07 490.56L512.47 490.35L512.87 493.24L513.27 491.49L513.67 493.76L514.07 491.99L514.47 491.89L514.87 493.63L515.27 493.67L515.68 492.50L516.08 494.27L516.48 494.26L516.88 495.02L517.28 489.89L517.68 494.68L518.08 494.07L518.48 493.76L518.88 495.83L519.28 494.13L519.68 493.47L520.08 489.56L520.48 485.06L520.89 494.54L521.29 493.72L521.69 494.31L522.09 494.59L522.49 494.66L522.89 492.83L523.29 494.65L523.69 492.28L524.09 494.78L524.49 496.22L524.89 492.23L525.29 491.10L525.69 493.21L526.10 494.90L526.50 491.60L526.90 494.69L527.30 495.16L527.70 494.79L528.10 493.02L528.50 493.41L528.90 491.69L529.30 488.06L529.70 492.26L530.10 494.10L530.50 495.39L530.90 491.37L531.30 489.42L531.71 494.72L532.11 494.35L532.51 495.32L532.91 493.91L533.31 493.75L533.71 491.60L534.11 494.08L534.51 493.39L534.91 492.78L535.31 493.92L535.71 482.36L536.11 489.89L536.51 492.83L536.92 484.73L537.32 466.66L537.72 473.15L538.12 493.76L538.52 491.89L538.92 493.89L539.32 492.50L539.72 494.29L540.12 489.22L540.52 490.50L540.92 491.95L541.32 492.61L541.72 492.42L542.12 492.20L542.53 493.17L542.93 493.09L543.33 494.41L543.73 493.01L544.13 493.79L544.53 489.30L544.93 494.22L545.33 493.80L545.73 491.77L546.13 492.46L546.53 493.12L546.93 493.13L547.33 488.50L547.74 494.16L548.14 489.11L548.54 491.10L548.94 492.80L549.34 490.07L549.74 490.97L550.14 489.20L550.54 486.12L550.94 488.47L551.34 487.39L551.74 491.17L552.14 493.52L552.54 488.56L552.95 491.36L553.35 488.47L553.75 485.59L554.15 483.43L554.55 489.00L554.95 471.78L555.35 488.84L555.75 493.74L556.15 491.02L556.55 492.68L556.95 492.47L557.35 492.04L557.75 489.76L558.15 485.52L558.56 491.24L558.96 493.49L559.36 493.86L559.76 489.01L560.16 494.89L560.56 492.86L560.96 488.41L561.36 494.21L561.76 494.03L562.16 494.34L562.56 494.45L562.96 493.49L563.36 495.62L563.77 495.38L564.17 494.91L564.57 496.36L564.97 493.07L565.37 496.80L565.77 492.63L566.17 495.00L566.57 490.59L566.97 493.41L567.37 495.22L567.77 488.49L568.17 493.19L568.57 492.06L568.98 490.95L569.38 488.71L569.78 494.67L570.18 495.69L570.58 489.65L570.98 487.25L571.38 491.34L571.78 493.33L572.18 493.22L572.58 482.94L572.98 488.59L573.38 490.42L573.78 490.23L574.18 489.14L574.59 493.27L574.99 492.45L575.39 492.98L575.79 494.81L576.19 493.76L576.59 493.07L576.99 492.69L577.39 495.07L577.79 492.98L578.19 496.32L578.59 488.90L578.99 494.27L579.39 494.15L579.80 495.39L580.20 492.96L580.60 492.07L581.00 490.44L581.40 488.71L581.80 487.19L582.20 486.97L582.60 485.81L583.00 484.28L583.40 485.08L583.80 487.79L584.20 487.89L584.60 483.26L585.01 485.60L585.41 475.61L585.81 476.78L586.21 477.45L586.61 483.98L587.01 484.86L587.41 485.68L587.81 484.84L588.21 486.04L588.61 477.78L589.01 490.39L589.41 479.97L589.81 479.27L590.21 486.90L590.62 478.64L591.02 484.39L591.42 484.87L591.82 484.88L592.22 483.64L592.62 480.92L593.02 486.93L593.42 482.16L593.82 488.36L594.22 489.19L594.62 481.96L595.02 466.88L595.42 479.63L595.83 477.36L596.23 482.94L596.63 483.64L597.03 484.19L597.43 480.81L597.83 481.55L598.23 483.02L598.63 487.98L599.03 485.08L599.43 487.78L599.83 484.33L600.23 488.42L600.63 487.72L601.04 483.14L601.44 482.02L601.84 480.36L602.24 471.58L602.64 474.39L603.04 482.20L603.44 477.04L603.84 479.74L604.24 472.54L604.64 488.04L605.04 484.62L605.44 482.48L605.84 474.32L606.25 481.98L606.65 478.87L607.05 474.11L607.45 479.93L607.85 485.33L608.25 483.11L608.65 486.80L609.05 483.70L609.45 485.37L609.85 488.47L610.25 487.30L610.65 477.81L611.05 480.46L611.45 483.52L611.86 482.40L612.26 465.80L612.66 470.49L613.06 486.24L613.46 484.97L613.86 481.49L614.26 484.39L614.66 485.91L615.06 485.46L615.46 487.33L615.86 489.48L616.26 485.14L616.66 486.83L617.07 487.32L617.47 478.42L617.87 483.14L618.27 467.11L618.67 475.54L619.07 481.15L619.47 484.12L619.87 485.83L620.27 488.18L620.67 488.97L621.07 488.92L621.47 487.26L621.87 487.57L622.27 481.87L622.68 486.06L623.08 485.85L623.48 488.69L623.88 485.23L624.28 483.39L624.68 486.97L625.08 489.96L625.48 490.43L625.88 473.35L626.28 478.19L626.68 487.60L627.08 486.41L627.48 472.58L627.89 477.10L628.29 488.67L628.69 487.50L629.09 479.76L629.49 486.67L629.89 486.78L630.29 488.02L630.69 492.94L631.09 492.96L631.49 493.71L631.89 494.43L632.29 484.57L632.69 491.93L633.10 493.06L633.50 492.13L633.90 486.54L634.30 490.85L634.70 487.09L635.10 489.39L635.50 491.59L635.90 491.92L636.30 489.41L636.70 489.37L637.10 491.20L637.50 488.03L637.90 490.08L638.30 490.72L638.71 492.65L639.11 487.51L639.51 489.67L639.91 492.35L640.31 495.16L640.71 492.64L641.11 492.41L641.51 493.21L641.91 493.93L642.31 495.62L642.71 492.01L643.11 495.59L643.51 494.28L643.92 491.41L644.32 488.88L644.72 492.71L645.12 491.08L645.52 491.56L645.92 491.57L646.32 487.41L646.32 504.00Z" fill="#5b92b8"/>
<rect x="421.90" y="508.90" width="224.42" height="7.55" fill="#9bbcd4"/>
<rect x="421.90" y="516.45" width="224.42" height="7.55" fill="#a4c4da"/>
<rect x="421.90" y="508.90" width="1.95" height="7.55" fill="#a9c8de"/><rect x="423.85" y="508.90" width="2.24" height="7.55" fill="#a9c8de"/><rect x="426.09" y="508.90" width="1.17" height="7.55" fill="#86a9c2"/><rect x="433.86" y="508.90" width="2.18" height="7.55" fill="#86a9c2"/><rect x="438.41" y="508.90" width="1.52" height="7.55" fill="#8fb2cb"/><rect x="441.03" y="508.90" width="0.93" height="7.55" fill="#a9c8de"/><rect x="442.42" y="508.90" width="1.54" height="7.55" fill="#86a9c2"/><rect x="443.96" y="508.90" width="2.21" height="7.55" fill="#a9c8de"/><rect x="446.17" y="508.90" width="2.09" height="7.55" fill="#afcde2"/><rect x="448.26" y="508.90" width="1.31" height="7.55" fill="#afcde2"/><rect x="449.57" y="508.90" width="1.29" height="7.55" fill="#86a9c2"/><rect x="450.86" y="508.90" width="2.18" height="7.55" fill="#86a9c2"/><rect x="453.04" y="508.90" width="1.63" height="7.55" fill="#86a9c2"/><rect x="458.34" y="508.90" width="2.38" height="7.55" fill="#86a9c2"/><rect x="462.48" y="508.90" width="1.21" height="7.55" fill="#afcde2"/><rect x="464.34" y="508.90" width="0.74" height="7.55" fill="#afcde2"/><rect x="468.78" y="508.90" width="1.80" height="7.55" fill="#86a9c2"/><rect x="470.58" y="508.90" width="0.56" height="7.55" fill="#8fb2cb"/><rect x="471.14" y="508.90" width="0.99" height="7.55" fill="#a9c8de"/><rect x="472.90" y="508.90" width="0.80" height="7.55" fill="#afcde2"/><rect x="474.53" y="508.90" width="2.19" height="7.55" fill="#86a9c2"/><rect x="476.72" y="508.90" width="2.38" height="7.55" fill="#a9c8de"/><rect x="479.10" y="508.90" width="1.99" height="7.55" fill="#a9c8de"/><rect x="483.16" y="508.90" width="2.35" height="7.55" fill="#86a9c2"/><rect x="487.21" y="508.90" width="1.41" height="7.55" fill="#86a9c2"/><rect x="488.62" y="508.90" width="0.47" height="7.55" fill="#afcde2"/><rect x="493.04" y="508.90" width="0.75" height="7.55" fill="#86a9c2"/><rect x="493.79" y="508.90" width="2.25" height="7.55" fill="#afcde2"/><rect x="496.05" y="508.90" width="1.29" height="7.55" fill="#8fb2cb"/><rect x="497.34" y="508.90" width="1.92" height="7.55" fill="#86a9c2"/><rect x="501.74" y="508.90" width="1.29" height="7.55" fill="#8fb2cb"/><rect x="503.03" y="508.90" width="1.87" height="7.55" fill="#8fb2cb"/><rect x="504.91" y="508.90" width="0.76" height="7.55" fill="#a9c8de"/><rect x="506.84" y="508.90" width="1.69" height="7.55" fill="#86a9c2"/><rect x="508.54" y="508.90" width="0.56" height="7.55" fill="#86a9c2"/><rect x="511.44" y="508.90" width="1.57" height="7.55" fill="#afcde2"/><rect x="516.33" y="508.90" width="1.89" height="7.55" fill="#afcde2"/><rect x="518.22" y="508.90" width="1.06" height="7.55" fill="#8fb2cb"/><rect x="519.29" y="508.90" width="0.73" height="7.55" fill="#8fb2cb"/><rect x="520.02" y="508.90" width="0.61" height="7.55" fill="#86a9c2"/><rect x="521.07" y="508.90" width="1.50" height="7.55" fill="#afcde2"/><rect x="524.81" y="508.90" width="1.36" height="7.55" fill="#8fb2cb"/><rect x="529.06" y="508.90" width="0.80" height="7.55" fill="#afcde2"/><rect x="529.86" y="508.90" width="1.30" height="7.55" fill="#8fb2cb"/><rect x="533.61" y="508.90" width="1.88" height="7.55" fill="#86a9c2"/><rect x="535.49" y="508.90" width="2.33" height="7.55" fill="#86a9c2"/><rect x="537.82" y="508.90" width="2.25" height="7.55" fill="#8fb2cb"/><rect x="541.39" y="508.90" width="2.52" height="7.55" fill="#8fb2cb"/><rect x="545.79" y="508.90" width="1.29" height="7.55" fill="#a9c8de"/><rect x="547.09" y="508.90" width="0.93" height="7.55" fill="#86a9c2"/><rect x="548.02" y="508.90" width="1.05" height="7.55" fill="#afcde2"/><rect x="550.63" y="508.90" width="0.75" height="7.55" fill="#86a9c2"/><rect x="553.45" y="508.90" width="0.93" height="7.55" fill="#86a9c2"/><rect x="554.38" y="508.90" width="0.49" height="7.55" fill="#a9c8de"/><rect x="554.87" y="508.90" width="1.24" height="7.55" fill="#a9c8de"/><rect x="556.10" y="508.90" width="2.43" height="7.55" fill="#afcde2"/><rect x="558.53" y="508.90" width="2.38" height="7.55" fill="#a9c8de"/><rect x="562.77" y="508.90" width="1.63" height="7.55" fill="#86a9c2"/><rect x="566.90" y="508.90" width="2.06" height="7.55" fill="#8fb2cb"/><rect x="571.01" y="508.90" width="1.47" height="7.55" fill="#afcde2"/><rect x="575.88" y="508.90" width="1.12" height="7.55" fill="#86a9c2"/><rect x="578.83" y="508.90" width="0.75" height="7.55" fill="#86a9c2"/><rect x="579.57" y="508.90" width="2.34" height="7.55" fill="#afcde2"/><rect x="581.91" y="508.90" width="1.14" height="7.55" fill="#a9c8de"/><rect x="583.05" y="508.90" width="0.61" height="7.55" fill="#86a9c2"/><rect x="587.45" y="508.90" width="0.76" height="7.55" fill="#a9c8de"/><rect x="591.95" y="508.90" width="2.19" height="7.55" fill="#a9c8de"/><rect x="594.14" y="508.90" width="2.37" height="7.55" fill="#afcde2"/><rect x="596.51" y="508.90" width="1.64" height="7.55" fill="#afcde2"/><rect x="598.14" y="508.90" width="0.96" height="7.55" fill="#afcde2"/><rect x="600.79" y="508.90" width="2.45" height="7.55" fill="#afcde2"/><rect x="603.24" y="508.90" width="0.53" height="7.55" fill="#a9c8de"/><rect x="612.66" y="508.90" width="2.09" height="7.55" fill="#8fb2cb"/><rect x="614.75" y="508.90" width="2.09" height="7.55" fill="#8fb2cb"/><rect x="616.84" y="508.90" width="2.12" height="7.55" fill="#afcde2"/><rect x="622.32" y="508.90" width="2.37" height="7.55" fill="#86a9c2"/><rect x="624.70" y="508.90" width="2.02" height="7.55" fill="#86a9c2"/><rect x="626.72" y="508.90" width="2.02" height="7.55" fill="#8fb2cb"/><rect x="630.11" y="508.90" width="0.93" height="7.55" fill="#8fb2cb"/><rect x="631.45" y="508.90" width="1.21" height="7.55" fill="#86a9c2"/><rect x="637.61" y="508.90" width="0.80" height="7.55" fill="#afcde2"/><rect x="640.64" y="508.90" width="1.14" height="7.55" fill="#86a9c2"/><rect x="421.90" y="516.45" width="2.55" height="7.55" fill="#afcde2"/><rect x="424.45" y="516.45" width="1.86" height="7.55" fill="#a9c8de"/><rect x="426.31" y="516.45" width="2.31" height="7.55" fill="#86a9c2"/><rect x="428.61" y="516.45" width="1.54" height="7.55" fill="#a9c8de"/><rect x="430.16" y="516.45" width="1.44" height="7.55" fill="#8fb2cb"/><rect x="431.60" y="516.45" width="1.74" height="7.55" fill="#8fb2cb"/><rect x="435.21" y="516.45" width="0.84" height="7.55" fill="#a9c8de"/><rect x="438.60" y="516.45" width="1.09" height="7.55" fill="#afcde2"/><rect x="441.15" y="516.45" width="1.68" height="7.55" fill="#86a9c2"/><rect x="442.83" y="516.45" width="1.00" height="7.55" fill="#a9c8de"/><rect x="446.30" y="516.45" width="0.65" height="7.55" fill="#afcde2"/><rect x="446.95" y="516.45" width="0.47" height="7.55" fill="#afcde2"/><rect x="447.42" y="516.45" width="2.57" height="7.55" fill="#8fb2cb"/><rect x="449.99" y="516.45" width="1.41" height="7.55" fill="#86a9c2"/><rect x="453.42" y="516.45" width="2.49" height="7.55" fill="#afcde2"/><rect x="459.43" y="516.45" width="1.25" height="7.55" fill="#8fb2cb"/><rect x="460.68" y="516.45" width="2.48" height="7.55" fill="#8fb2cb"/><rect x="463.79" y="516.45" width="1.94" height="7.55" fill="#afcde2"/><rect x="465.73" y="516.45" width="2.16" height="7.55" fill="#a9c8de"/><rect x="467.88" y="516.45" width="1.06" height="7.55" fill="#a9c8de"/><rect x="468.94" y="516.45" width="2.45" height="7.55" fill="#8fb2cb"/><rect x="472.18" y="516.45" width="1.64" height="7.55" fill="#86a9c2"/><rect x="478.44" y="516.45" width="0.98" height="7.55" fill="#a9c8de"/><rect x="479.42" y="516.45" width="1.94" height="7.55" fill="#a9c8de"/><rect x="481.36" y="516.45" width="1.35" height="7.55" fill="#a9c8de"/><rect x="482.71" y="516.45" width="1.71" height="7.55" fill="#86a9c2"/><rect x="486.84" y="516.45" width="2.55" height="7.55" fill="#a9c8de"/><rect x="489.39" y="516.45" width="2.52" height="7.55" fill="#86a9c2"/><rect x="491.90" y="516.45" width="2.36" height="7.55" fill="#8fb2cb"/><rect x="499.95" y="516.45" width="0.91" height="7.55" fill="#8fb2cb"/><rect x="501.85" y="516.45" width="1.67" height="7.55" fill="#a9c8de"/><rect x="504.75" y="516.45" width="1.13" height="7.55" fill="#8fb2cb"/><rect x="507.54" y="516.45" width="0.90" height="7.55" fill="#8fb2cb"/><rect x="508.44" y="516.45" width="0.49" height="7.55" fill="#a9c8de"/><rect x="508.92" y="516.45" width="1.00" height="7.55" fill="#8fb2cb"/><rect x="509.93" y="516.45" width="1.81" height="7.55" fill="#86a9c2"/><rect x="513.73" y="516.45" width="1.09" height="7.55" fill="#86a9c2"/><rect x="516.69" y="516.45" width="2.04" height="7.55" fill="#8fb2cb"/><rect x="524.42" y="516.45" width="2.21" height="7.55" fill="#afcde2"/><rect x="526.63" y="516.45" width="0.94" height="7.55" fill="#a9c8de"/><rect x="528.78" y="516.45" width="2.25" height="7.55" fill="#a9c8de"/><rect x="531.48" y="516.45" width="1.29" height="7.55" fill="#afcde2"/><rect x="532.76" y="516.45" width="1.68" height="7.55" fill="#8fb2cb"/><rect x="534.45" y="516.45" width="1.53" height="7.55" fill="#86a9c2"/><rect x="535.97" y="516.45" width="1.55" height="7.55" fill="#8fb2cb"/><rect x="537.52" y="516.45" width="0.83" height="7.55" fill="#afcde2"/><rect x="542.06" y="516.45" width="2.27" height="7.55" fill="#8fb2cb"/><rect x="545.85" y="516.45" width="1.55" height="7.55" fill="#afcde2"/><rect x="547.40" y="516.45" width="1.50" height="7.55" fill="#a9c8de"/><rect x="548.90" y="516.45" width="0.72" height="7.55" fill="#8fb2cb"/><rect x="550.63" y="516.45" width="1.01" height="7.55" fill="#a9c8de"/><rect x="553.89" y="516.45" width="1.87" height="7.55" fill="#8fb2cb"/><rect x="555.75" y="516.45" width="1.97" height="7.55" fill="#8fb2cb"/><rect x="558.28" y="516.45" width="1.35" height="7.55" fill="#86a9c2"/><rect x="559.63" y="516.45" width="0.91" height="7.55" fill="#8fb2cb"/><rect x="561.87" y="516.45" width="1.76" height="7.55" fill="#afcde2"/><rect x="567.48" y="516.45" width="2.04" height="7.55" fill="#8fb2cb"/><rect x="573.33" y="516.45" width="2.26" height="7.55" fill="#8fb2cb"/><rect x="577.06" y="516.45" width="1.62" height="7.55" fill="#a9c8de"/><rect x="578.68" y="516.45" width="1.94" height="7.55" fill="#8fb2cb"/><rect x="580.63" y="516.45" width="0.44" height="7.55" fill="#8fb2cb"/><rect x="581.06" y="516.45" width="0.53" height="7.55" fill="#86a9c2"/><rect x="581.59" y="516.45" width="0.90" height="7.55" fill="#afcde2"/><rect x="582.50" y="516.45" width="0.54" height="7.55" fill="#86a9c2"/><rect x="583.04" y="516.45" width="2.16" height="7.55" fill="#8fb2cb"/><rect x="588.48" y="516.45" width="0.46" height="7.55" fill="#afcde2"/><rect x="588.95" y="516.45" width="1.39" height="7.55" fill="#a9c8de"/><rect x="592.13" y="516.45" width="1.61" height="7.55" fill="#8fb2cb"/><rect x="593.73" y="516.45" width="0.53" height="7.55" fill="#a9c8de"/><rect x="594.26" y="516.45" width="2.16" height="7.55" fill="#afcde2"/><rect x="596.42" y="516.45" width="1.89" height="7.55" fill="#afcde2"/><rect x="600.54" y="516.45" width="0.58" height="7.55" fill="#a9c8de"/><rect x="603.34" y="516.45" width="1.09" height="7.55" fill="#86a9c2"/><rect x="606.35" y="516.45" width="1.45" height="7.55" fill="#a9c8de"/><rect x="607.80" y="516.45" width="0.68" height="7.55" fill="#a9c8de"/><rect x="608.48" y="516.45" width="2.56" height="7.55" fill="#a9c8de"/><rect x="611.04" y="516.45" width="0.70" height="7.55" fill="#86a9c2"/><rect x="615.42" y="516.45" width="1.81" height="7.55" fill="#8fb2cb"/><rect x="617.23" y="516.45" width="2.14" height="7.55" fill="#86a9c2"/><rect x="621.64" y="516.45" width="0.79" height="7.55" fill="#afcde2"/><rect x="622.43" y="516.45" width="2.35" height="7.55" fill="#86a9c2"/><rect x="625.72" y="516.45" width="1.66" height="7.55" fill="#86a9c2"/><rect x="629.51" y="516.45" width="1.19" height="7.55" fill="#afcde2"/><rect x="630.70" y="516.45" width="1.51" height="7.55" fill="#8fb2cb"/><rect x="632.21" y="516.45" width="0.94" height="7.55" fill="#afcde2"/><rect x="633.15" y="516.45" width="1.82" height="7.55" fill="#afcde2"/><rect x="636.04" y="516.45" width="1.18" height="7.55" fill="#a9c8de"/><rect x="638.39" y="516.45" width="1.93" height="7.55" fill="#86a9c2"/><rect x="640.32" y="516.45" width="1.14" height="7.55" fill="#afcde2"/><rect x="641.47" y="516.45" width="0.46" height="7.55" fill="#86a9c2"/><rect x="641.93" y="516.45" width="0.93" height="7.55" fill="#86a9c2"/><rect x="642.86" y="516.45" width="0.69" height="7.55" fill="#8fb2cb"/><rect x="643.54" y="516.45" width="2.33" height="7.55" fill="#86a9c2"/><rect x="645.87" y="516.45" width="0.45" height="7.55" fill="#afcde2"/><rect x="422.04" y="508.90" width="0.53" height="7.55" fill="#5d86a6" fill-opacity="0.40"/><rect x="422.26" y="516.45" width="0.54" height="7.55" fill="#5d86a6" fill-opacity="0.46"/><rect x="428.25" y="516.45" width="0.43" height="7.55" fill="#5d86a6" fill-opacity="0.51"/><rect x="428.67" y="508.90" width="0.31" height="7.55" fill="#5d86a6" fill-opacity="0.52"/><rect x="429.15" y="516.45" width="0.48" height="7.55" fill="#5d86a6" fill-opacity="0.45"/><rect x="430.57" y="516.45" width="0.53" height="7.55" fill="#5d86a6" fill-opacity="0.42"/><rect x="431.49" y="508.90" width="0.52" height="15.10" fill="#5d86a6" fill-opacity="0.37"/><rect x="432.89" y="516.45" width="0.31" height="7.55" fill="#5d86a6" fill-opacity="0.46"/><rect x="433.83" y="516.45" width="0.62" height="7.55" fill="#5d86a6" fill-opacity="0.41"/><rect x="435.79" y="516.45" width="0.55" height="7.55" fill="#5d86a6" fill-opacity="0.32"/><rect x="443.47" y="516.45" width="0.31" height="7.55" fill="#5d86a6" fill-opacity="0.34"/><rect x="445.39" y="508.90" width="0.46" height="15.10" fill="#5d86a6" fill-opacity="0.40"/><rect x="447.24" y="516.45" width="0.70" height="7.55" fill="#5d86a6" fill-opacity="0.49"/><rect x="449.51" y="508.90" width="0.34" height="7.55" fill="#5d86a6" fill-opacity="0.32"/><rect x="449.80" y="516.45" width="0.61" height="7.55" fill="#5d86a6" fill-opacity="0.36"/><rect x="451.13" y="516.45" width="0.72" height="7.55" fill="#5d86a6" fill-opacity="0.28"/><rect x="451.56" y="516.45" width="0.60" height="7.55" fill="#5d86a6" fill-opacity="0.54"/><rect x="452.00" y="508.90" width="0.79" height="7.55" fill="#5d86a6" fill-opacity="0.45"/><rect x="459.68" y="508.90" width="0.31" height="15.10" fill="#5d86a6" fill-opacity="0.48"/><rect x="459.88" y="516.45" width="0.76" height="7.55" fill="#5d86a6" fill-opacity="0.46"/><rect x="461.27" y="508.90" width="0.64" height="7.55" fill="#5d86a6" fill-opacity="0.44"/><rect x="462.32" y="508.90" width="0.73" height="15.10" fill="#5d86a6" fill-opacity="0.42"/><rect x="465.84" y="508.90" width="0.75" height="7.55" fill="#5d86a6" fill-opacity="0.33"/><rect x="467.40" y="516.45" width="0.49" height="7.55" fill="#5d86a6" fill-opacity="0.30"/><rect x="469.66" y="508.90" width="0.44" height="15.10" fill="#5d86a6" fill-opacity="0.50"/><rect x="475.30" y="516.45" width="0.40" height="7.55" fill="#5d86a6" fill-opacity="0.54"/><rect x="475.57" y="516.45" width="0.66" height="7.55" fill="#5d86a6" fill-opacity="0.34"/><rect x="482.56" y="508.90" width="0.46" height="15.10" fill="#5d86a6" fill-opacity="0.32"/><rect x="484.76" y="508.90" width="0.69" height="15.10" fill="#5d86a6" fill-opacity="0.51"/><rect x="484.99" y="516.45" width="0.59" height="7.55" fill="#5d86a6" fill-opacity="0.31"/><rect x="487.23" y="508.90" width="0.43" height="15.10" fill="#5d86a6" fill-opacity="0.39"/><rect x="488.31" y="508.90" width="0.71" height="7.55" fill="#5d86a6" fill-opacity="0.46"/><rect x="489.18" y="516.45" width="0.53" height="7.55" fill="#5d86a6" fill-opacity="0.49"/><rect x="489.24" y="508.90" width="0.54" height="15.10" fill="#5d86a6" fill-opacity="0.53"/><rect x="490.86" y="508.90" width="0.56" height="7.55" fill="#5d86a6" fill-opacity="0.51"/><rect x="491.13" y="516.45" width="0.43" height="7.55" fill="#5d86a6" fill-opacity="0.50"/><rect x="491.81" y="508.90" width="0.35" height="7.55" fill="#5d86a6" fill-opacity="0.38"/><rect x="494.54" y="508.90" width="0.35" height="15.10" fill="#5d86a6" fill-opacity="0.27"/><rect x="494.91" y="508.90" width="0.33" height="7.55" fill="#5d86a6" fill-opacity="0.54"/><rect x="513.95" y="508.90" width="0.56" height="7.55" fill="#5d86a6" fill-opacity="0.32"/><rect x="519.44" y="516.45" width="0.50" height="7.55" fill="#5d86a6" fill-opacity="0.50"/><rect x="520.99" y="508.90" width="0.75" height="15.10" fill="#5d86a6" fill-opacity="0.30"/><rect x="522.36" y="508.90" width="0.78" height="15.10" fill="#5d86a6" fill-opacity="0.49"/><rect x="523.58" y="516.45" width="0.78" height="7.55" fill="#5d86a6" fill-opacity="0.35"/><rect x="523.93" y="516.45" width="0.42" height="7.55" fill="#5d86a6" fill-opacity="0.51"/><rect x="525.17" y="508.90" width="0.79" height="7.55" fill="#5d86a6" fill-opacity="0.42"/><rect x="533.72" y="516.45" width="0.54" height="7.55" fill="#5d86a6" fill-opacity="0.26"/><rect x="534.70" y="508.90" width="0.34" height="15.10" fill="#5d86a6" fill-opacity="0.50"/><rect x="534.75" y="508.90" width="0.62" height="7.55" fill="#5d86a6" fill-opacity="0.54"/><rect x="535.37" y="508.90" width="0.33" height="15.10" fill="#5d86a6" fill-opacity="0.50"/><rect x="536.69" y="508.90" width="0.79" height="15.10" fill="#5d86a6" fill-opacity="0.34"/><rect x="537.18" y="508.90" width="0.61" height="7.55" fill="#5d86a6" fill-opacity="0.52"/><rect x="540.46" y="516.45" width="0.65" height="7.55" fill="#5d86a6" fill-opacity="0.51"/><rect x="541.10" y="516.45" width="0.45" height="7.55" fill="#5d86a6" fill-opacity="0.51"/><rect x="543.25" y="508.90" width="0.58" height="7.55" fill="#5d86a6" fill-opacity="0.52"/><rect x="544.16" y="516.45" width="0.46" height="7.55" fill="#5d86a6" fill-opacity="0.45"/><rect x="546.41" y="508.90" width="0.41" height="15.10" fill="#5d86a6" fill-opacity="0.35"/><rect x="546.76" y="516.45" width="0.37" height="7.55" fill="#5d86a6" fill-opacity="0.32"/><rect x="549.85" y="516.45" width="0.58" height="7.55" fill="#5d86a6" fill-opacity="0.44"/><rect x="550.68" y="508.90" width="0.61" height="7.55" fill="#5d86a6" fill-opacity="0.53"/><rect x="551.16" y="508.90" width="0.60" height="7.55" fill="#5d86a6" fill-opacity="0.37"/><rect x="560.81" y="508.90" width="0.41" height="7.55" fill="#5d86a6" fill-opacity="0.26"/><rect x="560.85" y="508.90" width="0.73" height="15.10" fill="#5d86a6" fill-opacity="0.41"/><rect x="570.93" y="508.90" width="0.30" height="7.55" fill="#5d86a6" fill-opacity="0.41"/><rect x="572.67" y="508.90" width="0.72" height="15.10" fill="#5d86a6" fill-opacity="0.35"/><rect x="575.82" y="516.45" width="0.53" height="7.55" fill="#5d86a6" fill-opacity="0.42"/><rect x="578.54" y="516.45" width="0.36" height="7.55" fill="#5d86a6" fill-opacity="0.41"/><rect x="581.95" y="516.45" width="0.38" height="7.55" fill="#5d86a6" fill-opacity="0.35"/><rect x="582.27" y="508.90" width="0.36" height="15.10" fill="#5d86a6" fill-opacity="0.31"/><rect x="584.31" y="508.90" width="0.38" height="15.10" fill="#5d86a6" fill-opacity="0.44"/><rect x="586.38" y="516.45" width="0.38" height="7.55" fill="#5d86a6" fill-opacity="0.51"/><rect x="588.17" y="516.45" width="0.78" height="7.55" fill="#5d86a6" fill-opacity="0.40"/><rect x="592.57" y="508.90" width="0.63" height="7.55" fill="#5d86a6" fill-opacity="0.39"/><rect x="593.06" y="508.90" width="0.79" height="7.55" fill="#5d86a6" fill-opacity="0.43"/><rect x="593.18" y="508.90" width="0.35" height="7.55" fill="#5d86a6" fill-opacity="0.50"/><rect x="593.53" y="516.45" width="0.47" height="7.55" fill="#5d86a6" fill-opacity="0.30"/><rect x="593.98" y="516.45" width="0.79" height="7.55" fill="#5d86a6" fill-opacity="0.44"/><rect x="594.00" y="516.45" width="0.74" height="7.55" fill="#5d86a6" fill-opacity="0.30"/><rect x="596.59" y="508.90" width="0.53" height="15.10" fill="#5d86a6" fill-opacity="0.49"/><rect x="597.41" y="508.90" width="0.49" height="7.55" fill="#5d86a6" fill-opacity="0.31"/><rect x="601.71" y="508.90" width="0.72" height="7.55" fill="#5d86a6" fill-opacity="0.30"/><rect x="603.48" y="516.45" width="0.70" height="7.55" fill="#5d86a6" fill-opacity="0.29"/><rect x="605.01" y="508.90" width="0.65" height="7.55" fill="#5d86a6" fill-opacity="0.52"/><rect x="606.20" y="508.90" width="0.32" height="15.10" fill="#5d86a6" fill-opacity="0.49"/><rect x="608.00" y="508.90" width="0.76" height="7.55" fill="#5d86a6" fill-opacity="0.30"/><rect x="610.86" y="516.45" width="0.48" height="7.55" fill="#5d86a6" fill-opacity="0.46"/><rect x="613.77" y="508.90" width="0.76" height="7.55" fill="#5d86a6" fill-opacity="0.30"/><rect x="615.40" y="508.90" width="0.59" height="7.55" fill="#5d86a6" fill-opacity="0.48"/><rect x="615.64" y="508.90" width="0.77" height="7.55" fill="#5d86a6" fill-opacity="0.30"/><rect x="622.03" y="508.90" width="0.30" height="7.55" fill="#5d86a6" fill-opacity="0.37"/><rect x="627.76" y="508.90" width="0.51" height="7.55" fill="#5d86a6" fill-opacity="0.36"/><rect x="629.51" y="508.90" width="0.67" height="15.10" fill="#5d86a6" fill-opacity="0.44"/><rect x="630.67" y="508.90" width="0.46" height="7.55" fill="#5d86a6" fill-opacity="0.38"/><rect x="636.31" y="508.90" width="0.38" height="7.55" fill="#5d86a6" fill-opacity="0.54"/><rect x="636.66" y="508.90" width="0.67" height="15.10" fill="#5d86a6" fill-opacity="0.52"/><rect x="639.58" y="508.90" width="0.78" height="15.10" fill="#5d86a6" fill-opacity="0.31"/><rect x="641.12" y="508.90" width="0.76" height="7.55" fill="#5d86a6" fill-opacity="0.41"/><rect x="642.26" y="508.90" width="0.58" height="7.55" fill="#5d86a6" fill-opacity="0.38"/><rect x="645.48" y="508.90" width="0.52" height="7.55" fill="#5d86a6" fill-opacity="0.46"/><rect x="423.24" y="508.90" width="0.78" height="15.10" fill="#fff" fill-opacity="0.74"/><rect x="424.59" y="508.90" width="0.64" height="15.10" fill="#fff" fill-opacity="0.65"/><rect x="440.70" y="508.90" width="0.60" height="15.10" fill="#fff" fill-opacity="0.71"/><rect x="441.17" y="508.90" width="0.52" height="15.10" fill="#fff" fill-opacity="0.56"/><rect x="445.82" y="508.90" width="0.55" height="15.10" fill="#fff" fill-opacity="0.81"/><rect x="446.50" y="508.90" width="0.40" height="15.10" fill="#fff" fill-opacity="0.88"/><rect x="454.57" y="508.90" width="0.50" height="15.10" fill="#fff" fill-opacity="0.88"/><rect x="456.13" y="508.90" width="0.43" height="15.10" fill="#fff" fill-opacity="0.69"/><rect x="458.80" y="508.90" width="0.66" height="15.10" fill="#fff" fill-opacity="0.85"/><rect x="461.03" y="508.90" width="0.55" height="15.10" fill="#fff" fill-opacity="0.73"/><rect x="471.77" y="508.90" width="0.61" height="15.10" fill="#fff" fill-opacity="0.77"/><rect x="481.19" y="508.90" width="0.76" height="15.10" fill="#fff" fill-opacity="0.82"/><rect x="486.62" y="508.90" width="0.46" height="15.10" fill="#fff" fill-opacity="0.77"/><rect x="497.10" y="508.90" width="0.48" height="15.10" fill="#fff" fill-opacity="0.66"/><rect x="499.12" y="508.90" width="0.49" height="15.10" fill="#fff" fill-opacity="0.82"/><rect x="499.51" y="508.90" width="0.78" height="15.10" fill="#fff" fill-opacity="0.80"/><rect x="514.39" y="508.90" width="0.49" height="15.10" fill="#fff" fill-opacity="0.82"/><rect x="517.35" y="508.90" width="0.63" height="15.10" fill="#fff" fill-opacity="0.59"/><rect x="518.24" y="508.90" width="0.55" height="15.10" fill="#fff" fill-opacity="0.72"/><rect x="523.77" y="508.90" width="0.76" height="15.10" fill="#fff" fill-opacity="0.62"/><rect x="529.13" y="508.90" width="0.68" height="15.10" fill="#fff" fill-opacity="0.61"/><rect x="536.50" y="508.90" width="0.68" height="15.10" fill="#fff" fill-opacity="0.76"/><rect x="542.29" y="508.90" width="0.48" height="15.10" fill="#fff" fill-opacity="0.51"/><rect x="542.80" y="508.90" width="0.61" height="15.10" fill="#fff" fill-opacity="0.52"/><rect x="545.91" y="508.90" width="0.54" height="15.10" fill="#fff" fill-opacity="0.51"/><rect x="557.59" y="508.90" width="0.64" height="15.10" fill="#fff" fill-opacity="0.58"/><rect x="564.51" y="508.90" width="0.52" height="15.10" fill="#fff" fill-opacity="0.64"/><rect x="572.13" y="508.90" width="0.73" height="15.10" fill="#fff" fill-opacity="0.54"/><rect x="572.71" y="508.90" width="0.54" height="15.10" fill="#fff" fill-opacity="0.51"/><rect x="584.13" y="508.90" width="0.56" height="15.10" fill="#fff" fill-opacity="0.59"/><rect x="591.53" y="508.90" width="0.50" height="15.10" fill="#fff" fill-opacity="0.60"/><rect x="594.23" y="508.90" width="0.50" height="15.10" fill="#fff" fill-opacity="0.77"/><rect x="594.44" y="508.90" width="0.59" height="15.10" fill="#fff" fill-opacity="0.65"/><rect x="611.06" y="508.90" width="0.48" height="15.10" fill="#fff" fill-opacity="0.61"/>
<text transform="translate(405.7 455.5) scale(1.05 1)" text-anchor="end" font-family="Liberation Sans, sans-serif" font-size="6.9px" fill="#666">0.0000</text>
<text transform="translate(405.7 444.4) scale(1.05 1)" text-anchor="end" font-family="Liberation Sans, sans-serif" font-size="6.9px" fill="#666">0.0025</text>
<text transform="translate(405.7 433.3) scale(1.05 1)" text-anchor="end" font-family="Liberation Sans, sans-serif" font-size="6.9px" fill="#666">0.0050</text>
<text transform="translate(405.7 422.2) scale(1.05 1)" text-anchor="end" font-family="Liberation Sans, sans-serif" font-size="6.9px" fill="#666">0.0075</text>
<text transform="translate(405.7 411.1) scale(1.05 1)" text-anchor="end" font-family="Liberation Sans, sans-serif" font-size="6.9px" fill="#666">0.0100</text>
<text x="405.7" y="506.4" text-anchor="end" font-family="Liberation Sans, sans-serif" font-size="6.9px" fill="#666">0.0</text>
<text x="405.7" y="493.7" text-anchor="end" font-family="Liberation Sans, sans-serif" font-size="6.9px" fill="#666">0.1</text>
<text x="405.7" y="480.9" text-anchor="end" font-family="Liberation Sans, sans-serif" font-size="6.9px" fill="#666">0.2</text>
<text x="405.7" y="468.2" text-anchor="end" font-family="Liberation Sans, sans-serif" font-size="6.9px" fill="#666">0.3</text>
<text x="421.9" y="534.2" text-anchor="middle" font-family="Liberation Sans, sans-serif" font-size="6.9px" fill="#666">0</text>
<text x="467.7" y="534.2" text-anchor="middle" font-family="Liberation Sans, sans-serif" font-size="6.9px" fill="#666">10</text>
<text x="513.5" y="534.2" text-anchor="middle" font-family="Liberation Sans, sans-serif" font-size="6.9px" fill="#666">20</text>
<text x="559.3" y="534.2" text-anchor="middle" font-family="Liberation Sans, sans-serif" font-size="6.9px" fill="#666">30</text>
<text x="605.1" y="534.2" text-anchor="middle" font-family="Liberation Sans, sans-serif" font-size="6.9px" fill="#666">40</text>
<text x="650.9" y="534.2" text-anchor="middle" font-family="Liberation Sans, sans-serif" font-size="6.9px" fill="#666">50</text>
<path d="M409.3 406.9V454.7M409.3 457.4V505.6M409.3 453.1h-1.6M409.3 442.0h-1.6M409.3 430.9h-1.6M409.3 419.8h-1.6M409.3 408.7h-1.6M409.3 504.0h-1.6M409.3 491.3h-1.6M409.3 478.5h-1.6M409.3 465.8h-1.6M409.3 524.4H676.1M421.9 524.4v1.6M467.7 524.4v1.6M513.5 524.4v1.6M559.3 524.4v1.6M605.1 524.4v1.6M650.9 524.4v1.6" stroke="#222" stroke-width="0.9" fill="none"/>
<text transform="translate(376.0 430.6) scale(1.22 1) rotate(-90)" text-anchor="middle" font-family="Liberation Sans, sans-serif" font-weight="bold" font-size="6.6px" fill="#111">π</text>
<text transform="translate(375.4 481.2) scale(1.22 1) rotate(-90)" text-anchor="middle" font-family="Liberation Sans, sans-serif" font-weight="bold" font-size="7.4px" fill="#111">F<tspan font-size="4.6px" dy="2.2">ST</tspan></text>
<text transform="translate(361.5 459.0) scale(1.22 1) rotate(-90)" text-anchor="middle" font-family="Liberation Sans, sans-serif" font-weight="bold" font-size="8.13px" fill="#111">Chromosome V</text>
<text x="343.6" y="406.7" font-family="Liberation Sans, sans-serif" font-weight="bold" font-size="19px" fill="#111">g</text>
<path d="M421.90 611.90L421.90 596.64L422.30 600.32L422.70 603.62L423.10 601.94L423.50 602.18L423.91 600.77L424.31 599.08L424.71 599.87L425.11 600.88L425.51 597.95L425.91 600.25L426.31 600.04L426.71 602.24L427.11 600.42L427.52 598.22L427.92 601.82L428.32 599.29L428.72 594.15L429.12 600.06L429.52 593.66L429.92 596.98L430.32 601.18L430.72 601.01L431.12 601.22L431.53 602.28L431.93 603.65L432.33 600.83L432.73 599.59L433.13 601.68L433.53 597.20L433.93 600.85L434.33 601.20L434.73 599.31L435.14 598.78L435.54 599.47L435.94 599.80L436.34 600.56L436.74 600.73L437.14 599.39L437.54 594.53L437.94 601.04L438.34 598.36L438.75 599.19L439.15 596.06L439.55 598.10L439.95 598.41L440.35 598.97L440.75 596.60L441.15 598.31L441.55 600.65L441.95 599.72L442.35 593.49L442.76 598.36L443.16 595.20L443.56 598.71L443.96 602.17L444.36 600.88L444.76 598.04L445.16 601.33L445.56 598.92L445.96 595.13L446.37 597.72L446.77 598.32L447.17 596.95L447.57 598.36L447.97 597.53L448.37 599.55L448.77 599.94L449.17 598.51L449.57 599.55L449.98 593.36L450.38 599.91L450.78 598.83L451.18 599.04L451.58 598.05L451.98 599.70L452.38 599.51L452.78 599.92L453.18 600.97L453.58 599.53L453.99 598.99L454.39 597.89L454.79 597.98L455.19 598.84L455.59 601.75L455.99 598.09L456.39 596.43L456.79 598.65L457.19 600.49L457.60 599.05L458.00 592.84L458.40 598.47L458.80 606.23L459.20 598.01L459.60 597.13L460.00 599.47L460.40 600.31L460.80 601.48L461.21 600.80L461.61 597.65L462.01 600.19L462.41 594.61L462.81 598.89L463.21 594.36L463.61 600.24L464.01 601.21L464.41 601.75L464.81 603.14L465.22 600.84L465.62 602.92L466.02 601.83L466.42 605.18L466.82 604.14L467.22 602.95L467.62 600.08L468.02 602.06L468.42 600.77L468.83 601.02L469.23 599.57L469.63 601.87L470.03 602.53L470.43 602.28L470.83 601.75L471.23 600.90L471.63 599.90L472.03 600.93L472.44 603.64L472.84 600.72L473.24 603.44L473.64 602.95L474.04 602.47L474.44 600.31L474.84 597.78L475.24 601.89L475.64 601.13L476.04 603.12L476.45 601.38L476.85 601.43L477.25 600.10L477.65 599.95L478.05 596.94L478.45 601.59L478.85 600.60L479.25 601.46L479.65 601.21L480.06 601.56L480.46 603.11L480.86 600.38L481.26 603.54L481.66 602.74L482.06 602.92L482.46 603.82L482.86 598.74L483.26 601.66L483.67 602.57L484.07 597.92L484.47 601.43L484.87 602.78L485.27 604.44L485.67 602.10L486.07 602.52L486.47 605.49L486.87 603.73L487.27 603.28L487.68 602.44L488.08 600.97L488.48 604.30L488.88 604.14L489.28 603.82L489.68 603.24L490.08 597.81L490.48 586.51L490.88 602.28L491.29 600.77L491.69 602.04L492.09 602.20L492.49 600.94L492.89 602.38L493.29 600.05L493.69 602.55L494.09 601.31L494.49 602.24L494.90 600.77L495.30 599.27L495.70 597.74L496.10 600.34L496.50 600.85L496.90 601.68L497.30 599.52L497.70 601.41L498.10 600.82L498.51 601.48L498.91 600.94L499.31 601.22L499.71 599.99L500.11 599.42L500.51 599.52L500.91 602.42L501.31 602.99L501.71 603.53L502.11 604.23L502.52 601.74L502.92 603.30L503.32 602.59L503.72 602.53L504.12 601.31L504.52 605.44L504.92 604.33L505.32 602.83L505.72 602.67L506.13 600.09L506.53 602.11L506.93 598.78L507.33 599.54L507.73 603.58L508.13 602.38L508.53 604.04L508.93 603.65L509.33 601.97L509.74 603.94L510.14 604.42L510.54 603.83L510.94 604.50L511.34 603.92L511.74 605.13L512.14 604.99L512.54 606.34L512.94 606.28L513.34 605.89L513.75 603.66L514.15 605.27L514.55 605.23L514.95 605.26L515.35 603.37L515.75 604.84L516.15 604.48L516.55 605.24L516.95 601.37L517.36 603.29L517.76 602.58L518.16 603.51L518.56 604.73L518.96 602.75L519.36 603.92L519.76 602.78L520.16 604.79L520.56 603.29L520.97 600.65L521.37 602.39L521.77 599.68L522.17 604.01L522.57 601.87L522.97 604.50L523.37 604.00L523.77 600.31L524.17 604.65L524.57 603.65L524.98 603.87L525.38 604.80L525.78 601.69L526.18 604.31L526.58 603.22L526.98 602.88L527.38 601.87L527.78 604.06L528.18 604.18L528.59 603.59L528.99 604.03L529.39 603.51L529.79 603.74L530.19 601.26L530.59 600.88L530.99 603.24L531.39 600.72L531.79 604.86L532.20 603.48L532.60 603.93L533.00 602.73L533.40 605.09L533.80 605.07L534.20 604.98L534.60 602.53L535.00 603.39L535.40 601.23L535.80 604.10L536.21 602.80L536.61 602.97L537.01 597.74L537.41 603.02L537.81 604.66L538.21 607.36L538.61 605.44L539.01 605.44L539.41 604.74L539.82 604.38L540.22 604.14L540.62 604.15L541.02 603.07L541.42 602.81L541.82 603.91L542.22 604.26L542.62 603.57L543.02 601.04L543.43 603.19L543.83 601.78L544.23 600.01L544.63 602.26L545.03 603.90L545.43 603.03L545.83 603.66L546.23 603.75L546.63 602.96L547.03 600.93L547.44 602.73L547.84 604.58L548.24 603.57L548.64 602.87L549.04 600.33L549.44 601.00L549.84 592.06L550.24 602.01L550.64 601.76L551.05 602.86L551.45 602.88L551.85 602.84L552.25 604.98L552.65 604.60L553.05 605.47L553.45 603.44L553.85 604.06L554.25 603.98L554.66 605.29L555.06 601.36L555.46 602.11L555.86 603.23L556.26 604.29L556.66 603.73L557.06 603.22L557.46 603.05L557.86 604.62L558.26 603.31L558.67 603.39L559.07 603.70L559.47 601.59L559.87 602.84L560.27 603.16L560.67 603.46L561.07 602.50L561.47 602.89L561.87 600.84L562.28 602.79L562.68 601.42L563.08 597.33L563.48 603.35L563.88 602.44L564.28 601.00L564.68 604.34L565.08 604.96L565.48 602.24L565.89 599.60L566.29 601.38L566.69 601.06L567.09 601.22L567.49 602.83L567.89 600.00L568.29 598.24L568.69 596.96L569.09 600.66L569.50 596.77L569.90 608.74L570.30 600.97L570.70 603.65L571.10 602.16L571.50 602.89L571.90 598.36L572.30 602.29L572.70 603.65L573.10 602.71L573.51 601.82L573.91 601.74L574.31 600.02L574.71 602.10L575.11 599.13L575.51 603.34L575.91 603.31L576.31 597.02L576.71 596.38L577.12 596.95L577.52 599.04L577.92 599.16L578.32 600.15L578.72 596.95L579.12 601.56L579.52 602.72L579.92 603.13L580.32 603.04L580.73 599.70L581.13 601.51L581.53 601.50L581.93 599.07L582.33 598.01L582.73 603.56L583.13 602.74L583.53 597.17L583.93 594.50L584.33 599.91L584.74 598.34L585.14 601.57L585.54 599.42L585.94 597.87L586.34 597.78L586.74 599.40L587.14 601.60L587.54 600.01L587.94 603.17L588.35 602.11L588.75 603.26L589.15 602.96L589.55 600.59L589.95 599.85L590.35 590.85L590.75 600.17L591.15 606.02L591.55 602.59L591.96 602.61L592.36 596.81L592.76 603.15L593.16 601.81L593.56 602.78L593.96 597.49L594.36 601.66L594.76 597.89L595.16 599.01L595.56 606.72L595.97 601.12L596.37 598.93L596.77 597.22L597.17 600.86L597.57 598.04L597.97 601.19L598.37 600.64L598.77 600.92L599.17 603.92L599.58 603.22L599.98 598.61L600.38 602.60L600.78 602.22L601.18 602.94L601.58 601.16L601.98 601.73L602.38 602.80L602.78 599.92L603.19 600.07L603.59 600.17L603.99 597.85L604.39 599.40L604.79 591.22L605.19 599.58L605.59 599.27L605.99 584.85L606.39 599.29L606.79 601.51L607.20 600.14L607.60 599.58L608.00 587.55L608.40 596.07L608.80 600.12L609.20 599.57L609.60 599.95L610.00 599.85L610.40 600.87L610.81 598.75L611.21 599.29L611.61 598.33L612.01 598.45L612.41 598.75L612.81 596.48L613.21 601.04L613.61 600.01L614.01 602.05L614.42 601.55L614.82 603.51L615.22 604.36L615.62 606.84L616.02 603.60L616.42 603.47L616.82 599.64L617.22 602.47L617.62 598.21L618.02 594.08L618.43 591.06L618.83 601.50L619.23 602.63L619.63 603.81L620.03 603.66L620.43 600.16L620.83 599.44L621.23 598.33L621.63 598.95L622.04 603.06L622.44 604.32L622.84 604.67L623.24 603.77L623.64 596.34L624.04 606.67L624.44 603.85L624.84 602.01L625.24 604.05L625.65 599.91L626.05 600.35L626.45 599.59L626.85 603.50L627.25 603.41L627.65 601.07L628.05 604.40L628.45 604.08L628.85 599.24L629.25 604.01L629.66 604.60L630.06 604.08L630.46 601.73L630.86 600.60L631.26 601.65L631.66 600.41L632.06 603.00L632.46 599.77L632.86 596.59L633.27 603.65L633.67 601.22L634.07 601.76L634.47 602.56L634.87 606.66L634.87 611.90Z" fill="#4774ba"/>
<path d="M421.90 611.90L421.90 608.66L422.30 608.12L422.70 606.10L423.10 608.41L423.50 607.25L423.91 608.13L424.31 608.72L424.71 608.55L425.11 607.00L425.51 608.10L425.91 608.89L426.31 608.58L426.71 608.71L427.11 609.28L427.52 608.75L427.92 609.08L428.32 608.45L428.72 608.62L429.12 608.74L429.52 608.53L429.92 608.59L430.32 608.23L430.72 608.70L431.12 609.35L431.53 608.60L431.93 608.00L432.33 608.92L432.73 605.46L433.13 608.92L433.53 608.62L433.93 608.99L434.33 608.82L434.73 608.22L435.14 608.32L435.54 607.36L435.94 608.18L436.34 606.52L436.74 607.95L437.14 606.32L437.54 608.29L437.94 606.84L438.34 607.52L438.75 608.53L439.15 607.26L439.55 608.61L439.95 606.82L440.35 607.43L440.75 606.91L441.15 608.32L441.55 607.81L441.95 607.36L442.35 607.39L442.76 608.12L443.16 608.33L443.56 608.45L443.96 607.16L444.36 608.08L444.76 608.01L445.16 608.36L445.56 608.84L445.96 608.17L446.37 608.46L446.77 607.72L447.17 608.49L447.57 608.69L447.97 608.07L448.37 608.65L448.77 609.13L449.17 608.67L449.57 608.78L449.98 607.39L450.38 607.89L450.78 608.95L451.18 608.62L451.58 606.77L451.98 608.16L452.38 606.82L452.78 609.05L453.18 607.78L453.58 605.18L453.99 607.82L454.39 606.79L454.79 608.08L455.19 607.97L455.59 606.04L455.99 606.71L456.39 604.07L456.79 607.05L457.19 607.26L457.60 608.49L458.00 608.82L458.40 609.04L458.80 608.62L459.20 608.72L459.60 608.50L460.00 608.58L460.40 608.33L460.80 607.97L461.21 607.29L461.61 607.73L462.01 608.50L462.41 608.46L462.81 609.29L463.21 608.95L463.61 608.88L464.01 609.00L464.41 607.68L464.81 609.03L465.22 607.62L465.62 607.63L466.02 607.53L466.42 608.23L466.82 608.45L467.22 607.46L467.62 607.16L468.02 606.35L468.42 608.85L468.83 606.92L469.23 606.44L469.63 608.59L470.03 608.51L470.43 607.86L470.83 608.15L471.23 608.75L471.63 608.87L472.03 609.23L472.44 609.48L472.84 608.99L473.24 609.33L473.64 609.35L474.04 609.25L474.44 608.68L474.84 607.68L475.24 608.35L475.64 608.54L476.04 607.56L476.45 608.62L476.85 608.94L477.25 608.39L477.65 608.77L478.05 609.00L478.45 608.95L478.85 607.75L479.25 609.38L479.65 609.55L480.06 608.93L480.46 608.64L480.86 608.47L481.26 609.04L481.66 608.56L482.06 608.99L482.46 609.24L482.86 609.19L483.26 608.91L483.67 608.01L484.07 608.05L484.47 607.47L484.87 608.81L485.27 608.81L485.67 607.17L486.07 607.83L486.47 608.32L486.87 608.21L487.27 608.56L487.68 608.30L488.08 608.47L488.48 607.98L488.88 607.16L489.28 608.57L489.68 608.07L490.08 607.67L490.48 608.48L490.88 608.57L491.29 605.72L491.69 608.45L492.09 607.38L492.49 608.34L492.89 608.76L493.29 607.95L493.69 608.96L494.09 608.27L494.49 608.78L494.90 608.95L495.30 608.62L495.70 607.94L496.10 608.57L496.50 606.23L496.90 608.62L497.30 608.89L497.70 606.58L498.10 608.34L498.51 604.49L498.91 608.60L499.31 608.00L499.71 604.62L500.11 608.51L500.51 608.12L500.91 605.59L501.31 607.40L501.71 607.20L502.11 607.34L502.52 607.65L502.92 607.64L503.32 607.85L503.72 607.96L504.12 608.43L504.52 606.40L504.92 608.19L505.32 607.93L505.72 608.37L506.13 608.98L506.53 608.92L506.93 608.43L507.33 606.39L507.73 608.38L508.13 607.55L508.53 607.58L508.93 608.97L509.33 608.42L509.74 608.06L510.14 608.98L510.54 609.43L510.94 607.87L511.34 608.01L511.74 608.25L512.14 608.40L512.54 608.76L512.94 608.40L513.34 608.22L513.75 609.14L514.15 608.31L514.55 606.67L514.95 607.09L515.35 607.63L515.75 608.55L516.15 608.76L516.55 607.93L516.95 608.47L517.36 608.46L517.76 608.97L518.16 607.11L518.56 608.55L518.96 607.57L519.36 608.98L519.76 606.39L520.16 608.38L520.56 608.08L520.97 608.84L521.37 609.15L521.77 609.33L522.17 609.21L522.57 608.69L522.97 608.92L523.37 609.19L523.77 608.69L524.17 608.67L524.57 607.44L524.98 608.34L525.38 608.45L525.78 607.75L526.18 609.58L526.58 609.19L526.98 608.93L527.38 608.81L527.78 609.15L528.18 609.09L528.59 608.61L528.99 608.69L529.39 609.34L529.79 608.23L530.19 608.35L530.59 609.12L530.99 608.75L531.39 606.97L531.79 609.57L532.20 609.45L532.60 608.20L533.00 608.63L533.40 608.54L533.80 609.34L534.20 608.62L534.60 608.04L535.00 608.77L535.40 606.89L535.80 608.59L536.21 609.27L536.61 608.58L537.01 608.46L537.41 608.55L537.81 608.59L538.21 608.66L538.61 609.28L539.01 608.56L539.41 609.12L539.82 609.13L540.22 609.28L540.62 609.60L541.02 609.27L541.42 608.52L541.82 606.78L542.22 607.62L542.62 607.54L543.02 607.62L543.43 606.17L543.83 608.27L544.23 608.26L544.63 608.27L545.03 608.86L545.43 609.03L545.83 608.93L546.23 608.80L546.63 609.23L547.03 609.31L547.44 609.08L547.84 609.13L548.24 608.64L548.64 608.70L549.04 608.83L549.44 608.31L549.84 607.79L550.24 608.76L550.64 607.97L551.05 608.92L551.45 609.10L551.85 607.72L552.25 608.58L552.65 608.58L553.05 608.22L553.45 608.07L553.85 607.04L554.25 607.40L554.66 607.18L555.06 608.72L555.46 608.84L555.86 608.86L556.26 608.96L556.66 607.46L557.06 608.21L557.46 608.80L557.86 607.22L558.26 607.70L558.67 607.52L559.07 608.95L559.47 608.87L559.87 608.12L560.27 607.90L560.67 609.20L561.07 608.72L561.47 608.26L561.87 608.31L562.28 608.64L562.68 606.54L563.08 608.48L563.48 608.94L563.88 608.75L564.28 608.87L564.68 609.10L565.08 607.70L565.48 608.35L565.89 607.72L566.29 608.52L566.69 608.51L567.09 608.68L567.49 607.21L567.89 608.80L568.29 608.64L568.69 608.85L569.09 608.57L569.50 609.30L569.90 609.38L570.30 609.27L570.70 607.10L571.10 608.39L571.50 608.43L571.90 608.28L572.30 608.43L572.70 609.15L573.10 608.42L573.51 608.52L573.91 609.07L574.31 608.92L574.71 607.99L575.11 609.42L575.51 608.64L575.91 607.57L576.31 608.91L576.71 606.63L577.12 607.94L577.52 608.75L577.92 608.52L578.32 608.05L578.72 609.06L579.12 608.97L579.52 608.97L579.92 608.94L580.32 609.16L580.73 607.71L581.13 608.65L581.53 609.07L581.93 608.64L582.33 608.78L582.73 608.88L583.13 609.37L583.53 609.32L583.93 608.85L584.33 607.77L584.74 607.74L585.14 608.56L585.54 607.51L585.94 607.36L586.34 604.99L586.74 606.01L587.14 607.21L587.54 607.88L587.94 608.48L588.35 606.60L588.75 607.78L589.15 608.38L589.55 607.39L589.95 608.67L590.35 608.55L590.75 607.67L591.15 607.17L591.55 606.67L591.96 608.93L592.36 607.53L592.76 607.94L593.16 608.84L593.56 608.37L593.96 608.85L594.36 608.81L594.76 608.66L595.16 608.17L595.56 608.80L595.97 607.61L596.37 608.56L596.77 609.33L597.17 609.61L597.57 609.16L597.97 609.34L598.37 609.01L598.77 608.91L599.17 608.25L599.58 608.30L599.98 607.32L600.38 607.74L600.78 607.12L601.18 607.45L601.58 609.14L601.98 609.22L602.38 608.15L602.78 607.81L603.19 608.21L603.59 604.29L603.99 606.15L604.39 608.32L604.79 608.05L605.19 608.39L605.59 608.49L605.99 608.70L606.39 607.70L606.79 607.37L607.20 608.08L607.60 606.34L608.00 607.94L608.40 608.88L608.80 608.05L609.20 606.64L609.60 608.28L610.00 608.71L610.40 608.02L610.81 608.34L611.21 608.57L611.61 608.95L612.01 608.00L612.41 607.99L612.81 608.48L613.21 609.13L613.61 608.11L614.01 609.04L614.42 608.13L614.82 608.91L615.22 608.63L615.62 607.70L616.02 608.62L616.42 608.74L616.82 609.17L617.22 608.87L617.62 609.37L618.02 609.43L618.43 608.61L618.83 608.51L619.23 608.86L619.63 607.90L620.03 609.07L620.43 608.51L620.83 608.64L621.23 609.17L621.63 608.64L622.04 607.44L622.44 608.58L622.84 608.31L623.24 609.13L623.64 608.78L624.04 608.23L624.44 608.01L624.84 608.75L625.24 608.99L625.65 609.08L626.05 608.96L626.45 608.03L626.85 607.60L627.25 607.48L627.65 608.62L628.05 608.85L628.45 608.82L628.85 608.25L629.25 608.24L629.66 608.25L630.06 608.93L630.46 608.91L630.86 608.48L631.26 609.23L631.66 607.28L632.06 609.16L632.46 607.70L632.86 609.38L633.27 608.90L633.67 609.67L634.07 607.85L634.47 609.50L634.87 609.56L634.87 611.90Z" fill="#2f5590"/>
<path d="M421.90 662.30L421.90 644.60L422.30 648.80L422.70 644.25L423.10 642.94L423.50 648.50L423.91 646.73L424.31 647.13L424.71 644.22L425.11 636.57L425.51 639.74L425.91 638.57L426.31 639.69L426.71 642.02L427.11 636.98L427.52 635.79L427.92 635.28L428.32 633.18L428.72 635.35L429.12 633.17L429.52 620.77L429.92 632.56L430.32 616.65L430.72 638.84L431.12 635.25L431.53 645.76L431.93 647.60L432.33 640.18L432.73 643.11L433.13 640.08L433.53 643.84L433.93 644.22L434.33 643.34L434.73 643.16L435.14 646.39L435.54 648.55L435.94 648.47L436.34 645.73L436.74 648.55L437.14 646.62L437.54 647.01L437.94 646.41L438.34 646.03L438.75 647.40L439.15 643.48L439.55 644.19L439.95 644.06L440.35 647.90L440.75 642.96L441.15 648.09L441.55 649.81L441.95 647.82L442.35 648.68L442.76 644.10L443.16 646.67L443.56 642.87L443.96 643.30L444.36 646.59L444.76 640.86L445.16 642.50L445.56 649.40L445.96 649.76L446.37 644.04L446.77 644.27L447.17 641.66L447.57 647.85L447.97 647.47L448.37 646.39L448.77 645.63L449.17 645.22L449.57 644.42L449.98 647.18L450.38 645.15L450.78 644.10L451.18 643.13L451.58 646.81L451.98 647.22L452.38 648.97L452.78 649.97L453.18 648.52L453.58 650.92L453.99 645.72L454.39 643.84L454.79 646.52L455.19 646.15L455.59 644.15L455.99 635.39L456.39 640.58L456.79 637.08L457.19 638.54L457.60 642.12L458.00 625.71L458.40 638.84L458.80 643.84L459.20 642.49L459.60 646.64L460.00 645.81L460.40 646.60L460.80 645.99L461.21 647.11L461.61 642.00L462.01 649.07L462.41 646.44L462.81 643.87L463.21 644.21L463.61 638.93L464.01 642.58L464.41 640.73L464.81 638.96L465.22 644.53L465.62 645.34L466.02 639.46L466.42 646.92L466.82 648.24L467.22 643.30L467.62 643.04L468.02 632.75L468.42 639.39L468.83 630.07L469.23 623.03L469.63 643.65L470.03 641.88L470.43 637.83L470.83 637.02L471.23 645.54L471.63 640.60L472.03 637.18L472.44 643.67L472.84 639.02L473.24 641.27L473.64 635.33L474.04 644.12L474.44 642.31L474.84 640.12L475.24 642.59L475.64 638.51L476.04 633.45L476.45 640.99L476.85 641.93L477.25 640.46L477.65 626.83L478.05 632.00L478.45 637.69L478.85 642.49L479.25 643.35L479.65 643.50L480.06 645.77L480.46 646.62L480.86 645.51L481.26 638.68L481.66 642.25L482.06 643.25L482.46 646.09L482.86 647.56L483.26 648.61L483.67 650.08L484.07 649.65L484.47 646.90L484.87 651.18L485.27 648.18L485.67 648.50L486.07 649.49L486.47 647.34L486.87 648.57L487.27 649.10L487.68 631.90L488.08 631.58L488.48 650.41L488.88 646.77L489.28 649.84L489.68 640.37L490.08 648.03L490.48 648.96L490.88 649.52L491.29 649.94L491.69 645.60L492.09 638.82L492.49 647.63L492.89 647.98L493.29 649.71L493.69 647.14L494.09 640.46L494.49 645.29L494.90 638.73L495.30 642.68L495.70 636.32L496.10 640.32L496.50 646.01L496.90 642.32L497.30 641.31L497.70 648.33L498.10 645.51L498.51 646.25L498.91 649.33L499.31 648.46L499.71 650.15L500.11 648.19L500.51 643.64L500.91 646.82L501.31 650.96L501.71 650.62L502.11 653.98L502.52 648.96L502.92 655.05L503.32 655.39L503.72 654.62L504.12 650.73L504.52 646.70L504.92 650.60L505.32 642.21L505.72 649.28L506.13 644.89L506.53 639.87L506.93 633.05L507.33 648.80L507.73 645.83L508.13 648.45L508.53 649.21L508.93 650.54L509.33 649.04L509.74 646.76L510.14 644.88L510.54 643.38L510.94 644.76L511.34 649.12L511.74 643.58L512.14 646.69L512.54 646.38L512.94 645.19L513.34 645.80L513.75 645.76L514.15 645.25L514.55 650.59L514.95 647.59L515.35 644.95L515.75 640.61L516.15 648.77L516.55 651.87L516.95 650.29L517.36 646.94L517.76 645.57L518.16 648.20L518.56 644.72L518.96 651.69L519.36 651.95L519.76 644.67L520.16 650.02L520.56 649.16L520.97 648.60L521.37 648.31L521.77 653.03L522.17 651.22L522.57 651.49L522.97 651.61L523.37 644.97L523.77 647.87L524.17 647.47L524.57 642.70L524.98 640.72L525.38 649.24L525.78 648.51L526.18 649.24L526.58 646.05L526.98 642.73L527.38 651.92L527.78 648.99L528.18 645.81L528.59 650.72L528.99 645.73L529.39 651.67L529.79 645.83L530.19 651.78L530.59 648.61L530.99 639.55L531.39 651.14L531.79 645.34L532.20 647.09L532.60 647.29L533.00 651.70L533.40 648.67L533.80 653.20L534.20 652.13L534.60 649.78L535.00 654.85L535.40 650.20L535.80 651.96L536.21 648.08L536.61 650.13L537.01 648.41L537.41 648.44L537.81 649.50L538.21 645.67L538.61 647.66L539.01 648.80L539.41 648.02L539.82 650.07L540.22 649.54L540.62 645.28L541.02 650.82L541.42 644.41L541.82 646.22L542.22 639.70L542.62 642.11L543.02 646.58L543.43 642.89L543.83 647.33L544.23 647.25L544.63 647.39L545.03 643.31L545.43 643.94L545.83 646.41L546.23 648.99L546.63 647.45L547.03 643.72L547.44 648.85L547.84 641.32L548.24 650.17L548.64 650.57L549.04 650.39L549.44 646.72L549.84 643.74L550.24 646.15L550.64 644.68L551.05 648.39L551.45 646.20L551.85 638.76L552.25 628.81L552.65 634.95L553.05 649.60L553.45 642.87L553.85 645.85L554.25 644.73L554.66 646.62L555.06 644.79L555.46 635.99L555.86 642.16L556.26 645.66L556.66 645.85L557.06 644.29L557.46 644.68L557.86 638.30L558.26 645.05L558.67 648.10L559.07 645.44L559.47 646.50L559.87 647.79L560.27 647.66L560.67 645.59L561.07 645.49L561.47 648.41L561.87 640.60L562.28 633.84L562.68 641.81L563.08 635.47L563.48 640.77L563.88 641.92L564.28 643.38L564.68 641.80L565.08 639.98L565.48 634.05L565.89 629.58L566.29 631.90L566.69 639.78L567.09 645.01L567.49 637.51L567.89 632.18L568.29 642.05L568.69 641.92L569.09 626.29L569.50 641.94L569.90 642.13L570.30 642.27L570.70 645.38L571.10 642.34L571.50 649.85L571.90 645.25L572.30 647.75L572.70 647.72L573.10 644.75L573.51 647.19L573.91 646.11L574.31 646.95L574.71 648.05L575.11 647.32L575.51 643.47L575.91 648.88L576.31 644.16L576.71 643.37L577.12 643.86L577.52 639.48L577.92 643.93L578.32 649.86L578.72 650.82L579.12 647.95L579.52 640.70L579.92 636.73L580.32 643.10L580.73 641.07L581.13 641.70L581.53 646.60L581.93 641.02L582.33 642.58L582.73 638.92L583.13 638.71L583.53 637.16L583.93 640.59L584.33 641.62L584.74 642.31L585.14 646.32L585.54 643.63L585.94 639.85L586.34 631.00L586.74 639.01L587.14 639.93L587.54 647.48L587.94 650.32L588.35 646.44L588.75 639.68L589.15 633.83L589.55 647.01L589.95 645.40L590.35 641.72L590.75 646.66L591.15 644.87L591.55 645.57L591.96 640.95L592.36 645.18L592.76 642.68L593.16 642.39L593.56 637.44L593.96 643.15L594.36 646.89L594.76 646.79L595.16 647.49L595.56 638.95L595.97 641.96L596.37 636.67L596.77 639.40L597.17 643.20L597.57 636.11L597.97 645.16L598.37 642.60L598.77 646.09L599.17 647.25L599.58 649.51L599.98 646.97L600.38 642.78L600.78 637.02L601.18 642.86L601.58 640.88L601.98 633.48L602.38 640.01L602.78 642.02L603.19 643.46L603.59 643.51L603.99 647.76L604.39 640.87L604.79 641.31L605.19 629.37L605.59 636.79L605.99 628.69L606.39 633.19L606.79 643.69L607.20 641.50L607.60 640.10L608.00 644.92L608.40 643.29L608.80 639.80L609.20 640.25L609.60 643.29L610.00 642.52L610.40 633.18L610.81 642.25L611.21 643.65L611.61 642.28L612.01 649.49L612.41 645.43L612.81 646.66L613.21 643.11L613.61 643.25L614.01 643.65L614.42 636.83L614.82 639.67L615.22 645.48L615.62 643.75L616.02 645.77L616.42 644.32L616.82 646.94L617.22 644.83L617.62 637.01L618.02 644.83L618.43 646.10L618.83 634.39L619.23 648.27L619.63 648.31L620.03 644.70L620.43 648.48L620.83 637.18L621.23 624.00L621.63 641.07L622.04 639.93L622.44 645.04L622.84 633.90L623.24 643.40L623.64 637.01L624.04 627.10L624.44 643.15L624.84 640.35L625.24 641.94L625.65 644.68L626.05 647.14L626.45 644.68L626.85 645.83L627.25 650.66L627.65 637.79L628.05 648.39L628.45 643.61L628.85 643.22L629.25 645.77L629.66 646.60L630.06 648.49L630.46 646.84L630.86 646.20L631.26 647.65L631.66 646.08L632.06 645.60L632.46 641.96L632.86 636.68L633.27 644.89L633.67 643.59L634.07 646.29L634.47 644.82L634.87 646.79L634.87 662.30Z" fill="#3d63a1"/>
<rect x="421.90" y="667.00" width="212.97" height="7.15" fill="#96acd0"/>
<rect x="421.90" y="674.15" width="212.97" height="7.15" fill="#a0b5d8"/>
<rect x="421.90" y="667.00" width="0.90" height="7.15" fill="#8aa2c8"/><rect x="423.82" y="667.00" width="1.81" height="7.15" fill="#a6badc"/><rect x="427.36" y="667.00" width="0.47" height="7.15" fill="#b1c3e0"/><rect x="427.83" y="667.00" width="2.46" height="7.15" fill="#7d93b8"/><rect x="432.25" y="667.00" width="1.16" height="7.15" fill="#a6badc"/><rect x="433.41" y="667.00" width="0.57" height="7.15" fill="#b1c3e0"/><rect x="433.99" y="667.00" width="0.96" height="7.15" fill="#8aa2c8"/><rect x="434.95" y="667.00" width="1.08" height="7.15" fill="#a6badc"/><rect x="437.64" y="667.00" width="0.40" height="7.15" fill="#7d93b8"/><rect x="441.69" y="667.00" width="0.56" height="7.15" fill="#b1c3e0"/><rect x="442.25" y="667.00" width="1.15" height="7.15" fill="#b1c3e0"/><rect x="445.88" y="667.00" width="1.96" height="7.15" fill="#8aa2c8"/><rect x="449.98" y="667.00" width="1.32" height="7.15" fill="#b1c3e0"/><rect x="451.29" y="667.00" width="0.77" height="7.15" fill="#b1c3e0"/><rect x="452.53" y="667.00" width="1.49" height="7.15" fill="#b1c3e0"/><rect x="454.02" y="667.00" width="0.88" height="7.15" fill="#8aa2c8"/><rect x="459.19" y="667.00" width="0.90" height="7.15" fill="#8aa2c8"/><rect x="462.57" y="667.00" width="1.43" height="7.15" fill="#7d93b8"/><rect x="463.99" y="667.00" width="2.14" height="7.15" fill="#7d93b8"/><rect x="466.14" y="667.00" width="2.26" height="7.15" fill="#8aa2c8"/><rect x="468.40" y="667.00" width="0.77" height="7.15" fill="#7d93b8"/><rect x="469.17" y="667.00" width="2.05" height="7.15" fill="#a6badc"/><rect x="471.22" y="667.00" width="0.43" height="7.15" fill="#a6badc"/><rect x="472.77" y="667.00" width="1.94" height="7.15" fill="#7d93b8"/><rect x="474.71" y="667.00" width="1.59" height="7.15" fill="#b1c3e0"/><rect x="476.30" y="667.00" width="2.42" height="7.15" fill="#b1c3e0"/><rect x="478.72" y="667.00" width="2.00" height="7.15" fill="#a6badc"/><rect x="480.73" y="667.00" width="1.49" height="7.15" fill="#7d93b8"/><rect x="482.22" y="667.00" width="1.93" height="7.15" fill="#a6badc"/><rect x="484.15" y="667.00" width="0.98" height="7.15" fill="#b1c3e0"/><rect x="486.94" y="667.00" width="0.92" height="7.15" fill="#8aa2c8"/><rect x="487.86" y="667.00" width="2.25" height="7.15" fill="#b1c3e0"/><rect x="491.88" y="667.00" width="2.05" height="7.15" fill="#7d93b8"/><rect x="493.93" y="667.00" width="1.71" height="7.15" fill="#8aa2c8"/><rect x="498.69" y="667.00" width="2.40" height="7.15" fill="#7d93b8"/><rect x="501.08" y="667.00" width="2.55" height="7.15" fill="#7d93b8"/><rect x="509.02" y="667.00" width="1.87" height="7.15" fill="#7d93b8"/><rect x="510.89" y="667.00" width="0.41" height="7.15" fill="#7d93b8"/><rect x="511.31" y="667.00" width="1.21" height="7.15" fill="#b1c3e0"/><rect x="512.99" y="667.00" width="0.81" height="7.15" fill="#8aa2c8"/><rect x="513.80" y="667.00" width="0.68" height="7.15" fill="#b1c3e0"/><rect x="514.47" y="667.00" width="0.99" height="7.15" fill="#b1c3e0"/><rect x="515.46" y="667.00" width="1.48" height="7.15" fill="#7d93b8"/><rect x="516.94" y="667.00" width="0.69" height="7.15" fill="#7d93b8"/><rect x="520.58" y="667.00" width="0.92" height="7.15" fill="#8aa2c8"/><rect x="521.50" y="667.00" width="2.57" height="7.15" fill="#a6badc"/><rect x="524.07" y="667.00" width="2.13" height="7.15" fill="#b1c3e0"/><rect x="526.20" y="667.00" width="2.34" height="7.15" fill="#b1c3e0"/><rect x="530.82" y="667.00" width="0.50" height="7.15" fill="#8aa2c8"/><rect x="531.32" y="667.00" width="0.74" height="7.15" fill="#8aa2c8"/><rect x="533.03" y="667.00" width="2.04" height="7.15" fill="#b1c3e0"/><rect x="535.08" y="667.00" width="0.89" height="7.15" fill="#a6badc"/><rect x="535.97" y="667.00" width="0.90" height="7.15" fill="#b1c3e0"/><rect x="539.64" y="667.00" width="0.72" height="7.15" fill="#7d93b8"/><rect x="540.36" y="667.00" width="1.76" height="7.15" fill="#7d93b8"/><rect x="542.12" y="667.00" width="2.29" height="7.15" fill="#b1c3e0"/><rect x="545.34" y="667.00" width="1.82" height="7.15" fill="#7d93b8"/><rect x="547.16" y="667.00" width="0.58" height="7.15" fill="#b1c3e0"/><rect x="547.74" y="667.00" width="0.46" height="7.15" fill="#8aa2c8"/><rect x="549.78" y="667.00" width="2.23" height="7.15" fill="#8aa2c8"/><rect x="552.01" y="667.00" width="2.35" height="7.15" fill="#8aa2c8"/><rect x="554.36" y="667.00" width="1.51" height="7.15" fill="#7d93b8"/><rect x="555.87" y="667.00" width="0.77" height="7.15" fill="#7d93b8"/><rect x="556.64" y="667.00" width="2.43" height="7.15" fill="#b1c3e0"/><rect x="561.27" y="667.00" width="1.50" height="7.15" fill="#b1c3e0"/><rect x="566.94" y="667.00" width="2.20" height="7.15" fill="#b1c3e0"/><rect x="569.68" y="667.00" width="0.43" height="7.15" fill="#b1c3e0"/><rect x="570.10" y="667.00" width="0.77" height="7.15" fill="#8aa2c8"/><rect x="570.87" y="667.00" width="1.40" height="7.15" fill="#7d93b8"/><rect x="572.27" y="667.00" width="1.47" height="7.15" fill="#a6badc"/><rect x="573.73" y="667.00" width="1.48" height="7.15" fill="#b1c3e0"/><rect x="575.96" y="667.00" width="1.04" height="7.15" fill="#8aa2c8"/><rect x="577.01" y="667.00" width="2.15" height="7.15" fill="#8aa2c8"/><rect x="580.45" y="667.00" width="1.71" height="7.15" fill="#8aa2c8"/><rect x="584.14" y="667.00" width="1.62" height="7.15" fill="#b1c3e0"/><rect x="585.76" y="667.00" width="2.26" height="7.15" fill="#b1c3e0"/><rect x="592.02" y="667.00" width="0.64" height="7.15" fill="#a6badc"/><rect x="592.66" y="667.00" width="2.07" height="7.15" fill="#b1c3e0"/><rect x="594.72" y="667.00" width="0.84" height="7.15" fill="#a6badc"/><rect x="598.66" y="667.00" width="2.36" height="7.15" fill="#7d93b8"/><rect x="601.02" y="667.00" width="0.99" height="7.15" fill="#8aa2c8"/><rect x="602.01" y="667.00" width="1.33" height="7.15" fill="#7d93b8"/><rect x="603.34" y="667.00" width="1.79" height="7.15" fill="#a6badc"/><rect x="605.13" y="667.00" width="0.87" height="7.15" fill="#a6badc"/><rect x="607.62" y="667.00" width="1.55" height="7.15" fill="#7d93b8"/><rect x="609.17" y="667.00" width="2.53" height="7.15" fill="#7d93b8"/><rect x="613.59" y="667.00" width="1.91" height="7.15" fill="#a6badc"/><rect x="616.18" y="667.00" width="0.59" height="7.15" fill="#7d93b8"/><rect x="619.67" y="667.00" width="2.01" height="7.15" fill="#8aa2c8"/><rect x="621.68" y="667.00" width="1.37" height="7.15" fill="#b1c3e0"/><rect x="623.05" y="667.00" width="2.16" height="7.15" fill="#b1c3e0"/><rect x="625.22" y="667.00" width="1.49" height="7.15" fill="#7d93b8"/><rect x="633.98" y="667.00" width="0.89" height="7.15" fill="#a6badc"/><rect x="421.90" y="674.15" width="0.93" height="7.15" fill="#7d93b8"/><rect x="424.66" y="674.15" width="1.05" height="7.15" fill="#b1c3e0"/><rect x="428.48" y="674.15" width="0.44" height="7.15" fill="#8aa2c8"/><rect x="428.92" y="674.15" width="1.87" height="7.15" fill="#8aa2c8"/><rect x="430.80" y="674.15" width="0.92" height="7.15" fill="#8aa2c8"/><rect x="435.02" y="674.15" width="0.50" height="7.15" fill="#b1c3e0"/><rect x="436.30" y="674.15" width="1.75" height="7.15" fill="#a6badc"/><rect x="440.81" y="674.15" width="1.96" height="7.15" fill="#a6badc"/><rect x="442.76" y="674.15" width="0.67" height="7.15" fill="#8aa2c8"/><rect x="443.43" y="674.15" width="1.66" height="7.15" fill="#b1c3e0"/><rect x="446.98" y="674.15" width="1.15" height="7.15" fill="#a6badc"/><rect x="448.13" y="674.15" width="0.56" height="7.15" fill="#b1c3e0"/><rect x="450.66" y="674.15" width="0.51" height="7.15" fill="#8aa2c8"/><rect x="451.17" y="674.15" width="0.83" height="7.15" fill="#b1c3e0"/><rect x="452.78" y="674.15" width="0.62" height="7.15" fill="#b1c3e0"/><rect x="455.66" y="674.15" width="2.47" height="7.15" fill="#a6badc"/><rect x="458.13" y="674.15" width="2.17" height="7.15" fill="#8aa2c8"/><rect x="460.30" y="674.15" width="1.09" height="7.15" fill="#b1c3e0"/><rect x="466.60" y="674.15" width="2.17" height="7.15" fill="#a6badc"/><rect x="468.77" y="674.15" width="2.24" height="7.15" fill="#7d93b8"/><rect x="471.01" y="674.15" width="1.71" height="7.15" fill="#b1c3e0"/><rect x="472.72" y="674.15" width="2.27" height="7.15" fill="#b1c3e0"/><rect x="482.28" y="674.15" width="2.24" height="7.15" fill="#7d93b8"/><rect x="484.52" y="674.15" width="1.90" height="7.15" fill="#b1c3e0"/><rect x="486.42" y="674.15" width="1.00" height="7.15" fill="#8aa2c8"/><rect x="490.55" y="674.15" width="1.02" height="7.15" fill="#8aa2c8"/><rect x="491.57" y="674.15" width="1.76" height="7.15" fill="#a6badc"/><rect x="493.32" y="674.15" width="2.28" height="7.15" fill="#7d93b8"/><rect x="497.36" y="674.15" width="0.88" height="7.15" fill="#7d93b8"/><rect x="498.24" y="674.15" width="1.71" height="7.15" fill="#b1c3e0"/><rect x="500.96" y="674.15" width="1.03" height="7.15" fill="#b1c3e0"/><rect x="501.99" y="674.15" width="1.06" height="7.15" fill="#b1c3e0"/><rect x="504.59" y="674.15" width="1.96" height="7.15" fill="#a6badc"/><rect x="506.55" y="674.15" width="2.16" height="7.15" fill="#7d93b8"/><rect x="509.53" y="674.15" width="1.34" height="7.15" fill="#b1c3e0"/><rect x="511.27" y="674.15" width="1.74" height="7.15" fill="#a6badc"/><rect x="513.01" y="674.15" width="1.95" height="7.15" fill="#a6badc"/><rect x="514.96" y="674.15" width="1.41" height="7.15" fill="#b1c3e0"/><rect x="518.52" y="674.15" width="2.05" height="7.15" fill="#7d93b8"/><rect x="520.57" y="674.15" width="2.49" height="7.15" fill="#8aa2c8"/><rect x="523.06" y="674.15" width="0.60" height="7.15" fill="#b1c3e0"/><rect x="523.66" y="674.15" width="1.84" height="7.15" fill="#8aa2c8"/><rect x="525.50" y="674.15" width="1.07" height="7.15" fill="#a6badc"/><rect x="526.56" y="674.15" width="1.99" height="7.15" fill="#8aa2c8"/><rect x="530.33" y="674.15" width="1.79" height="7.15" fill="#b1c3e0"/><rect x="532.12" y="674.15" width="0.54" height="7.15" fill="#7d93b8"/><rect x="534.92" y="674.15" width="2.57" height="7.15" fill="#a6badc"/><rect x="537.49" y="674.15" width="1.93" height="7.15" fill="#8aa2c8"/><rect x="540.22" y="674.15" width="1.52" height="7.15" fill="#b1c3e0"/><rect x="541.74" y="674.15" width="2.33" height="7.15" fill="#a6badc"/><rect x="544.94" y="674.15" width="1.00" height="7.15" fill="#8aa2c8"/><rect x="545.94" y="674.15" width="1.24" height="7.15" fill="#a6badc"/><rect x="550.62" y="674.15" width="0.62" height="7.15" fill="#8aa2c8"/><rect x="551.24" y="674.15" width="1.49" height="7.15" fill="#b1c3e0"/><rect x="552.73" y="674.15" width="1.34" height="7.15" fill="#8aa2c8"/><rect x="554.08" y="674.15" width="1.28" height="7.15" fill="#7d93b8"/><rect x="555.36" y="674.15" width="1.57" height="7.15" fill="#8aa2c8"/><rect x="556.93" y="674.15" width="1.93" height="7.15" fill="#7d93b8"/><rect x="558.86" y="674.15" width="1.99" height="7.15" fill="#b1c3e0"/><rect x="562.68" y="674.15" width="0.51" height="7.15" fill="#a6badc"/><rect x="563.19" y="674.15" width="1.25" height="7.15" fill="#a6badc"/><rect x="571.36" y="674.15" width="2.02" height="7.15" fill="#8aa2c8"/><rect x="575.67" y="674.15" width="2.07" height="7.15" fill="#7d93b8"/><rect x="577.75" y="674.15" width="1.23" height="7.15" fill="#a6badc"/><rect x="578.97" y="674.15" width="2.51" height="7.15" fill="#a6badc"/><rect x="584.25" y="674.15" width="1.76" height="7.15" fill="#a6badc"/><rect x="586.01" y="674.15" width="1.49" height="7.15" fill="#8aa2c8"/><rect x="589.48" y="674.15" width="2.42" height="7.15" fill="#b1c3e0"/><rect x="591.89" y="674.15" width="2.37" height="7.15" fill="#a6badc"/><rect x="594.26" y="674.15" width="1.55" height="7.15" fill="#8aa2c8"/><rect x="597.29" y="674.15" width="0.82" height="7.15" fill="#8aa2c8"/><rect x="598.11" y="674.15" width="0.67" height="7.15" fill="#7d93b8"/><rect x="598.79" y="674.15" width="0.40" height="7.15" fill="#7d93b8"/><rect x="601.29" y="674.15" width="1.10" height="7.15" fill="#8aa2c8"/><rect x="605.39" y="674.15" width="2.46" height="7.15" fill="#8aa2c8"/><rect x="607.85" y="674.15" width="2.58" height="7.15" fill="#8aa2c8"/><rect x="611.79" y="674.15" width="1.51" height="7.15" fill="#b1c3e0"/><rect x="615.39" y="674.15" width="1.63" height="7.15" fill="#8aa2c8"/><rect x="619.35" y="674.15" width="2.28" height="7.15" fill="#b1c3e0"/><rect x="621.64" y="674.15" width="1.99" height="7.15" fill="#b1c3e0"/><rect x="626.81" y="674.15" width="1.10" height="7.15" fill="#b1c3e0"/><rect x="627.91" y="674.15" width="0.57" height="7.15" fill="#a6badc"/><rect x="628.49" y="674.15" width="2.50" height="7.15" fill="#b1c3e0"/><rect x="632.39" y="674.15" width="1.77" height="7.15" fill="#8aa2c8"/><rect x="427.02" y="674.15" width="0.71" height="7.15" fill="#566f9c" fill-opacity="0.35"/><rect x="428.12" y="667.00" width="0.78" height="14.30" fill="#566f9c" fill-opacity="0.45"/><rect x="428.84" y="667.00" width="0.31" height="14.30" fill="#566f9c" fill-opacity="0.25"/><rect x="432.05" y="674.15" width="0.72" height="7.15" fill="#566f9c" fill-opacity="0.28"/><rect x="437.02" y="674.15" width="0.31" height="7.15" fill="#566f9c" fill-opacity="0.51"/><rect x="437.83" y="674.15" width="0.47" height="7.15" fill="#566f9c" fill-opacity="0.29"/><rect x="440.57" y="674.15" width="0.30" height="7.15" fill="#566f9c" fill-opacity="0.28"/><rect x="441.53" y="667.00" width="0.34" height="14.30" fill="#566f9c" fill-opacity="0.31"/><rect x="442.16" y="667.00" width="0.55" height="14.30" fill="#566f9c" fill-opacity="0.39"/><rect x="444.89" y="674.15" width="0.61" height="7.15" fill="#566f9c" fill-opacity="0.37"/><rect x="446.48" y="667.00" width="0.77" height="14.30" fill="#566f9c" fill-opacity="0.43"/><rect x="447.21" y="674.15" width="0.32" height="7.15" fill="#566f9c" fill-opacity="0.47"/><rect x="448.96" y="667.00" width="0.41" height="7.15" fill="#566f9c" fill-opacity="0.26"/><rect x="450.22" y="674.15" width="0.76" height="7.15" fill="#566f9c" fill-opacity="0.36"/><rect x="453.15" y="667.00" width="0.71" height="14.30" fill="#566f9c" fill-opacity="0.33"/><rect x="454.55" y="667.00" width="0.45" height="7.15" fill="#566f9c" fill-opacity="0.45"/><rect x="459.59" y="674.15" width="0.55" height="7.15" fill="#566f9c" fill-opacity="0.51"/><rect x="460.59" y="667.00" width="0.66" height="7.15" fill="#566f9c" fill-opacity="0.43"/><rect x="460.62" y="667.00" width="0.79" height="7.15" fill="#566f9c" fill-opacity="0.27"/><rect x="464.22" y="667.00" width="0.30" height="7.15" fill="#566f9c" fill-opacity="0.51"/><rect x="464.45" y="667.00" width="0.46" height="14.30" fill="#566f9c" fill-opacity="0.43"/><rect x="464.95" y="674.15" width="0.31" height="7.15" fill="#566f9c" fill-opacity="0.43"/><rect x="467.32" y="667.00" width="0.53" height="14.30" fill="#566f9c" fill-opacity="0.26"/><rect x="468.72" y="667.00" width="0.35" height="14.30" fill="#566f9c" fill-opacity="0.36"/><rect x="469.23" y="674.15" width="0.34" height="7.15" fill="#566f9c" fill-opacity="0.28"/><rect x="472.13" y="674.15" width="0.71" height="7.15" fill="#566f9c" fill-opacity="0.45"/><rect x="472.40" y="674.15" width="0.38" height="7.15" fill="#566f9c" fill-opacity="0.25"/><rect x="474.11" y="667.00" width="0.55" height="14.30" fill="#566f9c" fill-opacity="0.48"/><rect x="474.24" y="674.15" width="0.47" height="7.15" fill="#566f9c" fill-opacity="0.55"/><rect x="476.16" y="667.00" width="0.38" height="14.30" fill="#566f9c" fill-opacity="0.44"/><rect x="476.88" y="667.00" width="0.53" height="7.15" fill="#566f9c" fill-opacity="0.51"/><rect x="483.90" y="667.00" width="0.55" height="14.30" fill="#566f9c" fill-opacity="0.27"/><rect x="485.70" y="667.00" width="0.68" height="7.15" fill="#566f9c" fill-opacity="0.33"/><rect x="485.87" y="667.00" width="0.40" height="7.15" fill="#566f9c" fill-opacity="0.32"/><rect x="487.44" y="667.00" width="0.43" height="7.15" fill="#566f9c" fill-opacity="0.43"/><rect x="496.81" y="667.00" width="0.70" height="14.30" fill="#566f9c" fill-opacity="0.45"/><rect x="497.81" y="667.00" width="0.46" height="7.15" fill="#566f9c" fill-opacity="0.52"/><rect x="504.56" y="667.00" width="0.55" height="7.15" fill="#566f9c" fill-opacity="0.36"/><rect x="506.00" y="667.00" width="0.33" height="7.15" fill="#566f9c" fill-opacity="0.53"/><rect x="507.00" y="667.00" width="0.36" height="7.15" fill="#566f9c" fill-opacity="0.48"/><rect x="507.04" y="667.00" width="0.74" height="14.30" fill="#566f9c" fill-opacity="0.28"/><rect x="507.41" y="674.15" width="0.69" height="7.15" fill="#566f9c" fill-opacity="0.30"/><rect x="510.35" y="667.00" width="0.53" height="7.15" fill="#566f9c" fill-opacity="0.29"/><rect x="510.68" y="667.00" width="0.61" height="14.30" fill="#566f9c" fill-opacity="0.55"/><rect x="511.84" y="674.15" width="0.80" height="7.15" fill="#566f9c" fill-opacity="0.43"/><rect x="511.98" y="674.15" width="0.65" height="7.15" fill="#566f9c" fill-opacity="0.53"/><rect x="512.56" y="674.15" width="0.65" height="7.15" fill="#566f9c" fill-opacity="0.36"/><rect x="518.21" y="667.00" width="0.40" height="7.15" fill="#566f9c" fill-opacity="0.50"/><rect x="519.44" y="667.00" width="0.57" height="7.15" fill="#566f9c" fill-opacity="0.30"/><rect x="519.49" y="674.15" width="0.44" height="7.15" fill="#566f9c" fill-opacity="0.54"/><rect x="520.02" y="674.15" width="0.41" height="7.15" fill="#566f9c" fill-opacity="0.51"/><rect x="522.25" y="667.00" width="0.37" height="7.15" fill="#566f9c" fill-opacity="0.53"/><rect x="523.41" y="667.00" width="0.49" height="14.30" fill="#566f9c" fill-opacity="0.46"/><rect x="523.80" y="667.00" width="0.60" height="7.15" fill="#566f9c" fill-opacity="0.52"/><rect x="524.49" y="667.00" width="0.35" height="7.15" fill="#566f9c" fill-opacity="0.28"/><rect x="525.25" y="667.00" width="0.63" height="14.30" fill="#566f9c" fill-opacity="0.49"/><rect x="529.98" y="667.00" width="0.34" height="7.15" fill="#566f9c" fill-opacity="0.44"/><rect x="532.10" y="667.00" width="0.47" height="7.15" fill="#566f9c" fill-opacity="0.27"/><rect x="539.71" y="667.00" width="0.48" height="7.15" fill="#566f9c" fill-opacity="0.44"/><rect x="543.30" y="667.00" width="0.44" height="7.15" fill="#566f9c" fill-opacity="0.49"/><rect x="546.46" y="667.00" width="0.53" height="14.30" fill="#566f9c" fill-opacity="0.45"/><rect x="547.47" y="667.00" width="0.76" height="7.15" fill="#566f9c" fill-opacity="0.49"/><rect x="548.88" y="667.00" width="0.39" height="14.30" fill="#566f9c" fill-opacity="0.32"/><rect x="550.07" y="674.15" width="0.53" height="7.15" fill="#566f9c" fill-opacity="0.39"/><rect x="553.81" y="667.00" width="0.34" height="7.15" fill="#566f9c" fill-opacity="0.32"/><rect x="558.92" y="667.00" width="0.73" height="14.30" fill="#566f9c" fill-opacity="0.37"/><rect x="559.25" y="674.15" width="0.33" height="7.15" fill="#566f9c" fill-opacity="0.26"/><rect x="560.30" y="667.00" width="0.36" height="14.30" fill="#566f9c" fill-opacity="0.42"/><rect x="560.61" y="667.00" width="0.49" height="14.30" fill="#566f9c" fill-opacity="0.32"/><rect x="560.84" y="667.00" width="0.49" height="7.15" fill="#566f9c" fill-opacity="0.28"/><rect x="563.61" y="667.00" width="0.51" height="14.30" fill="#566f9c" fill-opacity="0.31"/><rect x="564.84" y="667.00" width="0.48" height="7.15" fill="#566f9c" fill-opacity="0.48"/><rect x="564.95" y="674.15" width="0.31" height="7.15" fill="#566f9c" fill-opacity="0.27"/><rect x="565.46" y="674.15" width="0.72" height="7.15" fill="#566f9c" fill-opacity="0.54"/><rect x="565.49" y="667.00" width="0.64" height="14.30" fill="#566f9c" fill-opacity="0.32"/><rect x="568.57" y="667.00" width="0.72" height="7.15" fill="#566f9c" fill-opacity="0.32"/><rect x="571.37" y="667.00" width="0.68" height="7.15" fill="#566f9c" fill-opacity="0.54"/><rect x="572.79" y="674.15" width="0.61" height="7.15" fill="#566f9c" fill-opacity="0.35"/><rect x="576.54" y="674.15" width="0.67" height="7.15" fill="#566f9c" fill-opacity="0.52"/><rect x="581.70" y="667.00" width="0.40" height="7.15" fill="#566f9c" fill-opacity="0.52"/><rect x="582.59" y="667.00" width="0.71" height="7.15" fill="#566f9c" fill-opacity="0.45"/><rect x="583.07" y="667.00" width="0.30" height="7.15" fill="#566f9c" fill-opacity="0.35"/><rect x="584.33" y="674.15" width="0.55" height="7.15" fill="#566f9c" fill-opacity="0.48"/><rect x="585.80" y="667.00" width="0.74" height="7.15" fill="#566f9c" fill-opacity="0.36"/><rect x="586.09" y="667.00" width="0.33" height="14.30" fill="#566f9c" fill-opacity="0.37"/><rect x="590.95" y="667.00" width="0.65" height="14.30" fill="#566f9c" fill-opacity="0.50"/><rect x="595.08" y="674.15" width="0.54" height="7.15" fill="#566f9c" fill-opacity="0.54"/><rect x="598.01" y="674.15" width="0.52" height="7.15" fill="#566f9c" fill-opacity="0.49"/><rect x="601.12" y="667.00" width="0.33" height="14.30" fill="#566f9c" fill-opacity="0.47"/><rect x="601.48" y="667.00" width="0.56" height="7.15" fill="#566f9c" fill-opacity="0.49"/><rect x="601.95" y="667.00" width="0.36" height="7.15" fill="#566f9c" fill-opacity="0.33"/><rect x="604.48" y="674.15" width="0.80" height="7.15" fill="#566f9c" fill-opacity="0.48"/><rect x="608.81" y="667.00" width="0.62" height="7.15" fill="#566f9c" fill-opacity="0.41"/><rect x="620.58" y="667.00" width="0.76" height="14.30" fill="#566f9c" fill-opacity="0.53"/><rect x="621.81" y="667.00" width="0.63" height="7.15" fill="#566f9c" fill-opacity="0.48"/><rect x="622.02" y="667.00" width="0.76" height="14.30" fill="#566f9c" fill-opacity="0.38"/><rect x="622.23" y="667.00" width="0.51" height="7.15" fill="#566f9c" fill-opacity="0.49"/><rect x="622.28" y="667.00" width="0.50" height="7.15" fill="#566f9c" fill-opacity="0.29"/><rect x="624.85" y="674.15" width="0.53" height="7.15" fill="#566f9c" fill-opacity="0.44"/><rect x="627.12" y="674.15" width="0.60" height="7.15" fill="#566f9c" fill-opacity="0.45"/><rect x="628.15" y="674.15" width="0.51" height="7.15" fill="#566f9c" fill-opacity="0.52"/><rect x="628.16" y="674.15" width="0.44" height="7.15" fill="#566f9c" fill-opacity="0.32"/><rect x="629.68" y="674.15" width="0.58" height="7.15" fill="#566f9c" fill-opacity="0.53"/><rect x="632.35" y="667.00" width="0.79" height="14.30" fill="#566f9c" fill-opacity="0.52"/><rect x="633.62" y="674.15" width="0.80" height="7.15" fill="#566f9c" fill-opacity="0.53"/><rect x="427.51" y="667.00" width="0.47" height="14.30" fill="#fff" fill-opacity="0.64"/><rect x="431.13" y="667.00" width="0.59" height="14.30" fill="#fff" fill-opacity="0.60"/><rect x="453.84" y="667.00" width="0.48" height="14.30" fill="#fff" fill-opacity="0.86"/><rect x="465.87" y="667.00" width="0.46" height="14.30" fill="#fff" fill-opacity="0.68"/><rect x="468.82" y="667.00" width="0.70" height="14.30" fill="#fff" fill-opacity="0.58"/><rect x="470.72" y="667.00" width="0.42" height="14.30" fill="#fff" fill-opacity="0.82"/><rect x="477.51" y="667.00" width="0.50" height="14.30" fill="#fff" fill-opacity="0.84"/><rect x="485.05" y="667.00" width="0.58" height="14.30" fill="#fff" fill-opacity="0.78"/><rect x="534.44" y="667.00" width="0.71" height="14.30" fill="#fff" fill-opacity="0.85"/><rect x="534.57" y="667.00" width="0.43" height="14.30" fill="#fff" fill-opacity="0.68"/><rect x="537.61" y="667.00" width="0.55" height="14.30" fill="#fff" fill-opacity="0.61"/><rect x="540.56" y="667.00" width="0.78" height="14.30" fill="#fff" fill-opacity="0.56"/><rect x="545.11" y="667.00" width="0.58" height="14.30" fill="#fff" fill-opacity="0.54"/><rect x="559.35" y="667.00" width="0.45" height="14.30" fill="#fff" fill-opacity="0.72"/><rect x="559.51" y="667.00" width="0.44" height="14.30" fill="#fff" fill-opacity="0.79"/><rect x="565.24" y="667.00" width="0.42" height="14.30" fill="#fff" fill-opacity="0.79"/><rect x="566.86" y="667.00" width="0.55" height="14.30" fill="#fff" fill-opacity="0.81"/><rect x="576.29" y="667.00" width="0.46" height="14.30" fill="#fff" fill-opacity="0.73"/><rect x="580.61" y="667.00" width="0.53" height="14.30" fill="#fff" fill-opacity="0.87"/><rect x="595.50" y="667.00" width="0.44" height="14.30" fill="#fff" fill-opacity="0.60"/><rect x="602.05" y="667.00" width="0.62" height="14.30" fill="#fff" fill-opacity="0.64"/><rect x="605.98" y="667.00" width="0.65" height="14.30" fill="#fff" fill-opacity="0.61"/><rect x="616.47" y="667.00" width="0.42" height="14.30" fill="#fff" fill-opacity="0.53"/><rect x="633.37" y="667.00" width="0.56" height="14.30" fill="#fff" fill-opacity="0.74"/>
<text transform="translate(405.7 614.3) scale(1.05 1)" text-anchor="end" font-family="Liberation Sans, sans-serif" font-size="6.9px" fill="#666">0.0000</text>
<text transform="translate(405.7 603.2) scale(1.05 1)" text-anchor="end" font-family="Liberation Sans, sans-serif" font-size="6.9px" fill="#666">0.0025</text>
<text transform="translate(405.7 592.1) scale(1.05 1)" text-anchor="end" font-family="Liberation Sans, sans-serif" font-size="6.9px" fill="#666">0.0050</text>
<text transform="translate(405.7 581.0) scale(1.05 1)" text-anchor="end" font-family="Liberation Sans, sans-serif" font-size="6.9px" fill="#666">0.0075</text>
<text transform="translate(405.7 569.9) scale(1.05 1)" text-anchor="end" font-family="Liberation Sans, sans-serif" font-size="6.9px" fill="#666">0.0100</text>
<text x="405.7" y="664.7" text-anchor="end" font-family="Liberation Sans, sans-serif" font-size="6.9px" fill="#666">0.0</text>
<text x="405.7" y="652.0" text-anchor="end" font-family="Liberation Sans, sans-serif" font-size="6.9px" fill="#666">0.1</text>
<text x="405.7" y="639.4" text-anchor="end" font-family="Liberation Sans, sans-serif" font-size="6.9px" fill="#666">0.2</text>
<text x="405.7" y="626.7" text-anchor="end" font-family="Liberation Sans, sans-serif" font-size="6.9px" fill="#666">0.3</text>
<text x="421.9" y="691.8" text-anchor="middle" font-family="Liberation Sans, sans-serif" font-size="6.9px" fill="#666">0</text>
<text x="467.7" y="691.8" text-anchor="middle" font-family="Liberation Sans, sans-serif" font-size="6.9px" fill="#666">10</text>
<text x="513.5" y="691.8" text-anchor="middle" font-family="Liberation Sans, sans-serif" font-size="6.9px" fill="#666">20</text>
<text x="559.3" y="691.8" text-anchor="middle" font-family="Liberation Sans, sans-serif" font-size="6.9px" fill="#666">30</text>
<text x="605.1" y="691.8" text-anchor="middle" font-family="Liberation Sans, sans-serif" font-size="6.9px" fill="#666">40</text>
<text x="650.9" y="691.8" text-anchor="middle" font-family="Liberation Sans, sans-serif" font-size="6.9px" fill="#666">50</text>
<path d="M409.3 565.7V613.5M409.3 615.9V663.9M409.3 611.9h-1.6M409.3 600.8h-1.6M409.3 589.7h-1.6M409.3 578.6h-1.6M409.3 567.5h-1.6M409.3 662.3h-1.6M409.3 649.6h-1.6M409.3 637.0h-1.6M409.3 624.3h-1.6M409.3 681.9H676.1M421.9 681.9v1.6M467.7 681.9v1.6M513.5 681.9v1.6M559.3 681.9v1.6M605.1 681.9v1.6M650.9 681.9v1.6" stroke="#222" stroke-width="0.9" fill="none"/>
<text transform="translate(376.0 588.7) scale(1.22 1) rotate(-90)" text-anchor="middle" font-family="Liberation Sans, sans-serif" font-weight="bold" font-size="6.6px" fill="#111">π</text>
<text transform="translate(375.4 638.7) scale(1.22 1) rotate(-90)" text-anchor="middle" font-family="Liberation Sans, sans-serif" font-weight="bold" font-size="7.4px" fill="#111">F<tspan font-size="4.6px" dy="2.2">ST</tspan></text>
<text transform="translate(361.5 617.2) scale(1.22 1) rotate(-90)" text-anchor="middle" font-family="Liberation Sans, sans-serif" font-weight="bold" font-size="8.65px" fill="#111">Chromosome X</text>
<text x="343.6" y="566.0" font-family="Liberation Sans, sans-serif" font-weight="bold" font-size="19px" fill="#111">h</text>
<text x="184.2" y="709.2" text-anchor="middle" font-family="Liberation Sans, sans-serif" font-weight="bold" font-size="8.1px" fill="#1a1a1a">Genomic position (Mbp)</text>
<text x="528.3" y="709.2" text-anchor="middle" font-family="Liberation Sans, sans-serif" font-weight="bold" font-size="8.1px" fill="#1a1a1a">Genomic position (Mbp)</text>
</svg></body></html>
